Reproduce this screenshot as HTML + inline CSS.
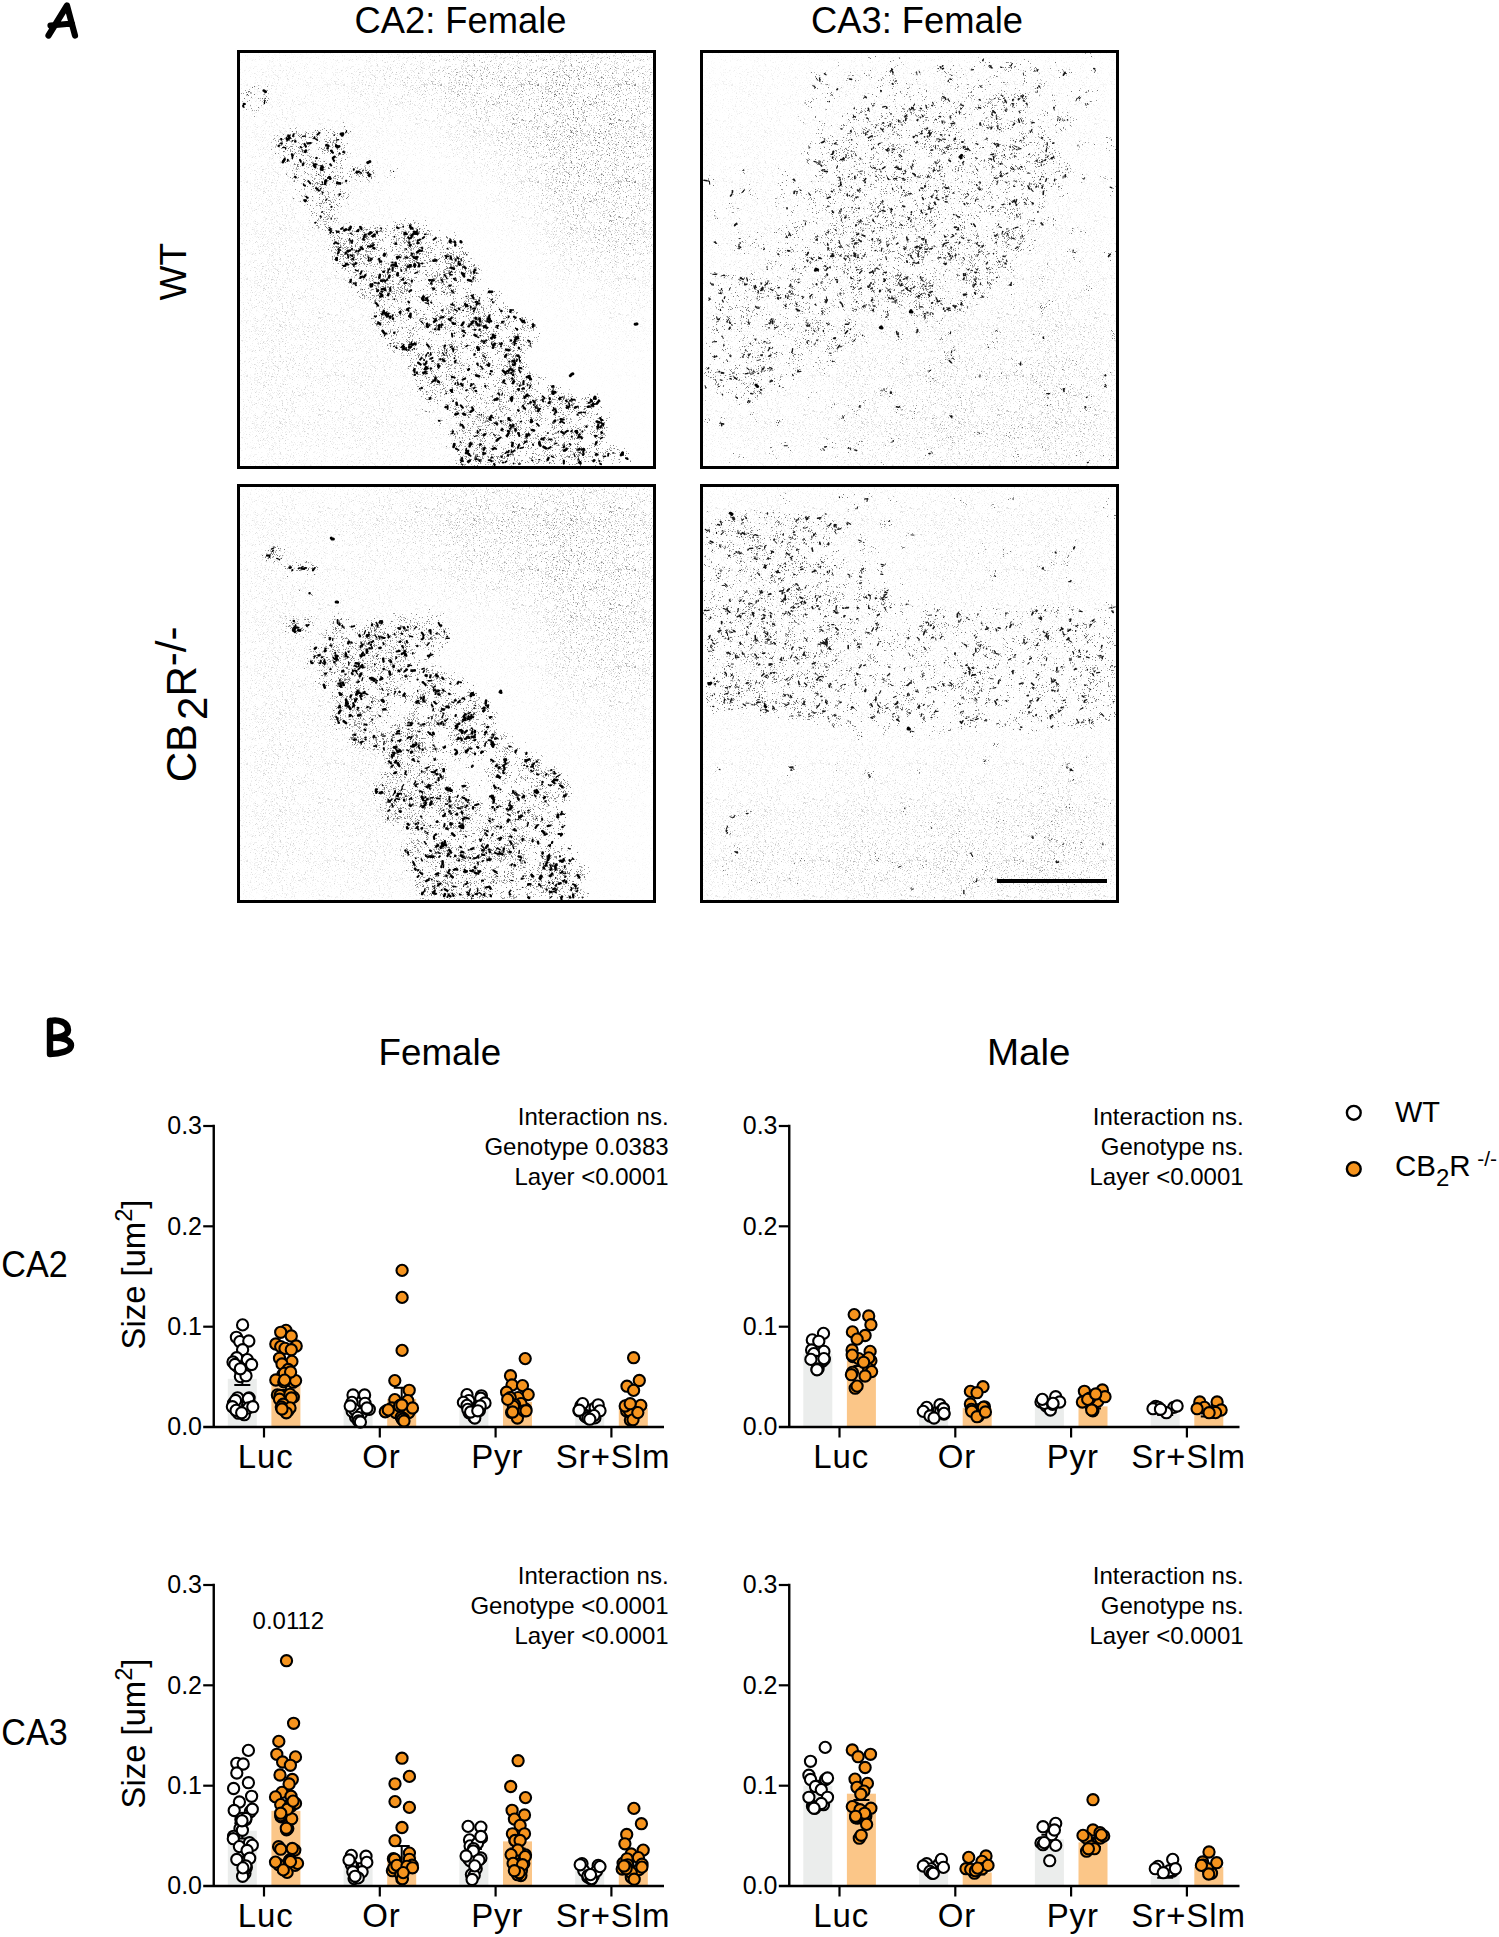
<!DOCTYPE html><html><head><meta charset="utf-8"><style>html,body{margin:0;padding:0;background:#fff;overflow:hidden;}svg{display:block;}text{font-family:"Liberation Sans", sans-serif;fill:#000;}</style></head><body>
<svg width="1499" height="1937" viewBox="0 0 1499 1937">
<rect width="1499" height="1937" fill="#fff"/>
<defs><filter id="bl" x="-10%" y="-10%" width="120%" height="120%"><feGaussianBlur stdDeviation="16"/></filter><pattern id="sp" width="97" height="97" patternUnits="userSpaceOnUse"><path d="M12.5 1.5h0m41 0h0m10 0h0m1 0h0m5 0h0m5-1h0m0 1h0m6-1h0m2 0h0m3 0h0m5 0h0m1 0h0m2 1h0m0-1h0m3 0h0m-85 5h0m7-3h0m0 3h0m2 0h0m2-3h0m3 2h0m4-2h0m8 0h0m1 0h0m1 3h0m13-3h0m1 1h0m7 0h0m2-1h0m0 2h0m2 0h0m3 0h0m2 1h0m15-3h0m2 0h0m5 0h0m2 2h0m-93 5h0m4 0h0m1-1h0m3 0h0m3-2h0m1 3h0m2-1h0m5 1h0m2 0h0m9-2h0m13-1h0m1 1h0m0 1h0m10 1h0m1 0h0m2 0h0m3-2h0m4 2h0m4-2h0m1 2h0m4-1h0m1-2h0m2 0h0m1 2h0m1 0h0m4 0h0m1-2h0m1 1h0m2 2h0m6-2h0m0 2h0m1 0h0m-93 4h0m2-3h0m3 0h0m4 2h0m6 0h0m0-1h0m1 1h0m4 1h0m2-3h0m1 3h0m2 0h0m8-3h0m7 1h0m1 1h0m7-1h0m3 0h0m3 0h0m2 1h0m13-2h0m6 1h0m4 2h0m1-1h0m1-2h0m1 2h0m11 0h0m2-1h0m1 0h0m-96 3h0m4 0h0m3 2h0m1 0h0m3-1h0m2-1h0m2 0h0m1 3h0m3 0h0m4-1h0m2 0h0m2-1h0m1 1h0m5-2h0m3 2h0m4-1h0m0-1h0m5 3h0m1-3h0m1 1h0m5 1h0m4 1h0m1-2h0m1-1h0m1 2h0m4 1h0m1-2h0m2-1h0m1 2h0m4-1h0m5 2h0m2 0h0m15-2h0m1-1h0m1 3h0m-95 3h0m2 1h0m5-1h0m4 1h0m0-3h0m7 0h0m5 1h0m2 0h0m5-1h0m3 3h0m2-3h0m3 2h0m6-1h0m9 2h0m2-2h0m0 2h0m1-3h0m6 0h0m0 2h0m1-1h0m1 1h0m1 1h0m2-3h0m5 0h0m3 3h0m2-1h0m2-2h0m2 0h0m8 0h0m1 3h0m-87 4h0m0-1h0m7-1h0m2-1h0m9 3h0m2 0h0m1-2h0m2 2h0m6-1h0m7-1h0m2 0h0m3 2h0m3-1h0m5 1h0m3-3h0m0 1h0m2-1h0m1 0h0m10 2h0m3-1h0m1 2h0m1-1h0m1 1h0m8-3h0m3 3h0m8 0h0m2-1h0m-94 4h0m2-1h0m1 1h0m2-1h0m0 1h0m1 0h0m3-2h0m7 0h0m5 3h0m0-2h0m2 1h0m8-2h0m5 0h0m9 0h0m3 3h0m10-1h0m1-1h0m5 2h0m2-2h0m2 1h0m1-2h0m1 1h0m3 1h0m2-2h0m1 0h0m0 1h0m10 0h0m7-1h0m-85 4h0m2 0h0m1 0h0m3 2h0m4-2h0m9 2h0m0-1h0m1 1h0m4 1h0m4-1h0m3 0h0m3-1h0m1 1h0m2 0h0m2 1h0m3 0h0m2-1h0m1 0h0m2 1h0m3 0h0m0-2h0m7 0h0m1 2h0m1 0h0m5-2h0m1 2h0m1 0h0m3-1h0m4 0h0m3 0h0m1 1h0m3-3h0m2 1h0m-91 5h0m1 1h0m1 0h0m0-1h0m2-2h0m1 3h0m14-2h0m2 2h0m0-2h0m1 1h0m0-2h0m10 3h0m1-1h0m4 1h0m0-1h0m2 0h0m6-2h0m12 1h0m6 2h0m1-1h0m3 1h0m10-1h0m0-1h0m5-1h0m3 0h0m3 1h0m3 0h0m1 2h0m3-3h0m1 3h0m-96 2h0m5 0h0m0 1h0m0-2h0m1 2h0m10 0h0m3-1h0m3 2h0m1-2h0m5-1h0m1 3h0m0-2h0m4 2h0m8 0h0m3 0h0m1-3h0m2 1h0m4 1h0m1-1h0m3 2h0m8-3h0m4 0h0m0 1h0m1 0h0m9-1h0m2 3h0m4-1h0m1-1h0m6 0h0m2 1h0m0-2h0m1 0h0m-87 7h0m0-2h0m1 0h0m2 2h0m4-1h0m12 0h0m1 1h0m1 0h0m1-1h0m1 1h0m3-1h0m7 1h0m1-2h0m4-1h0m4 0h0m7 2h0m4 0h0m1-2h0m5 0h0m10 2h0m3 0h0m0-2h0m3 2h0m5 1h0m0-1h0m5-1h0m2 1h0m1-2h0m-91 7h0m3-3h0m12 3h0m2-3h0m8 2h0m4-2h0m1 3h0m1-3h0m1 1h0m5 1h0m0-2h0m9 1h0m0 2h0m1 0h0m1-1h0m21-1h0m4 0h0m1-1h0m5 2h0m0 1h0m2 0h0m2-2h0m1-1h0m-85 6h0m3 0h0m1-2h0m1 3h0m4 0h0m4-3h0m12 2h0m3-2h0m0 1h0m1-1h0m5 1h0m1 2h0m7-2h0m1 1h0m1 1h0m12-3h0m5 0h0m15 2h0m6-2h0m0 2h0m2-2h0m0 1h0m1 0h0m3 2h0m1-3h0m-90 7h0m3-2h0m2-1h0m2 3h0m3-3h0m1 1h0m4 0h0m3 2h0m2 0h0m3 0h0m2-2h0m1 2h0m1-3h0m6 1h0m2-1h0m7 0h0m8 2h0m4 1h0m3-3h0m6 1h0m4 1h0m0-2h0m1 1h0m2 1h0m2-2h0m6 2h0m1-1h0m1 0h0m0 2h0m1 0h0m4-2h0m-83 6h0m3 0h0m4-1h0m5-2h0m5 3h0m2-2h0m1-1h0m1 2h0m3 1h0m9-3h0m1 1h0m8 1h0m9-2h0m2 1h0m0-1h0m6 3h0m3-3h0m1 0h0m0 2h0m1-1h0m5 1h0m4 1h0m0-1h0m5 1h0m0-2h0m5-1h0m1 0h0m0 3h0m2-1h0m2 1h0m-88 4h0m8 0h0m3-3h0m10 1h0m6-1h0m0 3h0m1 0h0m1-1h0m0-2h0m2 0h0m1 2h0m3 0h0m3 1h0m1-2h0m0 1h0m1 1h0m1-3h0m0 1h0m13 2h0m11-1h0m4-1h0m1-1h0m1 3h0m2 0h0m3 0h0m0-3h0m13 3h0m-83 3h0m4 1h0m2-3h0m2 2h0m4-2h0m9 1h0m0 2h0m4-2h0m1-1h0m4 0h0m3 1h0m5 1h0m4 1h0m5-3h0m1 1h0m0 2h0m1-3h0m8 0h0m0 3h0m4-2h0m3-1h0m4 0h0m0 1h0m1 2h0m4-3h0m2 0h0m3 2h0m1 0h0m3 1h0m1 0h0m0-3h0m-92 5h0m4 0h0m6 0h0m9 2h0m4-3h0m3 0h0m8 1h0m12 2h0m3-1h0m2 1h0m1-1h0m12 0h0m2-2h0m4 2h0m1 1h0m0-1h0m4 1h0m3-1h0m3 0h0m2 1h0m1-1h0m0-2h0m3 3h0m-82 4h0m4-3h0m9 3h0m2-1h0m8 1h0m4-2h0m9 2h0m2-1h0m13-2h0m1 0h0m7 0h0m1 1h0m1 1h0m2-1h0m1-1h0m4 3h0m3-2h0m1 1h0m1-1h0m6-1h0m1 3h0m1-3h0m2 2h0m2 1h0m2-1h0m0-1h0m1 1h0m2 1h0m1-2h0m-92 4h0m3 2h0m0-2h0m4-1h0m1 2h0m2 1h0m2-3h0m3 0h0m6 0h0m7 3h0m10-1h0m4 1h0m15-3h0m1 2h0m6 1h0m4-2h0m16 1h0m1-1h0m-83 4h0m3-1h0m3 0h0m4 3h0m0-1h0m1-1h0m9 0h0m4 2h0m2 0h0m3 0h0m3 0h0m11 0h0m1-2h0m1 1h0m5 0h0m0-1h0m1 2h0m3 0h0m0-3h0m10 3h0m1-3h0m13 0h0m12 2h0m-93 5h0m0-2h0m4-1h0m0 3h0m3-2h0m2 2h0m0-3h0m11 0h0m3 2h0m3 0h0m1 0h0m2-2h0m1 1h0m0-1h0m10 2h0m2 0h0m2-1h0m6 2h0m3-1h0m1 0h0m1 1h0m3-2h0m27-1h0m2 1h0m5-1h0m-94 5h0m8 1h0m4-1h0m0 2h0m14-3h0m1 1h0m1-1h0m3 2h0m3-1h0m5 2h0m0-1h0m7-2h0m0 3h0m13-1h0m3 0h0m7-1h0m1 0h0m2 2h0m7-1h0m2 0h0m1 1h0m6-1h0m5 0h0m-94 2h0m0 2h0m15-2h0m6 1h0m1-1h0m3 0h0m5 1h0m18 1h0m3 0h0m1 0h0m7-2h0m3 2h0m7-1h0m1 1h0m6-2h0m1 0h0m9 0h0" stroke="#ddd" stroke-width="1" stroke-linecap="square"/><path d="M6.5 1.5h0m2-1h0m2 1h0m4-1h0m2 1h0m44 0h0m5 0h0m1-1h0m7 0h0m4 1h0m15-1h0m-86 3h0m1 0h0m6 1h0m6 0h0m3-1h0m5 1h0m14-1h0m0 2h0m7-3h0m3 2h0m1 1h0m1-3h0m4 2h0m9-2h0m1 3h0m9 0h0m2-1h0m1 1h0m3-1h0m1 1h0m1-2h0m2 0h0m3 1h0m3 0h0m0-2h0m2 3h0m-94 2h0m0-1h0m1 2h0m1-2h0m0 1h0m9 0h0m0 2h0m1-3h0m1 0h0m1 0h0m1 3h0m0-2h0m11 1h0m3 0h0m3 0h0m2-2h0m1 3h0m4 0h0m2-3h0m3 0h0m5 0h0m11 3h0m15-3h0m2 1h0m5 0h0m1 2h0m-77 2h0m1 0h0m1 2h0m1 0h0m5-2h0m7 0h0m0 1h0m3-2h0m8 2h0m0-1h0m2 2h0m1 0h0m1-1h0m3 0h0m4-1h0m2 2h0m2-2h0m6 0h0m4 2h0m1-1h0m5 0h0m1 0h0m1-2h0m2 0h0m1 0h0m1 1h0m3-1h0m1 2h0m4-1h0m1-1h0m-78 5h0m2-1h0m12 2h0m8 1h0m3-2h0m4-1h0m1 1h0m6-1h0m7 1h0m17-1h0m4 0h0m2 2h0m3-2h0m1 3h0m6-2h0m3 2h0m6 0h0m3-1h0m0-2h0m-88 5h0m1 1h0m0 1h0m1-2h0m1 2h0m2-2h0m2-1h0m2 0h0m8 0h0m1 1h0m2 1h0m2-1h0m5 2h0m2-3h0m8 0h0m3 0h0m10 1h0m3-1h0m2 2h0m1 1h0m6-2h0m11 0h0m1 2h0m3-3h0m1 2h0m2-2h0m2 3h0m3-1h0m9 1h0m-90 4h0m11 0h0m3-3h0m7 3h0m0-3h0m4 0h0m3 1h0m8 1h0m0-1h0m5 1h0m1 0h0m3 0h0m2-2h0m0 1h0m1 1h0m0-1h0m3 1h0m2 1h0m2-2h0m2 2h0m8-2h0m1 0h0m0-1h0m1 2h0m5 1h0m1 0h0m1-3h0m2 0h0m0 2h0m6-2h0m4 2h0m6 1h0m-94 3h0m4-2h0m1 1h0m1 2h0m4-1h0m2 0h0m3 0h0m1 0h0m0 1h0m8 0h0m9-1h0m0 1h0m3-2h0m1-1h0m2 1h0m2 2h0m8 0h0m3-3h0m2 3h0m3-2h0m1 2h0m0-3h0m4 3h0m5-3h0m4 3h0m4-1h0m1 1h0m10-2h0m3 2h0m3-2h0m0 1h0m0 1h0m-94 3h0m5 1h0m3 0h0m3 0h0m1-2h0m0 2h0m10-2h0m4 2h0m1 0h0m3-3h0m2 0h0m3 0h0m3 3h0m3-1h0m5-1h0m1 1h0m1-2h0m1 1h0m3 1h0m1-2h0m3 0h0m6 2h0m4-2h0m4 0h0m0 1h0m5-1h0m4 0h0m1 0h0m3 2h0m2-2h0m1 0h0m9 3h0m-92 3h0m2-2h0m2 0h0m1 3h0m3-3h0m2 2h0m4 1h0m3-1h0m3-1h0m1 2h0m2-1h0m1 0h0m0-2h0m3 2h0m6-2h0m5 0h0m1 2h0m2 1h0m5 0h0m2-2h0m0 2h0m1-1h0m8-1h0m0 2h0m0-1h0m0-2h0m2 0h0m0 2h0m6-2h0m3 0h0m5 2h0m2-2h0m1 1h0m2 2h0m10-3h0m5 2h0m-95 5h0m6-1h0m4-2h0m2 0h0m0 3h0m2-2h0m3 0h0m4-1h0m1 3h0m3-2h0m6 0h0m1-1h0m3 2h0m2 0h0m3 0h0m1-1h0m1 1h0m1 0h0m3 0h0m1-1h0m1 2h0m10-2h0m1 1h0m1-1h0m4 1h0m5 1h0m5 0h0m1-3h0m1 1h0m3 1h0m4-2h0m2 2h0m4 0h0m3 1h0m2-1h0m1 1h0m-96 2h0m0-1h0m1 1h0m4 1h0m2-2h0m1 3h0m0-1h0m4-2h0m9 1h0m0-1h0m1 3h0m2-3h0m2 1h0m3 0h0m4 1h0m4-1h0m8 1h0m2-2h0m2 2h0m1 1h0m6-1h0m2-1h0m3-1h0m1 1h0m4 0h0m1-1h0m2 0h0m3 0h0m1 1h0m1-1h0m2 3h0m1-1h0m0-1h0m2 1h0m9-2h0m4 1h0m-92 4h0m0-1h0m2 0h0m1 0h0m2 2h0m3-2h0m1 0h0m0 2h0m4-2h0m8 0h0m1 1h0m2 1h0m1-1h0m6-1h0m5 1h0m3 2h0m2-2h0m1 2h0m1 0h0m1-3h0m1 0h0m6 3h0m4-1h0m1-1h0m2-1h0m1 3h0m8 0h0m0-2h0m1 1h0m5-1h0m0-1h0m1 2h0m0-1h0m4 1h0m2-2h0m1 2h0m7 0h0m3-2h0m5 2h0m-77 5h0m0-3h0m1 0h0m4 3h0m1-1h0m8-1h0m2-1h0m4 0h0m2 3h0m1-3h0m8 3h0m3-3h0m10 2h0m1-1h0m2-1h0m4 2h0m0-2h0m5 0h0m5 2h0m9-2h0m4 1h0m1 0h0m-94 3h0m0 3h0m1-3h0m1 3h0m2-1h0m4 0h0m2-2h0m0 2h0m0 1h0m1-1h0m0-1h0m1 1h0m3-2h0m0 3h0m2-3h0m5 2h0m9 0h0m2 0h0m9-2h0m0 1h0m4 1h0m2 0h0m8-2h0m3 3h0m1-2h0m2 0h0m5 2h0m1-2h0m4 0h0m3-1h0m3 1h0m3-1h0m0 2h0m1-1h0m3 0h0m4 0h0m6 2h0m0-2h0m-94 4h0m7 0h0m3 1h0m3-2h0m4 3h0m15-3h0m0 2h0m6-1h0m6 2h0m1-2h0m7 0h0m0-1h0m2 1h0m2 1h0m0-2h0m1 1h0m2 1h0m1 1h0m6-3h0m3 1h0m1 1h0m4 1h0m2 0h0m2-1h0m4-1h0m2 2h0m-85 4h0m4-1h0m7-1h0m3 1h0m0 1h0m9-1h0m0-1h0m2 2h0m1-1h0m2 0h0m4-1h0m4 2h0m4-3h0m8 0h0m9 1h0m7 1h0m3 0h0m6 1h0m4-3h0m2 1h0m2 2h0m4 0h0m-85 1h0m5 0h0m3 1h0m2 0h0m7 0h0m6 1h0m4 1h0m2-3h0m3 3h0m0-3h0m2 2h0m1 0h0m3 1h0m2-1h0m1-1h0m3 2h0m8-2h0m0-1h0m2 2h0m1-1h0m1 1h0m0-1h0m4-1h0m0 1h0m3 2h0m5-1h0m1 1h0m4-2h0m2 1h0m5-2h0m4 2h0m3-2h0m2 2h0m2-2h0m5 1h0m-85 6h0m1-1h0m1-1h0m2-1h0m1 0h0m2 0h0m1 2h0m3-2h0m1 2h0m1-2h0m2 2h0m4 0h0m1 1h0m1-2h0m1-1h0m1 0h0m0 3h0m0-1h0m2 1h0m6 0h0m2-3h0m1 2h0m5-1h0m7 1h0m1 1h0m13-2h0m24 0h0m-94 3h0m1 1h0m3-1h0m5 2h0m2-1h0m1 1h0m1-1h0m11 2h0m2 0h0m2-2h0m1 1h0m3 1h0m9-2h0m3 2h0m2-2h0m2 1h0m10 0h0m4-1h0m4 0h0m5 2h0m3-1h0m0 1h0m2-2h0m0 2h0m2-3h0m4 1h0m1 0h0m8-1h0m-86 6h0m3-2h0m2 1h0m1 2h0m11-1h0m7-2h0m1 0h0m1 0h0m1 3h0m1-1h0m1-2h0m4 1h0m7-1h0m5 2h0m1 0h0m0-2h0m9 2h0m1-1h0m4 1h0m1-1h0m3 1h0m10 1h0m6-3h0m3 3h0m-89 4h0m1-3h0m7 2h0m3 1h0m3-1h0m1-2h0m4 1h0m4 2h0m2 0h0m3 0h0m3-3h0m4 2h0m3-1h0m0 1h0m1 1h0m1-3h0m1 1h0m1 1h0m2 0h0m9-1h0m8-1h0m0 1h0m2 1h0m3-2h0m2 0h0m3 1h0m1-1h0m6 0h0m2 0h0m1 1h0m1 2h0m10-1h0m1 1h0m0-2h0m2 1h0m-86 2h0m5 3h0m1-2h0m2 0h0m1 1h0m1-2h0m3 3h0m0-2h0m3 0h0m3 2h0m1-2h0m12 2h0m4-3h0m5 0h0m5 0h0m1 0h0m0 1h0m2-1h0m2 2h0m1 1h0m0-3h0m1 3h0m1-3h0m8 0h0m1 3h0m1 0h0m1-1h0m3-2h0m9 0h0m2 3h0m0-1h0m2-2h0m0 2h0m2 1h0m3-2h0m-75 3h0m1 0h0m1 3h0m4-2h0m6 0h0m1-1h0m2 3h0m9-3h0m2 3h0m3-3h0m0 3h0m4-1h0m0-2h0m3 0h0m5 3h0m1 0h0m1-3h0m1 1h0m2 1h0m0 1h0m1-1h0m2 0h0m1 1h0m11-2h0m7 2h0m0-1h0m2-2h0m6 2h0m-90 4h0m1 0h0m1-2h0m6 1h0m2 0h0m4-1h0m1 2h0m2 0h0m2 0h0m11-2h0m1 0h0m8 0h0m8 2h0m21-2h0m4 0h0m0 2h0m4-2h0m2 1h0m0-1h0m3 1h0m0 1h0m2 0h0" stroke="#bbb" stroke-width="1" stroke-linecap="square"/><path d="M29.5 .5h0m3 1h0m3-1h0m1 0h0m10 1h0m10 0h0m5-1h0m15 0h0m7 0h0m-82 4h0m0-2h0m1 3h0m6-1h0m2-2h0m1 2h0m1 1h0m4 0h0m1-3h0m3 2h0m11-2h0m4 2h0m2 0h0m0-1h0m7 0h0m5 1h0m2-2h0m6 3h0m5-2h0m3 1h0m3-2h0m6 3h0m3-3h0m3 2h0m3-2h0m2 0h0m3 2h0m0 1h0m-85 4h0m1-2h0m5-1h0m0 1h0m1 1h0m7 0h0m4-1h0m1 0h0m0-1h0m2 0h0m2 1h0m1 1h0m4-2h0m2 3h0m1-1h0m4 1h0m5-1h0m3 1h0m7-1h0m3-1h0m0 1h0m8-2h0m3 3h0m6-3h0m2 2h0m1-1h0m8-1h0m2 2h0m1-1h0m-85 6h0m12-3h0m2 3h0m3-3h0m5 2h0m6-2h0m1 1h0m8 2h0m10-2h0m19 2h0m5-2h0m2 2h0m2-3h0m8 3h0m2-1h0m1 0h0m0 1h0m-87 3h0m0-1h0m1 0h0m3-1h0m13 0h0m3 3h0m3-1h0m3 1h0m5 0h0m1-2h0m17 1h0m0 1h0m5-3h0m2 0h0m1 3h0m0-1h0m3-1h0m10 2h0m4-1h0m6 0h0m12 0h0m0-2h0m3 3h0m-95 1h0m11 2h0m2-2h0m1 2h0m5 1h0m1-2h0m1 2h0m4-3h0m1 2h0m5 1h0m1-1h0m16-2h0m0 3h0m8-2h0m12-1h0m3 1h0m3 0h0m7 0h0m0-1h0m8 2h0m1 0h0m2 0h0m-93 4h0m0-1h0m1 0h0m2-1h0m14 2h0m4-1h0m1 0h0m9-1h0m5 1h0m0-1h0m1 1h0m8 0h0m1 0h0m5 2h0m20 0h0m6-2h0m3 0h0m4-1h0m3 1h0m-85 4h0m7 1h0m10 0h0m8-2h0m2 0h0m1 0h0m1 0h0m0 2h0m2 1h0m6-1h0m2 1h0m2-3h0m4 3h0m1-2h0m1-1h0m1 3h0m3 0h0m1 0h0m7 0h0m2-1h0m4 1h0m1-1h0m3-2h0m6 3h0m3-1h0m2-2h0m0 1h0m1 1h0m0-1h0m2 2h0m6-2h0m4 1h0m-86 3h0m2 1h0m13 0h0m5-2h0m4 1h0m10 2h0m4-3h0m5 0h0m6 3h0m3-1h0m1-2h0m10 3h0m7-1h0m2 1h0m6 0h0m1-3h0m2 1h0m1 2h0m5 0h0m-96 1h0m1 2h0m6-1h0m4 0h0m2 0h0m1 0h0m3 1h0m2 0h0m7-2h0m1 3h0m1 0h0m5-2h0m1 1h0m2 0h0m8 0h0m5-2h0m10 1h0m3 2h0m1-1h0m3 1h0m1-2h0m4 2h0m0-1h0m3-2h0m5 0h0m6 1h0m2 0h0m3 1h0m0-2h0m1 3h0m4-2h0m-93 4h0m1-1h0m1 1h0m3-1h0m16 2h0m1-2h0m10 3h0m1-3h0m4 0h0m1 2h0m11-1h0m1 1h0m2-2h0m1 2h0m0-2h0m6 0h0m0 2h0m1-1h0m2 0h0m2 1h0m4 0h0m1 0h0m8-2h0m2 3h0m2-3h0m1 2h0m3 1h0m0-2h0m1-1h0m3 0h0m5 0h0m-85 5h0m3 0h0m3 2h0m13-2h0m13 0h0m0-1h0m1 3h0m7-2h0m12-1h0m2 3h0m4-2h0m2 0h0m3 2h0m8 0h0m0-1h0m6 0h0m3 0h0m4 0h0m0-1h0m-91 4h0m0 1h0m6 0h0m2 0h0m5 1h0m0-3h0m10 1h0m3 0h0m3 0h0m1 0h0m0 1h0m10 1h0m5-3h0m14 2h0m15 1h0m6-1h0m5 0h0m3 1h0m-92 4h0m15 0h0m5 0h0m1-2h0m5-1h0m3 2h0m3-1h0m3 1h0m6-1h0m7-1h0m2 1h0m2-1h0m6 2h0m6 1h0m0-1h0m4 0h0m1-2h0m2 2h0m1-2h0m1 2h0m1 1h0m3-2h0m8 1h0m0-2h0m-83 6h0m1-2h0m3 3h0m10 0h0m4 0h0m4-3h0m3 2h0m4-1h0m1 0h0m6 2h0m2-2h0m1 1h0m3 0h0m9-1h0m0 1h0m18-1h0m3 1h0m3 1h0m1 0h0m2-3h0m5 3h0m-79 3h0m4-2h0m8 0h0m1 2h0m0-2h0m10 3h0m3 0h0m3-3h0m9 2h0m7 1h0m0-1h0m8-1h0m19 0h0m5 1h0m2-1h0m8-1h0m3 3h0m-94 3h0m5 1h0m2-2h0m6 0h0m3-1h0m4 2h0m12-1h0m1-1h0m10 3h0m2-3h0m28 0h0m0 2h0m5 1h0m5-2h0m8-1h0m3 0h0m-95 7h0m1-1h0m1 1h0m12-2h0m21 1h0m5-2h0m20 0h0m1 0h0m11 2h0m1 1h0m0-3h0m3 2h0m1 0h0m1-2h0m7 0h0m7 0h0m1 1h0m2 2h0m-94 1h0m1 3h0m12-1h0m1-1h0m9 0h0m16 1h0m3 0h0m2 0h0m2 0h0m3-2h0m3 1h0m7 2h0m2-2h0m2 0h0m7 0h0m2 0h0m3-1h0m1 1h0m7-1h0m3 1h0m0 1h0m4 1h0m2 0h0m1-1h0m-93 4h0m5-2h0m1 0h0m5 3h0m6-1h0m1 1h0m1-3h0m2 1h0m3 0h0m4 2h0m12-3h0m2 0h0m0 1h0m7-1h0m11 0h0m3 3h0m6-1h0m3-1h0m0-1h0m6 0h0m1 1h0m0-1h0m1 1h0m4 2h0m5-1h0m-90 2h0m8 1h0m8-1h0m2 2h0m9 0h0m4 0h0m5 0h0m3 0h0m0-2h0m4 3h0m1 0h0m5 0h0m17-1h0m0-2h0m8 3h0m5-2h0m4 1h0m9-1h0m1 2h0m-92 2h0m1-1h0m4 1h0m5 1h0m5 1h0m0-1h0m2-2h0m4 0h0m1 3h0m3-3h0m6 2h0m1 0h0m1-2h0m1 1h0m0 1h0m0 1h0m1-1h0m2 0h0m5-2h0m1 2h0m1 0h0m3-1h0m1 2h0m1-3h0m1 2h0m8-1h0m5 2h0m1 0h0m2-2h0m2-1h0m4 3h0m1-3h0m3 1h0m1 2h0m6 0h0m3-1h0m5 0h0m2 1h0m-94 1h0m17 0h0m4 0h0m5 2h0m4 1h0m7-1h0m0-1h0m6 2h0m8-1h0m8-1h0m0 2h0m2-3h0m1 3h0m3-1h0m1-1h0m0-1h0m8 3h0m5-3h0m1 3h0m1 0h0m0-3h0m0 2h0m9-2h0m0 2h0m5-1h0m-90 6h0m10-2h0m11 1h0m2-1h0m0 2h0m7-3h0m3 0h0m9 2h0m7-1h0m2 1h0m3-1h0m3 0h0m6 0h0m1-1h0m6 1h0m1 2h0m4-1h0m5 0h0m3-2h0m4 3h0m-91 2h0m14-1h0m3 0h0m0 1h0m12-1h0m2 1h0m5 1h0m3-2h0m2 1h0m20-1h0m32 2h0" stroke="#999" stroke-width="1" stroke-linecap="square"/><path d="M5.5 .5h0m8 1h0m45 0h0m-57 2h0m2 1h0m11 1h0m8-1h0m22-2h0m17 2h0m11 0h0m3-2h0m10 3h0m-78 2h0m1 0h0m48 2h0m6-1h0m16 1h0m7 0h0m5-2h0m-47 3h0m6 3h0m5-1h0m11-1h0m6 1h0m21-1h0m4 1h0m0-2h0m-65 7h0m29-1h0m2-1h0m6 1h0m6 1h0m14 0h0m0-2h0m-84 4h0m24 2h0m21-1h0m3-2h0m31 3h0m5-1h0m4 1h0m-89 2h0m25-1h0m6 3h0m3-3h0m1 1h0m6 1h0m28 0h0m6 1h0m13-1h0m1-2h0m-65 5h0m1-1h0m1 1h0m32 0h0m14 2h0m-58 3h0m24-2h0m11 1h0m11-1h0m6 3h0m16 0h0m4-2h0m6 0h0m-89 6h0m10-1h0m2-2h0m5 0h0m35 1h0m11 2h0m6 0h0m11-3h0m0 1h0m2 1h0m4-2h0m-80 6h0m5 0h0m4 1h0m8-1h0m28 0h0m11 0h0m14-1h0m3 0h0m-72 4h0m3 2h0m20 0h0m10-1h0m18-1h0m4 1h0m16-2h0m-69 6h0m11-2h0m21 3h0m1 0h0m4-3h0m3 0h0m6 2h0m1-1h0m11 2h0m4 0h0m10-2h0m5-1h0m-78 6h0m13-1h0m6 2h0m6 0h0m27-1h0m3-1h0m10-1h0m6 3h0m3-3h0m3 2h0m-82 2h0m16 3h0m26-2h0m14 1h0m4 1h0m22-2h0m-86 6h0m22-3h0m15 1h0m4 1h0m12 0h0m3-1h0m4 0h0m10 1h0m3 1h0m1-3h0m12 2h0m-75 4h0m70 0h0m0 1h0m8-3h0m-92 5h0m11 1h0m0-2h0m15 2h0m5-1h0m13 2h0m13-1h0m8 1h0m29-1h0m-92 4h0m4 0h0m22 1h0m20-3h0m5 0h0m5 3h0m8-1h0m1 0h0m10 0h0m2-2h0m5 0h0m3 0h0m3 0h0m-91 6h0m18 1h0m37-1h0m5 1h0m7-3h0m4 2h0m11 0h0m1 1h0m9-2h0m-86 3h0m7 2h0m7-2h0m22 3h0m4-2h0m24 1h0m8-2h0m5 1h0m9-1h0m1 1h0m-89 6h0m10 0h0m1-3h0m28 1h0m3 1h0m5 1h0m1-1h0m0 1h0m10-3h0m8 2h0m3 0h0m3 1h0m1 0h0m5-2h0m-82 5h0m23 1h0m7-2h0m5-1h0m11 2h0m17 0h0m13 0h0m-57 4h0m17-1h0m20 2h0m8-2h0m7 0h0m2 2h0m15 0h0m2 0h0m-77 3h0m20-2h0m23 2h0m12 0h0m0-2h0m1 0h0m1 1h0m15 0h0" stroke="#444" stroke-width="1" stroke-linecap="square"/></pattern></defs>
<clipPath id="cp0"><rect x="240" y="53" width="413" height="413"/></clipPath>
<g clip-path="url(#cp0)">
<mask id="mk0" maskUnits="userSpaceOnUse" x="237" y="50" width="419" height="419"><g filter="url(#bl)"><rect x="239.0" y="52.0" width="53.6" height="53.6" fill="#fff" fill-opacity="0.15"/><rect x="290.6" y="52.0" width="53.6" height="53.6" fill="#fff" fill-opacity="0.14"/><rect x="342.2" y="52.0" width="53.6" height="53.6" fill="#fff" fill-opacity="0.22"/><rect x="393.9" y="52.0" width="53.6" height="53.6" fill="#fff" fill-opacity="0.40"/><rect x="445.5" y="52.0" width="53.6" height="53.6" fill="#fff" fill-opacity="0.55"/><rect x="497.1" y="52.0" width="53.6" height="53.6" fill="#fff" fill-opacity="0.65"/><rect x="548.8" y="52.0" width="53.6" height="53.6" fill="#fff" fill-opacity="0.70"/><rect x="600.4" y="52.0" width="53.6" height="53.6" fill="#fff" fill-opacity="0.70"/><rect x="239.0" y="103.6" width="53.6" height="53.6" fill="#fff" fill-opacity="0.15"/><rect x="290.6" y="103.6" width="53.6" height="53.6" fill="#fff" fill-opacity="0.12"/><rect x="342.2" y="103.6" width="53.6" height="53.6" fill="#fff" fill-opacity="0.10"/><rect x="393.9" y="103.6" width="53.6" height="53.6" fill="#fff" fill-opacity="0.12"/><rect x="445.5" y="103.6" width="53.6" height="53.6" fill="#fff" fill-opacity="0.28"/><rect x="497.1" y="103.6" width="53.6" height="53.6" fill="#fff" fill-opacity="0.55"/><rect x="548.8" y="103.6" width="53.6" height="53.6" fill="#fff" fill-opacity="0.70"/><rect x="600.4" y="103.6" width="53.6" height="53.6" fill="#fff" fill-opacity="0.75"/><rect x="239.0" y="155.2" width="53.6" height="53.6" fill="#fff" fill-opacity="0.18"/><rect x="290.6" y="155.2" width="53.6" height="53.6" fill="#fff" fill-opacity="0.15"/><rect x="342.2" y="155.2" width="53.6" height="53.6" fill="#fff" fill-opacity="0.12"/><rect x="393.9" y="155.2" width="53.6" height="53.6" fill="#fff" fill-opacity="0.05"/><rect x="445.5" y="155.2" width="53.6" height="53.6" fill="#fff" fill-opacity="0.06"/><rect x="497.1" y="155.2" width="53.6" height="53.6" fill="#fff" fill-opacity="0.30"/><rect x="548.8" y="155.2" width="53.6" height="53.6" fill="#fff" fill-opacity="0.60"/><rect x="600.4" y="155.2" width="53.6" height="53.6" fill="#fff" fill-opacity="0.70"/><rect x="239.0" y="206.9" width="53.6" height="53.6" fill="#fff" fill-opacity="0.20"/><rect x="290.6" y="206.9" width="53.6" height="53.6" fill="#fff" fill-opacity="0.18"/><rect x="342.2" y="206.9" width="53.6" height="53.6" fill="#fff" fill-opacity="0.12"/><rect x="393.9" y="206.9" width="53.6" height="53.6" fill="#fff" fill-opacity="0.08"/><rect x="445.5" y="206.9" width="53.6" height="53.6" fill="#fff" fill-opacity="0.04"/><rect x="497.1" y="206.9" width="53.6" height="53.6" fill="#fff" fill-opacity="0.10"/><rect x="548.8" y="206.9" width="53.6" height="53.6" fill="#fff" fill-opacity="0.40"/><rect x="600.4" y="206.9" width="53.6" height="53.6" fill="#fff" fill-opacity="0.60"/><rect x="239.0" y="258.5" width="53.6" height="53.6" fill="#fff" fill-opacity="0.22"/><rect x="290.6" y="258.5" width="53.6" height="53.6" fill="#fff" fill-opacity="0.20"/><rect x="342.2" y="258.5" width="53.6" height="53.6" fill="#fff" fill-opacity="0.15"/><rect x="393.9" y="258.5" width="53.6" height="53.6" fill="#fff" fill-opacity="0.12"/><rect x="445.5" y="258.5" width="53.6" height="53.6" fill="#fff" fill-opacity="0.06"/><rect x="497.1" y="258.5" width="53.6" height="53.6" fill="#fff" fill-opacity="0.03"/><rect x="548.8" y="258.5" width="53.6" height="53.6" fill="#fff" fill-opacity="0.12"/><rect x="600.4" y="258.5" width="53.6" height="53.6" fill="#fff" fill-opacity="0.25"/><rect x="239.0" y="310.1" width="53.6" height="53.6" fill="#fff" fill-opacity="0.22"/><rect x="290.6" y="310.1" width="53.6" height="53.6" fill="#fff" fill-opacity="0.22"/><rect x="342.2" y="310.1" width="53.6" height="53.6" fill="#fff" fill-opacity="0.18"/><rect x="393.9" y="310.1" width="53.6" height="53.6" fill="#fff" fill-opacity="0.12"/><rect x="445.5" y="310.1" width="53.6" height="53.6" fill="#fff" fill-opacity="0.10"/><rect x="497.1" y="310.1" width="53.6" height="53.6" fill="#fff" fill-opacity="0.03"/><rect x="548.8" y="310.1" width="53.6" height="53.6" fill="#fff" fill-opacity="0.03"/><rect x="600.4" y="310.1" width="53.6" height="53.6" fill="#fff" fill-opacity="0.10"/><rect x="239.0" y="361.8" width="53.6" height="53.6" fill="#fff" fill-opacity="0.22"/><rect x="290.6" y="361.8" width="53.6" height="53.6" fill="#fff" fill-opacity="0.22"/><rect x="342.2" y="361.8" width="53.6" height="53.6" fill="#fff" fill-opacity="0.20"/><rect x="393.9" y="361.8" width="53.6" height="53.6" fill="#fff" fill-opacity="0.15"/><rect x="445.5" y="361.8" width="53.6" height="53.6" fill="#fff" fill-opacity="0.12"/><rect x="497.1" y="361.8" width="53.6" height="53.6" fill="#fff" fill-opacity="0.08"/><rect x="548.8" y="361.8" width="53.6" height="53.6" fill="#fff" fill-opacity="0.03"/><rect x="600.4" y="361.8" width="53.6" height="53.6" fill="#fff" fill-opacity="0.03"/><rect x="239.0" y="413.4" width="53.6" height="53.6" fill="#fff" fill-opacity="0.20"/><rect x="290.6" y="413.4" width="53.6" height="53.6" fill="#fff" fill-opacity="0.20"/><rect x="342.2" y="413.4" width="53.6" height="53.6" fill="#fff" fill-opacity="0.20"/><rect x="393.9" y="413.4" width="53.6" height="53.6" fill="#fff" fill-opacity="0.18"/><rect x="445.5" y="413.4" width="53.6" height="53.6" fill="#fff" fill-opacity="0.15"/><rect x="497.1" y="413.4" width="53.6" height="53.6" fill="#fff" fill-opacity="0.12"/><rect x="548.8" y="413.4" width="53.6" height="53.6" fill="#fff" fill-opacity="0.05"/><rect x="600.4" y="413.4" width="53.6" height="53.6" fill="#fff" fill-opacity="0.03"/></g></mask><rect x="240" y="53" width="413" height="413" fill="url(#sp)" mask="url(#mk0)"/>
<path d="M258.5 85.5h0m-9 4h0m-1 3h0m2 1h0m1-1h0m0 1h0m13-1h0m0 1h0m2-3h0m2 3h0m-22 2h0m17-1h0m-21 7h0m18-1h0m0-2h0m2 3h0m1-1h0m2-2h0m-4 7h0m2-3h0m0 2h0m-9 6h0m4 0h0m38 17h0m49 2h0m-50 4h0m1 0h0m2 0h0m7-2h0m7 1h0m1 0h0m3 0h0m4-2h0m27 2h0m-73 3h0m13-1h0m0 2h0m2-1h0m4 2h0m6-3h0m1 3h0m10 0h0m1 0h0m8-2h0m9 2h0m7-3h0m2 1h0m5 0h0m-64 5h0m3-2h0m0 3h0m6 0h0m1-2h0m0 1h0m2 1h0m3-1h0m2-2h0m0 1h0m7 1h0m3-1h0m11 0h0m1 0h0m0-1h0m9 1h0m4 0h0m0-1h0m5 2h0m-64 2h0m5 3h0m0-1h0m2 0h0m1-1h0m2-1h0m4 3h0m6-3h0m1 2h0m1 0h0m6-1h0m3 0h0m4 0h0m1 1h0m2 1h0m3-3h0m15 1h0m5 0h0m0-1h0m2 1h0m2 2h0m0-1h0m3 1h0m0 0h0m3-1h0m-67 2h0m0 1h0m4-1h0m0 1h0m0-1h0m6 3h0m1-3h0m1 0h0m5 2h0m16 1h0m0-3h0m18 0h0m1 0h0m1 3h0m2-3h0m3 0h0m6 3h0m2-1h0m2 0h0m-52 5h0m5 0h0m2 0h0m0-3h0m1 0h0m0 3h0m3-1h0m2-1h0m4-1h0m1 3h0m13 0h0m5-3h0m1 0h0m4 2h0m13-1h0m0 0h0m2 1h0m3 1h0m-70 4h0m13 0h0m1-3h0m8 1h0m5 0h0m1 0h0m28-1h0m2 0h0m5 0h0m3 0h0m1 3h0m-65 3h0m1 0h0m1 0h0m4 0h0m1 0h0m3-1h0m9 1h0m0 0h0m2-1h0m2-1h0m4 2h0m2-1h0m1 2h0m0 0h0m6-1h0m5 1h0m10 0h0m3-1h0m0 0h0m5-2h0m-43 4h0m3 1h0m4-1h0m4 3h0m1-1h0m4 0h0m11-1h0m9-1h0m3 1h0m23 1h0m5 1h0m1-3h0m6 3h0m-79 3h0m3-1h0m0 2h0m2-1h0m2-2h0m4 2h0m2-2h0m8 3h0m2-3h0m3 3h0m5-2h0m1-1h0m0 3h0m5-3h0m3 1h0m1 0h0m6 1h0m10 0h0m4 1h0m0-1h0m7 0h0m2 1h0m1-3h0m1 3h0m2 0h0m2-3h0m-83 7h0m18 0h0m12-2h0m4 0h0m0 2h0m3-2h0m8 1h0m6-1h0m12 0h0m7-1h0m2 2h0m2 1h0m3-1h0m5-1h0m0 2h0m0-1h0m1 1h0m21-2h0m1 1h0m-90 3h0m10 1h0m0-2h0m4 1h0m4 0h0m1 0h0m10 2h0m8-2h0m0 2h0m4 0h0m9-1h0m7-2h0m0 1h0m4-1h0m4 3h0m3-3h0m0 1h0m1 1h0m1-2h0m0 2h0m3 0h0m13 1h0m3-2h0m-97 6h0m4-3h0m0 2h0m8 0h0m2 1h0m7-3h0m1 0h0m4 1h0m0 0h0m4 0h0m0 0h0m2 0h0m2 1h0m4-2h0m2 0h0m1 0h0m7 0h0m0 0h0m14 1h0m1 1h0m13 1h0m-68 2h0m8 0h0m3 1h0m2 0h0m5-1h0m10 1h0m5-1h0m12 0h0m32-1h0m-77 7h0m3-1h0m9-2h0m3 0h0m1 2h0m8-1h0m10 0h0m-21 3h0m1 1h0m2 1h0m3-2h0m0 3h0m3-3h0m5 3h0m2-1h0m12-1h0m8 1h0m-48 4h0m2-1h0m0 1h0m1-2h0m19 1h0m5 2h0m4 0h0m1-2h0m3-1h0m5 3h0m1-1h0m0-1h0m-40 4h0m1 2h0m1-2h0m17 1h0m8 0h0m2-1h0m1 2h0m1-2h0m2-1h0m7 1h0m-39 6h0m13 0h0m3 0h0m1-2h0m1-1h0m26 2h0m-39 5h0m11-1h0m6-1h0m0 2h0m3 0h0m1-2h0m7 2h0m1-3h0m-17 5h0m3 2h0m0-2h0m0 0h0m10-1h0m4 2h0m-18 4h0m4 1h0m7 0h0m-22 3h0m9-2h0m5 3h0m1 0h0m2-2h0m0 2h0m1-3h0m7 1h0m59 2h0m7-1h0m-85 3h0m11 0h0m9-1h0m3 0h0m8 1h0m16 1h0m17 1h0m24 0h0m0-1h0m12-2h0m-97 6h0m1-1h0m10 0h0m1-1h0m21 0h0m0 1h0m3-1h0m7 2h0m2 0h0m1 1h0m1 0h0m10-2h0m4 1h0m20 0h0m2-1h0m2 2h0m5-2h0m2 2h0m2 0h0m3-1h0m2-1h0m3 1h0m2 1h0m-93 3h0m2-1h0m1-1h0m9 3h0m1-2h0m4-1h0m1 3h0m1 0h0m0-3h0m1 3h0m0-2h0m10-1h0m0 0h0m1 1h0m2 0h0m2 1h0m2-2h0m10 2h0m5-1h0m0 0h0m1 1h0m0-1h0m0 1h0m1-2h0m3 1h0m7 1h0m4-2h0m1 2h0m1 0h0m2 0h0m0-1h0m2 2h0m0-2h0m2-1h0m1 1h0m3 0h0m6 0h0m2 1h0m0 0h0m1 1h0m0-2h0m1 1h0m0 1h0m7 0h0m0-1h0m2 1h0m3-3h0m-101 5h0m1-1h0m1 2h0m5-1h0m14 1h0m3-2h0m8 2h0m2-1h0m1 1h0m2-1h0m0 0h0m3 1h0m2-2h0m20 2h0m4 0h0m1-2h0m1 1h0m4 2h0m0 0h0m3-2h0m2 2h0m1-2h0m0 0h0m1-1h0m0 1h0m1-1h0m3 3h0m1 0h0m3-2h0m9 1h0m4-2h0m0 1h0m2 0h0m3 1h0m3 1h0m2 0h0m-106 3h0m4 1h0m1-3h0m0 0h0m1 2h0m1-1h0m1-1h0m5 0h0m5 1h0m1 2h0m7-3h0m1 1h0m2-1h0m2 3h0m3-2h0m1 0h0m14 2h0m8-2h0m2 0h0m1 2h0m0 0h0m2-2h0m2-1h0m0 1h0m0 1h0m4 0h0m6 1h0m5-3h0m2 1h0m0 1h0m11-2h0m10 3h0m13-2h0m0 1h0m1 0h0m4-2h0m-125 7h0m4-1h0m2-2h0m2 0h0m3 2h0m4-1h0m1 0h0m4 0h0m0 1h0m0 0h0m1-1h0m5 1h0m2 0h0m5 1h0m10-1h0m0-1h0m1-1h0m1 3h0m3-3h0m13 2h0m4-1h0m0 1h0m0-2h0m0 1h0m5 1h0m2-1h0m0 2h0m3-3h0m3 0h0m2 0h0m1 3h0m0 0h0m2-2h0m2 1h0m1 1h0m6-2h0m7 2h0m8 0h0m5-3h0m0 0h0m6 0h0m4 0h0m12 2h0m-127 2h0m0 1h0m1-1h0m5 2h0m0-1h0m4-1h0m1 2h0m0 1h0m0 0h0m4 0h0m1-3h0m1 3h0m3 0h0m3-1h0m0-2h0m0 0h0m1 1h0m0 1h0m0-1h0m2-1h0m0 2h0m5-2h0m1 0h0m8 1h0m5 0h0m0 0h0m5 2h0m10-3h0m3 1h0m7 1h0m3-2h0m0 2h0m1 1h0m0-3h0m0 0h0m1 3h0m2 0h0m1-2h0m2 0h0m1-1h0m5 0h0m6 1h0m1 0h0m8 0h0m3 2h0m2-2h0m0-1h0m7 1h0m1 1h0m1 0h0m1-2h0m9 1h0m-130 4h0m4 1h0m0 1h0m2-2h0m1 0h0m0 2h0m0-1h0m0 0h0m1-2h0m2 0h0m3 2h0m0 0h0m1 0h0m1-2h0m1 0h0m1 2h0m0-1h0m4 1h0m0 1h0m1-3h0m2 2h0m1 1h0m1-1h0m2 1h0m6-2h0m1 1h0m1-1h0m2 0h0m5 0h0m2 2h0m3-3h0m20 1h0m3 1h0m0-2h0m3 0h0m2 0h0m1 1h0m2-1h0m1 0h0m6 3h0m1 0h0m4 0h0m2-2h0m17 1h0m11-2h0m1 1h0m6 1h0m-127 5h0m2-2h0m0 1h0m2 1h0m1-3h0m3 0h0m6 0h0m1 1h0m2 1h0m1-2h0m1 1h0m1 1h0m2 1h0m0-3h0m3 1h0m8 2h0m2-2h0m3 2h0m0 0h0m2 0h0m14 0h0m1-2h0m0-1h0m7 1h0m1-1h0m1 0h0m1 3h0m0-3h0m1 2h0m0 1h0m1-1h0m2 0h0m0 0h0m0 0h0m3 1h0m0-3h0m3 3h0m3-3h0m3 1h0m1 0h0m8-1h0m2 0h0m0 0h0m1 0h0m1 1h0m2 2h0m7-1h0m7-1h0m1 2h0m3 0h0m0-2h0m2-1h0m2 1h0m2-1h0m1 1h0m0 1h0m3-1h0m3-1h0m0 1h0m3 2h0m1-3h0m1 0h0m-132 4h0m4 0h0m7 1h0m1 2h0m10-1h0m1 1h0m0-2h0m3 1h0m7-2h0m4 3h0m3-2h0m6 0h0m14 0h0m5 0h0m0 0h0m2 0h0m3 2h0m1-2h0m0 0h0m5 1h0m1 0h0m0 0h0m4-2h0m1 3h0m1 0h0m1-1h0m0 0h0m14-2h0m1 3h0m14-1h0m3-2h0m1 1h0m0-1h0m2 2h0m3-2h0m0 3h0m0-1h0m2 1h0m2-3h0m1 0h0m0 3h0m1-2h0m2 1h0m1-1h0m5 2h0m2-3h0m-133 5h0m3 0h0m2 2h0m3 0h0m5-3h0m1 1h0m1 2h0m0-1h0m5-2h0m1 3h0m1-3h0m4 0h0m3 2h0m4-1h0m0 2h0m1 0h0m9-1h0m1 1h0m0-2h0m4 0h0m5-1h0m1 1h0m5 2h0m3-1h0m5-1h0m4 0h0m3 1h0m2 0h0m2 1h0m0-1h0m1-2h0m0 2h0m0 1h0m1-2h0m4-1h0m3 1h0m11 0h0m1-1h0m0 0h0m11 1h0m4 1h0m3-1h0m4 0h0m5 1h0m0 0h0m0-1h0m0-1h0m2 0h0m6 2h0m7 1h0m-137 3h0m5-2h0m8 0h0m1 0h0m1 0h0m24 2h0m7 1h0m3 0h0m3-3h0m7 1h0m3 2h0m1-1h0m1 0h0m2 0h0m5-2h0m5 1h0m12-1h0m9 0h0m1 2h0m5 1h0m2-3h0m0 0h0m1 2h0m1 0h0m2 0h0m1 1h0m3-3h0m4 3h0m2 0h0m2-3h0m0 3h0m1-3h0m6 0h0m1 3h0m3-3h0m1 3h0m0-2h0m1 2h0m0-1h0m1-1h0m0 1h0m-132 2h0m5 3h0m8-2h0m1 0h0m0-1h0m2 1h0m3-1h0m3 0h0m0 1h0m2 0h0m3 2h0m12-2h0m3 1h0m1 0h0m1 1h0m2-2h0m2 0h0m4 1h0m4-1h0m6 1h0m0-2h0m11 1h0m0-1h0m0 2h0m0 1h0m2-2h0m0 1h0m0-2h0m3 3h0m1-1h0m10 0h0m6 1h0m1-2h0m3 0h0m3-1h0m1 0h0m0 0h0m1 0h0m2 3h0m6-3h0m3 1h0m0 1h0m2-1h0m7-1h0m1 0h0m4 1h0m0 2h0m1-3h0m0 1h0m1-1h0m1 2h0m0 0h0m1 0h0m0 1h0m4-3h0m-133 7h0m3-1h0m3 1h0m2-2h0m3 0h0m15 0h0m2 1h0m1-2h0m3 2h0m0 0h0m5 1h0m0-3h0m0 0h0m8 0h0m0 3h0m0-1h0m1-2h0m3 1h0m2 0h0m2 1h0m0 1h0m5-2h0m8 2h0m1 0h0m3-3h0m8 1h0m6 2h0m2-1h0m6-2h0m3 3h0m1-3h0m0 1h0m3 1h0m2-2h0m0 2h0m1-1h0m2-1h0m0 1h0m7 1h0m10-1h0m2-1h0m2 0h0m-128 6h0m10 1h0m3-3h0m3 2h0m0 1h0m5-1h0m3 0h0m1 1h0m3 0h0m0-2h0m5 2h0m2-3h0m2 0h0m0 3h0m3 0h0m5-1h0m2 1h0m7-1h0m0 1h0m1-2h0m2 0h0m3 2h0m4-1h0m2 1h0m2-2h0m1 1h0m4 1h0m7-2h0m8 0h0m2-1h0m0 1h0m1-1h0m0 3h0m2 0h0m2-1h0m2 1h0m3-2h0m1-1h0m0 3h0m1-3h0m1 0h0m8 0h0m17 3h0m0-1h0m1-1h0m-125 4h0m3-1h0m2 1h0m2-1h0m3 3h0m9 0h0m2-2h0m0 0h0m0 0h0m2 0h0m2-1h0m1 3h0m2-1h0m0 1h0m1 0h0m0-2h0m5 1h0m3-1h0m0 0h0m1 0h0m1 1h0m1-1h0m1 0h0m2 1h0m1 0h0m3-1h0m1 1h0m6-1h0m1 1h0m1-2h0m2 2h0m3 0h0m0 1h0m1-2h0m0-1h0m1 0h0m0 0h0m14 3h0m3-1h0m1-2h0m2 1h0m3-1h0m0 0h0m0 0h0m3 3h0m2-3h0m7 0h0m2 3h0m4-2h0m5 2h0m9-3h0m4 3h0m1-3h0m-121 4h0m0 1h0m24-1h0m1 1h0m0-1h0m5 2h0m0-2h0m4 1h0m2 0h0m1 2h0m1-2h0m2 2h0m1-2h0m8 0h0m0 2h0m1-2h0m1 1h0m2 1h0m2 0h0m3-3h0m1 1h0m20 1h0m4 0h0m0-2h0m0 3h0m2-2h0m10 0h0m6-1h0m3 2h0m-93 4h0m8-2h0m1 0h0m10 3h0m3-1h0m2-2h0m1 3h0m1-2h0m3 0h0m1 2h0m2 0h0m2 0h0m1-3h0m1 3h0m0 0h0m0-2h0m2 0h0m1-1h0m3 0h0m2 3h0m5-2h0m4 2h0m3-2h0m9-1h0m16 0h0m8 1h0m0 2h0m3-2h0m1 0h0m15-1h0m13 0h0m4 2h0m0 1h0m4 0h0m-127 2h0m0 2h0m9 0h0m1-2h0m2 1h0m4-1h0m3-1h0m0 3h0m2-3h0m1 1h0m6 2h0m3-2h0m3 1h0m7 0h0m4 1h0m1-3h0m6 2h0m4 1h0m0 0h0m5-2h0m1-1h0m2 3h0m19-1h0m16 1h0m4-1h0m0-2h0m1 1h0m3 1h0m2 0h0m1 1h0m5 0h0m8 0h0m8-2h0m0 2h0m1-2h0m-124 3h0m4 0h0m2 2h0m1 0h0m2-1h0m2 1h0m4-1h0m2 0h0m6 2h0m1-2h0m1 1h0m0 0h0m4-1h0m4 0h0m0-1h0m1 0h0m2 3h0m2-1h0m7 0h0m4-1h0m3 1h0m1-2h0m0 2h0m1 0h0m1-1h0m1 0h0m3 2h0m5-2h0m17 0h0m12 1h0m1-2h0m3 0h0m1 0h0m1 3h0m0-1h0m2-1h0m3 1h0m12 1h0m-117 1h0m2 1h0m1 0h0m7 2h0m11-2h0m6 0h0m3-1h0m7 2h0m1 1h0m11-3h0m4 0h0m5 2h0m1-2h0m9 0h0m3 3h0m9-1h0m1 0h0m1 1h0m0-1h0m3 1h0m0-3h0m3 2h0m4-2h0m1 3h0m1-3h0m2 3h0m0-1h0m1 1h0m0-2h0m4-1h0m1 3h0m1-3h0m5 3h0m9 0h0m2-1h0m4-2h0m-118 5h0m4 0h0m2 0h0m5 2h0m6-3h0m1 1h0m4 2h0m2-1h0m0-1h0m4 2h0m6-1h0m35-2h0m1 1h0m0 1h0m1 0h0m1 1h0m1-3h0m1 0h0m2 2h0m0 0h0m2 1h0m0 0h0m2-1h0m5-1h0m6 1h0m5 0h0m1 0h0m0 1h0m0-1h0m1-2h0m2 0h0m5 0h0m1 1h0m1 0h0m15 0h0m7-1h0m-131 6h0m0 1h0m5-3h0m1 1h0m5 1h0m0 1h0m1 0h0m2 0h0m2 0h0m11-1h0m6 0h0m2-1h0m2 2h0m2-2h0m1 0h0m9 0h0m7-1h0m5 3h0m0-1h0m5-2h0m3 1h0m3 2h0m5-3h0m1 0h0m1 3h0m3-1h0m3 1h0m1-3h0m9 3h0m8-3h0m2 1h0m5 0h0m4 1h0m14-2h0m2 1h0m1 2h0m2-2h0m2-1h0m2 3h0m1-1h0m1 0h0m1-1h0m-140 4h0m1 2h0m9 0h0m0-3h0m2 3h0m2 0h0m1 0h0m3-3h0m5 0h0m1 1h0m5 0h0m7-1h0m2 3h0m4-2h0m1-1h0m6 2h0m14-1h0m3 0h0m6 0h0m2 1h0m1 0h0m2 1h0m4 0h0m11-2h0m10 2h0m1 0h0m1-1h0m2 0h0m3-1h0m3 1h0m6-2h0m10 1h0m1 1h0m4-1h0m2 1h0m7 0h0m5 1h0m-149 1h0m3 2h0m6 0h0m1-1h0m1 0h0m2 1h0m3-2h0m2 2h0m1 1h0m3 0h0m6-1h0m1 0h0m2 1h0m19-3h0m7 1h0m7 1h0m1 1h0m2-1h0m1-1h0m2 0h0m3 2h0m1-3h0m5 1h0m0 1h0m2-1h0m1-1h0m5 0h0m10 1h0m2 2h0m1-1h0m1-1h0m0 1h0m0 1h0m1-1h0m0-1h0m2 0h0m1 1h0m2 1h0m1-1h0m2 1h0m2-3h0m4 1h0m6 2h0m10-1h0m3-1h0m0-1h0m2 3h0m1-3h0m1 3h0m8-3h0m8 3h0m3-1h0m-155 3h0m1 2h0m5-3h0m2 2h0m0-2h0m11 1h0m7 0h0m3-1h0m12 2h0m0-2h0m2 1h0m6 2h0m3-1h0m6-1h0m2 2h0m3 0h0m3-3h0m2 2h0m2-2h0m4 1h0m2-1h0m0 0h0m2 2h0m2-2h0m2 0h0m11 3h0m1-1h0m3-1h0m0-1h0m2 1h0m0 0h0m1 2h0m1-1h0m2 1h0m2-2h0m2 2h0m14 0h0m2-2h0m1-1h0m5 2h0m0 1h0m0-3h0m1 1h0m3 1h0m13-2h0m1 0h0m0 0h0m1 2h0m5 1h0m6 0h0m0-1h0m1 0h0m-157 2h0m0 2h0m7-1h0m5 2h0m0 0h0m2 0h0m9-2h0m11 2h0m1-1h0m2-1h0m1-1h0m3 2h0m5-2h0m1 2h0m7 0h0m3-1h0m0 1h0m1 0h0m1 0h0m1-2h0m1 1h0m3 0h0m1 2h0m2 0h0m0-3h0m0 1h0m2 0h0m2 1h0m10 1h0m1-1h0m1 0h0m3-1h0m5 0h0m4-1h0m3 1h0m4 2h0m1-3h0m3 0h0m7 1h0m9 2h0m1 0h0m6 0h0m6 0h0m3 0h0m2 0h0m4-2h0m1 2h0m1-1h0m4 0h0m3 0h0m4-2h0m-147 5h0m5 2h0m2-2h0m3-1h0m5 3h0m6-3h0m2 3h0m2 0h0m17-2h0m1 0h0m0 1h0m2 1h0m13-1h0m3-1h0m2 1h0m2-2h0m0 3h0m0 0h0m1-1h0m5 0h0m4 0h0m2-2h0m3 2h0m2 0h0m4 0h0m3 1h0m5-3h0m2 3h0m1-1h0m1 1h0m5 0h0m2-3h0m1 1h0m1 2h0m7-3h0m15 3h0m9-3h0m5 0h0m-138 5h0m1-1h0m8 3h0m5-2h0m3 1h0m2-1h0m0 1h0m10 0h0m18-2h0m3 3h0m10-2h0m8-1h0m1 1h0m12-1h0m3 0h0m2 1h0m1 0h0m1 0h0m6 1h0m3-2h0m1 0h0m8 2h0m14 1h0m2-2h0m2 0h0m2 1h0m6 1h0m-133 2h0m1 0h0m16 0h0m5 2h0m29-1h0m2 0h0m7 0h0m1 1h0m2-1h0m11-1h0m3 0h0m4 2h0m10-2h0m5-1h0m0 1h0m3 2h0m0-3h0m1 0h0m17 1h0m8 1h0m2 0h0m6 1h0m2 0h0m10 0h0m0-2h0m-150 5h0m4-1h0m2-1h0m3 0h0m1 0h0m10 0h0m3 0h0m1 3h0m0 0h0m1-2h0m6-1h0m16 2h0m3 1h0m6 0h0m0 0h0m4 0h0m1-1h0m1 1h0m3-2h0m1 1h0m1-1h0m4 2h0m3-2h0m7 2h0m0 0h0m10-3h0m20 0h0m1 0h0m4 3h0m1-2h0m2 2h0m2 0h0m4-1h0m3-2h0m1 3h0m3-3h0m4 3h0m-127 1h0m3 0h0m4 2h0m4 1h0m1 0h0m3-2h0m0-1h0m3 0h0m2 2h0m1 0h0m12-2h0m3 0h0m8 0h0m1 3h0m3 0h0m1-1h0m5 1h0m6-2h0m1-1h0m7 1h0m7 1h0m8-2h0m0 3h0m1-3h0m1 1h0m0 2h0m14 0h0m1-2h0m3 1h0m3 0h0m8 1h0m1 0h0m3-1h0m7 0h0m-129 2h0m2 0h0m7 3h0m5-3h0m4 0h0m0 0h0m0 3h0m13-2h0m5 1h0m10 0h0m3 1h0m1-3h0m2 2h0m1 0h0m1-1h0m2 2h0m3 0h0m5-2h0m16-1h0m7 0h0m2 3h0m23-3h0m1 1h0m2 2h0m1-2h0m15 1h0m2-2h0m-124 5h0m2 0h0m4 0h0m2 0h0m10 0h0m2 2h0m0 0h0m1-3h0m16 0h0m3 2h0m6 0h0m8-1h0m3 1h0m2-1h0m27-1h0m17 3h0m0-1h0m0 0h0m1 0h0m1-1h0m2-1h0m1 0h0m2 0h0m0 2h0m1 0h0m2-2h0m3 1h0m0-1h0m4 1h0m3 2h0m-111 2h0m12-1h0m12 3h0m1-1h0m0-2h0m0 1h0m2 0h0m1 2h0m4-3h0m0 2h0m1 0h0m2 1h0m11-1h0m33 1h0m7-3h0m2 3h0m1-2h0m2 2h0m3-1h0m0-1h0m1 2h0m0-3h0m2 1h0m0 2h0m2-2h0m7 0h0m1 2h0m1-2h0m-111 3h0m1 2h0m5 1h0m4 0h0m2-2h0m0 0h0m0 0h0m1-1h0m2 2h0m3 1h0m3-2h0m3 1h0m1 1h0m1-1h0m7-2h0m2 2h0m7 0h0m0 0h0m4-2h0m0 0h0m1 0h0m1 1h0m3-1h0m3 1h0m0 2h0m2-2h0m2 1h0m1 1h0m17-2h0m3 0h0m3-1h0m5 2h0m4 1h0m6-1h0m0-2h0m1 1h0m4 0h0m3 0h0m5-1h0m1 3h0m3-3h0m-114 4h0m3 1h0m5 1h0m4 0h0m0 0h0m4-1h0m4 2h0m2-1h0m15-2h0m7 1h0m7 1h0m2 1h0m3-1h0m1 1h0m2-1h0m8-1h0m1 2h0m3-3h0m0 3h0m1-1h0m0 0h0m1 0h0m1 1h0m8-2h0m2 2h0m5-1h0m8-1h0m1 1h0m0 1h0m1-3h0m4 2h0m0-1h0m1 0h0m1-1h0m3 3h0m4 0h0m4-3h0m2 1h0m-113 3h0m4 2h0m1-1h0m2 2h0m16-3h0m7 2h0m4-1h0m25-1h0m5 3h0m3-1h0m8-2h0m11 3h0m4-2h0m4 1h0m2 0h0m0 1h0m2-3h0m1 2h0m1 1h0m14-2h0m-116 4h0m6-1h0m1 0h0m6 3h0m13 0h0m2-2h0m5 0h0m2 1h0m3-1h0m1 1h0m2 0h0m0-1h0m3 2h0m9-3h0m8 0h0m1 0h0m13 2h0m4-2h0m5 3h0m4 0h0m0-2h0m2 0h0m3 1h0m2 1h0m1 0h0m2 0h0m0 0h0m5 0h0m8-3h0m3 3h0m5-3h0m4 0h0m5 3h0m-113 3h0m8-2h0m1 2h0m1 1h0m4 0h0m4-3h0m3 2h0m1-1h0m4-1h0m2 2h0m2-1h0m4 1h0m0 1h0m1-1h0m0 0h0m4 0h0m4-1h0m8-1h0m22 1h0m6 0h0m1-1h0m3 1h0m0-1h0m1 3h0m2-1h0m0-1h0m3 1h0m4-1h0m1-1h0m2 0h0m1 2h0m6 1h0m5-1h0m4-2h0m-124 6h0m11-2h0m2 2h0m2-1h0m3 0h0m0 1h0m1-2h0m3 2h0m1 1h0m0 0h0m0-1h0m4-1h0m9 2h0m15-3h0m0 2h0m0-2h0m5 3h0m2 0h0m1 0h0m10-2h0m2 2h0m11-3h0m3 3h0m15-1h0m1 1h0m3-3h0m1 2h0m1 1h0m6-1h0m2-2h0m4 2h0m4 0h0m-126 5h0m6 0h0m5-3h0m1 3h0m10 0h0m0 0h0m9-3h0m8 1h0m5 0h0m4-1h0m5 1h0m6 0h0m0 2h0m0-1h0m2-1h0m8 1h0m13-2h0m5 3h0m4-3h0m10 2h0m3-2h0m1 2h0m2-2h0m4 2h0m0 1h0m1-1h0m3-2h0m0 3h0m1-1h0m3-1h0m1-1h0m0 2h0m2 1h0m15-1h0m6 1h0m14 0h0m-149 1h0m2 1h0m1 2h0m0 0h0m4-2h0m1 1h0m7-2h0m5 3h0m5-3h0m1 1h0m0 0h0m2 2h0m2 0h0m6-3h0m0 0h0m2 1h0m1 1h0m10 1h0m8-2h0m0 2h0m17-1h0m1-2h0m3 1h0m2 0h0m2 0h0m2-1h0m1 2h0m4 1h0m2-2h0m2-1h0m0 3h0m2-1h0m3-1h0m2 0h0m2-1h0m0 1h0m4 0h0m3-1h0m1 3h0m6-2h0m12 0h0m2 0h0m7 0h0m6 2h0m5 0h0m29 0h0m-176 3h0m2-2h0m7 2h0m6 0h0m4 0h0m0-1h0m13 0h0m0 0h0m15 0h0m5 1h0m7 1h0m3-2h0m7 1h0m6-2h0m3 2h0m2-1h0m10-1h0m6 2h0m2-2h0m7 2h0m0 0h0m1-2h0m1 1h0m5 2h0m1-3h0m2 3h0m7-1h0m6-2h0m5 2h0m5 0h0m9-2h0m2 3h0m1-1h0m16 1h0m6 0h0m-163 4h0m1-2h0m1-1h0m2 3h0m16 0h0m2-2h0m4-1h0m14 2h0m10-2h0m2 0h0m3 2h0m8-1h0m5-1h0m1 3h0m0-3h0m1 1h0m0 2h0m9-1h0m1-2h0m4 0h0m2 0h0m2 3h0m8 0h0m0-3h0m4 1h0m0 1h0m5-1h0m0 1h0m0-2h0m2 3h0m3-2h0m2 2h0m1-2h0m5-1h0m2 3h0m1-1h0m1-1h0m0-1h0m1 1h0m1 0h0m1 0h0m2 1h0m0 0h0m2 0h0m3 1h0m0-1h0m4-2h0m2 0h0m4 3h0m3 0h0m6-2h0m5 0h0m4 2h0m8-2h0m2 2h0m-170 4h0m0 0h0m15-1h0m2 0h0m1-2h0m1 2h0m2 1h0m4-1h0m11 1h0m10-1h0m2-2h0m3 1h0m10 0h0m1-1h0m6 3h0m2-1h0m2 0h0m3 1h0m9-2h0m6-1h0m2 3h0m3-2h0m7-1h0m1 3h0m2 0h0m5-1h0m5-2h0m1 3h0m1-2h0m0-1h0m4 0h0m3 2h0m8-2h0m2 1h0m1 0h0m2 1h0m1-2h0m2 3h0m2-2h0m0-1h0m7 0h0m7 1h0m4 2h0m0-2h0m0 1h0m1 1h0m2-3h0m0 3h0m-139 1h0m1 0h0m1 1h0m10-1h0m1 0h0m0 3h0m2-2h0m1 0h0m9 0h0m10 2h0m4-3h0m5 0h0m1 1h0m1 2h0m1-3h0m1 3h0m1-1h0m1-2h0m3 1h0m11 0h0m1 1h0m2-2h0m0 1h0m0 0h0m1 1h0m1 1h0m0-1h0m0-2h0m6 3h0m1-1h0m5 1h0m5-3h0m4 0h0m3 2h0m1 0h0m3-2h0m4 1h0m0 1h0m1 0h0m1-2h0m1 3h0m9-2h0m1 2h0m2 0h0m2-3h0m11 3h0m2-3h0m0 0h0m6 0h0m2 0h0m5 3h0m2-3h0m-171 6h0m4-2h0m17 0h0m7 2h0m1-2h0m3 0h0m0 3h0m5-1h0m1 0h0m1 0h0m17 1h0m2-3h0m6 2h0m2-2h0m5 1h0m0-1h0m9 0h0m4 3h0m3 0h0m12-2h0m0-1h0m2 0h0m1 1h0m2 0h0m6-1h0m1 3h0m2-1h0m25-1h0m11-1h0m3 2h0m1 0h0m1 0h0m5 1h0m0-1h0m1-1h0m3 0h0m17 1h0m-153 5h0m2 0h0m1-2h0m2 1h0m9-1h0m5 1h0m0 0h0m2 1h0m1 0h0m1 0h0m2 0h0m2-2h0m2 1h0m1 1h0m2-1h0m10 0h0m1 1h0m2-1h0m3-2h0m1 0h0m9 2h0m1 1h0m5-1h0m0-1h0m8 1h0m0-2h0m11 3h0m1 0h0m15-3h0m4 2h0m4 1h0m3-1h0m3-2h0m17 1h0m1 2h0m7-3h0m-152 6h0m4-1h0m18 1h0m8-2h0m3 1h0m1-1h0m3 0h0m1 1h0m5 1h0m1 0h0m0-1h0m3 1h0m1-1h0m0 0h0m1 0h0m0 1h0m2-2h0m8 2h0m1 0h0m1 1h0m4-2h0m2 0h0m2 2h0m7-1h0m15-2h0m1 2h0m1-1h0m0 1h0m1 0h0m1-1h0m4 2h0m1-3h0m5 1h0m5 2h0m1-1h0m1 1h0m3-1h0m1-1h0m0 1h0m3-2h0m5 3h0m1-3h0m3 0h0m1 1h0m10-1h0m7 2h0m5-1h0m4 1h0m0-2h0m1 3h0m8-3h0m1 0h0m-173 5h0m5 2h0m19-2h0m2-1h0m12 1h0m1 0h0m0 1h0m9 1h0m0-3h0m1 0h0m4 3h0m2-3h0m2 1h0m2 1h0m9-1h0m2 2h0m1-3h0m0 1h0m4 0h0m0-1h0m1 3h0m3-1h0m2-1h0m5 2h0m1-2h0m10 0h0m1 2h0m0-3h0m0 0h0m1 3h0m4-2h0m1 1h0m12-1h0m1 1h0m3-1h0m4 2h0m1-1h0m8-1h0m2 0h0m6 1h0m1 1h0m4-2h0m7 1h0m1 1h0m5-3h0m1 1h0m0 0h0m3 1h0m0 1h0m6-2h0m-142 6h0m2-1h0m0-1h0m3 2h0m1-2h0m10 0h0m0-1h0m3 0h0m1 0h0m11 3h0m3-1h0m0-1h0m6 0h0m5 0h0m2 0h0m2 1h0m0-2h0m1 3h0m1-1h0m1-1h0m0 0h0m2 1h0m1 1h0m1-1h0m0-2h0m0 2h0m1-1h0m13-1h0m1 3h0m19-2h0m1-1h0m0 0h0m15 2h0m12-1h0m2 0h0m2-1h0m2 0h0m6 3h0m1-2h0m5 0h0m0 1h0m2 1h0m0 0h0m8-2h0m-145 3h0m0 1h0m2 2h0m0-3h0m3 2h0m3-2h0m8 2h0m8 0h0m1-2h0m1 2h0m5 1h0m6-1h0m8 1h0m0-3h0m2 3h0m1 0h0m0-3h0m2 0h0m2 1h0m1 0h0m1 0h0m1 2h0m0-3h0m9 3h0m0-3h0m2 1h0m1 2h0m1-3h0m1 3h0m1-1h0m11 0h0m9 1h0m4-1h0m2 1h0m0-1h0m1-2h0m2 1h0m2 0h0m2 2h0m0 0h0m1-1h0m5 1h0m1-2h0m1 1h0m0 1h0m6-3h0m2 3h0m4-3h0m2 3h0m15 0h0m4-3h0m-156 4h0m5 3h0m2-3h0m11 2h0m2-1h0m9 2h0m0-2h0m8 1h0m3-1h0m7 0h0m1-1h0m1 3h0m10-1h0m5 1h0m7-2h0m2-1h0m1 2h0m2 1h0m9 0h0m18 0h0m3 0h0m2-1h0m0 0h0m3 1h0m2-3h0m0 2h0m1 1h0m2-3h0m3 0h0m5 1h0m0-1h0m1 3h0m3 0h0m2 0h0m2-1h0m0-2h0m1 3h0m10-2h0m2 0h0m3 2h0m1 0h0m1-1h0m3 1h0m2-2h0m-151 5h0m1-2h0m4 0h0m3 2h0m8-1h0m7-1h0m3 2h0m22-2h0m7 0h0m12 3h0m2 0h0m2 0h0m6-1h0m4-2h0m3 1h0m4 0h0m1 1h0m2 1h0m2-3h0m0 2h0m17-2h0m2 3h0m2 0h0m0-3h0m4 1h0m7 0h0m18 2h0m2 0h0m2 0h0m1 0h0m-151 2h0m10 0h0m4 0h0m2 1h0m6 0h0m5 0h0m2-1h0m9 0h0m4 2h0m30-2h0m3 1h0m0-2h0m2 3h0m3-3h0m1 3h0m10-3h0m1 3h0m1-3h0m2 0h0m4 2h0m5-2h0m1 3h0m3 0h0m4 0h0m1-3h0m6 3h0m21 0h0m2-2h0m-141 3h0m4 1h0m1 1h0m2-2h0m5 0h0m8 0h0m3 2h0m7 0h0m1 0h0m6-1h0m1 1h0m6-2h0m7 2h0m5-1h0m7 0h0m4 1h0m1-1h0m2 1h0m8 0h0m12-2h0m1 1h0m7 2h0m5 0h0m4 0h0m4-1h0m1-2h0m1 1h0m1 2h0m2-3h0m0 2h0m4 1h0m4-1h0m0 1h0m1-2h0m0 1h0m6-1h0m19 1h0m7 0h0m2 0h0m2 0h0m3-2h0m2 3h0m-157 1h0m5 3h0m7-1h0m3-2h0m5 1h0m3 2h0m2-3h0m3 2h0m0 1h0m0-3h0m12 3h0m2-1h0m3-2h0m0 0h0m1 2h0m1 0h0m1 0h0m2 1h0m0-1h0m1 1h0m1-3h0m1 1h0m1 0h0m2 1h0m3-1h0m13 0h0m9 0h0m2 1h0m0 0h0m3-2h0m14 0h0m3 0h0m1 1h0m3 0h0m2-1h0m1 1h0m1 0h0m1 1h0m2 0h0m2 0h0m0-2h0m0 1h0m1 0h0m1 1h0m5 0h0m1 0h0m10 0h0m2 1h0m5-1h0m3 1h0m0-3h0m7 3h0m1 0h0m1 0h0m5-3h0m7 1h0m-166 6h0m2-1h0m1-1h0m1 1h0m4-2h0m0 3h0m3-1h0m0-1h0m4-1h0m1 1h0m4 2h0m3-3h0m8 1h0m1-1h0m5 2h0m2 1h0m3 0h0m3 0h0m5-1h0m0-2h0m2 1h0m2 2h0m11-2h0m16 0h0m2 0h0m1 1h0m3 0h0m3-2h0m2 0h0m1 1h0m3 1h0m5-1h0m1-1h0m2 0h0m0 3h0m3-1h0m0 0h0m0-1h0m3-1h0m0 1h0m1 2h0m1-3h0m2 2h0m2 1h0m1-2h0m1 0h0m0 1h0m1-2h0m6 2h0m1 1h0m2-3h0m0 2h0m1 0h0m3 0h0m0 1h0m0 0h0m10-2h0m5 1h0m16-1h0m-168 5h0m5 0h0m2 0h0m1 1h0m6-3h0m4 2h0m2-2h0m0 3h0m3-3h0m0 2h0m1 1h0m2-1h0m0-1h0m0 2h0m2-3h0m2 3h0m3-1h0m0 0h0m3 0h0m1 0h0m1 1h0m1-2h0m8-1h0m4 3h0m3-1h0m5 0h0m2 1h0m1-2h0m4 2h0m8-3h0m2 2h0m4 1h0m0-2h0m1 0h0m3 2h0m4-3h0m10 2h0m2-2h0m4 2h0m5 0h0m7-1h0m4-1h0m2 3h0m2 0h0m5-2h0m0 2h0m8-1h0m1-1h0m5 1h0m0 0h0m5 0h0m8-1h0m2 1h0m1-2h0m4 1h0m2 2h0m6-3h0m4 2h0m-172 4h0m6 1h0m0-1h0m7 0h0m9-2h0m8 2h0m0-2h0m1 0h0m1 2h0m1-2h0m4 0h0m6 0h0m8 2h0m0 0h0m1-1h0m1 2h0m6-3h0m8 0h0m9 2h0m9-1h0m8 0h0m17-1h0m6 2h0m1 0h0m26 0h0" stroke="#bbb" stroke-width="1" stroke-linecap="square"/>
<path d="M258.5 88.5h0m9-2h0m-26 7h0m2 0h0m2-3h0m5 2h0m17-2h0m-16 7h0m13-3h0m2 2h0m0 0h0m-19 5h0m2-1h0m9-2h0m6 1h0m0 2h0m4-3h0m-18 7h0m14-2h0m-18 6h0m5-1h0m1 2h0m4 0h0m-2 6h0m89 6h0m-53 6h0m5 0h0m27 1h0m2-1h0m6 1h0m-38 2h0m2 2h0m2-2h0m0 1h0m9 1h0m13-2h0m0 1h0m1 0h0m13 1h0m1-2h0m15 2h0m-71 2h0m6-1h0m4 0h0m0 2h0m2 0h0m5 0h0m6-1h0m0 0h0m5 2h0m0-1h0m11 0h0m10-1h0m10 2h0m-63 2h0m1-1h0m1 2h0m4-1h0m1-1h0m1 0h0m1 3h0m1-2h0m1-1h0m3 0h0m0 3h0m4-3h0m3 1h0m7-1h0m5 3h0m6-3h0m3 0h0m4 3h0m5-2h0m6 2h0m3-1h0m0 1h0m3-1h0m0 1h0m5-2h0m-65 5h0m3 0h0m1 1h0m1 0h0m0 0h0m0-1h0m1-2h0m3 3h0m1-2h0m12-1h0m3 2h0m1-1h0m7 0h0m2-1h0m5 1h0m9 2h0m1 0h0m2-3h0m2 0h0m2 2h0m0 1h0m3-2h0m9 2h0m3-2h0m-76 6h0m10-1h0m3-1h0m5 0h0m1 2h0m0-3h0m2 0h0m0 2h0m2 1h0m2-3h0m3 2h0m3-1h0m1-1h0m2 1h0m3-1h0m1 3h0m9 0h0m1-2h0m3 2h0m1 0h0m1-1h0m0-1h0m1-1h0m1 2h0m0-1h0m1 1h0m2-2h0m3 1h0m9 2h0m3-2h0m-66 6h0m6-2h0m3-1h0m3 0h0m0 1h0m2 0h0m6 0h0m2 0h0m3 1h0m0-2h0m0 0h0m4 2h0m17 1h0m1-3h0m2 0h0m0 2h0m1-2h0m0 1h0m2 0h0m2-1h0m1 2h0m4-1h0m-54 4h0m1 1h0m4-2h0m3 2h0m18 0h0m2 0h0m2 1h0m25-3h0m4 0h0m-59 5h0m0 2h0m3 0h0m1 0h0m2 0h0m10-1h0m4 1h0m3-1h0m9 0h0m0 1h0m0-3h0m5 3h0m12-2h0m8 2h0m-46 2h0m1 1h0m3 0h0m2-2h0m1 0h0m1 1h0m1 0h0m0 1h0m3 0h0m1-1h0m2 1h0m0 0h0m3 1h0m0-3h0m1 0h0m0 2h0m5 1h0m1 0h0m1 0h0m2-1h0m0 1h0m7-1h0m11-1h0m-44 5h0m1 1h0m0 0h0m11-2h0m3-1h0m4 2h0m2 0h0m4 1h0m0-1h0m1 0h0m1-1h0m1 0h0m0 2h0m7-3h0m5 2h0m0-2h0m4 1h0m12-1h0m3 1h0m2 1h0m0-1h0m2 2h0m1 0h0m5-2h0m0 1h0m32 0h0m-105 2h0m2 3h0m2-2h0m8 0h0m3 2h0m13-1h0m0-2h0m4 1h0m0 1h0m7 0h0m2 0h0m9 0h0m5 1h0m4-2h0m4 1h0m1-2h0m6 0h0m3 2h0m4-2h0m0 3h0m3-2h0m1 2h0m0-3h0m-80 7h0m1-3h0m14 0h0m4 3h0m9-1h0m2-1h0m0-1h0m2 2h0m4-2h0m4 3h0m2-2h0m2 0h0m1 2h0m5-1h0m8 1h0m5-2h0m1-1h0m3 0h0m3 2h0m7 0h0m24 1h0m-102 1h0m2 2h0m9-1h0m4 2h0m1 0h0m5 0h0m1-3h0m0 1h0m5 2h0m2-3h0m0 3h0m1 0h0m5-3h0m1 2h0m1-1h0m0 0h0m1-1h0m3 2h0m0 1h0m2-3h0m1 3h0m6-3h0m7 3h0m11 0h0m7-2h0m1 1h0m-59 2h0m3 2h0m2 1h0m2-3h0m1 2h0m0-2h0m1 1h0m0 0h0m4 0h0m10-1h0m6 0h0m4 1h0m0-1h0m-47 7h0m9 0h0m1-3h0m6 3h0m1-3h0m1 2h0m5-1h0m0 2h0m1-3h0m1 0h0m1 2h0m0-1h0m2 1h0m17 1h0m-41 2h0m28 0h0m1 1h0m5-2h0m11 3h0m1-1h0m-44 3h0m4 1h0m3 1h0m11-3h0m3 0h0m3 2h0m0 1h0m3-3h0m1 3h0m9-1h0m10 0h0m0-2h0m-48 7h0m3-2h0m2 0h0m3 1h0m11-1h0m8-1h0m0 0h0m3 3h0m5-1h0m-19 3h0m0 2h0m3 0h0m0 0h0m1-2h0m3 0h0m1-1h0m9 0h0m-20 6h0m9-1h0m6 2h0m5 0h0m8-3h0m-27 6h0m2 1h0m5-1h0m0-1h0m8 1h0m-18 3h0m9 0h0m4-1h0m1 3h0m1-1h0m1-2h0m1 1h0m1-1h0m0 2h0m3 0h0m0-1h0m2-1h0m-16 5h0m7 2h0m3-3h0m3 0h0m2 3h0m2-3h0m1 2h0m1-2h0m67 2h0m1-2h0m8 2h0m12 0h0m-111 2h0m1 1h0m1 2h0m1-2h0m3 1h0m4 0h0m1 0h0m3-2h0m0 3h0m21-3h0m24 3h0m14 0h0m7 0h0m2 0h0m1-1h0m4-1h0m1 1h0m5 1h0m1-2h0m6 0h0m0-1h0m9 3h0m-111 2h0m6 0h0m0-1h0m4 3h0m5-1h0m1 1h0m2 0h0m1 0h0m11 0h0m1-3h0m6 3h0m4-1h0m6 0h0m0-2h0m3 1h0m2 0h0m5 2h0m1-2h0m4 1h0m12 1h0m8-2h0m0 2h0m2-3h0m1 0h0m1 1h0m2 0h0m16 1h0m2-2h0m1 3h0m5-1h0m-99 2h0m4 0h0m1 2h0m3 0h0m2-2h0m1 2h0m0 1h0m13-3h0m2 2h0m1-2h0m0 1h0m2 0h0m1 0h0m1 0h0m7 1h0m3 1h0m4-2h0m9 0h0m1-1h0m5 1h0m5 0h0m0 2h0m3-3h0m9 1h0m6 0h0m2 2h0m7-2h0m0 2h0m2 0h0m0-1h0m3 1h0m8 0h0m9-3h0m15 2h0m-126 2h0m2 3h0m3-2h0m0 0h0m4 0h0m11 0h0m9 1h0m0-2h0m6 3h0m1-1h0m0-1h0m1 1h0m1 1h0m3-2h0m0-1h0m3 1h0m0 0h0m0 2h0m1-3h0m1 1h0m1 2h0m0-3h0m20 0h0m6 3h0m3-1h0m0 1h0m1-1h0m1-2h0m1 0h0m0 3h0m3 0h0m0-2h0m1 1h0m1-1h0m0 0h0m1 1h0m1-2h0m12 0h0m0 0h0m2 0h0m27 1h0m-123 5h0m5-2h0m1 2h0m1-2h0m5 3h0m1-2h0m3 0h0m9 0h0m1-1h0m0 2h0m4-2h0m1 0h0m0 1h0m2 0h0m2 0h0m0-1h0m1 3h0m3-1h0m4-1h0m1 0h0m4 1h0m2 0h0m9-1h0m2 0h0m3 1h0m0-2h0m8 1h0m0 1h0m2-2h0m0 3h0m1 0h0m1-1h0m1 0h0m4 0h0m0 1h0m7 0h0m1-2h0m19 1h0m0-1h0m1 1h0m6-2h0m2 2h0m0-2h0m5 3h0m-120 3h0m2-1h0m2 0h0m1 0h0m1-1h0m4 2h0m1-1h0m4 0h0m1-1h0m1 0h0m1 0h0m4 1h0m6-1h0m2 0h0m1 3h0m2 0h0m0-3h0m2 1h0m1 1h0m1 1h0m1-1h0m0 0h0m2-2h0m3 3h0m1-3h0m18 2h0m1 0h0m3-2h0m0 3h0m4-2h0m1-1h0m2 3h0m0-1h0m6-1h0m1 0h0m2 0h0m0 0h0m4 1h0m1-2h0m4 1h0m1-1h0m3 0h0m6 3h0m6-2h0m2 2h0m4-2h0m5-1h0m0 0h0m1 0h0m6 0h0m-127 5h0m1-1h0m1 1h0m1-1h0m1 1h0m0-1h0m1 1h0m1 2h0m5-1h0m1-1h0m1 0h0m0 2h0m1-1h0m0-2h0m2 1h0m2 0h0m1 2h0m0 0h0m1-1h0m2 1h0m12-1h0m2 0h0m3 1h0m1-1h0m0 0h0m1-1h0m4 0h0m3 1h0m1 0h0m9-2h0m2 3h0m0-2h0m3-1h0m5 2h0m4 0h0m0 1h0m0 0h0m1 0h0m1 0h0m3-3h0m0 2h0m1-2h0m0 3h0m1-1h0m1-2h0m1 2h0m1-1h0m1-1h0m3 2h0m1-1h0m1 0h0m5 2h0m2-1h0m0 0h0m3 0h0m0-2h0m4 3h0m8-2h0m1 2h0m4 0h0m3-1h0m8-2h0m3 2h0m-130 2h0m3 2h0m1 0h0m1-2h0m0 0h0m1 1h0m0 2h0m1-3h0m1 1h0m3 0h0m1 1h0m3-2h0m1 3h0m0-2h0m2 0h0m1-1h0m0 0h0m2 0h0m2 0h0m0 2h0m1-2h0m2 0h0m0 3h0m1 0h0m7-3h0m1 1h0m0-1h0m1 1h0m1 0h0m2 2h0m0-2h0m2 0h0m14 1h0m5-1h0m7 0h0m4 1h0m1 0h0m1-2h0m0 0h0m4 2h0m3-2h0m8 1h0m4 0h0m3 0h0m0 1h0m2 1h0m2-1h0m10 0h0m3 0h0m2 0h0m2 1h0m3 0h0m6-1h0m4-1h0m3 1h0m5 0h0m-131 2h0m1 1h0m2-1h0m2 2h0m0-2h0m1 2h0m4 1h0m2-3h0m0 1h0m1 2h0m2-2h0m0 1h0m2 0h0m3-1h0m1-1h0m2 0h0m0 2h0m1-2h0m3 3h0m3-3h0m0 3h0m1 0h0m0-2h0m1 2h0m2-3h0m1 3h0m1 0h0m6-2h0m1 2h0m6-1h0m11-2h0m1 1h0m1-1h0m0 1h0m1 2h0m12-2h0m0 2h0m1 0h0m1-2h0m1 2h0m1-3h0m7 3h0m5 0h0m6-1h0m1-2h0m5 0h0m1 3h0m3-2h0m1 0h0m1-1h0m4 3h0m0-2h0m1 0h0m3 2h0m3-1h0m4-2h0m1 3h0m-130 2h0m3 1h0m4-1h0m1 2h0m0-3h0m3 0h0m5 2h0m4-1h0m1-1h0m2 1h0m2-1h0m3 0h0m6 0h0m2 0h0m0 0h0m1 3h0m0-1h0m1 0h0m7-1h0m4 1h0m0 1h0m3 0h0m16 0h0m5-2h0m4 2h0m0 0h0m1-1h0m2-1h0m0 2h0m1-3h0m0 2h0m2-2h0m1 0h0m1 2h0m0-1h0m3 1h0m5 0h0m4-1h0m1 1h0m4 0h0m1 0h0m0-2h0m12 1h0m0 0h0m1 2h0m1-2h0m1-1h0m1 1h0m0 0h0m2-1h0m2 3h0m1-1h0m2-1h0m2 0h0m0 2h0m0 0h0m11-3h0m0 0h0m-138 5h0m5 0h0m4 0h0m2-1h0m0 3h0m1-2h0m1 1h0m1-2h0m1 2h0m1 0h0m2-1h0m2-1h0m2 2h0m2-1h0m4 0h0m2 0h0m1 1h0m0-1h0m5 0h0m5 1h0m3-1h0m0 1h0m2-1h0m1 1h0m6-1h0m2 1h0m0-1h0m6-1h0m1 1h0m1 2h0m3-2h0m3 2h0m2 0h0m2-2h0m4-1h0m1 2h0m1-2h0m1 2h0m1-2h0m2 3h0m2-2h0m4 1h0m0-2h0m4 0h0m1 0h0m3 3h0m6-1h0m6-2h0m3 0h0m4 1h0m1 0h0m0 2h0m1 0h0m0-3h0m0 2h0m1-2h0m1 3h0m0-2h0m3 2h0m1-2h0m0 1h0m0 0h0m0-1h0m2 0h0m1-1h0m0 1h0m1 1h0m0 1h0m2-2h0m8 1h0m2 1h0m-131 3h0m0-1h0m1-1h0m2 3h0m0-3h0m3 1h0m6 0h0m19-1h0m2 0h0m1 3h0m3-2h0m2 0h0m3-1h0m5 1h0m1-1h0m2 0h0m0 3h0m0-3h0m2 1h0m2-1h0m1 2h0m3 0h0m3-1h0m4-1h0m2 3h0m4 0h0m0 0h0m2 0h0m8-3h0m2 0h0m4 0h0m3 2h0m12 1h0m9 0h0m0-3h0m1 1h0m0-1h0m3 0h0m6 1h0m2 2h0m1-1h0m2 0h0m7-1h0m-139 4h0m14-1h0m3 2h0m1 0h0m1 0h0m9-1h0m2 2h0m0 0h0m7-1h0m11-1h0m1-1h0m7 0h0m5 3h0m7-2h0m4 2h0m2-2h0m0 1h0m5 0h0m3-1h0m1-1h0m7 0h0m5 0h0m1 3h0m5 0h0m0-1h0m6-2h0m1 1h0m1 2h0m2 0h0m1-2h0m0 1h0m1-1h0m1 2h0m1-2h0m0 0h0m4 0h0m4 0h0m2 0h0m4 1h0m0 0h0m1-1h0m1 2h0m1-2h0m0 0h0m2-1h0m0 1h0m1 2h0m2-2h0m1 2h0m2 0h0m2 0h0m-122 1h0m0 0h0m4 2h0m1 0h0m3 1h0m0 0h0m7-1h0m1-1h0m1 1h0m2 1h0m4-1h0m1-2h0m2 0h0m1 1h0m2-1h0m3 1h0m1 2h0m3 0h0m5-2h0m2 2h0m1 0h0m0 0h0m4 0h0m22-2h0m1 1h0m2-1h0m2-1h0m1 2h0m2-1h0m1 1h0m0-1h0m1 2h0m1-3h0m0 2h0m2-2h0m1 3h0m3 0h0m0 0h0m0-1h0m1 0h0m1-1h0m1 0h0m0 0h0m0 2h0m3-1h0m1-1h0m1-1h0m4 0h0m5 3h0m10-2h0m0 0h0m3-1h0m1 1h0m1 2h0m0-2h0m-126 4h0m11-1h0m6 2h0m3-2h0m3 2h0m0-2h0m6 1h0m5-1h0m1 1h0m4 1h0m4 0h0m1 1h0m8-2h0m1 1h0m0 0h0m4 0h0m3-1h0m2-1h0m17 1h0m3 1h0m0-1h0m1 1h0m1 1h0m1-3h0m1 3h0m1 0h0m1-1h0m3-2h0m2 3h0m1-2h0m1 0h0m7-1h0m4 0h0m1 0h0m4 3h0m0-1h0m12-1h0m0 0h0m3-1h0m0 2h0m0 1h0m2-2h0m1 2h0m2-2h0m-132 3h0m3 1h0m1 1h0m2 0h0m0-2h0m11 2h0m5-1h0m1 1h0m1 0h0m1-2h0m2 3h0m2 0h0m2-2h0m6 2h0m0-2h0m2 1h0m11 0h0m1-2h0m0 2h0m3 1h0m2-2h0m3-1h0m1 3h0m1-2h0m1 2h0m1 0h0m20 0h0m7-3h0m1 0h0m2 0h0m0 1h0m1 2h0m1-2h0m0 1h0m1 0h0m2-2h0m0 0h0m18 0h0m7 0h0m-120 5h0m9 2h0m11 0h0m2 0h0m2-1h0m3 1h0m0-2h0m0-1h0m0 3h0m2-2h0m1 1h0m0 0h0m2 1h0m0-2h0m0 1h0m2-2h0m0 3h0m2-3h0m0 1h0m1 0h0m0-1h0m1 1h0m0 0h0m1 0h0m1-1h0m2 0h0m0 0h0m0 2h0m0-1h0m1 2h0m3-2h0m1 1h0m0-1h0m1 2h0m2-3h0m1 2h0m2 0h0m0-1h0m0 1h0m0-2h0m3 2h0m0 1h0m3-3h0m17 0h0m5 2h0m1 0h0m12-2h0m3 2h0m0 0h0m0 0h0m0-1h0m1-1h0m0 3h0m4-3h0m0 0h0m3 0h0m9 3h0m3-1h0m-107 5h0m4-1h0m0-1h0m4 1h0m1 0h0m11 1h0m1-1h0m0-1h0m2-1h0m2 1h0m0-1h0m1 2h0m4 0h0m0-2h0m1 1h0m1 2h0m1-2h0m2 1h0m0-2h0m1 0h0m3 2h0m2 0h0m2-1h0m2 0h0m0 2h0m3-2h0m11-1h0m12 3h0m0-3h0m0 3h0m1-3h0m2 0h0m6 1h0m5 2h0m1-1h0m0 1h0m2-1h0m1 0h0m1 0h0m0-2h0m1 3h0m5 0h0m9-1h0m4 0h0m19-2h0m10 1h0m2 2h0m-142 3h0m1 1h0m2-3h0m1 0h0m0 0h0m1 1h0m0 1h0m4 1h0m2 0h0m3-2h0m1 1h0m2-1h0m1 0h0m1-1h0m4 2h0m0 0h0m1-1h0m3 0h0m4-1h0m9 0h0m0 0h0m1 3h0m1-2h0m8 2h0m7-1h0m3 0h0m0 1h0m4-3h0m0 3h0m0-2h0m4 1h0m0-2h0m1 3h0m0-1h0m2-2h0m3 2h0m2-2h0m9 0h0m2 0h0m4 0h0m3 2h0m15-1h0m0 2h0m0-1h0m7-2h0m2 2h0m2 1h0m2-3h0m6 3h0m5-2h0m0 0h0m4-1h0m-134 4h0m2 0h0m11 1h0m4-1h0m1 2h0m1-1h0m3 2h0m8-2h0m4 0h0m1 1h0m0 1h0m0 0h0m4 0h0m7 0h0m15 0h0m1-2h0m3-1h0m1 2h0m0-1h0m3 1h0m22-2h0m1 3h0m1-3h0m9 3h0m2 0h0m1-3h0m1 2h0m4 1h0m4-2h0m1 2h0m1 0h0m5-1h0m6-2h0m1 1h0m0 2h0m2-2h0m0-1h0m2 3h0m3-3h0m-123 4h0m1 0h0m0 1h0m0-1h0m16 3h0m1-2h0m13-1h0m1 2h0m22 1h0m0-1h0m5 0h0m7-1h0m7 2h0m7-1h0m7 1h0m2 0h0m2-3h0m4 3h0m1 0h0m3 0h0m5-2h0m1 2h0m1-1h0m3 1h0m8 0h0m1-3h0m2 0h0m9 0h0m0 1h0m-121 3h0m16 3h0m0-2h0m1 1h0m12-1h0m16 0h0m2-1h0m4 3h0m4-3h0m4 0h0m1 3h0m1-1h0m0 1h0m3 0h0m4 0h0m0-2h0m1 0h0m3 0h0m1-1h0m4 3h0m3-3h0m2 2h0m3 1h0m4 0h0m3-2h0m1-1h0m1 0h0m0 1h0m1 1h0m2 1h0m2-3h0m2 2h0m3 0h0m4-2h0m0 1h0m0-1h0m1 3h0m12-2h0m2-1h0m0 2h0m2-2h0m-126 5h0m3 2h0m0-3h0m2 1h0m1 2h0m11-1h0m2-2h0m2 0h0m3 0h0m0 3h0m2 0h0m1-3h0m5 1h0m1 1h0m1-2h0m1 2h0m2 1h0m14-1h0m2 0h0m2-1h0m6-1h0m6 0h0m0 2h0m1 1h0m4-3h0m0 1h0m8 1h0m7-1h0m2 1h0m3-1h0m0 2h0m0-3h0m1 2h0m4-1h0m1 2h0m3-1h0m1-2h0m7 1h0m11 2h0m1-2h0m14 1h0m-140 3h0m3 0h0m2 2h0m2-2h0m1-1h0m5 3h0m4 0h0m2-3h0m0 1h0m2 1h0m3-1h0m2-1h0m2 0h0m6 0h0m6 0h0m9 3h0m7 0h0m3-1h0m2-2h0m1 2h0m2-1h0m2 1h0m0 1h0m0-1h0m2-1h0m9 0h0m13 1h0m2-1h0m2 2h0m3-3h0m0 3h0m4 0h0m1 0h0m0-3h0m1 3h0m4-1h0m1-2h0m3 2h0m1 0h0m2-2h0m0 0h0m4 1h0m5 0h0m6 1h0m11 1h0m6 0h0m-149 1h0m2 3h0m2 0h0m1 0h0m0 0h0m2-1h0m3-2h0m5 3h0m1-2h0m4-1h0m0 2h0m0 1h0m2 0h0m8-3h0m3 2h0m7-2h0m6 1h0m1 0h0m1-1h0m1 2h0m3-1h0m1-1h0m0 1h0m10 0h0m1 1h0m7 0h0m7 1h0m1-3h0m4 3h0m8 0h0m4-3h0m1 2h0m4-2h0m2 1h0m2 1h0m1-2h0m2 2h0m1 1h0m1-3h0m0 0h0m1 1h0m1 1h0m2-1h0m0 2h0m0-2h0m1 1h0m2-2h0m1 1h0m1 1h0m5 0h0m8-2h0m1 0h0m1 2h0m18-1h0m2 0h0m-154 5h0m2-2h0m2 3h0m9-1h0m2-2h0m1 2h0m21 1h0m6-3h0m6 2h0m3-2h0m3 0h0m2 1h0m2 1h0m3 1h0m2 0h0m0-2h0m2 1h0m2 1h0m1-3h0m1 2h0m1 1h0m1-3h0m1 2h0m3 1h0m0 0h0m5-2h0m5-1h0m8 2h0m3 0h0m3 1h0m0-3h0m1 0h0m0 0h0m2 1h0m1-1h0m1 2h0m1-1h0m3-1h0m0 1h0m0-1h0m0 3h0m2-2h0m2 1h0m1-2h0m0 2h0m3-1h0m5 0h0m2-1h0m1 0h0m3 1h0m1 0h0m21 2h0m0 0h0m5 0h0m1 0h0m0 0h0m7 0h0m-153 1h0m15 3h0m0 0h0m5-2h0m6 2h0m4-1h0m6 1h0m2-2h0m2 2h0m2-2h0m8 2h0m3 0h0m1-2h0m2 2h0m7-2h0m2 2h0m3-2h0m1-1h0m3 0h0m7 3h0m1 0h0m1 0h0m0-3h0m6 0h0m2 1h0m3 0h0m0 0h0m2 2h0m1-3h0m1 3h0m0-3h0m1 2h0m0 0h0m3-2h0m1 0h0m3 3h0m2-2h0m5 2h0m7-3h0m5 1h0m5-1h0m5 1h0m2 2h0m3-1h0m2-2h0m0 1h0m1 0h0m0 0h0m1 1h0m1-2h0m2 1h0m3 1h0m1-2h0m1 0h0m1 2h0m0 1h0m3-2h0m-146 3h0m0 2h0m0-1h0m7 1h0m0-1h0m1 0h0m12 1h0m0-2h0m4 0h0m2 1h0m17 2h0m2-2h0m1-1h0m0 0h0m3 0h0m6 3h0m7-3h0m1 0h0m1 3h0m2-1h0m2-1h0m4 2h0m1-3h0m15 0h0m1 0h0m1 0h0m1 1h0m0 1h0m5-2h0m7 1h0m19 0h0m0 2h0m2-3h0m3 0h0m2 3h0m2 0h0m3-3h0m5 1h0m4-1h0m-142 5h0m0 1h0m2-1h0m3 0h0m14 0h0m2 0h0m1-1h0m4 0h0m37 1h0m5 2h0m8-3h0m12 1h0m3 0h0m1 1h0m5 1h0m4-3h0m0 2h0m4-1h0m10 2h0m2 0h0m6-2h0m1 2h0m3-3h0m0 1h0m2 1h0m3 1h0m5-1h0m6 1h0m2 0h0m2-1h0m-145 3h0m2-1h0m4 3h0m7-2h0m0 2h0m1-1h0m1 1h0m1 0h0m2 0h0m0 0h0m1 0h0m0-1h0m0-1h0m4 2h0m0 0h0m3-1h0m4-1h0m5 0h0m1-1h0m2 2h0m17 0h0m7 1h0m6 0h0m20-2h0m5 1h0m1 0h0m2 0h0m2-1h0m1 2h0m2-1h0m7-2h0m2 2h0m0 1h0m6 0h0m0-2h0m7-1h0m0 3h0m1 0h0m1-3h0m5 1h0m-133 6h0m4-3h0m3 1h0m4 1h0m0 0h0m3 0h0m0 0h0m4 1h0m2-3h0m2 2h0m1 0h0m1 0h0m1 1h0m1-3h0m0 1h0m2 0h0m1-1h0m1 2h0m3 1h0m8-1h0m11 1h0m3-3h0m4 2h0m11-1h0m2-1h0m2 3h0m2-2h0m3 2h0m1 0h0m4-3h0m7 0h0m10 2h0m1-2h0m2 3h0m2-2h0m1 0h0m0 2h0m1-1h0m6 1h0m2 0h0m6-2h0m0 1h0m2 1h0m9-1h0m3-2h0m3 0h0m1 1h0m2 0h0m-144 5h0m11 1h0m2 0h0m3-2h0m0 0h0m0 1h0m1-1h0m1 0h0m0 1h0m2-2h0m0 1h0m1-1h0m0 2h0m19 0h0m1 1h0m1 0h0m3 0h0m11-3h0m3 2h0m7-1h0m3 2h0m5-1h0m1 0h0m4 0h0m6 1h0m1-2h0m3 1h0m1 1h0m1-2h0m0 1h0m4 0h0m0-2h0m1 0h0m3 0h0m1 0h0m2 0h0m7 0h0m4 2h0m4 0h0m3 1h0m2-1h0m8-2h0m1 3h0m2-3h0m0 3h0m6-1h0m4-1h0m-138 4h0m1 1h0m8 0h0m0-2h0m2 0h0m4 3h0m2-2h0m11 2h0m5 0h0m2 0h0m4-1h0m2 0h0m4-2h0m1 1h0m0 1h0m0 1h0m5-2h0m1 2h0m1 0h0m0-3h0m1 1h0m2-1h0m4 0h0m1 3h0m3-3h0m1 3h0m2-1h0m2 0h0m13-2h0m0 1h0m2-1h0m2 2h0m3 0h0m1 0h0m14-2h0m0 2h0m1-1h0m3 0h0m5-1h0m0 3h0m4 0h0m0-3h0m2 1h0m1 0h0m1-1h0m7 0h0m3 3h0m-109 2h0m2-1h0m1 3h0m4-2h0m0 2h0m1-3h0m0 0h0m5 1h0m1 0h0m0 1h0m8-1h0m4 0h0m1 0h0m1 2h0m1-3h0m1 1h0m1 0h0m0-1h0m1 3h0m5-3h0m2 3h0m1-1h0m3 1h0m0-1h0m24-2h0m0 1h0m4 2h0m17-3h0m3 3h0m2-2h0m2-1h0m2 3h0m3 0h0m1-2h0m2-1h0m0 3h0m0 0h0m1 0h0m0 0h0m-109 3h0m6-2h0m6 0h0m1 0h0m6 0h0m2 1h0m10 0h0m1 0h0m0-1h0m2 1h0m4-1h0m8 1h0m0 1h0m3 1h0m1-3h0m13 3h0m8-3h0m1 2h0m2 0h0m1 0h0m0-2h0m2 2h0m11 0h0m8-2h0m0 0h0m3 0h0m2 2h0m2-2h0m0 2h0m1-1h0m2 1h0m0-1h0m3-1h0m-107 4h0m2 2h0m1 1h0m8-1h0m2 0h0m2-1h0m7-1h0m1 1h0m2 0h0m2 0h0m2 0h0m1 1h0m4-1h0m2-1h0m1 2h0m1 1h0m1-1h0m0 1h0m6-2h0m1 0h0m1 2h0m1-2h0m1 2h0m1-1h0m10 0h0m8-1h0m3 0h0m0-1h0m1 1h0m9 2h0m6-1h0m5 1h0m5 0h0m0-1h0m0-1h0m1 2h0m1-3h0m8 0h0m1 1h0m2 0h0m2-1h0m-116 6h0m1-2h0m0 0h0m4 1h0m1 2h0m1-1h0m1-2h0m4 1h0m1 2h0m1-1h0m1 1h0m1 0h0m3-3h0m1 0h0m2 2h0m7 1h0m1-1h0m10-2h0m1 2h0m1 0h0m4 0h0m1 0h0m0-2h0m24 0h0m1 3h0m2-1h0m0-2h0m9 1h0m5-1h0m1 2h0m6-2h0m6 3h0m0-3h0m1 1h0m1-1h0m1 2h0m2 1h0m4-2h0m0 2h0m1-1h0m0 0h0m4 1h0m2-2h0m-112 3h0m1 2h0m1-1h0m2 2h0m0-2h0m5 1h0m2 1h0m1-3h0m1 0h0m0 3h0m4-3h0m2 0h0m1 1h0m3 1h0m11-1h0m4 0h0m4 1h0m6 0h0m3-1h0m10-1h0m1 2h0m1 1h0m4-2h0m5 1h0m2 1h0m0 0h0m3-3h0m4 2h0m15 1h0m1 0h0m3-1h0m1-2h0m1 1h0m3-1h0m11 3h0m0-1h0m1 1h0m-113 1h0m3 0h0m2 1h0m7 2h0m5-3h0m1 1h0m2 2h0m1-1h0m2 0h0m6 0h0m3-2h0m1 1h0m2-1h0m3 3h0m3-2h0m4 2h0m1-1h0m2 1h0m4-2h0m4-1h0m3 1h0m5 2h0m1-2h0m2 2h0m9-3h0m11 1h0m4 0h0m3-1h0m0 3h0m1 0h0m2-1h0m0 0h0m1-2h0m1 1h0m1 1h0m7-2h0m2 2h0m2-1h0m2 2h0m3-1h0m5 1h0m7 0h0m-130 2h0m14 0h0m3 2h0m0-2h0m1 1h0m13-1h0m5 0h0m1 2h0m5 0h0m0-1h0m0-1h0m6-1h0m2 0h0m21 1h0m7 1h0m3 0h0m3 0h0m0-2h0m3 3h0m4-3h0m4 0h0m0 0h0m1 1h0m2 2h0m2 0h0m1-2h0m2 2h0m8-2h0m3 1h0m0-1h0m-101 3h0m5 3h0m1 0h0m2-1h0m4 0h0m2 0h0m1 1h0m8-2h0m3 1h0m2 1h0m1 0h0m0-1h0m0 1h0m1-1h0m0 1h0m4-2h0m1 1h0m0 0h0m11 0h0m1 1h0m13-2h0m5 1h0m2 1h0m2-2h0m5 0h0m1-1h0m1 1h0m2 1h0m10-1h0m1 0h0m1 0h0m1 1h0m1 1h0m4-1h0m2-1h0m3 1h0m1 1h0m0-2h0m1 1h0m7-1h0m0 0h0m0-1h0m10 3h0m2 0h0m-133 1h0m0 0h0m1 0h0m2 3h0m9-3h0m2 1h0m5 0h0m4 2h0m3-1h0m1 0h0m1-1h0m7 0h0m5 0h0m0 1h0m2-2h0m1 3h0m2 0h0m0-1h0m1-1h0m7 1h0m1 1h0m1-2h0m4 0h0m0 0h0m5-1h0m4 1h0m3 1h0m0-2h0m1 3h0m5-3h0m1 0h0m3 1h0m0 2h0m1 0h0m1-2h0m5-1h0m2 1h0m0 2h0m5-3h0m3 0h0m1 3h0m0 0h0m1 0h0m0 0h0m1 0h0m1-1h0m3 0h0m0-1h0m3-1h0m4 2h0m6 1h0m18-1h0m0 1h0m1-2h0m2 0h0m2 1h0m-141 3h0m5 0h0m4 1h0m4-2h0m2 0h0m2 3h0m3-2h0m3 1h0m1 0h0m4-1h0m1 0h0m1 0h0m2-1h0m4 2h0m1-2h0m5 3h0m2 0h0m7-3h0m0 2h0m4-2h0m1 1h0m0 1h0m25-2h0m3 0h0m1 2h0m6 0h0m5-1h0m0 0h0m2 0h0m0 2h0m1-2h0m5 2h0m3 0h0m2-2h0m5-1h0m17 0h0m3 2h0m1-2h0m0 1h0m1 1h0m0 1h0m1-1h0m7 1h0m-140 3h0m5-2h0m1 0h0m1 3h0m7-3h0m16 1h0m15 1h0m1 0h0m1-1h0m7 0h0m0 2h0m4-3h0m1 3h0m1-3h0m6 3h0m4-1h0m1 1h0m4 0h0m3 0h0m5-3h0m0 1h0m5 1h0m2 0h0m2-1h0m3-1h0m7 3h0m9-1h0m6 0h0m3 1h0m7-1h0m0-1h0m2-1h0m4 2h0m4-1h0m5 2h0m1-2h0m4 1h0m3-2h0m5 3h0m9 0h0m12-3h0m1 3h0m-172 2h0m1 0h0m3-1h0m4 1h0m6 1h0m14-2h0m0 0h0m2 1h0m8-1h0m1 1h0m2 2h0m2 0h0m1-1h0m1-2h0m6 1h0m0 0h0m4 0h0m8 1h0m0 0h0m5-2h0m2 1h0m0-1h0m0 2h0m2-2h0m1 2h0m0 1h0m1 0h0m1 0h0m0-2h0m5 2h0m2-1h0m2-1h0m0 1h0m2 0h0m0-2h0m4 3h0m9-3h0m0 3h0m2-2h0m0 0h0m4 2h0m2-1h0m3 0h0m0-1h0m1 0h0m7 0h0m0-1h0m1 3h0m1-3h0m3 1h0m0 1h0m1-1h0m1 2h0m1-2h0m1 0h0m1 0h0m7 2h0m1-1h0m1-1h0m1-1h0m1 2h0m1-1h0m1 0h0m1 0h0m0 2h0m3-2h0m0 2h0m3-1h0m10-1h0m2 2h0m1 0h0m0 0h0m3-1h0m1-1h0m1 1h0m0 0h0m1-1h0m1 2h0m1-2h0m4 2h0m-171 1h0m28 3h0m2 0h0m10-2h0m5 2h0m5-3h0m6 0h0m2 0h0m0 1h0m2 0h0m4-1h0m7 1h0m7-1h0m8 2h0m9-2h0m1 1h0m0 1h0m1-2h0m1 3h0m3-3h0m0 1h0m1 1h0m3 1h0m0-3h0m1 3h0m0 0h0m2 0h0m1-1h0m2 0h0m8-1h0m2 2h0m0 0h0m0-2h0m1 1h0m2-2h0m9 1h0m1 1h0m0 0h0m5 1h0m6-2h0m0 1h0m1-1h0m4-1h0m9 1h0m5 2h0m0-3h0m1 2h0m1-1h0m0 0h0m2 1h0m-174 5h0m25-2h0m3 0h0m3 1h0m1 1h0m2 0h0m5-2h0m1 0h0m3-1h0m1 0h0m8 0h0m5 1h0m6 0h0m1-1h0m10 3h0m2-3h0m1 3h0m0 0h0m0-1h0m1-1h0m0 2h0m6 0h0m2 0h0m10-3h0m3 0h0m0 1h0m2 1h0m8-2h0m2 1h0m1-1h0m0 3h0m5 0h0m2-3h0m2 1h0m5-1h0m11 2h0m2 0h0m4-1h0m0 0h0m2 1h0m1 0h0m0 1h0m2 0h0m0-2h0m2 0h0m2 1h0m2-1h0m1-1h0m3 0h0m0 0h0m5 0h0m1 0h0m3 0h0m5 0h0m-169 5h0m4 0h0m0 0h0m20-1h0m6 2h0m2-1h0m2-1h0m3 3h0m2 0h0m5-1h0m6-1h0m1 1h0m16 0h0m2-1h0m2 2h0m0-3h0m5 1h0m1 1h0m14 0h0m3 1h0m1-1h0m4 1h0m1-3h0m0 2h0m3 0h0m3 0h0m5-1h0m0 0h0m1 2h0m2 0h0m14-2h0m0-1h0m1 1h0m9 1h0m6-1h0m5-1h0m2 1h0m2 1h0m8-2h0m1 3h0m4 0h0m-138 3h0m15-2h0m1 0h0m0 3h0m7-1h0m1 1h0m3-2h0m1 1h0m0-1h0m2 0h0m0-1h0m0 2h0m1 1h0m3-1h0m9-2h0m8 1h0m6 2h0m1-2h0m5 0h0m4 0h0m3 2h0m7-2h0m6 2h0m1-2h0m2 1h0m1-2h0m1 1h0m17 1h0m4-2h0m1 3h0m0-3h0m1 3h0m0 0h0m1-2h0m3-1h0m11 3h0m3-2h0m2 1h0m1-2h0m6 1h0m6-1h0m3 3h0m9 0h0m-170 3h0m2 0h0m19 1h0m18-1h0m8 1h0m1-3h0m0 2h0m1 1h0m2-2h0m5 2h0m0-3h0m0 3h0m3-1h0m5 0h0m2 0h0m2 1h0m3 0h0m1 0h0m0-2h0m10 1h0m12 1h0m7-2h0m1-1h0m4 0h0m0 2h0m8 1h0m4-2h0m0 1h0m3 0h0m1-2h0m1 3h0m2-2h0m2-1h0m0 1h0m4-1h0m0 1h0m1 2h0m7-1h0m1-1h0m1 0h0m10 2h0m7 0h0m2 0h0m-143 2h0m4 0h0m7 1h0m1 1h0m0-2h0m8 1h0m6-1h0m2-1h0m1 3h0m0-3h0m0 3h0m4-3h0m5 1h0m6-1h0m3 2h0m2 0h0m1 1h0m0 0h0m5-1h0m5 0h0m0 1h0m3-2h0m5-1h0m1 1h0m7-1h0m9 2h0m7 0h0m4 1h0m4 0h0m2-2h0m4 2h0m0-3h0m2 0h0m20 3h0m10 0h0m3-2h0m4 0h0m-139 5h0m10-2h0m6 0h0m0 0h0m1 0h0m3 3h0m1 0h0m0 0h0m7 0h0m5 0h0m13-3h0m1 3h0m2-1h0m0-1h0m3 2h0m0-3h0m1 2h0m0-2h0m3 1h0m2 2h0m0-2h0m1 1h0m4 1h0m1-2h0m4 2h0m0-1h0m1 1h0m5-3h0m17 3h0m1-2h0m0-1h0m0 2h0m2-1h0m5 0h0m1 2h0m8-3h0m1 2h0m4-1h0m2 1h0m2 1h0m5 0h0m0-2h0m0 0h0m7-1h0m1 0h0m4 0h0m0 2h0m1 0h0m2 1h0m1-3h0m0 2h0m4-1h0m2 0h0m-156 6h0m0-2h0m3 2h0m3-2h0m1 1h0m6-1h0m0 2h0m6-1h0m0-2h0m1 0h0m5 2h0m4 1h0m0-2h0m1-1h0m0 0h0m4 3h0m1-2h0m7 1h0m10-1h0m1 0h0m2-1h0m4 2h0m2-1h0m1 0h0m2-1h0m1 2h0m2 0h0m1 0h0m1-2h0m5 2h0m4 1h0m3-3h0m2 1h0m5 2h0m10 0h0m2-3h0m4 3h0m1 0h0m0-1h0m1 1h0m2-1h0m0-1h0m2 1h0m2-1h0m1 2h0m0 0h0m1-1h0m1 0h0m1-1h0m0-1h0m0 0h0m1 1h0m1 0h0m8 2h0m1-1h0m0-2h0m2 3h0m1-1h0m0-2h0m0 0h0m0 2h0m2-2h0m2 0h0m6 1h0m3 0h0m1-1h0m2 2h0m0 0h0m1-2h0m0 1h0m3 1h0m1 1h0m1-3h0m1 3h0m1 0h0m-156 1h0m5 1h0m1-1h0m0 0h0m1 2h0m7 1h0m3-2h0m13 1h0m0-2h0m4 0h0m1 2h0m0 1h0m6-3h0m5 2h0m2-2h0m0 3h0m2-2h0m7 0h0m2 2h0m1-2h0m2 0h0m2 0h0m0 0h0m9 2h0m4 0h0m0-2h0m4 1h0m1-1h0m7 1h0m0-1h0m4 0h0m4 0h0m1 0h0m2 2h0m6 0h0m9-2h0m1-1h0m3 2h0m10-2h0m1 0h0m0 0h0m1 0h0m1 0h0m0 2h0m2 1h0m16-3h0m2 0h0m1 1h0m1 0h0m1-1h0m1 3h0m0 0h0m0-3h0m1 1h0m-145 6h0m2-3h0m2 2h0m5-2h0m3 0h0m5 1h0m3 2h0m0-2h0m1 1h0m1-2h0m0 3h0m2 0h0m11 0h0m4-3h0m12 3h0m13-1h0m0 1h0m0-3h0m2 2h0m0-1h0m0-1h0m1 2h0m2 1h0m1-3h0m3 0h0m3 0h0m6 2h0m3-2h0m3 2h0m3 1h0m1-1h0m2-2h0m1 0h0m3 2h0m10-2h0m4 0h0m2 1h0m3-1h0m4 0h0m1 0h0m14 0h0m1 2h0m2 1h0m1-2h0m-145 6h0m5-1h0m1 1h0m7-2h0m4-1h0m2 0h0m2 3h0m1-1h0m1 0h0m4 1h0m1-2h0m1 2h0m10-3h0m1 3h0m2 0h0m2-2h0m0 0h0m11-1h0m0 0h0m3 3h0m2-2h0m4 1h0m1 1h0m2-3h0m3 0h0m1 2h0m7-1h0m1-1h0m11 1h0m4-1h0m5 0h0m3 3h0m5-1h0m1 1h0m0-1h0m0-1h0m1 2h0m6 0h0m4-2h0m3 0h0m1-1h0m11 3h0m3-2h0m4 0h0m1 2h0m3-2h0m6-1h0m4 3h0m-164 1h0m9 2h0m1-2h0m2 0h0m4 3h0m3-3h0m4 0h0m3 0h0m4 2h0m3-2h0m2 0h0m0 3h0m1-1h0m4 0h0m15-1h0m2 2h0m2-1h0m8-1h0m4 2h0m4-2h0m2-1h0m0 1h0m2 0h0m2 0h0m10 1h0m8-2h0m7 1h0m9 0h0m6 1h0m1 0h0m1-2h0m10 1h0m1-1h0m0 3h0m4-1h0m5 0h0m2-1h0m5 1h0m13 1h0m1-2h0m14 1h0m-150 2h0m9 3h0m3-2h0m16 1h0m2 1h0m6 0h0m0 0h0m5-3h0m5 1h0m6 0h0m9 2h0m8-3h0m1 3h0m1-2h0m2-1h0m2 2h0m11-1h0m5 0h0m0-1h0m0 1h0m9 2h0m2-3h0m4 1h0m0 1h0m0 1h0m2-2h0m1 1h0m0 1h0m2-3h0m1 1h0m4 0h0m7-1h0m1 2h0m2 0h0m3 1h0m3-2h0m5-1h0m4 3h0m4-1h0m7 1h0m2 0h0m-170 1h0m2 2h0m1 1h0m0 0h0m0 0h0m4-1h0m1 1h0m2-3h0m3 1h0m2-1h0m1 3h0m1 0h0m3-1h0m4 1h0m0-1h0m2-2h0m3 2h0m1 0h0m2 1h0m3-3h0m1 2h0m6 0h0m0-1h0m2-1h0m1 0h0m1 3h0m3-1h0m3-2h0m3 1h0m5 0h0m0 0h0m1 0h0m10 2h0m5 0h0m2-3h0m0 0h0m3 0h0m7 1h0m3 0h0m4 2h0m0-2h0m2 0h0m0-1h0m5 1h0m1 1h0m4 1h0m1-1h0m1 0h0m4 1h0m1 0h0m10-2h0m8 1h0m2 1h0m0-1h0m4 0h0m6-1h0m1-1h0m7 0h0m4 2h0m-154 4h0m1-2h0m2 2h0m3-1h0m2 2h0m2-2h0m3 1h0m1-2h0m4 2h0m0-2h0m2 3h0m1-1h0m0 1h0m1-3h0m1 0h0m8 3h0m1 0h0m1-3h0m5 3h0m2 0h0m0-1h0m0 0h0m1 0h0m1 0h0m1-2h0m2 3h0m2-2h0m10 1h0m4 0h0m6 1h0m3-3h0m6 1h0m2 2h0m0 0h0m3-1h0m5 1h0m14-2h0m11 0h0m3 0h0m3 1h0m4 0h0m10 0h0m7-2h0m0 1h0m3 2h0m2-3h0m24 1h0m-164 5h0m2 0h0m3-1h0m0-1h0m1 0h0m0 0h0m5 3h0m6-2h0m5 1h0m2-2h0m5 3h0m2 0h0m0-2h0m4-1h0m1 1h0m16 0h0m4 1h0m9-2h0m5 0h0m3 1h0m1 0h0m13-1h0m11 1h0m11 1h0m5-1h0m2-1h0m1 2h0m15 1h0m1-3h0m3 0h0m13 1h0m7-1h0" stroke="#999" stroke-width="1" stroke-linecap="square"/>
<path d="M252.5 87.5h0m2-1h0m-8 6h0m2-1h0m1 0h0m17 0h0m-18 4h0m6-1h0m-10 4h0m18 0h0m3 2h0m2 0h0m-1 2h0m-23 5h0m1 0h0m14 0h0m86 19h0m-52 5h0m4 0h0m10 1h0m2 1h0m7-3h0m2 0h0m9 0h0m2 2h0m6 0h0m3 1h0m13-2h0m-60 3h0m0 1h0m8 0h0m1 1h0m2 1h0m0-3h0m1 2h0m3-2h0m4 3h0m3-3h0m0 2h0m2 0h0m3 1h0m26-2h0m0 0h0m-65 6h0m2-3h0m6 3h0m3-1h0m2-2h0m34 3h0m1 0h0m3-1h0m5 0h0m2-2h0m-57 5h0m6 2h0m1-2h0m18 0h0m0 1h0m1 1h0m1-3h0m4 1h0m17-1h0m3 0h0m3 0h0m2 2h0m1-2h0m5 0h0m-56 7h0m3-1h0m3-2h0m7 1h0m2-1h0m1 3h0m1 0h0m3-2h0m16 1h0m6-1h0m10 2h0m-62 4h0m8-2h0m11 2h0m1-1h0m27-1h0m2-1h0m6 3h0m1-1h0m7 1h0m-42 3h0m5-2h0m2 1h0m7 2h0m22 0h0m4 0h0m2-2h0m5-1h0m-43 7h0m6-1h0m9 1h0m4-3h0m5 3h0m9-2h0m8 1h0m4-1h0m-60 3h0m9 2h0m3 0h0m0 1h0m14-3h0m1 1h0m1 0h0m1 2h0m1-2h0m11 0h0m10-1h0m5 3h0m-44 1h0m1 0h0m14 3h0m10-2h0m6 0h0m0 1h0m1 0h0m5-1h0m8 1h0m-37 4h0m11-1h0m0 2h0m8-1h0m8-1h0m0 0h0m8 1h0m14 1h0m4-2h0m1 2h0m1-1h0m2-1h0m3-1h0m1 0h0m2 2h0m0-1h0m5 1h0m17-2h0m3 1h0m-107 3h0m4 3h0m6-3h0m2 3h0m18-2h0m4 0h0m7 2h0m3-1h0m4 0h0m1 0h0m5 0h0m9 0h0m1-2h0m9 2h0m3-1h0m4 2h0m1-2h0m4 2h0m-77 4h0m10-2h0m0 2h0m1-1h0m7 0h0m11-2h0m3 1h0m1-1h0m10 1h0m34-1h0m-59 5h0m3 0h0m1-1h0m1 1h0m3 1h0m3 0h0m3 1h0m10 0h0m4-1h0m-33 2h0m6 0h0m3 4h0m5 1h0m19 0h0m3 2h0m-31 3h0m7 1h0m9-1h0m6-2h0m7 2h0m6 1h0m-54 1h0m14 3h0m5-1h0m10 1h0m1-2h0m0 0h0m5 1h0m1 0h0m10-1h0m7-1h0m-39 6h0m3 1h0m9-2h0m2 0h0m5-1h0m5 0h0m5 2h0m1 1h0m2-2h0m-19 3h0m11 3h0m3-2h0m-23 4h0m1 2h0m11 0h0m3-1h0m4-2h0m-14 5h0m5 2h0m-4 3h0m3-2h0m3 1h0m4 0h0m4-1h0m3 0h0m-17 7h0m78-3h0m4 2h0m0 0h0m11-1h0m1 1h0m7-1h0m8 2h0m-101 1h0m1 1h0m17 1h0m0 1h0m5-2h0m2-1h0m1 0h0m9 2h0m1-2h0m5 3h0m1 0h0m8-1h0m2-1h0m8 1h0m7 0h0m7 0h0m0-1h0m10 0h0m4 2h0m6-1h0m0 1h0m0-1h0m-87 4h0m5-1h0m0 0h0m2 2h0m3 0h0m21-3h0m1 2h0m5-1h0m3 1h0m1-1h0m2-1h0m3 1h0m1 0h0m15-1h0m7 3h0m7-1h0m10 0h0m1-1h0m4 0h0m4-1h0m1 0h0m1 1h0m-95 6h0m4-1h0m1 1h0m13-3h0m1 1h0m7 2h0m2-3h0m0 0h0m1 3h0m4-1h0m1 1h0m2-3h0m2 3h0m1-1h0m1-1h0m1 1h0m3-1h0m7 2h0m0-3h0m3 1h0m17-1h0m2 0h0m1 2h0m4-2h0m2 3h0m3-2h0m10-1h0m19 3h0m0-1h0m1 1h0m-113 2h0m7-1h0m5 3h0m2-1h0m18-2h0m13 1h0m3 0h0m17-1h0m4 0h0m0 3h0m1-3h0m2 2h0m6 1h0m5-1h0m0-1h0m21 2h0m13 0h0m1 0h0m0 0h0m1-2h0m-118 3h0m3 2h0m2 1h0m3 0h0m0-2h0m6-1h0m2 1h0m0 2h0m4 0h0m2-3h0m5 3h0m0-3h0m4 2h0m1-2h0m1 3h0m3 0h0m0-2h0m2 0h0m1 1h0m3 0h0m14-2h0m2 1h0m1 1h0m10-2h0m3 0h0m1 1h0m1-1h0m4 2h0m20-1h0m3-1h0m14 1h0m1 0h0m3 2h0m-126 4h0m7 0h0m1-3h0m2 0h0m2 3h0m7-2h0m4-1h0m4 0h0m3 2h0m2-1h0m3 2h0m3-1h0m1-1h0m2 0h0m3-1h0m4 3h0m8-1h0m6-2h0m6 3h0m12-2h0m2 0h0m7-1h0m5 3h0m6-2h0m4 1h0m16 1h0m11-1h0m3-1h0m-125 4h0m0 2h0m0-1h0m2-2h0m9 2h0m7 0h0m1-1h0m1 0h0m1 1h0m12-1h0m8-1h0m6 0h0m2 3h0m6-3h0m14 2h0m8 1h0m5 0h0m0-2h0m1 2h0m8-1h0m3-2h0m0 2h0m18 0h0m2 1h0m2-1h0m9-1h0m1 2h0m0-1h0m2 0h0m0 1h0m-133 3h0m5 1h0m0 0h0m0-2h0m3 1h0m1-2h0m2 1h0m1-1h0m1 3h0m0 0h0m2-1h0m3 1h0m0-3h0m0 3h0m3 0h0m0-3h0m1 1h0m3-1h0m6 2h0m0-1h0m2 0h0m0-1h0m2 2h0m1 0h0m7 0h0m25-2h0m1 1h0m5 0h0m0 1h0m0 1h0m1-1h0m0 1h0m1 0h0m1-1h0m3 0h0m1 1h0m1-3h0m3 2h0m1 0h0m0 1h0m1-3h0m7 2h0m2-1h0m14 1h0m3 0h0m2-2h0m1 2h0m0-2h0m1 1h0m4-1h0m3 2h0m3 0h0m0 0h0m4 1h0m1-3h0m-130 5h0m3-1h0m2 3h0m7-3h0m4 1h0m1 1h0m1 1h0m3-2h0m1 0h0m4 0h0m1-1h0m1 3h0m5-1h0m11-2h0m21 2h0m4-2h0m0 0h0m1 0h0m1 3h0m4-3h0m1 0h0m3 2h0m1 0h0m1-1h0m1 2h0m4-3h0m4 2h0m5-1h0m0 2h0m1 0h0m4-3h0m4 1h0m1-1h0m1 3h0m4-2h0m1 2h0m7-1h0m0-1h0m2 0h0m0 0h0m1-1h0m0 2h0m0 0h0m0 1h0m6-3h0m2 3h0m1-1h0m4 1h0m1 0h0m-126 4h0m0 0h0m5 0h0m1-3h0m1 1h0m9 1h0m0-2h0m8 2h0m4-2h0m10 2h0m12 0h0m2 0h0m2 1h0m1-2h0m7 1h0m0 1h0m2-1h0m3-2h0m6 0h0m4 1h0m7 0h0m12 1h0m7-1h0m2 0h0m2 1h0m3-1h0m1-1h0m1 3h0m2 0h0m1-2h0m0 1h0m3 1h0m1-1h0m1 1h0m10 0h0m1-1h0m0 1h0m-129 3h0m13 1h0m8-3h0m18 2h0m3 0h0m3-2h0m1 0h0m4 2h0m5 1h0m1 0h0m0-2h0m8 1h0m3-2h0m2 0h0m1 0h0m2 0h0m5 0h0m2 0h0m14 3h0m7 0h0m1-1h0m0-2h0m1 1h0m0 1h0m2 0h0m0-1h0m3 1h0m4-2h0m6 2h0m0 0h0m0-1h0m6 1h0m0 0h0m1-2h0m2 0h0m4 3h0m3-1h0m1 1h0m-131 2h0m11 2h0m1 0h0m13-1h0m8-2h0m8 2h0m1 0h0m4-1h0m1 0h0m8 2h0m1 0h0m21-3h0m2 2h0m9-1h0m7 1h0m1 0h0m2 1h0m2 0h0m1-1h0m0-2h0m3 2h0m2 0h0m1 0h0m10-2h0m5 3h0m3 0h0m4 0h0m-122 2h0m1-1h0m15 1h0m5 2h0m0 0h0m7-2h0m0 1h0m2-1h0m0 1h0m2-2h0m5 1h0m11 2h0m5 0h0m8 0h0m9-3h0m1 0h0m8 1h0m3 0h0m2 0h0m1-1h0m1 3h0m11-3h0m18 2h0m-107 3h0m3 0h0m6-1h0m12 2h0m8 1h0m8 0h0m1-1h0m4-2h0m2 1h0m1 0h0m4 1h0m2 0h0m7 0h0m12-2h0m1 1h0m4 1h0m4-2h0m0 1h0m4 2h0m5 0h0m3-3h0m4 3h0m2-2h0m11 1h0m1 1h0m-119 1h0m3 0h0m4 1h0m12 2h0m2 0h0m2-3h0m0 0h0m6 0h0m11 2h0m5-1h0m5-1h0m0 1h0m2 2h0m0-3h0m3 1h0m1 1h0m19-1h0m4 1h0m4 0h0m8 0h0m7 1h0m0-1h0m6-2h0m14 2h0m-107 5h0m4-1h0m3-2h0m1 3h0m4-1h0m6-2h0m1 2h0m0-2h0m1 3h0m5-1h0m1-2h0m3 0h0m7 1h0m2 1h0m2-1h0m0-1h0m1 3h0m18 0h0m8-2h0m10 1h0m1-1h0m3 2h0m2-3h0m3 2h0m3 1h0m2 0h0m8-1h0m25 0h0m-131 4h0m1-1h0m12 2h0m9-1h0m4-1h0m1-1h0m1 0h0m9 3h0m6-2h0m1 1h0m0-2h0m1 3h0m1 0h0m1-2h0m2-1h0m1 0h0m2 2h0m6-1h0m20 1h0m1-2h0m6 1h0m1 1h0m8-1h0m2-1h0m1 3h0m1-2h0m12 1h0m27-1h0m-132 4h0m4 0h0m6 0h0m6 0h0m4-1h0m1 3h0m2 0h0m7-1h0m3 0h0m0 0h0m0-1h0m17 1h0m6 0h0m5-1h0m6 1h0m1-1h0m6-1h0m5 0h0m9 1h0m20 0h0m21-1h0m8 1h0m-129 4h0m9 2h0m9-2h0m17-1h0m21 1h0m1 2h0m34-3h0m7 1h0m0 2h0m2-3h0m1 0h0m3 1h0m1 0h0m4 2h0m10-3h0m6 2h0m-111 4h0m24-2h0m20 2h0m0-2h0m28 0h0m10 3h0m3-2h0m4-1h0m2 0h0m4 1h0m17 1h0m-120 2h0m3 3h0m5-1h0m5-1h0m12 2h0m14 0h0m12 0h0m5-1h0m2-2h0m12 3h0m5 0h0m1-2h0m2-1h0m6 1h0m3-1h0m2 1h0m3 1h0m2 1h0m2 0h0m2 0h0m1-2h0m2 2h0m4-2h0m2 2h0m24 0h0m2 0h0m-133 3h0m4 1h0m7-2h0m7 1h0m9-1h0m3-1h0m2 1h0m2 2h0m4-1h0m2-2h0m4 0h0m19 3h0m3-1h0m1-2h0m2 3h0m3 0h0m0-2h0m1 0h0m1 1h0m3 1h0m3-1h0m1-1h0m4 1h0m1-2h0m1 0h0m3 1h0m1 0h0m3-1h0m2 3h0m4-1h0m2 0h0m6 1h0m4-1h0m5 1h0m2-2h0m12 0h0m3 1h0m6 1h0m1-1h0m-138 3h0m2 1h0m1-2h0m1 3h0m0-3h0m3 3h0m4-1h0m0-1h0m2 2h0m4-1h0m4 1h0m23-3h0m1 0h0m12 1h0m1 0h0m0 0h0m4 0h0m1 2h0m2-2h0m1 1h0m8 1h0m1-3h0m1 0h0m8 2h0m5-1h0m3-1h0m13 2h0m1-1h0m4 1h0m36 1h0m-154 1h0m10 0h0m7 3h0m20-2h0m2-1h0m9 2h0m1-2h0m2 0h0m1 0h0m2 1h0m1-1h0m9 0h0m2 2h0m1-1h0m1 0h0m2 2h0m10 0h0m4-3h0m0 2h0m15 1h0m3-1h0m1-2h0m0 3h0m0-1h0m3-1h0m5 1h0m0 0h0m4 0h0m0 1h0m3-3h0m14 0h0m0 0h0m10 3h0m1-2h0m2 1h0m3-2h0m1 0h0m2 0h0m2 2h0m8-1h0m0 0h0m-157 4h0m2-1h0m0 1h0m10-1h0m2 0h0m4 3h0m29-3h0m1 2h0m7 0h0m1 0h0m4 1h0m1-1h0m3 0h0m2 1h0m12-1h0m3 1h0m2 0h0m2 0h0m3-2h0m7 2h0m1-1h0m2 1h0m0-3h0m0 1h0m2 1h0m1 1h0m3-2h0m3-1h0m0 3h0m1 0h0m2 0h0m18-2h0m2 1h0m0 1h0m3-2h0m1-1h0m18 0h0m4 2h0m-133 3h0m4 1h0m4-1h0m7 0h0m0 1h0m22-1h0m1-1h0m2 0h0m6 1h0m1 1h0m13-1h0m11-1h0m3 3h0m2 0h0m1 0h0m8-1h0m15 0h0m8 0h0m1-2h0m8 2h0m2 0h0m4 1h0m9-2h0m2 0h0m2-1h0m-145 7h0m0 0h0m0 0h0m1-2h0m17 1h0m2 1h0m1-1h0m19 0h0m1-1h0m3 1h0m17-2h0m12 1h0m3 2h0m15 0h0m0-2h0m3 2h0m0-3h0m2 2h0m3 0h0m1-1h0m6 2h0m1-2h0m2 2h0m16 0h0m25 0h0m-159 1h0m1 2h0m15-2h0m12 3h0m1 0h0m27-3h0m2 0h0m16 2h0m5 1h0m2 0h0m2-1h0m8-1h0m16-1h0m1 2h0m2-2h0m19 2h0m4 0h0m1 1h0m3-3h0m0 1h0m-132 3h0m3 0h0m3 2h0m28-2h0m61 3h0m4 0h0m4-2h0m3 0h0m1 0h0m1 2h0m20 0h0m3 0h0m0-2h0m2 1h0m0-2h0m2 2h0m3 0h0m9 1h0m-145 4h0m2-2h0m4 0h0m3 2h0m2-2h0m3 0h0m1 0h0m1 1h0m7-1h0m4-1h0m1 1h0m11-1h0m23 3h0m1-1h0m1-2h0m0 2h0m10 0h0m10-2h0m7 2h0m2-1h0m2 2h0m0-3h0m2 0h0m1 1h0m1-1h0m0 3h0m9 0h0m4-3h0m0 2h0m12-1h0m1-1h0m3 1h0m4-1h0m1 2h0m1 0h0m3 1h0m4 0h0m0-3h0m-138 4h0m9 3h0m1-2h0m5 2h0m1 0h0m2-3h0m1 1h0m2 0h0m3 2h0m0-1h0m2 1h0m15-3h0m7 2h0m5-1h0m1 2h0m7-1h0m3-2h0m1 3h0m1 0h0m0-3h0m0 0h0m1 1h0m4-1h0m15 0h0m4 0h0m15 1h0m13-1h0m0 0h0m0 0h0m1 1h0m1-1h0m3 1h0m7 2h0m-114 1h0m1 1h0m1-1h0m6 2h0m4 1h0m12 0h0m7-1h0m5 0h0m0-2h0m2 0h0m9 1h0m1 2h0m1-1h0m15-2h0m7 2h0m7 1h0m1 0h0m2-1h0m10 1h0m2-2h0m5 1h0m4 1h0m2-3h0m3 0h0m2 3h0m2-3h0m3 1h0m2 1h0m-115 3h0m11 1h0m0-1h0m1-1h0m6 3h0m1-2h0m2 1h0m1-2h0m1 1h0m1-1h0m6 1h0m1 1h0m8-1h0m1 1h0m0-1h0m2-1h0m0 1h0m1 1h0m4-1h0m1 0h0m18 0h0m1 0h0m1 2h0m1 0h0m3-1h0m4-2h0m1 1h0m2 0h0m2 2h0m2 0h0m5-3h0m14 0h0m2 0h0m2 2h0m0-1h0m2 1h0m0-1h0m1-1h0m2 1h0m-107 3h0m8 1h0m10 0h0m1-1h0m2 0h0m12 0h0m6 2h0m5 0h0m12-1h0m3-1h0m11 0h0m1 2h0m0 1h0m1-3h0m1 1h0m1 0h0m1 2h0m6-1h0m22-2h0m2 0h0m4 2h0m-110 5h0m4 0h0m2 0h0m2-2h0m1-1h0m4 1h0m0 1h0m18-1h0m0 0h0m7 1h0m6-2h0m0 1h0m7 2h0m2 0h0m6 0h0m15-3h0m1 3h0m4 0h0m3 0h0m9-1h0m4 1h0m7 0h0m7 0h0m2-3h0m5 2h0m-118 2h0m15 3h0m1-2h0m4 1h0m6-2h0m12 1h0m2 2h0m12-1h0m8-2h0m13 0h0m22 2h0m3-2h0m1 0h0m2 0h0m1 0h0m2 2h0m3 1h0m3-1h0m2 0h0m-107 2h0m4 1h0m10 0h0m3-1h0m1 3h0m0-2h0m11 1h0m9-1h0m4 1h0m3-1h0m3-1h0m10 3h0m14-1h0m1-1h0m17-1h0m2 1h0m1 0h0m1 2h0m0-2h0m1 0h0m1 2h0m1-1h0m0 1h0m1-3h0m1 1h0m1 2h0m0 0h0m0-1h0m1-1h0m7 0h0m6 2h0m-115 1h0m5 2h0m1-2h0m7 2h0m0-2h0m3 3h0m5-1h0m2-1h0m11 1h0m0-2h0m37 3h0m5 0h0m3-2h0m11-1h0m10 1h0m0 0h0m2 2h0m7-1h0m18 1h0m-123 3h0m4 0h0m2 0h0m4-2h0m10 0h0m1 1h0m9 0h0m7 1h0m3 0h0m1-1h0m7 0h0m3 2h0m4-2h0m32 2h0m1-1h0m5-1h0m1 2h0m1-1h0m1 1h0m0 0h0m1-3h0m1 1h0m5 2h0m9-3h0m3 1h0m12 0h0m-123 4h0m7 2h0m3-2h0m1 0h0m6-1h0m0 2h0m2-1h0m2-1h0m6 3h0m8-1h0m1 1h0m1 0h0m2-1h0m4-1h0m4-1h0m17 1h0m3 2h0m11-3h0m3 0h0m10 1h0m2 0h0m0-1h0m4 2h0m3-1h0m0 0h0m0 1h0m0-2h0m1 3h0m6-2h0m0 2h0m1-3h0m1 3h0m1-2h0m1 1h0m7-1h0m-119 5h0m23 1h0m1-1h0m9 0h0m0 1h0m17-1h0m1-2h0m16 2h0m2-2h0m12 3h0m2-1h0m17 0h0m3 1h0m1-2h0m0 1h0m9 0h0m15-1h0m1 2h0m2 0h0m2-2h0m1 0h0m7 0h0m-140 3h0m6 1h0m6 1h0m13-2h0m27 0h0m2 0h0m2 3h0m7-2h0m30-1h0m8 1h0m2 0h0m1 1h0m2-2h0m11 1h0m3 2h0m13-2h0m-122 4h0m4 2h0m0-3h0m9 0h0m22 3h0m1-1h0m0 0h0m25 0h0m0-1h0m12 2h0m0-2h0m3 0h0m16 1h0m0-1h0m5 2h0m0-2h0m2 1h0m1-1h0m25 2h0m8-1h0m0 1h0m8-1h0m16 1h0m1-3h0m-164 4h0m3 1h0m9 1h0m14-2h0m2 3h0m13-1h0m14-2h0m12 2h0m7-1h0m9 2h0m2-3h0m8 0h0m4 0h0m2 3h0m0-1h0m9 0h0m3-1h0m4 1h0m3-1h0m2 2h0m13-3h0m2 0h0m1 1h0m8 1h0m3-1h0m3 1h0m7-2h0m3 0h0m5 0h0m1 3h0m2-2h0m1 2h0m-157 2h0m9 1h0m22 1h0m25-2h0m6 1h0m4-2h0m20 2h0m4-1h0m4-1h0m4 2h0m2 0h0m2 1h0m7 0h0m4-2h0m4 1h0m3-2h0m2 2h0m1-1h0m5 0h0m4 0h0m2 1h0m17-1h0m1 0h0m1 1h0m2-1h0m2 1h0m1-1h0m-151 4h0m11 1h0m0 1h0m3-2h0m3 2h0m5-2h0m36 1h0m1-2h0m2 1h0m4 1h0m15-1h0m1 2h0m6-2h0m4 1h0m0 0h0m1 0h0m1 1h0m1-2h0m5 2h0m4-3h0m6 2h0m7-1h0m7 1h0m1 1h0m0-1h0m5 1h0m5-1h0m6 0h0m0 1h0m0-3h0m1 2h0m3-1h0m3 1h0m10-1h0m-175 4h0m26 1h0m4-1h0m1 0h0m7 0h0m4-1h0m7 1h0m4 1h0m4 0h0m18-1h0m5 2h0m4-3h0m12 1h0m9 2h0m4-3h0m0 1h0m5 0h0m10 1h0m4 0h0m0-1h0m4 1h0m2 0h0m1-2h0m10 2h0m1-1h0m13 0h0m12 2h0m-135 1h0m1 1h0m4 0h0m1 2h0m0-1h0m1-2h0m1 0h0m7 2h0m0-2h0m9 3h0m6 0h0m3-1h0m3 1h0m28-3h0m4 3h0m1 0h0m24 0h0m0-2h0m4 1h0m4 1h0m0-3h0m15 1h0m3-1h0m2 2h0m7 1h0m6-3h0m3 3h0m2-1h0m-139 4h0m10 1h0m2 0h0m6-1h0m3-2h0m0 2h0m2 1h0m1-3h0m1 2h0m0 1h0m1 0h0m8 0h0m2-3h0m14 2h0m5 1h0m3-3h0m6 2h0m2 0h0m3-2h0m2 3h0m3-1h0m1-1h0m2 1h0m59-2h0m1 0h0m0 3h0m1-2h0m1 2h0m2-1h0m3 0h0m-166 3h0m33 1h0m15 1h0m1-1h0m3-1h0m1-1h0m1 3h0m1-3h0m2 3h0m4-2h0m2-1h0m4 1h0m5 0h0m3 0h0m1 0h0m0 1h0m9-1h0m44-1h0m25 1h0m4-1h0m2 0h0m2 1h0m2-1h0m-152 7h0m12-1h0m6 0h0m8 0h0m1 1h0m6 0h0m1-2h0m25 0h0m1 0h0m2 1h0m0-2h0m2 1h0m2-1h0m0 3h0m11-2h0m23 0h0m2 1h0m6-2h0m0 0h0m1 1h0m1 2h0m10 0h0m1-3h0m5 2h0m2 1h0m20-2h0m2 0h0m0 1h0m2 0h0m-147 5h0m2-3h0m3 0h0m3 2h0m3-2h0m2 3h0m7-2h0m2-1h0m2 3h0m4-2h0m1 2h0m4 0h0m1-1h0m19-2h0m2 3h0m0-1h0m13-1h0m3 1h0m3-2h0m14 1h0m3 1h0m9 0h0m1-1h0m2 0h0m1-1h0m4 3h0m6 0h0m1-1h0m3 0h0m2-1h0m13 2h0m2-1h0m2 0h0m7 1h0m0-1h0m1 0h0m-147 4h0m4 1h0m14-2h0m8 0h0m1 0h0m13 2h0m4-2h0m8 0h0m1-1h0m6 1h0m8-1h0m3 1h0m0 1h0m2-2h0m3 0h0m5 0h0m3 2h0m3 1h0m11-3h0m1 0h0m5 3h0m4-2h0m14 0h0m15-1h0m5 1h0m2 2h0m1 0h0m-130 2h0m15-1h0m1 2h0m7-2h0m22 2h0m11-2h0m2 0h0m11 1h0m8 0h0m4 1h0m5 0h0m0 1h0m15-2h0m4-1h0m2 0h0m4 3h0m-121 4h0m2-3h0m2 0h0m16 1h0m1 0h0m3 0h0m25 1h0m3 1h0m5-1h0m3-1h0m4 0h0m0 1h0m1-2h0m4 3h0m3-3h0m21 3h0m6 0h0m0-1h0m4 1h0m2-3h0m2 3h0m1-1h0m8 0h0m2 0h0m1 0h0m0 0h0m18-2h0m3 2h0m14 1h0m-157 1h0m21 3h0m0-2h0m2 0h0m2 1h0m1-1h0m1 1h0m8 0h0m1 1h0m22-3h0m1 2h0m2-1h0m11 1h0m0-2h0m3 1h0m4 2h0m15-3h0m12 3h0m0-2h0m6 1h0m1-2h0m1 2h0m5 0h0m2-2h0m1 2h0m2 0h0m1-1h0m1 2h0m1-1h0m4 0h0m7-2h0m2 3h0m2-1h0m9 1h0m7-1h0m3 1h0m-160 2h0m3 1h0m7 1h0m1-1h0m0-1h0m1 2h0m4 0h0m6-1h0m3 0h0m8-1h0m12 1h0m2 1h0m2-1h0m2 0h0m0-2h0m3 1h0m0-1h0m0 1h0m1 2h0m14 0h0m6 0h0m1 0h0m19-3h0m0 0h0m7 3h0m6-2h0m1-1h0m4 1h0m5 1h0m3-2h0m0 0h0m0 2h0m1 0h0m2 1h0m0 0h0m5-1h0m3 0h0m5 0h0m11 0h0m2-1h0m1 2h0m1 0h0m1-3h0m13 3h0m-164 1h0m7 2h0m3-2h0m1 2h0m0 0h0m5-1h0m4 1h0m9 1h0m3-3h0m0 2h0m5 0h0m1 1h0m1-1h0m6 0h0m2 0h0m1-1h0m1 1h0m1-2h0m2 0h0m1 0h0m1 0h0m19 3h0m0-1h0m6-1h0m9-1h0m2 1h0m5 2h0m2-1h0m20-2h0m1 2h0m1 0h0m0 1h0m0-3h0m1 1h0m4 0h0m0 2h0m42-2h0m2 2h0m-167 1h0m1 1h0m4-1h0m6 1h0m3 0h0m0-1h0m1 2h0m1 1h0m1-2h0m4 0h0m0 0h0m9-1h0m2 3h0m3-1h0m2-2h0m2 1h0m1 2h0m1-1h0m3-2h0m3 0h0m7 1h0m0-1h0m8 2h0m9-2h0m13 3h0m8-1h0m1 1h0m9-3h0m0 0h0m4 3h0m11-2h0m8 2h0m3 0h0m31-2h0m11 2h0m-174 2h0m6 2h0m15 0h0m1-2h0m2-1h0m14 2h0m5-2h0m20 0h0m6 0h0m13 0h0m11 1h0m0-1h0m5 1h0m15 1h0m7-1h0m4 2h0m16-3h0m5 2h0" stroke="#777" stroke-width="1" stroke-linecap="square"/>
<path d="M247.3 94.6h0m17.5 5.9l-.4 3m.7-5.2h0m81.1 33.5l-.5 .9m.7-1l.1-1m-59.3 5.5l1.6-1.2m13.7 1.4l3-.4m-18.1 3.7l.4-.9m-.1 .4l-.6 .8m5.7 .6l-.8 .6m44.6-1.2l2-.3m-53.9 7.7l-2 .2m47.9 2.8h0m8.9 2.5h0m-36.5 11.2h0m27.7 1.2l1 0m-.9-.9h0m32.3 6.1h0m3.8 2h0m2.9 1.2l.5 .9m23.3-3.3h0m-74.9 3.1h0m49.6 .1h0m-43.1 6.6l1.8-.9m-1.1-.3l.9 1.8m19.9-.9l-.9-.4m-24.6 4.3h0m1.1 9.2h0m18.3 .1l-1.4 1.4m-13.5 5.2h0m4.2 3.8h0m-8 8l.7-.7m8.5 6.5l.1 1m.4 9.8l-2.6-1.5m17 2.6l-1 .1m25.2 2.8l.3-1m6.6-1.2l.1 3m0-1.9l-1 .1m4.8-1h0m-29 3.3l-1.6-1.1m14.9 4.1h0m.9-.6h0m38.4-2h0m-54.4 6.8l-.6-2.9m1.4 2.1h0m13.5-.4l-.5-.9m47.1-.9h0m39.1 .5h0m.2 .4h0m-115.7 4.3l-1-.2m62.6-1.4h0m-58.5 7.6h0m.5-1.2l2.6-1.5m29.1-.9l.3-1m36.2 4.3l-.6-.8m41.1 .2l.9-.5m-107.6 2.1l-.5-.9m7.9 5.6l.9 1.8m20.3 .2h0m36.1-.8h0m5.8-.8l2.8 1.1m-.8-2.5l.3-.9m-61.6 5.9l2.6-1.4m105.1 4l-.9 .5m2.8-3.4l.2 2m-116 5.1l-2.9-.6m4-1.4l2 .4m3.8 .1l.9-.3m64.2-1.4l2 .4m-.2 1.5l-.3-1m4.3-.3l-2 .4m-77.5 2.8h0m119.1 .3l1 .3m-107.9 3.5l-.4-.9m.8 .7l2 .4m47.9-.1l0-2m11.4 3.4l-2.7 1.3m34.7-.2l2.3-1.9m24.6 1.9h0m-31.2 2.2h0m28.7 2.2h0m-72.7 2.3l.9-.4m27.4 1.6h0m4.9-.5h0m12.8-1.8l-1.6-2.5m-83.4 13.3h0m9.3-3h0m18 6.5l-1 .3m101.8-1.2l-1 .3m-62.5 6.4h0m53-.9h0m11.6 2.1l.6-.8m-116.6 3.9h0m53 .3l-2.9-.6m26.8 1l.4-.9m-43.6 4.7l.8 .6m-25.8 4.7h0m89.3-1.3l.4-.9m37-.7l-1.1 1.7m-123.7 3.2l-.7 .7m121.3 1.6h0m-71.4 2.1l-1.8-.9m2.7 .7l.1-1m3.7-.1h0m11.6 .1h0m33.9 2.9h0m16.6 .4l2 0m-126 1.6h0m45 .3l-2.1-2.1m8 2.9l1 1.8m23.2-3.6h0m28 2.1h0m41.6-1.9l-.5-.9m-83.8 6h0m.2-.3l.8-2.9m23.7 3.1h0m32.3-.5l1 0m1.3-.7l-.4 2m-111.6 4.9l-1.3 2.7m2.1-2.8l.4 .9m76-2.6l2.7 1.4m-75 10.8h0m4 2.3l-.9 .5m16-3.6h0m1.7 1.9l.2-3m3 1.9l-1.9 .5m79.9 1.5l-1.1-2.8m8.1 .8l1.7 1m14.2-1.1l1 0m13.4 2.3l1 .2m-.3-2.9l-.3 1m-125.8 2.3h0m1.3 2.3l-.1 1m4.5-1.6l-.6-.8m33.1 5.4l1.5 2.6m-22.8 1.7h0m64.1 .4l-2.6-1.6m34.7 0l2.7 1.4m-1.7-1.6h0m-76.1 5.3l1.9-.7m-1.5-.1l.5 .9m76.2-.2l-.5-3m-30 5.7l-.6-.8m-63.8 6.8l.5-.9m57.2-.4l-1.9-2.3m42.9 .6h0m-17.9 5.8l1.6 1.2m1.5-2.3l.2 2m3.7-1.1h0m0 5.9l-.9 .4m1 .7l1.7 2.5m-11.4 .7l2.7 1.3m25.1 1.7l-1.3 2.7m23.6 .9h0m-51.1 6.2l.5-1.9m58.7 4.2l1.9-.7m-110.2 4.6l.5-.8m81.3 .5l1-.3m7.6-1.4l-.1-1m20.4 .4h0m8-.4l.8 1.8m-.7 1.6h0m20.8-.3l-.7-1.9m-64 4.1l1 .1m2.1-1.3h0m18 .6l.5-.8m-30.5 7.5h0m18.5-1.4l-.5-3m40.1 1.2h0m13.2 .2l.9 .3m-71.9 3.4h0m-37.7 4h0m12.1 3.4l-.9-.4m-1.8 1h0m41.6 3.3l-1.9-2.3m-70.3 6.4l.1-2m93.3-.8l-1-.3m48.8-.6l-.4 .9m-97.6 6.6l-1 .1m11.5-1.9h0m83.3 1.2l.9-.3m-143.3 5.2h0m22.5 1.6l-2.9 .9m9.3-1.6l.1 1m9.8-1.4l1.7 1m82.2 2.3h0m-51.3 3.4l-2.1 2.2m-69.2 .3l-.7 2.9m57.7-4.1l1 .3m14.2-.7l-.4-.9m27.5 2.9l2.8-1m7.4 1.1h0m-71.6 2h0m74.1 1.8l-.8 1.8m11.1-.6l.1 1m35.5 2.6l1 .1m-137.6 4.3l-.9-.4m1.8-2.1h0m23.9 2.1h0m9.2-2.1h0m64.9 2l-1.1-2.8m-111.2 6.2l-2.1 2.2m20-2.4l-3-.1m12.9 .5l.9 .4m1.5 .2h0m46.8-1.2l-1 0m40.7 1.8l-1.1-2.8m-117 5.3l.9 .5m58.2-.7l-2 .2" stroke="#000" stroke-width="1.3" stroke-linecap="round"/>
<path d="M281.4 139.7l-.1-1m34.5 .3l1.6 1.1m20.4 5.6l-2-.4m-52.2 1.9h0m2 .6l0 1m16.9 2.2h0m2.3 1.3l1 .1m37-.4l1.8 .9m-52.1 2.6l-.2 3m-7.4-.3l-.9 1.8m49.1-.7l.9 1.8m-11.1 8.2l-.4 .9m31.3-.1h0m7.5 3.1l-.6-.8m7.4 0l-.4 .9m.8-.5h0m1.1 1.7l1 .3m-42.9 3.3h0m18.6 2.5l-.3 1m-42.4 2.5l.2 1m18.6-2.7h0m.1 1.9h0m-1.9 4.6h0m-1.8 1.8l1-.2m-13.1 7.2h0m9.2 24.7l-.9 .5m66.4 5.9l-.5-.8m36.3 1.8l-.4 3m-83.6-.1h0m25.2-1.3h0m57.5 .5l-.6 .8m-49 2.2l-.9-.5m60.3-.1l-1 .1m26.3 5.7l-1 .3m-112.7 3.2l1-.2m13.9-.3h0m20.6-.1h0m1 1.7l-1.2 1.6m82.1-1.3h0m-115.9 4.5l.1 3m7.7 .4h0m1.4-2.5l-.5 .8m8.4 .4l.7-.7m54.6 2.2h0m-75.2 4.6l0 2m16.6-4.7h0m16.1 2.9l-.1 3m36.9-3.3l2 .4m40.8-1.6l-3-.5m21.5-1.2h0m-20.8 3.6h0m10 .9l-.3 1m-100.4 3.9l.3-1m36.3-.9l1 .2m2.8 3.3l1.8 .9m61.1-3.2l-.1-2m1.8 2.1l-.1 1m-106.4 1.6l.2-1m34.3 4.6h0m64.3-1.6h0m12.1-1.7l-.5 .9m-75.9 2.7l-.4 3m13.2-2.8l.5 .9m69.4 1.1h0m-74.4 2.7h0m48.2 .3h0m5-.6l2 .1m-102 7.2l1.1-1.7m.3 1.6l-.9 .4m35.6-1.9l-.9 1.8m46.9-.4h0m9.4-2.2l1.6 2.5m10.7-3.3l.9 .5m.2 .7l.5-1.9m14.9 2.7h0m3-1.7l.4-2m-119.9 6.6h0m23.3-.4h0m29.5-.1l-1 .2m-28.7 5.8h0m7-.3l1.8-.8m58.6 4.3h0m7.4-1.9l2 2.2m12.7 3.9h0m7.2-1.6h0m-98.3 6.2h0m50.7-.8l-1-.1m68 1.5l.3 1m-62.2-.5l.7 .7m19.4 1.5l2.9 .8m22.6-1.6h0m.9-.9h0m22.2 6.7h0m-42.6 1.5l-2.5-1.6m8.7 1.1h0m11.2 .4h0m-99.9 5.4l.8 .6m11.6 0l1.3-2.7m3.8 2.6l1-1.7m85.3 4.1h0m-100.3 4.7l-1 .2m2.2-.2l-1.1-1.7m62.6 2.9l.8-.7m.2-.2h0m27.3 0h0m8.3-.8l.5 .9m18.6 1.6l2-.2m34.3-.1l.3-2m-91.8 3l-.1 1m39 1.8l-.7 .7m37.2-1.1l-.9-.5m-61.1 4.9h0m23.1 3.8l.9 .4m1.8-1.7h0m12.4-.6h0m22.3 1.8l2-.1m-32.6 4.3l-3-.3m36.3-2.7l.9 .4m-.4-.2l-.8-.7m12 3.6l-1.7-1m-124.3 4.3h0m9.7-1l-1 1.7m2.7-2.3l-.5 .9m53.3 1.5l-1.7 1.1m-59.9 1.4h0m6.3 1.8h0m1.7-1.1h0m16.1-.6h0m14.4 .3h0m7.5-2.1l-1.7 1m3 2.5l-.2 2m-22.5 1.2l.1 2m15.6-2.1h0m.2-2.7h0m31.1 .2h0m-51.7 5.9l-.1-1m.2 .4l.5-.9m6.5 6.2l-1 .3m85.1-1.8l-.6 1.9m-60.9 1.5h0m21.9 1.8l.5 .9m8.9-.7l2.9-.8m-64.1 5.2l-1-.3m94.3 1l1.3 2.7m-107.2-1.8h0m12.9 2.6l1 0m78.6-.7l-.3 2m-27.5 .8l.6 .8m-23.4 7.7l.4-.9m2.1-.7l.6 1.9m15.3-.4h0m12 2.1l0 1m-35.1 2.9h0m24.6-2.5l-1.5 1.3m45.6 .9h0m5.1-.6h0m-26.3 4.4l.9-.4m-68.4 4.7h0m97-1.8l2-.1m-99.8 2.6h0m67.3 1.6l.9-.5m46.9-1.4l-2.2-2m16.9 2.4h0m10.5 2.6l.4-.9m-36 2.1h0m32.1 3.4l2.1 2.1m.3-4.9l.8 2.9m2.5-.5h0m16.4-2.6l2.8-1m.3 3.2l-.2 1m5.9-2.1l-3 .4m-55.7 5.4l1.7-1.1m13.2 1.4l-.9 .4m1.6-.7l-.6-1.9m24.5-.5l-.2-1m9.6 1.1h0m-32.2 5.5l-1.2 1.6m29.3-2.1l1.9 .5m-106.1 2h0m11.9 5.4l-1.9-.6m32.2 1.9l-1 .3m11.3-2.2l-.1 2m-36.1 1.9l-.9-.4m2.2 1.6l.2-2m.6 1.3l-1.9-.5m66.9-1.5l1.6 1.2m36.9 2.6l-1.4 1.5m2-1.7l-.5 .8m-120.8 3.5h0m29.2-1.4l.9 .4m.4-1.3l.6-.8m-59.6 6.8l.8-.6m24.8-2.4l-.1 1m81-.1h0m37.3 4.4l-.3 1m-51.7 2.1l.2 1m7.9-.6l-3-.1m51.8-.9l1.8-.8m-142.1 4.5h0m10.5 .2h0m10.2 2.1h0m51.8-.1l.5 .9m-67 3.4l-.3 2m45.3-.6h0m9-1.8l2.9-.7m56.4 2.3h0m4.3-.3h0m-76.8 2.2l-1.5 1.4m7.6-1.4l1.3-1.5m65.4 2.5h0m-110.5 2.6l.9 .5m7.1 .4h0m75.9 .9l-1.8-.9m17.6 .7h0m13.3-2.8l.5 .9m22.6 1.3l-2 .3m-143.1 3.4l2.6 1.4m43.7-.2l-1.6 1.2m26.9-2.3l.7 .7" stroke="#000" stroke-width="1.6" stroke-linecap="round"/>
<path d="M319.6 132.8l-2.3 1.9m-23.6-.5l-.7 1.9m41.2-1h0m-20.1 3.2l.4-.9m-35.4 8.2h0m1.9-2.3l.9 .4m19.4 3.9l-.7-.7m27.5 1.1l-.7 .7m12.5 5.1h0m-55.5 5.6l-1.1 1.7m4.5-1.3l.1 1m12.9 .8l-.8-1.8m13.8 4.4l1.5 2.6m-.6-2.6l2 .3m4.4 1.4h0m32.6 3.4h0m-45.3 11.7l1.9 2.4m27.1-1.2h0m-31.2 14.4l1.5 1.3m31.6-3.7h0m-12.9 5.3h0m14.6 29.5l1.6-1.2m8 .4l.2-1m52.4-.4h0m-72 4.3l-.9 1.8m6.4-1.7l.3 1m39.9 .1h0m28.2 .7l-1-.1m-40.2 4.5l.9-2.8m7.7 1.7h0m21.9 .4h0m10.7-2.5l-.9 .4m20 2.4l-1.5 1.3m13.2-.4l-2.4 1.8m-24.9-1.5l-.5-.9m9.5 3.6l2.6-1.5m29.4 1.4h0m-97.8 1.5l.5-1.9m43.3 3.1h0m21.9-1.2l-.1 1m-47.5 3.3l-2-.2m54.5 1.8l-.9-.5m-83.1 5.2l-.7 .7m10.1 1.1h0m.4 3.1h0m4.4-1.6l-1.8-.9m33.1-.9l-.4 .9m14 1.3l2.9 .8m15.2-.3h0m.6 .8l.4 .9m29.7-1h0m-75.3 .7l.9 .4m-17.9 5.2h0m39.1 .3l-1.8 .9m23.9-1.1l-1-.2m-52.5 7.2l-1.2 2.8m104-.1l-2.9-.9m-101 3.7l1 .3m-10.5 2.5l-.5 .9m9.5-2.3l2.5-1.7m24.4 3.7l.2-1m44.5 2.6h0m24.4-1.5h0m-100.1 5h0m48.7-1.8l.6-.8m-24.1 8.8l.9 .4m8-.8l.2-3m32.4 9l-.6 .8m-27.8 1.5h0m27.5-.8l1 1.7m4.6-2.2h0m1 2.7l-.9 .3m48.9 .7l-.9 .3m3.6-1.8h0m-12 4.6h0m10.5-1.1l2-.2m-13.8 2.8l2-.1m3 .6l0 1m2.3 .6l2 .4m-87.1 5.1l.9-.5m18.8-3.4l.7 .7m104.6-.7h0m-136.9 6.2h0m132.7 .1l-.3 1m-58.6 2.3l1.9-2.3m69.7 3.4l-1.1-1.7m2.2 1.8h0m-83.3 5l-1-.1m4-1.3l-.5 .9m34.4-2.4l1.7 2.5m46.1-3.1l.9 .4m-89.3 6.6l-1 0m40.7 .5l-1-.1m-22.4 4l.4 3m11.9-5.8l-2 0m1.7 4.4l-.4 .9m31.8 1.2l-.8 .6m-9.7 3.3l-.9 1.8m45.8-1.7h0m-119.6 3.2l-.9 .3m4.3-.2h0m100.8-.7l.1 1m-118.3 2.4l.7 .7m9.4 1.1l.6 .8m2.1-.1h0m92.1-3.4h0m4.2 9.6h0m-74.5 2.6l1.8-.9m10.2 1.3l2.1 2.2m9.6-3.1h0m65.6 2.8h0m-101.9 1.5h0m20.2 1.8h0m76.6 .7l-1-.1m-99.9 4.5l.5 3m68.1-3.6h0m-65.8 4.6l-.2-1m.7 .5h0m94 .6l0-1m-59.4 5h0m2.7 .2l-2.8-1m76.3 .9h0m-93.7 2.7l-2.4 1.7m30.5-2.4l2.8-1.1m5.8 5.5l.8 .6m0-.3l-1.2 1.6m56.9-1h0m-107.8 3.7h0m98.1 .6l1-.2m3.2-.2l1.9-.6m-77.8 5.2h0m19.9-2.9l.8-.6m32 4l.5 .9m28.1-.5l-1 .3m-14 3.8l-.8 2.9m12.6-3.1h0m17.9 1.5l1.1 1.7m16-2.7h0m12.4 1l3-.1m-39.8 3.3l-1.9-2.3m60.3 2.9l-.3 3m-145.3-.5l-.1 3m25.7 .2h0m50.2-1.7h0m.2-.6l.2 1m12-.2l-.6-.8m-16.8 4l-.6-.8m19.7 .8l.8 .6m43.2 1l-3 .4m-138.9 8l-1-.1m62.8 .8l-.8-.5m9.7-.9l-2-.4m23.3 1.1l0-1m5.1 3.8l2.1 2.1m64.3-.1h0m-100.9 2.9h0m95.1-1l-.2-1m3.7 .9h0m-122.7 4.7l-.7 .7m70.2 .2h0m17.6-1l2.6-1.4m3.2 .7l.8-.6m29.7 2.2l-.2-1m.8 .6l-.7 .7m-72.4 1.8h0m15.5 2.5h0m35.3-3.4l-.8 .6m17.7 1.1l-2-.1m-96.7 3.2l2.6-1.5m-20.8 7.5l.9-.5m88.9-.6l.8 .7m-112 5.4l-2.7-1.4m38.8-.8l1.6 1.2m51.9-.4l2.6-1.5m28.1 2.6l.5-.9m-70.4 1.9l-1 1.7m4.4-.8l-.9 .5m71.7 .1l1.2-2.8m24 4.3l-.2 2m-116.5 2l1-.3m9.4-1.3l-.3 1m81.6-2.4l.6-.8m-107.2 5.1l-1 .1m14.9 1.2l-2-.2m2.6 1.1h0m134.8-3.1l1.7 1m-114.1 4.4h0m86.5 .2l.9 .5" stroke="#000" stroke-width="1.9" stroke-linecap="round"/>
<path d="M243.2 105.5l.1 1m.5-2.7l1 .2m36.6 35.4h0m5.2-1.3l.1 1m23.9 4.1l-3 .1m28.5 2.1l-.1 1m-57.5-.3h0m27.4 .4l-1.4-2.6m27 7.4l1.4 1.4m-1.3-2.2h0m12.2 1.1h0m-9.7 8.9h0m-30.6 2.8l-.7 1.9m11.1 .5l1.3 1.5m15.1-2.8h0m27.1 7.8l-.8 .5m-60.9 4.7l-.7-.7m74.3-.5l-.4-.9m-39.6 2.8l.8 .6m-25.2 6.9h0m12.8 3.8l-1.6-1.2m2.5 2.3h0m4.1 2h0m-16.7 7.8h0m25.5 6.5h0m-10.8 9.8h0m28.5 12.7l-.9 .5m2.2-3.2l-.7 2.9m10.3-2.6h0m.6 .6l.8 1.8m36.5-1.2l-.9-.5m-40.1 3.6l1.5-1.4m46.8 2.8h0m-40.7 3.1h0m7.6 .4h0m-8.7 2.5l-.3 1m46.2-1l2.4-1.8m-76.6 5.6l1 .2m36 2.8l-1.5 1.3m48.1-3.7l-1 .2m37.7 1.4l-.2 1m-103.3 3.3h0m-6.3 3.8l-.1 1m1.9-2.3l2.8-1m8.3 .6l1.5-1.3m51.8 4.2h0m9.1-3l1-.2m-25.2 6.5h0m1.9 0l-1.5 1.3m53.3-1.9l.5 .9m-114.2 2.3l.1-2m16.4 1.8h0m26.6 2.2l-.7-2.9m2.1 2.8h0m69.4-3.7l.4 .9m7.3-.5l-.9-.5m-63.5 6.7h0m1.6 1.4l-1.9-.7m21.3 0l-1 .3m-24.6 3.6h0m3.3-1.6l-.1 3m22.1-3.7l.3-1m-31.8 5.9l.9-.3m-.1 .5h0m91.5-2l-.9-.4m-109.1 5.4l-1.7 2.4m80.6-2.6h0m-41.4 4.1h0m.3 .9h0m8.5 1.7l0-1m17.3-.5l1 .2m2.1-.2l1 .3m-58.2 2.5h0m75.3 2.9l-1-.1m-38.2 4.6l-1.7 1.1m-27.5 3.1l-1.8-.8m8.1 1.9h0m35.4 2.3l.2-1m48.2-1.2l1.4 2.7m-65 3.3l.6 .8m14.5-4.3l-.3 2m-47 3.1l1.8 2.4m87.5-.8l-.5-.9m11.5 .9h0m1-2.6h0m-18.2 6.9l-.6-.8m52.2 1.7l-.4 2m-126 1.5l-.8-2.9m16 1.6l.8-.6m-.2 2h0m41.9-3.2h0m-60.2 4l1.3-2.7m3.1 3.5l-2.1-2.2m3.1 2.6l-1-2.8m54.1 4.8l3-.5m72 .8l-1.5-1.3m-65.3 2.6l1.7 1.1m37.1 .8l1.6 1.1m-.2-3.9l.5-3m32.7 5.4l2 .3m-1.8 .2h0m-142.7 2l.6 .8m-.5-.4l.5 .9m72.7-.9l1 .2m-.5-.6l-.9-.4m26.8 1.9l.4 .9m6 .2l-1.8 .8m-45.7 2.8l1-.2m30-3.2l-.9 .4m48.8 3.3h0m15.8-2.8l.8-1.9m-38.7 10.7h0m-8.8 4.7h0m31.7-2.3l.1-1m-114.9 8.8l-1.4 1.4m43.4-1.8l-.5 .9m-15.8 .3l-1.8-2.4m52.1 4.4l-.2 1m-50.9 3.3h0m-7.7 6.6h0m1.1-1.3h0m2.7 1.8h0m31.4 .7l-.6 .8m54.4 0h0m-91.1 1.3l2.5 1.6m4.7-.1l1.1-2.8m11.5 4.1l.6 1.9m74.2-3.2l.6 .8m-98.9 4.8l.1-1m13.1-.6l-2.9 .7m84.5 .7l1.4-1.4m8.7-.7l1.9 .6m-97.7 5.2l-.4-.9m67 1.3h0m1.7-2.6l-1-.1m15.8 .4l2.7-1.4m4 .6l-1.7-1m-78 10.9h0m89.9 .5l-.3 3m6.8-5l1 .2m-45.9 6.5h0m34.5-.1h0m-68.2 4.3l.5 1.9m66.7-1.8h0m-88.3 7.8l-.6 .8m82 .3l-.6 .8m38.6-.7l-.1-1m17.1 3.1l-.8-.6m-43.1 5.2h0m10.9-1.1h0m-71 2.9l-2-2.3m11.7 2.9l-.3-.9m52.9 1.4l-.7-.7m30.9 1.2l1 2.8m10.5-4.2h0m-108.7 5.6l-2.8 1.1m122.2 .1h0m-68.2 3.7l-1-.2m23.2 3.2h0m30.1-.5l-1.4 1.4m3.3-2.8l-3-.4m40.2 0l-.2-1m.8 2.1l1-.2m-140.3 4.8l1.6 2.6m134.5 .2l.2-3m-79.8 8.4l.8 2.9m42.2-4.1l2.4 1.8m18.5-2h0m-55.5 3.6l-.5-.9m45.4 2.4h0m9 0l1 1.7m-56.6 3.5h0m17.9-3.4l-1.9 .7m-1.7 5.5l0-3m56.8 1.1l-.8 1.8m-77.6 3.2l1-2.8m45.2 1.3l-.3 .9m-97.4 3.7h0m17.9 2.6l1-.2m137.1-.4l.5 1.9m-139.6-.3l.1-2m112.4 2.3l.5-.9m1.3 .8l-1-.1m-134.4 4.4l-.1-1m17.5 2.9h0m84.2-.3l0 3m.2-2.1h0m35.4-.5h0m-105.3 3l.5 .9m8.4-2.3h0" stroke="#000" stroke-width="2.2" stroke-linecap="round"/>
<path d="M264.7 90.9l-1-.3m1.1 .7l.9 .5m23.4 44.2l0 1m.7 .9l-2.5 1.7m8 1.8h0m33 4.4l-1.9-.7m11 2.2l1.8-.9m-34 4.8l.8-.6m-13.4 4.8l-.5-.9m40.9 3.5l1.6-1.2m-50.2 2.9l-1.6 2.5m33.7-4.2h0m5.8 11.8l-1-.2m1.1-3l-1.3 1.5m1.6-.7h0m36.1 4.3l-2 .3m-31.4 8.9l-.2 3m5.1-5.3l-1.1-1.6m7.9 6.3l3 .1m-34.8 17.7l-.7-.7m25.1 29.5h0m16.3-.6l-1.6 1.2m66.5-2.1l-.8-2.9m1.4 2.4l.9 .5m-73.9 3.4h0m30.2 2l2.7-1.3m34.2 1l.9 .4m7.5-.4l-2.4 1.9m3.3-3.3l-1-.3m1.7 2l2-.1m-44.2 2.4l1.2-1.6m-.2 1.2l-.2-1m75.6 7.3l.9-.4m-54.8 2.1h0m13.4-1.1h0m1.3 2.4l-.9 .5m45.4-2.9l-.5-.9m6.5 .6h0m.2-.2l-.6-.8m-98.2 7.6l-1.4-1.5m12.4 .6l.9 .4m45.1 2l-2.3 1.9m-32.9 3.3h0m.7-.9l-.5-.9m29.5 3.7l.9 .4m-78.1 1.9l-.5-.9m34.3 1.3h0m46-2.2l.2-1m19.6 3.4l-3 .2m-88.5 5.2h0m2.1-1.5l-.9-.5m9.7-.4h0m40 1.4l-.2-2m14.1 2.6l1 0m48.3-1.5l.6 .8m-52 1.9l3-.1m8.5-.2l0-1m32 2.3l2.8 1.1m11.5-.6h0m-67.6 5.1l-.4 .9m76.9-1.7l-.3-1m-94.1 3.4l-.6 2.9m10.3-2.1l-.7 1.9m8.8-2l0-1m65.9 1.2h0m.5 .6l-1.6-2.5m-78.4 6.7l-3 .1m89.9 .1l-2.9-.6m-112.6 3.5h0m16.8 .7l-.5 1.9m6.8-3h0m52.6 .3h0m-60.3 3l-.3-2m11.2 4.7l1 0m1.5 .1l.8 .6m48-1.4l1 .2m-56.8 2.5l.7-.7m111.1 1.4l3-.2m-109.9 4.4l-1.9 .5m7.9-2h0m35.1 1.9h0m3.5 2.7l-.7-.8m40.7 6.9l-1-.3m-58.6 4.3l.9-.5m93.2 2.3h0m-113.4 4.2l-.2 1m2.5 1.4l-.1-1m19.2-.5l1 .3m.1 .4l.1-3m65.1 3.9l.5 .8m-83.1 .1h0m42.7 1.7l-1.6 1.3m41.7 .1h0m4.2-.3l-.2-3m9.6 1.5l1.6 1.2m-1.3-2.5l-2-.1m-60.7 5.3l.8 2.9m27.2-3.1h0m6.9 1.5l1.5-2.6m7.8 1.5l1.5-2.6m29.6 .8h0m-75.5 4.1h0m12.2 .7h0m45.2-.3l2.9 .9m-102.7 5.6l-1.8-2.4m11.7 1.9h0m81.9 3l-1.7-1m18.5 1l.1-1m.7 1.8l-2.6 1.5m24.7-.1h0m-4.9 2.5h0m5.1-1.2l-1 .3m1.5-.8l-.2-1m-100.9 6.4h0m78 1l1.3-1.5m6.4 .6l.4-.9m12.8-1.3l.5-.9m-111.4 5.6h0m.7 1.7l-.9 .5m5.8-1.7l1.9-.7m41.8 2.1l.5 .9m24-1.6l.4-.9m.6 2.5h0m15.1-2.7l-.5 .8m13.3 2l3 .4m9.7-2h0m-44.3 6.2h0m30.6 2.4l1-1.7m11.2 .8l1 0m-78 3.4h0m73.6 1.6l1 2.8m-.6-2.9l-1.9 .5m-88 3.3h0m14.9 1.4l-1-.2m39-1.9h0m11.4 1.8l-.8-.6m-61.9 2.1l.7 .8m4 .6h0m37.4 1.3l.7-.7m-43.3 2.7l-.8 .6m80.3 .3l-2.2-2.1m-88.1 4.2h0m64.3 1.4l-2.9-.8m37-.5h0m13.6 2.2l2.8-1.1m-94.2 4.5l.1-3m2.6 3.9l.8 .6m64.7-.6l.5-.9m9.7 .9l-.8 1.8m17.2-4.8l-.8-.6m-68.3 6.2l1.3 1.5m-40.7 2.5h0m131.6-1.6l-1 .1m-100.4 3.6l-.7 .7m24.7 .2h0m76.6 .5l2.9 .8m-2.9 1.1l1 .3m-41.4 3.5l-1.3 1.5m14.1-1.6l2.3-1.9m-32.6 4.7l2.7-1.3m62.8-.6l-.3 1m31.1 1.2h0m-134.4 2.5l.4 2m73.6-2.3h0m19.1-.3l-.5 .8m43.9 .8l.2 1m4-1.6l1.8-2.4m-153.2 6.4h0m27.3 2.9l-2.4 1.7m68.3-2.3l-.5 .9m30.2-3.5h0m7.2 .4l-.9 .4m14.1-1l-1 .2m-131.4 7.3l-1 .2m9.4 .4l-1.7-1m26.3 4.7l1.7-2.5m39.5 6l.8-.6m22.8 .1l.6-.8m-44.8 4.8h0m2.6 .5l.4-.9m86.3-2.6l-2.9-.8m6.6 2.4l-1-.1m-100.7 6h0m14-.5l0 1m16.6-.4l1.9 .5m52.4-3.9h0m-133.7 5h0m55.7 1.7l-1.5 2.6m2-4.4l-.9-.4m10.4 2.3h0m58.3-2.3l0 2m.4-.8l-1.7-1m-91.4 3.5l.9-.4m41.7 2.1l1.9-2.3m50.1 3.1l.1-1m-80.6 2.8l-1.4 1.4m-42.6 3.6l-.6 2.9m16.8-3.6l-.8 2.9m1.9-2.2h0m41.1-1l-.4 3m27-3.2l1.2 2.7m56-3.4h0m-112.7 7.5l.9-1.8m9.1 .7l-.9 .5m53.3-.7l-2.6-1.5m23.1 2.2l-2.6 1.5m19.7-1.3l-2 .2m-113.6 1.4l-2.1 2.2m156.7-.5l-1.7 2.5m1.8-2.4h0m-153.7 1.8l-2.1-2.1m41 2.8h0m-39.9 6.5l1.7-1m77.8-.9l.9-1.8m45 3l.8-.7m-14.1 1.9l-1 .2m1.1 0l.2 1" stroke="#000" stroke-width="2.6" stroke-linecap="round"/>
<path d="M341 134l1.9-.2m-.8 1.5h0m26.9 26.7l-1.2 .6m2.1-1.2h0m266.9 162.5h0m.2 .1l-1.9 .2m-62.2 49.6h0m-.9 .2l-1.7 1.7m24.7 21.3l-.6 1.3m1 .2h0" stroke="#000" stroke-width="3.0" stroke-linecap="round"/>
</g>
<clipPath id="cp1"><rect x="703" y="53" width="413" height="413"/></clipPath>
<g clip-path="url(#cp1)">
<mask id="mk1" maskUnits="userSpaceOnUse" x="700" y="50" width="419" height="419"><g filter="url(#bl)"><rect x="702.0" y="52.0" width="53.6" height="53.6" fill="#fff" fill-opacity="0.10"/><rect x="753.6" y="52.0" width="53.6" height="53.6" fill="#fff" fill-opacity="0.10"/><rect x="805.2" y="52.0" width="53.6" height="53.6" fill="#fff" fill-opacity="0.12"/><rect x="856.9" y="52.0" width="53.6" height="53.6" fill="#fff" fill-opacity="0.15"/><rect x="908.5" y="52.0" width="53.6" height="53.6" fill="#fff" fill-opacity="0.15"/><rect x="960.1" y="52.0" width="53.6" height="53.6" fill="#fff" fill-opacity="0.15"/><rect x="1011.8" y="52.0" width="53.6" height="53.6" fill="#fff" fill-opacity="0.12"/><rect x="1063.4" y="52.0" width="53.6" height="53.6" fill="#fff" fill-opacity="0.12"/><rect x="702.0" y="103.6" width="53.6" height="53.6" fill="#fff" fill-opacity="0.10"/><rect x="753.6" y="103.6" width="53.6" height="53.6" fill="#fff" fill-opacity="0.10"/><rect x="805.2" y="103.6" width="53.6" height="53.6" fill="#fff" fill-opacity="0.12"/><rect x="856.9" y="103.6" width="53.6" height="53.6" fill="#fff" fill-opacity="0.15"/><rect x="908.5" y="103.6" width="53.6" height="53.6" fill="#fff" fill-opacity="0.15"/><rect x="960.1" y="103.6" width="53.6" height="53.6" fill="#fff" fill-opacity="0.15"/><rect x="1011.8" y="103.6" width="53.6" height="53.6" fill="#fff" fill-opacity="0.12"/><rect x="1063.4" y="103.6" width="53.6" height="53.6" fill="#fff" fill-opacity="0.12"/><rect x="702.0" y="155.2" width="53.6" height="53.6" fill="#fff" fill-opacity="0.12"/><rect x="753.6" y="155.2" width="53.6" height="53.6" fill="#fff" fill-opacity="0.12"/><rect x="805.2" y="155.2" width="53.6" height="53.6" fill="#fff" fill-opacity="0.15"/><rect x="856.9" y="155.2" width="53.6" height="53.6" fill="#fff" fill-opacity="0.15"/><rect x="908.5" y="155.2" width="53.6" height="53.6" fill="#fff" fill-opacity="0.15"/><rect x="960.1" y="155.2" width="53.6" height="53.6" fill="#fff" fill-opacity="0.15"/><rect x="1011.8" y="155.2" width="53.6" height="53.6" fill="#fff" fill-opacity="0.12"/><rect x="1063.4" y="155.2" width="53.6" height="53.6" fill="#fff" fill-opacity="0.12"/><rect x="702.0" y="206.9" width="53.6" height="53.6" fill="#fff" fill-opacity="0.15"/><rect x="753.6" y="206.9" width="53.6" height="53.6" fill="#fff" fill-opacity="0.15"/><rect x="805.2" y="206.9" width="53.6" height="53.6" fill="#fff" fill-opacity="0.15"/><rect x="856.9" y="206.9" width="53.6" height="53.6" fill="#fff" fill-opacity="0.15"/><rect x="908.5" y="206.9" width="53.6" height="53.6" fill="#fff" fill-opacity="0.15"/><rect x="960.1" y="206.9" width="53.6" height="53.6" fill="#fff" fill-opacity="0.15"/><rect x="1011.8" y="206.9" width="53.6" height="53.6" fill="#fff" fill-opacity="0.15"/><rect x="1063.4" y="206.9" width="53.6" height="53.6" fill="#fff" fill-opacity="0.15"/><rect x="702.0" y="258.5" width="53.6" height="53.6" fill="#fff" fill-opacity="0.15"/><rect x="753.6" y="258.5" width="53.6" height="53.6" fill="#fff" fill-opacity="0.15"/><rect x="805.2" y="258.5" width="53.6" height="53.6" fill="#fff" fill-opacity="0.15"/><rect x="856.9" y="258.5" width="53.6" height="53.6" fill="#fff" fill-opacity="0.15"/><rect x="908.5" y="258.5" width="53.6" height="53.6" fill="#fff" fill-opacity="0.18"/><rect x="960.1" y="258.5" width="53.6" height="53.6" fill="#fff" fill-opacity="0.20"/><rect x="1011.8" y="258.5" width="53.6" height="53.6" fill="#fff" fill-opacity="0.22"/><rect x="1063.4" y="258.5" width="53.6" height="53.6" fill="#fff" fill-opacity="0.22"/><rect x="702.0" y="310.1" width="53.6" height="53.6" fill="#fff" fill-opacity="0.15"/><rect x="753.6" y="310.1" width="53.6" height="53.6" fill="#fff" fill-opacity="0.15"/><rect x="805.2" y="310.1" width="53.6" height="53.6" fill="#fff" fill-opacity="0.18"/><rect x="856.9" y="310.1" width="53.6" height="53.6" fill="#fff" fill-opacity="0.22"/><rect x="908.5" y="310.1" width="53.6" height="53.6" fill="#fff" fill-opacity="0.25"/><rect x="960.1" y="310.1" width="53.6" height="53.6" fill="#fff" fill-opacity="0.28"/><rect x="1011.8" y="310.1" width="53.6" height="53.6" fill="#fff" fill-opacity="0.30"/><rect x="1063.4" y="310.1" width="53.6" height="53.6" fill="#fff" fill-opacity="0.30"/><rect x="702.0" y="361.8" width="53.6" height="53.6" fill="#fff" fill-opacity="0.15"/><rect x="753.6" y="361.8" width="53.6" height="53.6" fill="#fff" fill-opacity="0.15"/><rect x="805.2" y="361.8" width="53.6" height="53.6" fill="#fff" fill-opacity="0.20"/><rect x="856.9" y="361.8" width="53.6" height="53.6" fill="#fff" fill-opacity="0.28"/><rect x="908.5" y="361.8" width="53.6" height="53.6" fill="#fff" fill-opacity="0.32"/><rect x="960.1" y="361.8" width="53.6" height="53.6" fill="#fff" fill-opacity="0.35"/><rect x="1011.8" y="361.8" width="53.6" height="53.6" fill="#fff" fill-opacity="0.38"/><rect x="1063.4" y="361.8" width="53.6" height="53.6" fill="#fff" fill-opacity="0.38"/><rect x="702.0" y="413.4" width="53.6" height="53.6" fill="#fff" fill-opacity="0.15"/><rect x="753.6" y="413.4" width="53.6" height="53.6" fill="#fff" fill-opacity="0.18"/><rect x="805.2" y="413.4" width="53.6" height="53.6" fill="#fff" fill-opacity="0.22"/><rect x="856.9" y="413.4" width="53.6" height="53.6" fill="#fff" fill-opacity="0.30"/><rect x="908.5" y="413.4" width="53.6" height="53.6" fill="#fff" fill-opacity="0.35"/><rect x="960.1" y="413.4" width="53.6" height="53.6" fill="#fff" fill-opacity="0.40"/><rect x="1011.8" y="413.4" width="53.6" height="53.6" fill="#fff" fill-opacity="0.40"/><rect x="1063.4" y="413.4" width="53.6" height="53.6" fill="#fff" fill-opacity="0.40"/></g></mask><rect x="703" y="53" width="413" height="413" fill="url(#sp)" mask="url(#mk1)"/>
<path d="M1090.5 53.5h0m-112 4h0m1 4h0m3-1h0m-144 2h0m63 0h0m2 2h0m77-2h0m30 3h0m1 0h0m0-3h0m5 1h0m39-1h0m-164 7h0m1 0h0m2-2h0m1-1h0m44 0h0m22 2h0m10 0h0m19-1h0m1 0h0m13 2h0m27 0h0m38 0h0m-255 3h0m101 0h0m4 0h0m20-2h0m71 0h0m13 2h0m0-2h0m7 0h0m9 3h0m24-3h0m2 1h0m0 0h0m0 2h0m0-2h0m-245 6h0m28-2h0m1 0h0m45 0h0m19-1h0m7 0h0m29 0h0m1 0h0m2 1h0m38 1h0m3 1h0m73-2h0m-173 4h0m1 2h0m58-3h0m0 2h0m88-1h0m1 1h0m5 1h0m-221 3h0m58-1h0m11-1h0m67 1h0m21 2h0m7-1h0m16 0h0m30-1h0m4 0h0m1 0h0m4 2h0m-203 2h0m13 0h0m70 2h0m49-2h0m60-1h0m10 0h0m37 2h0m-258 5h0m46 0h0m33 0h0m81-2h0m19 2h0m5 0h0m9 0h0m5 0h0m9-1h0m6-1h0m51 0h0m-247 5h0m55-1h0m27-1h0m41 3h0m4 0h0m4 0h0m2-1h0m23-2h0m2 3h0m2 0h0m12-3h0m0 1h0m3 1h0m38-2h0m2 1h0m13 0h0m-262 5h0m7-2h0m0 0h0m51 0h0m30 3h0m29-1h0m44-2h0m5 0h0m17 3h0m1-2h0m2 1h0m0-1h0m1 0h0m2-1h0m15 1h0m4 0h0m5-1h0m5 0h0m29 2h0m-138 3h0m4 2h0m7-1h0m22-2h0m13 3h0m1-2h0m24-1h0m6 0h0m1 2h0m4 1h0m1-3h0m5 0h0m4 0h0m6 1h0m1 2h0m16-3h0m-204 7h0m64-3h0m0 3h0m7-1h0m17-1h0m17 1h0m21-2h0m3 0h0m2 2h0m1-1h0m6-1h0m7 2h0m6 0h0m0-1h0m2 1h0m16-1h0m3 2h0m9-2h0m21 0h0m0-1h0m2 1h0m-165 3h0m32 1h0m14 0h0m4 1h0m0-2h0m4 0h0m2 1h0m38 1h0m1 0h0m44-1h0m3-1h0m13 3h0m2-3h0m22 3h0m19-1h0m-264 4h0m44-1h0m23 0h0m1 0h0m36 0h0m13 0h0m1 1h0m1 0h0m1 1h0m3 0h0m0-3h0m3 0h0m8 3h0m1-1h0m11 1h0m27-3h0m16 3h0m3-1h0m2 1h0m1-2h0m4 1h0m1 0h0m1 1h0m5-3h0m10 3h0m7 0h0m16-2h0m3-1h0m7 1h0m14 1h0m4 0h0m-265 4h0m53-1h0m10 0h0m0 2h0m7 0h0m14-3h0m2 0h0m4 3h0m2-1h0m7 0h0m1 0h0m16-1h0m4-1h0m61 2h0m1 0h0m2 0h0m1-2h0m3 1h0m0 0h0m6 0h0m0 2h0m16 0h0m1 0h0m1 0h0m4 0h0m14-2h0m2 1h0m11 1h0m8-2h0m12 2h0m10-3h0m-251 5h0m2 2h0m52 0h0m2 0h0m8 0h0m1-3h0m3 1h0m0 1h0m2-1h0m2 1h0m5-2h0m2 3h0m42-1h0m5-1h0m0 0h0m28 1h0m4-2h0m1 3h0m3 0h0m7 0h0m5-3h0m0 3h0m5-1h0m13-2h0m3 0h0m3 3h0m2-3h0m-200 7h0m21-2h0m10 2h0m79 0h0m12-2h0m11-1h0m15 2h0m4-1h0m15 0h0m4-1h0m1 2h0m11 1h0m33-3h0m1 1h0m1-1h0m8 1h0m23-1h0m-249 4h0m33 2h0m15-2h0m1 3h0m3-2h0m2 1h0m1-2h0m2 2h0m14 0h0m3 1h0m1 0h0m12-3h0m9 2h0m1 0h0m24-2h0m5 1h0m25 1h0m28-2h0m2 1h0m19 0h0m7 0h0m-179 4h0m0 2h0m30-1h0m1-2h0m8 2h0m19 1h0m7-3h0m0 0h0m2 1h0m10 0h0m0 2h0m17-3h0m1 0h0m0 0h0m16 1h0m58 0h0m4 2h0m3-1h0m0-1h0m1 2h0m8 0h0m6-1h0m4-2h0m2 3h0m63 0h0m-299 4h0m12-3h0m3 2h0m20 0h0m75-2h0m7 0h0m2 3h0m6-1h0m7 1h0m13 0h0m15-3h0m13 1h0m26-1h0m2 0h0m3 3h0m7-1h0m1 0h0m86-2h0m-289 4h0m5 0h0m7 2h0m48-2h0m2 0h0m2 3h0m4-1h0m11 0h0m19-2h0m0 2h0m2-1h0m39 0h0m0-1h0m5 1h0m28-1h0m4 1h0m14 2h0m0-1h0m0 0h0m2 0h0m11-2h0m6 0h0m9 0h0m1 2h0m7-2h0m42 0h0m6 2h0m-284 3h0m36 1h0m50 1h0m1-1h0m3 0h0m24-2h0m2 0h0m8 1h0m13-1h0m6 3h0m0 0h0m2-1h0m2-2h0m3 0h0m13 2h0m2-1h0m15-1h0m2 2h0m12-2h0m10 3h0m3-3h0m7 0h0m54 3h0m1-2h0m0-1h0m34 0h0m-292 6h0m5 1h0m6-2h0m16 2h0m2-2h0m1-1h0m0 1h0m2 0h0m1 1h0m22-1h0m1 1h0m10-2h0m1 2h0m6 1h0m9-2h0m6 2h0m39-1h0m1 0h0m26 1h0m19-3h0m8 1h0m7-1h0m5 2h0m5 1h0m22-3h0m2 2h0m15-1h0m-228 5h0m3 1h0m15 0h0m26-1h0m55 0h0m12-2h0m49 0h0m5 0h0m16 0h0m1 3h0m19-1h0m7 1h0m0-2h0m15 2h0m4-1h0m2-1h0m-252 4h0m1-1h0m10 2h0m4 1h0m2-1h0m5-1h0m7 1h0m11-2h0m11 1h0m1 1h0m3-1h0m16 0h0m8-1h0m12 1h0m16 0h0m22 2h0m1-2h0m2 1h0m24 1h0m12-1h0m1-1h0m26 0h0m3-1h0m21 2h0m2 1h0m8-3h0m1 3h0m0-2h0m0 0h0m1-1h0m21 2h0m-239 3h0m3 2h0m3 0h0m14-2h0m42-1h0m11 3h0m15-2h0m8 0h0m20 2h0m7-3h0m16 3h0m11 0h0m4 0h0m15-2h0m8 0h0m1 1h0m6 1h0m16-1h0m9-2h0m3 1h0m0 0h0m2 0h0m4-1h0m2 3h0m2-3h0m0 0h0m1 2h0m0 1h0m-200 4h0m8-2h0m5 2h0m12-2h0m33-1h0m0 1h0m7 1h0m4 1h0m0-2h0m21 2h0m3-3h0m5 3h0m1-3h0m10 3h0m23-2h0m8 0h0m1 0h0m1-1h0m6 3h0m3 0h0m17 0h0m3 0h0m1 0h0m0-3h0m4 1h0m6 2h0m28 0h0m5-2h0m7-1h0m5 2h0m-327 4h0m96 0h0m20 0h0m17-2h0m19 1h0m15 1h0m9 1h0m11 0h0m5 0h0m5 0h0m2-2h0m27 1h0m2 1h0m2-2h0m37 0h0m4-1h0m12 1h0m1 2h0m7-3h0m23 1h0m8 1h0m3 0h0m5 0h0m-364 3h0m110 0h0m2 0h0m17 1h0m4-1h0m9-1h0m5 3h0m19-3h0m1 1h0m3 0h0m13 2h0m1-1h0m25-1h0m2 0h0m6-1h0m5 2h0m46-2h0m3 3h0m15-1h0m6 1h0m0-1h0m18-2h0m45 1h0m3 2h0m36 0h0m2-1h0m-261 4h0m7-2h0m12 2h0m15 0h0m0-2h0m10 1h0m6-1h0m11 1h0m6 1h0m19-2h0m7 2h0m5 0h0m1 1h0m26-2h0m2 2h0m24-1h0m0-2h0m2 3h0m1-1h0m11 1h0m9-2h0m3 2h0m3 0h0m15-1h0m3-1h0m3 0h0m59-1h0m3 1h0m-272 6h0m14 0h0m7-1h0m9 1h0m32 0h0m63-3h0m11 0h0m1 0h0m4 2h0m3 0h0m3 1h0m10-1h0m14-1h0m1 2h0m2-1h0m5 0h0m16-1h0m4 0h0m1 0h0m3-1h0m17 1h0m3 0h0m4 2h0m-322 3h0m10 1h0m68-1h0m2 1h0m14 0h0m5-1h0m1 1h0m1-3h0m1 0h0m26 1h0m7 0h0m1 0h0m7 2h0m3-3h0m11 1h0m25 0h0m27 2h0m28-2h0m5 1h0m18 1h0m21 0h0m37 0h0m57-3h0m-384 4h0m24 3h0m39-1h0m1-1h0m2 2h0m4 0h0m15-2h0m1-1h0m3 1h0m2 1h0m3-1h0m16-1h0m17 0h0m22 3h0m0-2h0m5 0h0m20 2h0m1-1h0m4 0h0m4 1h0m9-2h0m2 0h0m1-1h0m8 1h0m11 1h0m9-1h0m12 2h0m11 0h0m2-3h0m8 3h0m2-2h0m1 0h0m0 0h0m17 1h0m2-1h0m13 2h0m1 0h0m-290 1h0m19 1h0m28 1h0m21-1h0m2 2h0m23-2h0m0 1h0m3-1h0m1-1h0m4 1h0m1-1h0m17 3h0m3-3h0m1 2h0m9 0h0m38 0h0m6-1h0m1-1h0m27 1h0m26 0h0m5 0h0m4 1h0m1-1h0m4 1h0m5 1h0m9-1h0m1-2h0m4 1h0m9 2h0m17-3h0m37 2h0m1 0h0m-251 2h0m0 0h0m2 0h0m45 0h0m14 1h0m5 1h0m6 1h0m31-3h0m1 3h0m21 0h0m12-3h0m31 1h0m18 1h0m3-2h0m6 3h0m3-1h0m3 0h0m6 1h0m12-2h0m-297 4h0m47 0h0m51-1h0m12 3h0m1-3h0m16 3h0m17-1h0m7 0h0m19-2h0m22 2h0m13 0h0m12-1h0m5 0h0m35 2h0m17-1h0m2 0h0m0-2h0m8 2h0m18-2h0m6 2h0m0-2h0m-313 6h0m4-1h0m2-1h0m1 2h0m50-1h0m11-1h0m28 2h0m19 1h0m0-1h0m10 1h0m4-1h0m42-2h0m6 1h0m14-1h0m0 2h0m2 1h0m12 0h0m3 0h0m18 0h0m2-1h0m12-2h0m2 0h0m19 0h0m1 0h0m7 3h0m9-2h0m1 0h0m6-1h0m8 2h0m8-1h0m17-1h0m-329 6h0m101-1h0m3-1h0m3 0h0m27 1h0m3 2h0m2-1h0m25 0h0m15 1h0m9-3h0m8 2h0m10 0h0m3-2h0m0 2h0m46 1h0m5-2h0m15 2h0m32 0h0m-231 2h0m49 1h0m1 0h0m1 1h0m2-2h0m33 2h0m9-3h0m6 2h0m1 1h0m1-2h0m1-1h0m6 2h0m3-2h0m1 3h0m4 0h0m17-1h0m5 0h0m5-1h0m5-1h0m7 0h0m51 0h0m13 0h0m2 1h0m2 1h0m-277 2h0m50 2h0m9 1h0m24-1h0m14 0h0m1 1h0m8 0h0m13-2h0m2 1h0m6-2h0m2 0h0m1 1h0m3-1h0m12 0h0m7 3h0m24-3h0m0 1h0m14 0h0m3 0h0m19 0h0m1 2h0m6 0h0m0-3h0m69 1h0m3 1h0m3 0h0m-298 5h0m0-2h0m47 2h0m4 0h0m47 0h0m23-3h0m9 1h0m26 2h0m4-2h0m16-1h0m0 2h0m3-2h0m3 2h0m1 0h0m12 1h0m1 0h0m2-2h0m26 1h0m39 1h0m29-1h0m4 0h0m2 0h0m10-2h0m-248 7h0m7 0h0m1-3h0m35 2h0m1 1h0m4-1h0m2-1h0m1 0h0m0 0h0m14 1h0m1 1h0m2-1h0m7-2h0m4 1h0m7 0h0m7-1h0m22 1h0m2 0h0m3 1h0m6 0h0m2 1h0m10-2h0m21-1h0m1 2h0m1 1h0m1-2h0m1 0h0m14-1h0m24 0h0m2 1h0m9 1h0m0 0h0m1 0h0m7 0h0m24-2h0m34 2h0m4-1h0m-241 4h0m5 2h0m12-2h0m2-1h0m3 2h0m2-2h0m1 3h0m10-2h0m1 2h0m1-2h0m28 2h0m9-2h0m1 0h0m5-1h0m2 1h0m30-1h0m11 0h0m2 0h0m5 3h0m9-2h0m1-1h0m10 0h0m8 2h0m14 1h0m7-3h0m4 0h0m9 3h0m41 0h0m-288 1h0m4 0h0m6 1h0m27 1h0m7 1h0m13-3h0m15 2h0m1-1h0m1 2h0m1-1h0m2-2h0m1 2h0m5-1h0m1 2h0m4-2h0m33-1h0m20 0h0m22 1h0m3 1h0m4-2h0m9 2h0m10-2h0m7 1h0m1 0h0m17 0h0m7 0h0m1-1h0m4 0h0m6 3h0m3-2h0m0 0h0m3-1h0m-288 6h0m9-2h0m5 2h0m65-1h0m29 1h0m13-1h0m4 1h0m1 0h0m1-2h0m1 1h0m8 0h0m5 2h0m4-3h0m1 3h0m1-2h0m1 1h0m9 1h0m3-1h0m2-2h0m17 3h0m4 0h0m3 0h0m0-3h0m5 2h0m2-1h0m2 2h0m33 0h0m3-3h0m7 2h0m1-1h0m8-1h0m18 0h0m8 3h0m3-3h0m8 1h0m5 2h0m3-2h0m0-1h0m-307 5h0m2 2h0m21-3h0m0 2h0m4-2h0m2 0h0m40 1h0m12 1h0m34-2h0m9 2h0m9 0h0m3 0h0m0 0h0m2 0h0m20 1h0m5-3h0m1 3h0m36 0h0m4-1h0m13 1h0m8-3h0m0 2h0m5 1h0m3-1h0m5-2h0m4 2h0m4 1h0m6-3h0m1 3h0m2 0h0m1-2h0m11 0h0m13 1h0m6-1h0m1 2h0m3 0h0m2-1h0m2 1h0m-274 1h0m5 3h0m17-3h0m24 2h0m9 1h0m18 0h0m28-2h0m5 0h0m6 2h0m5-3h0m3 1h0m2-1h0m18 0h0m7 2h0m6 1h0m20 0h0m8-1h0m14-2h0m5 1h0m11 1h0m1 1h0m28-2h0m5-1h0m12 3h0m4-3h0m4 1h0m7 1h0m8-2h0m1 0h0m1 1h0m3 2h0m-273 4h0m28-1h0m43 0h0m11 1h0m5-3h0m9 3h0m10 0h0m6-3h0m23 1h0m0 1h0m1-1h0m2-1h0m21 0h0m2 3h0m0-3h0m2 2h0m2-1h0m2-1h0m7 1h0m0 0h0m0 2h0m5-2h0m0 0h0m9 2h0m2-1h0m12-2h0m3 0h0m5 3h0m4-1h0m2 1h0m9-2h0m7 1h0m3 0h0m21-1h0m12-1h0m54 1h0m6 0h0m35 1h0m-326 3h0m14 2h0m0 0h0m6-1h0m28-1h0m3-1h0m8 2h0m5-2h0m5 2h0m1 1h0m8-1h0m3 1h0m6-2h0m10 2h0m12 0h0m1 0h0m12-3h0m3 1h0m1 2h0m4 0h0m5-2h0m4 0h0m3 0h0m11 1h0m8 1h0m14 0h0m3 0h0m2-2h0m4-1h0m2 1h0m1 2h0m13-2h0m1-1h0m14 3h0m15-2h0m1 2h0m57 0h0m37-1h0m-339 5h0m5 0h0m19-2h0m5 0h0m14 2h0m4-1h0m9-1h0m11 0h0m18 0h0m3-1h0m10 3h0m10-3h0m8 3h0m1 0h0m13-2h0m1 1h0m7-1h0m4 1h0m1 1h0m4 0h0m4 0h0m0-1h0m1-1h0m8 1h0m10-2h0m0 0h0m4 1h0m8 0h0m2-1h0m6 1h0m7 1h0m3-2h0m2 2h0m39 0h0m-243 2h0m2 1h0m4 1h0m20-1h0m16-1h0m5 3h0m11-2h0m6 2h0m12-1h0m5-2h0m17 3h0m7 0h0m6-2h0m2 1h0m39 1h0m17-3h0m23 0h0m0 1h0m1 2h0m5-1h0m15 0h0m10 0h0m5 1h0m2-3h0m1 2h0m2 0h0m2 0h0m1 0h0m-209 4h0m8-1h0m8 0h0m18-1h0m4 0h0m25 1h0m2 1h0m16-1h0m5 2h0m28-3h0m4 0h0m44 2h0m14-2h0m0 1h0m1-1h0m4 0h0m1 0h0m9 3h0m0 0h0m4-2h0m56 0h0m-336 6h0m4-1h0m39 0h0m39-1h0m2-1h0m49 0h0m0 2h0m8 0h0m24 1h0m10-2h0m3 1h0m8 1h0m25-1h0m11 1h0m6 0h0m10-3h0m19 0h0m1 3h0m2-1h0m16-2h0m2 2h0m3 0h0m1 1h0m4-1h0m-272 4h0m2 0h0m8-1h0m105 1h0m0 0h0m7 1h0m0 0h0m17-1h0m1 1h0m6-1h0m8-1h0m13 0h0m1 1h0m4 0h0m0-2h0m8 2h0m0-2h0m51 3h0m12-2h0m2 1h0m3-1h0m25 0h0m1 1h0m14 0h0m20 0h0m-302 2h0m12 3h0m22 0h0m1-3h0m12 2h0m13 1h0m9 0h0m17-1h0m1 1h0m4-3h0m2 0h0m6 3h0m4-3h0m2 3h0m18-1h0m5 1h0m15-2h0m4 1h0m6 0h0m1-1h0m2 0h0m11-1h0m2 3h0m7-1h0m1 1h0m14 0h0m14-2h0m22 2h0m2-1h0m2-1h0m3 1h0m1-1h0m13 0h0m8 0h0m6 0h0m49-1h0m-330 6h0m8-1h0m18-1h0m4 1h0m2 0h0m0-1h0m0 3h0m3-2h0m2 1h0m15 1h0m30-3h0m63 0h0m4 3h0m0-2h0m7 2h0m2 0h0m19-3h0m4 0h0m2 3h0m2-1h0m1 0h0m7 0h0m2-2h0m3 3h0m2-2h0m2 2h0m10 0h0m2-3h0m4 3h0m3-1h0m7-2h0m-219 6h0m14-1h0m17 1h0m3 1h0m1 0h0m3 0h0m2-2h0m11 2h0m3-3h0m13 0h0m3 2h0m3-1h0m13 0h0m5 0h0m1-1h0m1 0h0m8 1h0m6-1h0m12 3h0m20-2h0m8 2h0m19-1h0m2 1h0m2 0h0m12 0h0m2-3h0m2 3h0m12-3h0m1 1h0m1-1h0m0 0h0m2 1h0m6 1h0m1-1h0m2 1h0m5 1h0m5-3h0m36 3h0m12-2h0m-272 5h0m13 1h0m13 0h0m2-2h0m6 0h0m1 0h0m4 1h0m6 1h0m1-3h0m6 2h0m2 0h0m4 1h0m10 0h0m12-2h0m27-1h0m12 3h0m3-1h0m3 0h0m4 0h0m11 0h0m13-1h0m14-1h0m8 0h0m8 2h0m6 0h0m0-2h0m1 0h0m5 3h0m5-1h0m1 1h0m13-2h0m3 0h0m10 0h0m12 0h0m23 1h0m3 0h0m5 0h0m96-2h0m-374 6h0m36 0h0m11-2h0m2 3h0m4 0h0m3-1h0m8 0h0m1 0h0m3 1h0m4-3h0m8 2h0m1 0h0m7-2h0m3 2h0m9 0h0m27-2h0m3 1h0m1 0h0m2-1h0m2 3h0m14-3h0m19 0h0m11 1h0m2 2h0m3-2h0m1 2h0m0-1h0m1 1h0m4-2h0m3-1h0m4 2h0m11 1h0m2-2h0m6 2h0m3-3h0m4 0h0m2 2h0m-209 5h0m20-2h0m5 0h0m32 2h0m2 0h0m14 0h0m13-3h0m27 1h0m16 0h0m7 2h0m11-1h0m9-1h0m2 2h0m2 0h0m7-3h0m1 0h0m7 3h0m1-1h0m14 0h0m2 1h0m0 0h0m8-2h0m3 2h0m10-1h0m-220 3h0m2 1h0m65 0h0m19-1h0m15-1h0m11 1h0m1 2h0m38 0h0m2-1h0m6-1h0m3 2h0m16-3h0m5 3h0m8-3h0m3 0h0m3 1h0m3 0h0m4 1h0m29 1h0m10-2h0m8 0h0m7 1h0m34 0h0m29-1h0m5 1h0m1-1h0m-331 3h0m1 2h0m3-2h0m2 1h0m9-1h0m1 1h0m0 2h0m12-2h0m17-1h0m26 2h0m9-2h0m0 0h0m14 1h0m0-1h0m14 0h0m1 2h0m9-2h0m22 0h0m3 1h0m3 0h0m0 1h0m1 1h0m37-2h0m5 0h0m5-1h0m11 3h0m11-1h0m2 0h0m17 1h0m7-3h0m4 2h0m3-1h0m3 1h0m47-2h0m29 3h0m-300 3h0m17-1h0m26 2h0m14 0h0m1-2h0m8 0h0m47-1h0m8 0h0m10 1h0m11 1h0m2 1h0m0-1h0m16 1h0m19 0h0m1-2h0m0 0h0m8 1h0m17-1h0m93 0h0m-314 5h0m4 0h0m16-2h0m36 2h0m12 0h0m2-2h0m7 3h0m17-3h0m1 0h0m29 0h0m6 0h0m30 2h0m32-2h0m4 2h0m0 1h0m2-2h0m2 0h0m-214 4h0m4-1h0m13 1h0m20-1h0m19 2h0m1-1h0m3 2h0m0-2h0m1 1h0m29 0h0m11 0h0m5 0h0m26-1h0m3-1h0m36 2h0m4-1h0m18 2h0m21 0h0m0-3h0m-195 7h0m9-3h0m0 2h0m4-1h0m24 0h0m2 0h0m3 1h0m0 0h0m10 0h0m21 0h0m1 0h0m2-2h0m4 0h0m5 0h0m3 1h0m0-1h0m2 0h0m26 1h0m3-1h0m56 2h0m19-2h0m-218 5h0m23 2h0m21-2h0m17 0h0m8 0h0m3 2h0m10-2h0m21 0h0m2-1h0m6 2h0m4-2h0m6 3h0m11-1h0m9 1h0m1 0h0m4-1h0m78-1h0m-221 5h0m30-1h0m37 0h0m0 2h0m6-1h0m13-1h0m6 0h0m13 1h0m0-2h0m1 3h0m7 0h0m21 0h0m36-1h0m2 0h0m32 0h0m39-2h0m-218 5h0m8 0h0m35-1h0m9 3h0m9 0h0m5-3h0m11 0h0m7 1h0m40-1h0m188 2h0m66 0h0m0-2h0m-402 7h0m12 0h0m18-1h0m1 0h0m21 1h0m30-1h0m1-2h0m4 1h0m10 2h0m8-1h0m1-1h0m5-1h0m5 3h0m23-1h0m88-1h0m-216 6h0m0-1h0m5 0h0m18 1h0m4-3h0m3 0h0m3 1h0m2 0h0m0 0h0m3-1h0m36 1h0m4 0h0m4 1h0m12 0h0m22 1h0m4 0h0m-113 3h0m9-1h0m6-1h0m17 1h0m2 1h0m1-1h0m5 1h0m27-2h0m0 2h0m9-1h0m1 1h0m1-2h0m7 0h0m16 2h0m0 0h0m123-2h0m-213 7h0m5-3h0m2 3h0m4 0h0m6-2h0m6-1h0m6 3h0m9-1h0m14 1h0m18 0h0m22-1h0m4-1h0m109 2h0m1-1h0m-234 4h0m0 0h0m33 0h0m11-1h0m2 2h0m10-2h0m1 0h0m1 2h0m23 0h0m6-2h0m28 0h0m0 0h0m74 2h0m0-1h0m43 1h0m8-1h0m-205 2h0m8 2h0m1 0h0m5 1h0m4-2h0m3 0h0m24 2h0m109-1h0m4-1h0m31-1h0m10 1h0m2-1h0m4 1h0m6-1h0m49 1h0m65 1h0m-363 4h0m45 1h0m10-1h0m5-2h0m3 2h0m16-1h0m0 2h0m8-1h0m21 0h0m13 1h0m4-3h0m230 0h0m-360 6h0m1 1h0m18 0h0m5 0h0m5 0h0m19 0h0m9-1h0m9-1h0m3 2h0m23-2h0m3 2h0m22 0h0m-89 3h0m1-1h0m0 2h0m0-1h0m13 0h0m2 0h0m1 1h0m2-2h0m1 0h0m1 0h0m2 0h0m2-1h0m2 1h0m9-1h0m48 0h0m172 2h0m32-2h0m-292 6h0m4-1h0m3 0h0m9 1h0m15-1h0m12-1h0m9 0h0m1 2h0m14-2h0m67 1h0m115 1h0m16 0h0m36-2h0m2 2h0m74-1h0m-392 4h0m12 2h0m10-2h0m43 1h0m149-2h0m6 3h0m-217 4h0m3 0h0m1-3h0m23 0h0m13 1h0m-40 6h0m0-2h0m28 1h0m18 0h0m120 1h0m181 0h0m6-3h0m0 3h0m-354 3h0m4 0h0m6 0h0m5 1h0m23-3h0m6 0h0m11 0h0m6 1h0m8-1h0m106 1h0m-169 3h0m13 1h0m26-1h0m291 0h0m21 1h0m13 2h0m-381 3h0m31 0h0m14 0h0m7-1h0m293 1h0m-302 3h0m84 1h0m81 1h0m-13 2h0m3-1h0m183 1h0m-382 14h0m4-3h0m12 3h0m35-2h0m84 0h0m68-1h0m26 0h0m22 1h0m65 5h0m-82 5h0m6-1h0m-48 7h0m57 1h0m-1 4h0m-168 2h0m3 3h0m69-2h0m7 2h0m27-3h0m64 0h0m87 2h0m-188 4h0m43-1h0m-40 4h0m187-1h0m33 1h0m-338 6h0m1-3h0m34 0h0m62 3h0m2-1h0m203 1h0m-311 5h0m359 0h0" stroke="#bbb" stroke-width="1" stroke-linecap="square"/>
<path d="M1085.5 53.5h0m5 0h0m-222 4h0m1 0h0m30 0h0m-6 3h0m90-2h0m41 1h0m-186 6h0m59 0h0m40 0h0m47 0h0m1-3h0m6 3h0m16-3h0m1 0h0m2 0h0m20 1h0m-93 5h0m5 1h0m0-3h0m31 3h0m27-3h0m3 1h0m3 2h0m2-2h0m3 0h0m3-1h0m0 1h0m4 2h0m12-2h0m4 1h0m0 0h0m2 1h0m14-1h0m12 1h0m-212 3h0m36-1h0m4-1h0m2 2h0m19 1h0m26-2h0m9 2h0m2-1h0m8 0h0m41-1h0m8-1h0m5 0h0m23 1h0m25-1h0m2 2h0m3 1h0m6-1h0m22-2h0m-275 4h0m3 1h0m34 0h0m29 2h0m3-2h0m4 0h0m56 1h0m5-2h0m10 3h0m3-3h0m34 2h0m-151 4h0m12 0h0m23 0h0m0-1h0m2-1h0m7 2h0m5-2h0m21 1h0m32 2h0m2-3h0m0 1h0m36 0h0m38 1h0m13 0h0m-216 3h0m5 1h0m56 1h0m7-3h0m6 1h0m17 1h0m55 0h0m1 0h0m33-2h0m3 0h0m3 0h0m16 1h0m3-1h0m15 2h0m-227 4h0m1-1h0m78-1h0m15 2h0m1-1h0m10 1h0m36 0h0m3-2h0m15 1h0m0 2h0m1-3h0m8 1h0m3 2h0m30-1h0m22-1h0m-207 6h0m70-1h0m7 0h0m35 1h0m15-3h0m11 2h0m2 0h0m28 1h0m3-3h0m18 0h0m16 2h0m1 0h0m1-2h0m48 2h0m3-1h0m4 0h0m-267 6h0m5-2h0m34 0h0m2 2h0m23-2h0m6 0h0m9 1h0m9-1h0m9 1h0m3 1h0m1-1h0m15 1h0m2 0h0m25-1h0m3-1h0m22 0h0m21 2h0m1 0h0m5-2h0m8-1h0m11 1h0m-231 6h0m5-2h0m3-1h0m11 3h0m7-3h0m107 0h0m0 2h0m0-1h0m1-1h0m1 0h0m1 2h0m4-2h0m10 3h0m6 0h0m10-2h0m12 0h0m3-1h0m1 1h0m0 2h0m8 0h0m6-2h0m1 0h0m7 0h0m11-1h0m0 1h0m2 0h0m54 1h0m12 1h0m5-1h0m-290 4h0m65 0h0m33 0h0m17 1h0m5 0h0m2-1h0m8-2h0m7 1h0m16 2h0m1-2h0m18 2h0m2 0h0m7-2h0m1-1h0m0 1h0m1-1h0m1 1h0m4 2h0m0 0h0m1 0h0m8-3h0m0 1h0m0 2h0m1 0h0m2-2h0m4 2h0m0-1h0m6 1h0m7 0h0m2-2h0m-217 3h0m18 3h0m35-1h0m4 0h0m20 0h0m10-2h0m6 0h0m10 1h0m0 0h0m0 1h0m1-1h0m0 0h0m1 0h0m2 2h0m12 0h0m1-2h0m7 0h0m20 1h0m5-1h0m0 1h0m14 1h0m17-1h0m34-1h0m28 1h0m33-1h0m-225 3h0m1 1h0m5-1h0m2 0h0m12 3h0m5 0h0m15-2h0m4 2h0m2-3h0m4 3h0m2 0h0m1-3h0m5 0h0m1 0h0m6 1h0m20 1h0m3-2h0m7 0h0m2 1h0m1 2h0m6 0h0m18 0h0m1-1h0m6-1h0m1 2h0m1 0h0m1-1h0m2 0h0m10-2h0m7 1h0m8-1h0m5 2h0m17-2h0m3 1h0m22 1h0m-214 5h0m14 0h0m14 0h0m6-1h0m19 1h0m0 0h0m5-3h0m4 0h0m1 1h0m6 0h0m1 1h0m1-1h0m2 2h0m1 0h0m11-1h0m13-1h0m2-1h0m10 0h0m23 3h0m6-2h0m4-1h0m29 3h0m33-1h0m12 1h0m-221 3h0m19 0h0m1 1h0m20 0h0m7 0h0m0-2h0m4 2h0m3 0h0m2-2h0m11 1h0m23 1h0m3 0h0m8-2h0m34 2h0m2-3h0m2 3h0m11-2h0m2-1h0m18 2h0m0 0h0m3-2h0m1 3h0m39-3h0m11 2h0m3-1h0m-273 3h0m18 3h0m10 0h0m12 0h0m3 0h0m21-3h0m4 2h0m1 0h0m3 0h0m3-1h0m3 1h0m8-1h0m0 1h0m2-2h0m3 2h0m4 0h0m2-2h0m1 0h0m1 2h0m17 1h0m4-2h0m14-1h0m8 0h0m8 3h0m1-1h0m25 1h0m1 0h0m3-2h0m1 2h0m4-1h0m0 1h0m3-3h0m0 1h0m10 0h0m6 0h0m2 2h0m3 0h0m1 0h0m0-3h0m9 1h0m1 0h0m2 1h0m1-1h0m33-1h0m11 0h0m-230 6h0m13 0h0m9 0h0m1 1h0m2-2h0m8-1h0m7 2h0m4-2h0m1 0h0m2 1h0m3-1h0m2 0h0m1 2h0m29 0h0m50 1h0m0-3h0m4 2h0m1 0h0m5-2h0m4 1h0m4 0h0m6-1h0m3 3h0m2-1h0m4-2h0m5 3h0m21-3h0m32 2h0m2 1h0m-249 4h0m2 0h0m29 0h0m2 0h0m1 0h0m5 0h0m2 0h0m8-1h0m0-2h0m1 2h0m8 0h0m4-2h0m18 1h0m5-1h0m17 2h0m2 1h0m7 0h0m4-1h0m3 0h0m2 1h0m2-2h0m2 1h0m10-1h0m46-1h0m3 2h0m2-1h0m18 1h0m4 1h0m2 0h0m3 0h0m1-3h0m9 3h0m6-3h0m0 1h0m12 1h0m-236 5h0m2 0h0m8-2h0m17 0h0m8-1h0m1 2h0m2-1h0m8-1h0m1 3h0m4-2h0m1 0h0m3 1h0m13-2h0m4 0h0m9 3h0m14-2h0m4-1h0m8 1h0m1 1h0m1 0h0m2 0h0m3 0h0m8 0h0m2-2h0m0 1h0m1-1h0m15 2h0m26 1h0m36-3h0m2 2h0m14-2h0m0 2h0m1 1h0m68 0h0m-280 4h0m1-3h0m0 0h0m1 3h0m4-1h0m9 0h0m4-2h0m3 1h0m22 0h0m2 0h0m53 0h0m9 2h0m1-2h0m0-1h0m1 1h0m1-1h0m1 3h0m9-1h0m6 1h0m5-2h0m5 1h0m0-1h0m12 2h0m11-1h0m23 0h0m9 1h0m2 0h0m58 0h0m32-1h0m-296 3h0m14 0h0m7-1h0m0 0h0m15 2h0m17 1h0m6-1h0m6-1h0m1-1h0m9 1h0m1 2h0m1-1h0m5 0h0m8 0h0m1 0h0m9-2h0m10 2h0m4 0h0m2 1h0m2 0h0m2 0h0m2 0h0m12-1h0m0 1h0m2-1h0m6 0h0m1 0h0m14-2h0m19 1h0m9 1h0m2 1h0m1 0h0m3 0h0m7 0h0m0 0h0m1 0h0m1-3h0m6 0h0m3 0h0m2 2h0m5-2h0m5 3h0m7 0h0m1-3h0m1 2h0m2 0h0m35 0h0m3-2h0m-265 6h0m18 1h0m2-1h0m1-2h0m3 3h0m4-2h0m1-1h0m4 2h0m18 0h0m2-2h0m6 1h0m3 0h0m0 2h0m1-1h0m2 1h0m4-3h0m6 1h0m4 1h0m2-2h0m2 0h0m6 3h0m10 0h0m5-2h0m0-1h0m6 0h0m1 1h0m6 1h0m1-2h0m9 2h0m3-2h0m6 2h0m5-1h0m2 1h0m1-2h0m0 3h0m3-3h0m12 2h0m1-1h0m25 1h0m4 1h0m3 0h0m1 0h0m1-3h0m5 1h0m19 1h0m8-1h0m2 1h0m1-2h0m3 2h0m54 0h0m-305 5h0m3-2h0m24 1h0m5-1h0m3-1h0m0 1h0m6-1h0m1 2h0m1-1h0m3 2h0m0-3h0m0 2h0m5-1h0m1 2h0m1-2h0m22 1h0m2 1h0m10 0h0m5-2h0m37 1h0m9-2h0m2 0h0m3 3h0m2-2h0m20 0h0m4-1h0m6 1h0m15 1h0m4 1h0m1-2h0m0-1h0m1 3h0m2-1h0m3-1h0m10-1h0m2 3h0m21-1h0m5 0h0m2-1h0m3-1h0m9 0h0m55 0h0m-301 4h0m22 0h0m16 0h0m0 3h0m5-2h0m14 1h0m5 1h0m1 0h0m2-3h0m0 3h0m0-2h0m15 1h0m3-1h0m23-1h0m14 2h0m3-1h0m11-1h0m50 2h0m0-1h0m1-1h0m3 1h0m8 2h0m12-1h0m7 1h0m3-1h0m4 1h0m2-2h0m1-1h0m6 3h0m11-3h0m3 1h0m7 2h0m-254 2h0m9 2h0m3 0h0m1-1h0m4 0h0m0 0h0m9-2h0m7 2h0m3 1h0m1-3h0m1 2h0m2 0h0m2-2h0m4 0h0m3 3h0m5-2h0m13-1h0m4 1h0m9-1h0m7 2h0m8-1h0m7 2h0m26 0h0m1 0h0m4-2h0m10-1h0m1 2h0m10-1h0m20 2h0m4-1h0m0-1h0m7 1h0m7-2h0m3 3h0m17-2h0m11 2h0m7 0h0m0-1h0m2-2h0m4 1h0m3 1h0m2 1h0m1-3h0m1 1h0m3 0h0m-236 4h0m4-1h0m4 2h0m1 1h0m31-1h0m7-1h0m6-1h0m1 3h0m3 0h0m4-1h0m6-2h0m8 0h0m10 1h0m6 2h0m6-1h0m18 1h0m2-2h0m1-1h0m2 0h0m11 1h0m12 2h0m4-2h0m8 0h0m7 0h0m1 1h0m10 1h0m7-2h0m2-1h0m3 0h0m0 1h0m1 1h0m0-1h0m10 1h0m25-2h0m3 0h0m1 0h0m1 0h0m1 2h0m10-1h0m6 0h0m0 0h0m0 1h0m5-2h0m5 3h0m-326 4h0m35-1h0m43-2h0m6 3h0m30 0h0m39 0h0m0-3h0m1 2h0m3 0h0m11 1h0m23-2h0m0 1h0m2 1h0m3-1h0m9-2h0m7 0h0m0 2h0m1-2h0m2 1h0m0 2h0m3-2h0m3 2h0m6-3h0m6 2h0m10 1h0m8-2h0m4-1h0m7 0h0m13 3h0m1-2h0m1 2h0m5-1h0m11-1h0m25 0h0m4 2h0m1-3h0m1 2h0m3 0h0m-327 4h0m1 1h0m78-2h0m4 2h0m11-3h0m14 3h0m8-2h0m1 0h0m1 2h0m3 0h0m0-2h0m0 1h0m8 0h0m4-1h0m18 1h0m12-1h0m22 0h0m6-1h0m1 0h0m23 0h0m9 2h0m5-1h0m19 0h0m8 2h0m15-3h0m4 3h0m5-2h0m5 1h0m6-1h0m7 1h0m2-2h0m13 1h0m2 0h0m1-1h0m9 2h0m2-1h0m-250 4h0m29 1h0m3 1h0m7 0h0m2-3h0m3 1h0m6 0h0m8-1h0m1 1h0m1 2h0m4 0h0m16 0h0m8 0h0m17-1h0m1 1h0m1-2h0m1-1h0m1 2h0m32 0h0m0-1h0m32 0h0m1 2h0m2 0h0m0-2h0m1 2h0m6-2h0m39-1h0m9 0h0m15 2h0m34 0h0m-392 2h0m0 1h0m84 0h0m19 2h0m7 0h0m20-1h0m1 0h0m1-1h0m2 0h0m0-1h0m2 0h0m6 1h0m2 0h0m10 1h0m14 1h0m0-1h0m0 1h0m2-2h0m9-1h0m1 1h0m2 0h0m6 1h0m1 0h0m4-2h0m9 1h0m13-1h0m4 3h0m1-1h0m5-2h0m4 2h0m3-1h0m3 1h0m12-2h0m0 2h0m2-1h0m1-1h0m11 1h0m0 2h0m5 0h0m22 0h0m4-1h0m2 0h0m6 1h0m8-1h0m4-2h0m0 0h0m4 3h0m10-1h0m6-1h0m8-1h0m35 0h0m22 0h0m6 0h0m-402 5h0m40 1h0m29-1h0m4-1h0m4 3h0m45-1h0m2 0h0m5-1h0m2 0h0m5-1h0m28 2h0m8-2h0m6 2h0m4 0h0m4 0h0m6-2h0m3 0h0m24 2h0m7 1h0m27-3h0m14 2h0m2-2h0m0 0h0m8 3h0m5-2h0m5 1h0m13-1h0m12 1h0m2-1h0m4 2h0m2 0h0m0-3h0m2 1h0m0 0h0m0 1h0m3 0h0m2 1h0m0-1h0m3-1h0m10 0h0m4 1h0m0-1h0m2 1h0m26-2h0m-300 7h0m1 0h0m17 0h0m22 0h0m10-1h0m14-2h0m7 2h0m19 1h0m3-2h0m7-1h0m11 3h0m9-1h0m8-1h0m16-1h0m3 0h0m0 2h0m0 0h0m10-1h0m4 0h0m9 2h0m6-3h0m3 3h0m8 0h0m4-1h0m5 0h0m1 0h0m30 0h0m14 1h0m1-1h0m1-2h0m4 2h0m1 0h0m1-2h0m8 1h0m0 0h0m20 0h0m55 1h0m-374 5h0m45 0h0m12-2h0m4 1h0m1-2h0m7 2h0m9-2h0m3 3h0m5 0h0m9-2h0m1 2h0m5-1h0m13 1h0m2-1h0m4-2h0m0 1h0m1 0h0m2 1h0m21-1h0m3 2h0m12-2h0m0 1h0m24-2h0m2 0h0m9 3h0m11-1h0m0-2h0m5 1h0m5 2h0m4-2h0m1 0h0m5 2h0m3-2h0m7 0h0m1-1h0m11 1h0m0 0h0m1 2h0m1-1h0m56-2h0m-263 4h0m15 1h0m10-1h0m17 2h0m20-1h0m4 1h0m0-2h0m6 1h0m5 2h0m6-2h0m17 1h0m0-2h0m12 1h0m7 2h0m1-3h0m4 2h0m1-2h0m6 0h0m9 1h0m7 2h0m9-3h0m8 3h0m18-3h0m26 0h0m8 1h0m17 1h0m0 0h0m31-1h0m17 1h0m48-1h0m-353 3h0m18 0h0m1 0h0m28 0h0m4 1h0m5 1h0m22 1h0m9-2h0m9 2h0m1-3h0m0 1h0m0 1h0m26 1h0m3 0h0m63-2h0m4-1h0m4 0h0m6 0h0m10 1h0m1-1h0m2 0h0m5 1h0m5 0h0m7 1h0m2-2h0m20 2h0m12-2h0m4 1h0m11-1h0m5 3h0m-269 1h0m34 2h0m6-2h0m40 2h0m15 0h0m6-1h0m6 0h0m1 1h0m4 1h0m7 0h0m6-3h0m16 1h0m7 0h0m3 2h0m3 0h0m0-3h0m4 3h0m33-3h0m12 2h0m1 1h0m10 0h0m18-1h0m3-1h0m8 0h0m1-1h0m5 2h0m4 0h0m11 0h0m3-1h0m-305 5h0m1 0h0m38-2h0m31 3h0m18 0h0m3-3h0m1 0h0m14 2h0m5-1h0m7 0h0m8 1h0m4 0h0m4 1h0m1 0h0m2 0h0m3-2h0m6 2h0m1-2h0m3 2h0m1-2h0m2 1h0m5 0h0m1-2h0m5 1h0m2 2h0m20 0h0m4 0h0m6-2h0m2 2h0m2-2h0m14 0h0m30 0h0m1 1h0m7 0h0m2-2h0m7 3h0m2 0h0m1-2h0m6 2h0m5 0h0m1-1h0m1 1h0m24-3h0m3 2h0m2-1h0m-311 5h0m1 0h0m58-1h0m2-1h0m33 0h0m3 2h0m2 1h0m7 0h0m0-1h0m1 1h0m1 0h0m1-2h0m12 0h0m5 1h0m17-1h0m32 1h0m7-1h0m2-1h0m4 3h0m5-3h0m9 2h0m24-1h0m28 0h0m3 0h0m1 2h0m7-2h0m0-1h0m8 2h0m2-2h0m7 1h0m4 2h0m15-1h0m-246 3h0m45 1h0m4 1h0m3-2h0m1 2h0m1-2h0m2-1h0m3 3h0m2-2h0m0 2h0m6-1h0m3 0h0m9 1h0m12-3h0m0 0h0m4 3h0m5 0h0m7-3h0m8 1h0m3 2h0m2-1h0m1 1h0m3-3h0m4 3h0m4-2h0m6 2h0m6 0h0m5-1h0m22 0h0m2-2h0m2 1h0m6-1h0m9 2h0m1 0h0m12-2h0m19 2h0m5 1h0m4-1h0m2 1h0m0-1h0m-305 2h0m91 3h0m11-3h0m16 0h0m25 3h0m4-3h0m5 2h0m6 0h0m13 1h0m1-1h0m3 0h0m1 1h0m19 0h0m3-3h0m0 0h0m2 0h0m1 0h0m8 2h0m0-2h0m1 3h0m2-1h0m5 1h0m5-2h0m18 0h0m6 0h0m3 2h0m3-2h0m12-1h0m1 2h0m27 1h0m21 0h0m1-2h0m15 0h0m3 1h0m6-1h0m-316 5h0m58-2h0m14 0h0m7 0h0m0 1h0m14 0h0m1 2h0m1-2h0m3 2h0m18-3h0m8 1h0m2 1h0m3 0h0m1 0h0m1 0h0m0-2h0m11 1h0m1 1h0m5-2h0m3 2h0m0 1h0m3 0h0m0-3h0m1 0h0m0 1h0m0-1h0m1 3h0m0-3h0m6 3h0m1-2h0m0 1h0m1 1h0m0-1h0m0 0h0m5 1h0m4 0h0m1-1h0m0 0h0m16-1h0m14-1h0m18 2h0m3-2h0m9 2h0m24-1h0m25 2h0m7-2h0m1-1h0m13 2h0m12 1h0m-275 4h0m1-1h0m16-1h0m4 0h0m29 2h0m5-1h0m1 1h0m2-2h0m14-1h0m2 2h0m6 1h0m7-1h0m4 0h0m17 0h0m7-2h0m8 1h0m0 1h0m2 0h0m9-2h0m3 2h0m0 1h0m1 0h0m14 0h0m4-3h0m22 3h0m8-2h0m10-1h0m12 0h0m6 3h0m19 0h0m25 0h0m-298 3h0m43-2h0m4 3h0m3-2h0m26 2h0m10-2h0m3-1h0m1 3h0m2 0h0m5-3h0m10 1h0m1 1h0m4 0h0m3 0h0m9-1h0m9-1h0m1 2h0m4 1h0m16-1h0m24-1h0m4-1h0m42 3h0m9-3h0m6 3h0m17-1h0m12 1h0m1-2h0m5 2h0m1-1h0m5 1h0m9-2h0m53 0h0m1 0h0m-332 5h0m12 0h0m27-1h0m29 0h0m5 0h0m4 0h0m1 2h0m6-2h0m1 2h0m0-3h0m5 3h0m3-2h0m16-1h0m3 3h0m1-2h0m17 1h0m18-2h0m11 0h0m7 0h0m9 3h0m0-1h0m3-2h0m21 1h0m4 1h0m7 1h0m2-2h0m5 2h0m7-3h0m1 1h0m3-1h0m18 1h0m1 1h0m2 0h0m4 0h0m2 1h0m0-3h0m2 1h0m2 2h0m5-3h0m0 1h0m2 2h0m5 0h0m3-1h0m-284 2h0m16 1h0m1 0h0m58-1h0m37 3h0m2-3h0m3 0h0m5 2h0m27 0h0m26 1h0m1 0h0m1-3h0m6 2h0m0-2h0m2 0h0m2 1h0m13 1h0m37-2h0m5 3h0m11-1h0m17-2h0m1 0h0m1 1h0m4 0h0m3 1h0m2-2h0m1 0h0m10 1h0m4 1h0m-285 5h0m8 0h0m20-3h0m17 3h0m18-3h0m1 0h0m3 1h0m3-1h0m4 2h0m1 1h0m3 0h0m7-1h0m5 0h0m0 1h0m11-2h0m5 1h0m0-2h0m16 1h0m2 0h0m12-1h0m6 2h0m5-2h0m9 2h0m11 1h0m2 0h0m2 0h0m1 0h0m0-1h0m2 0h0m1 0h0m1 0h0m17 1h0m0-2h0m3 0h0m12 0h0m0 1h0m6 0h0m3-2h0m1 0h0m1 0h0m5 1h0m3 1h0m3-2h0m1 3h0m4 0h0m9-2h0m1-1h0m22 0h0m15 2h0m-295 4h0m1-2h0m0 0h0m17 1h0m6 1h0m2-1h0m71 1h0m1-1h0m3-1h0m1 1h0m2 0h0m2 2h0m29-2h0m7 0h0m8 2h0m18-1h0m1-2h0m4 2h0m2 1h0m7-1h0m1-1h0m2 2h0m2-1h0m0 0h0m0-1h0m4 1h0m4-2h0m3 0h0m7 3h0m5-2h0m2 2h0m1-2h0m1 2h0m4-1h0m11 0h0m4-2h0m9 3h0m5 0h0m10 0h0m12-2h0m9 1h0m8 1h0m4-2h0m6 1h0m36 1h0m-335 1h0m35 1h0m8-1h0m2 1h0m1-1h0m2 2h0m3 0h0m6 0h0m2-1h0m0-1h0m4 1h0m34-1h0m1 1h0m12 1h0m5-1h0m5 1h0m2-2h0m4 3h0m17-2h0m2-1h0m6 3h0m1 0h0m2 0h0m0-2h0m1-1h0m0 2h0m5-1h0m3-1h0m18 2h0m1-2h0m1 0h0m1 0h0m1 1h0m5 2h0m4-2h0m1 1h0m0-1h0m13 1h0m5 0h0m1 1h0m1-2h0m2 2h0m4 0h0m0 0h0m25-2h0m1-1h0m0 1h0m1 2h0m0-2h0m5 0h0m19 0h0m10-1h0m2 1h0m2-1h0m54 2h0m-295 4h0m26-2h0m8 0h0m1 3h0m5 0h0m1-3h0m4 1h0m3 0h0m0 1h0m3-1h0m0 1h0m1 0h0m4 1h0m1-3h0m5 2h0m7 0h0m7 0h0m1-1h0m1-1h0m1 0h0m0 2h0m4-1h0m2 0h0m0 1h0m2 0h0m16-2h0m16 3h0m1 0h0m5-3h0m7 2h0m7 1h0m3 0h0m0-2h0m24 2h0m0 0h0m2-1h0m1-2h0m4 1h0m3 1h0m4-2h0m9 0h0m3 3h0m5-3h0m0 0h0m2 0h0m8 3h0m7-3h0m12 2h0m11 1h0m92-2h0m-340 5h0m35-2h0m19 3h0m10-3h0m1 2h0m20 0h0m1-1h0m3 2h0m13 0h0m7-2h0m17 1h0m3-2h0m3 0h0m6 2h0m8 0h0m7-1h0m11 1h0m6-1h0m1 2h0m0 0h0m5 0h0m1-2h0m3 0h0m2 1h0m19 1h0m1-2h0m1 1h0m7 0h0m1-1h0m10 1h0m7 1h0m6-3h0m0 0h0m4 1h0m68 0h0m5 2h0m-312 2h0m3 0h0m11 1h0m28-2h0m24 0h0m11 1h0m0 2h0m10-2h0m4 2h0m11 0h0m10-1h0m28-2h0m2 0h0m5 3h0m0-3h0m1 1h0m0-1h0m7 0h0m1 2h0m21-1h0m0-1h0m6 0h0m8 1h0m4-1h0m1 1h0m8 0h0m3 2h0m0-1h0m20 0h0m4 0h0m5-2h0m0 0h0m3 2h0m4-1h0m37 0h0m0 1h0m-276 4h0m1-2h0m19 3h0m3-2h0m1 2h0m4-1h0m4 0h0m2-2h0m3 0h0m15 2h0m0-2h0m1 3h0m3-2h0m1 1h0m8-2h0m1 0h0m3 2h0m2-1h0m0 2h0m3-1h0m5-2h0m8 3h0m3 0h0m1-1h0m8 0h0m9 1h0m18 0h0m49 0h0m31 0h0m9-1h0m0-1h0m10 2h0m3-2h0m2-1h0m1 0h0m1 1h0m4 2h0m3-2h0m1 2h0m-301 4h0m88-1h0m7-2h0m21 3h0m18-1h0m0-1h0m2 1h0m2 1h0m8-3h0m1 2h0m4-2h0m1 0h0m2 1h0m19-1h0m3 1h0m4 2h0m8-1h0m2 0h0m1 1h0m29 0h0m5-1h0m1-2h0m13 0h0m15 3h0m6-1h0m2-2h0m5 0h0m2 3h0m0-3h0m7 2h0m1 0h0m3 0h0m3 1h0m2-1h0m13-2h0m3 2h0m-296 4h0m11-1h0m0 0h0m18 2h0m33-1h0m11-1h0m14 0h0m23 2h0m11 0h0m14-1h0m1 1h0m8 0h0m16-2h0m16 1h0m2 1h0m0 0h0m2-1h0m0-1h0m2 0h0m3-1h0m1 0h0m0 3h0m3-1h0m15-2h0m16 2h0m8-2h0m0 1h0m13-1h0m10 2h0m1-2h0m4 3h0m2-1h0m6-1h0m8 1h0m12 1h0m44-1h0m-299 2h0m3 3h0m2-2h0m4 0h0m7-1h0m27 0h0m5 1h0m2 1h0m0 1h0m4-2h0m19 0h0m5 0h0m0 2h0m0 0h0m7-2h0m3 0h0m20 2h0m5-3h0m7 0h0m8 1h0m1 0h0m5 0h0m7 0h0m1-1h0m9 0h0m1 3h0m0-3h0m3 1h0m1 0h0m26 0h0m3 2h0m4-2h0m6 0h0m19 0h0m6-1h0m2 2h0m0-2h0m1 2h0m3-1h0m1 2h0m3-1h0m2 1h0m2-2h0m0-1h0m2 1h0m2-1h0m5 0h0m4 2h0m2 0h0m46-2h0m3 3h0m-311 3h0m14 0h0m15-2h0m1 2h0m4 1h0m1-2h0m1 1h0m0-1h0m24 2h0m21-2h0m9 2h0m6-3h0m22 0h0m2 2h0m1-1h0m6 0h0m9 2h0m2 0h0m9-1h0m8-1h0m3 2h0m6-2h0m1 2h0m1 0h0m1-3h0m0 1h0m3 2h0m5-2h0m6 1h0m5-2h0m1 2h0m4 0h0m4-2h0m0 2h0m0-1h0m1 0h0m1-1h0m1 0h0m3 3h0m1-3h0m33 1h0m3 0h0m7-1h0m5 2h0m1 1h0m104 0h0m-368 4h0m31 0h0m6 0h0m4-3h0m3 0h0m1 3h0m5-1h0m3-1h0m2 2h0m17-2h0m1-1h0m2 2h0m25-1h0m2 1h0m5-2h0m1 2h0m31-2h0m11 1h0m2 1h0m0 1h0m4-3h0m8 3h0m23-1h0m1 0h0m0 0h0m1-1h0m0 0h0m3 1h0m0 0h0m1 1h0m1-1h0m0 0h0m5-1h0m9 2h0m2 0h0m0 0h0m0 0h0m2-1h0m2-2h0m7 0h0m1 2h0m34 1h0m3-3h0m1 3h0m9-2h0m2 0h0m97 2h0m3-3h0m-367 6h0m33-1h0m6 2h0m3-2h0m12 1h0m15-2h0m1 2h0m1 1h0m11-3h0m21 0h0m16 0h0m0 3h0m2 0h0m1 0h0m9-1h0m19-2h0m2 0h0m6 0h0m10 1h0m11 0h0m0 0h0m2 2h0m8-1h0m7 0h0m1-1h0m2 2h0m2-3h0m2 3h0m1-3h0m1 1h0m0 0h0m21 0h0m12 1h0m17 1h0m1-2h0m1-1h0m3 3h0m2 0h0m-246 3h0m23 1h0m6-2h0m1 0h0m9 2h0m11-3h0m1 2h0m1-2h0m2 0h0m2 1h0m3 0h0m14-1h0m1 2h0m0 1h0m3 0h0m23-1h0m15 1h0m2-2h0m1-1h0m1 3h0m14 0h0m4-1h0m2 0h0m8 1h0m2-3h0m2 3h0m0 0h0m5 0h0m3-3h0m8 0h0m6 0h0m4 0h0m2 3h0m2-2h0m0 1h0m12-2h0m34 1h0m1 1h0m0 1h0m9-3h0m5 3h0m-256 1h0m0 0h0m26 2h0m8 0h0m17-2h0m13 0h0m1 1h0m5-1h0m1 3h0m38 0h0m2-2h0m7-1h0m11 3h0m1-2h0m3 2h0m4-1h0m10-1h0m1 1h0m2 0h0m13-1h0m7 1h0m1-2h0m0 2h0m20 0h0m0 0h0m4-2h0m2 1h0m8 1h0m12 0h0m1-2h0m10 0h0m8 2h0m1 0h0m1 1h0m2-1h0m9-2h0m-246 4h0m21 2h0m35 0h0m6 0h0m3-1h0m2 2h0m3-3h0m0 2h0m9-1h0m1-1h0m2 1h0m5 1h0m1 1h0m19 0h0m0 0h0m10-1h0m20-2h0m1 3h0m1-1h0m0 0h0m2 0h0m1 0h0m4-2h0m1 3h0m4-1h0m19-1h0m4 2h0m8-2h0m6 2h0m4-3h0m13 1h0m0-1h0m3 2h0m0-1h0m2 0h0m39 1h0m-260 3h0m6 0h0m0-1h0m0 0h0m1 1h0m6-1h0m8 1h0m5-1h0m5 2h0m7 1h0m1-2h0m1-1h0m1 0h0m1 2h0m5 1h0m1-2h0m22-1h0m2 2h0m13-2h0m2 1h0m5 2h0m1-1h0m16 1h0m2-1h0m16 1h0m14-3h0m2 2h0m6-1h0m4 1h0m1-2h0m1 2h0m0 0h0m45-1h0m1 2h0m2-1h0m2-2h0m2 1h0m8 1h0m2 1h0m22-1h0m12 0h0m46 0h0m-291 5h0m24-3h0m0 3h0m7-3h0m49 3h0m10-2h0m9 2h0m1-3h0m1 0h0m1 1h0m3 2h0m17-3h0m9 1h0m2 0h0m1-1h0m14 0h0m13 1h0m0-1h0m5 3h0m1-3h0m38 2h0m0 0h0m17-1h0m1-1h0m0 1h0m3-1h0m6 0h0m3 1h0m3-1h0m-240 7h0m9-1h0m12 1h0m0-1h0m13-1h0m12-1h0m3 0h0m11 0h0m5 3h0m30 0h0m66 0h0m5-3h0m1 3h0m0-2h0m27 0h0m2 0h0m7-1h0m5 1h0m2-1h0m-218 5h0m6 2h0m5-2h0m3 0h0m1 2h0m2-3h0m5 0h0m6 2h0m6 1h0m70-1h0m0 0h0m31 1h0m3-2h0m74 0h0m13 2h0m4-1h0m-217 5h0m5-2h0m12 0h0m6 1h0m3-2h0m15 2h0m9 1h0m0-3h0m11 3h0m1-3h0m2 2h0m2 0h0m8-1h0m7-1h0m3 1h0m2 0h0m2 0h0m3 0h0m1-1h0m2 2h0m2 1h0m7 0h0m1-3h0m3 3h0m11 0h0m6-3h0m-136 7h0m1-3h0m3 2h0m13-1h0m19-1h0m17 0h0m1 3h0m10-2h0m11 1h0m14-2h0m12 2h0m2 0h0m7-2h0m11 0h0m11 3h0m72-2h0m11-1h0m-214 4h0m1 3h0m64-2h0m5 0h0m7-1h0m11 2h0m4-1h0m3 1h0m3-2h0m1 3h0m1 0h0m5-3h0m5 0h0m5 1h0m9 1h0m22 0h0m39 0h0m20-1h0m1 1h0m29 0h0m1 1h0m51-1h0m39 1h0m73-2h0m-368 6h0m3 0h0m57-2h0m8-1h0m12 1h0m30-1h0m0 2h0m2-1h0m2 1h0m83 1h0m4-2h0m3-1h0m44 0h0m51 2h0m69-1h0m-398 5h0m29-2h0m18 2h0m8 0h0m26 1h0m0-3h0m1 2h0m15 1h0m9 0h0m16-1h0m5 0h0m11-1h0m3-1h0m41 2h0m45-2h0m51 3h0m4-3h0m1 3h0m117-3h0m-408 5h0m52-1h0m4 1h0m6 0h0m1-1h0m0 1h0m14 2h0m12-1h0m13 0h0m3-2h0m4 0h0m12 3h0m2-2h0m2 1h0m4 1h0m1 0h0m1-1h0m8-1h0m21-1h0m-157 4h0m18 2h0m13 1h0m5 0h0m3-3h0m17 0h0m6 2h0m1 0h0m54 1h0m2 0h0m3-3h0m1 1h0m1 1h0m4 1h0m0 0h0m157-2h0m-252 6h0m8 0h0m12-2h0m0 1h0m19 1h0m8-1h0m12 1h0m8-3h0m2 1h0m24 0h0m6-1h0m103 1h0m-213 4h0m13-1h0m3 3h0m5 0h0m5 0h0m1-2h0m2-1h0m14 3h0m2-1h0m17 0h0m5 1h0m32-2h0m1 0h0m114 0h0m2 0h0m-233 4h0m5-1h0m8 3h0m24 0h0m12-3h0m6 0h0m0 0h0m23 1h0m3 0h0m24 1h0m126-1h0m3-1h0m3 0h0m60 0h0m1 1h0m60 1h0m4 1h0m-341 4h0m51-3h0m7 1h0m10 2h0m12-3h0m1 0h0m4 0h0m8 3h0m72-3h0m2 1h0m27 2h0m11-3h0m76 3h0m2-2h0m1 0h0m3 1h0m54 0h0m-370 3h0m11 2h0m14 0h0m4-1h0m1-1h0m12 2h0m8 0h0m5-2h0m2-1h0m0 3h0m1-3h0m5 1h0m24 1h0m6 1h0m0-3h0m20 2h0m5 0h0m100 0h0m-220 5h0m7-3h0m12 3h0m8-2h0m1 1h0m1 1h0m5 0h0m7 0h0m4-2h0m1 2h0m1 0h0m4-1h0m2-1h0m10-1h0m2 1h0m3-1h0m22 3h0m1-3h0m61 1h0m73-1h0m1 0h0m51 1h0m35 0h0m-308 5h0m3 1h0m2-3h0m2 2h0m5-1h0m4 2h0m6-3h0m18 2h0m6-1h0m15 1h0m11 1h0m13-2h0m137 1h0m69 0h0m33-1h0m-319 4h0m3 2h0m5-1h0m6-1h0m6 0h0m5 1h0m1 0h0m2 0h0m14 0h0m3 1h0m13-2h0m155 2h0m9-1h0m71-2h0m96 1h0m-387 4h0m0 1h0m2 0h0m1-1h0m23 0h0m3 1h0m2-1h0m6 1h0m3 1h0m23-2h0m0 0h0m288 1h0m5 0h0m-366 2h0m14 0h0m10 3h0m27-3h0m1 1h0m4-1h0m3 2h0m127 0h0m169 0h0m-343 5h0m15-2h0m15-1h0m6 3h0m1-1h0m5 1h0m1 0h0m51-1h0m5 0h0m64 1h0m0-3h0m-144 4h0m7 1h0m14 1h0m123-1h0m12-1h0m152 3h0m-185 4h0m189-3h0m-301 4h0m5 0h0m82 1h0m14 2h0m68 0h0m41 0h0m-55 4h0m183 0h0m-332 3h0m101-1h0m3-1h0m223 1h0m-328 3h0m199 1h0m-242 5h0m0-1h0m15-1h0m32 3h0m26-2h0m150-1h0m-213 7h0m221-1h0m71 1h0m-65 3h0m68 0h0m4-2h0m-37 7h0m-33 4h0m2-1h0m27-2h0m31 2h0m1 1h0m1-2h0m-184 3h0m1 1h0m22 2h0m13 0h0m36-3h0m116 0h0m-233 5h0m54 0h0m50 2h0m67-3h0m-127 5h0m217 0h0m0-1h0m-273 7h0m3-2h0m49-1h0m107 3h0m87-2h0m30-1h0m34 0h0m1 2h0m-341 4h0m279-2h0m93 1h0m-335 3h0m240 3h0m73-1h0m20-1h0m-228 3h0m2 2h0" stroke="#999" stroke-width="1" stroke-linecap="square"/>
<path d="M875.5 56.5h0m216 0h0m-221 2h0m20 3h0m9-3h0m129 3h0m-86 4h0m11 0h0m27-3h0m9 0h0m0 3h0m17-3h0m3 3h0m3-2h0m8 1h0m35-2h0m-164 6h0m47 0h0m12 1h0m24-3h0m31 1h0m4 0h0m2 1h0m4-2h0m20 1h0m1 1h0m1 1h0m-226 3h0m53 1h0m6-3h0m20 2h0m54-1h0m1 1h0m63-1h0m17 0h0m46 1h0m23 0h0m-279 4h0m37-1h0m14 0h0m5 2h0m123-2h0m2 1h0m29-1h0m34 2h0m-239 2h0m2 2h0m56-1h0m15 0h0m58-1h0m27 1h0m10 1h0m36-3h0m0 3h0m-212 4h0m15-1h0m70-1h0m9 0h0m43-1h0m8 2h0m22 1h0m11-1h0m13-2h0m23 0h0m18 1h0m-230 5h0m3 0h0m11-1h0m49 0h0m3-1h0m12 2h0m15 0h0m60 0h0m11-1h0m3 0h0m54 1h0m-208 5h0m4-1h0m49-2h0m16 3h0m4-2h0m18 1h0m8-2h0m0 1h0m45 1h0m0-1h0m33 0h0m21 2h0m46-2h0m8-1h0m7 2h0m2-2h0m9 0h0m-266 4h0m35 3h0m6-3h0m4 2h0m30-2h0m36 2h0m26-1h0m5 0h0m23 0h0m8 2h0m4 0h0m6-3h0m3 1h0m1 1h0m3 0h0m1-2h0m30 1h0m28 2h0m-269 4h0m83-2h0m16 0h0m14 0h0m19 2h0m55 0h0m0-2h0m1 0h0m1 0h0m2 2h0m1-3h0m1 0h0m18 0h0m2 0h0m2 0h0m28 2h0m36 1h0m-280 1h0m61 1h0m1 2h0m53 0h0m9 0h0m19-2h0m1-1h0m31 3h0m7 0h0m12-3h0m12 1h0m39 2h0m-244 2h0m43 0h0m2 2h0m46-1h0m11 1h0m0-1h0m1 1h0m12-1h0m15-2h0m21 1h0m13 0h0m2 2h0m6-3h0m1 1h0m3-1h0m5 1h0m9 2h0m3-2h0m10 0h0m-167 6h0m9-1h0m9-1h0m4 0h0m20 1h0m15-1h0m1 2h0m2-2h0m3 1h0m1 0h0m13-1h0m2 2h0m13 0h0m1-1h0m12 1h0m8-1h0m46-1h0m14 1h0m3-2h0m24 2h0m0 1h0m-232 4h0m0-1h0m27 0h0m13 1h0m10-3h0m1 0h0m27 2h0m25-1h0m3-1h0m6 3h0m16-1h0m12 0h0m9-2h0m1 3h0m4-3h0m22 0h0m0 3h0m5-2h0m48 0h0m13 1h0m2 1h0m8-2h0m-248 6h0m29-2h0m6 0h0m2 0h0m2 1h0m10-1h0m11 0h0m6-1h0m7 1h0m31 2h0m5-1h0m10-2h0m14 3h0m1 0h0m44 0h0m3-2h0m14 1h0m4-2h0m2 0h0m3 2h0m15-1h0m-214 4h0m17 2h0m2-1h0m1 1h0m6-3h0m32 1h0m1-1h0m0 3h0m4-3h0m8 2h0m6 0h0m1 1h0m2-3h0m1 1h0m28-1h0m17 1h0m29 1h0m4 0h0m3 1h0m10-3h0m1 1h0m12 2h0m5-1h0m41 1h0m1-1h0m14 1h0m-252 4h0m34-2h0m12 2h0m2-1h0m22-2h0m4 1h0m6 2h0m26-1h0m20 0h0m3 1h0m2-2h0m1 0h0m3 1h0m3 0h0m5 1h0m7 0h0m20-1h0m2-1h0m10 0h0m3 1h0m9-1h0m28-1h0m1 2h0m19 1h0m3-2h0m-242 6h0m27 0h0m6-2h0m7 2h0m2-1h0m0-1h0m8 2h0m21-3h0m14 0h0m13 2h0m3 1h0m0-3h0m4 0h0m1 3h0m1-3h0m1 2h0m1 1h0m2-2h0m3 0h0m8-1h0m3 0h0m10 2h0m2 0h0m26-2h0m37 3h0m11-1h0m10 0h0m19-2h0m-229 6h0m11 1h0m24-3h0m2 3h0m5-1h0m3-1h0m16-1h0m6 1h0m2 0h0m8 0h0m7 0h0m39-1h0m18 1h0m51 1h0m18 1h0m1-2h0m5 2h0m58 0h0m-270 3h0m1 0h0m11 0h0m0 0h0m0 0h0m20-2h0m2 2h0m14-2h0m15 0h0m15 3h0m11-1h0m2 1h0m2-2h0m8-1h0m2 2h0m2 0h0m12 0h0m9 1h0m35-1h0m19-1h0m3 2h0m25-1h0m5-1h0m1 0h0m0 2h0m61-2h0m-301 4h0m9 0h0m4-1h0m8 3h0m1-2h0m4 1h0m1 0h0m6-2h0m6 0h0m2 2h0m5-1h0m1 1h0m14 0h0m22 0h0m3 1h0m14 0h0m12-2h0m2 1h0m1-1h0m13 2h0m6-3h0m10 1h0m1 0h0m38 0h0m2 1h0m4 0h0m7 1h0m17 0h0m3 0h0m2-1h0m2-2h0m4 0h0m3 1h0m10 2h0m47-1h0m13-2h0m4 3h0m-287 2h0m5 2h0m16-1h0m1 1h0m10-2h0m19 1h0m0 0h0m14 1h0m9-2h0m17-1h0m7 2h0m2-2h0m2 3h0m3-2h0m4-1h0m6 2h0m1 1h0m2 0h0m0 0h0m2-2h0m4 0h0m6 1h0m6 0h0m3-2h0m1 0h0m0 3h0m1-3h0m31 0h0m0 1h0m7 2h0m7-3h0m2 0h0m31 0h0m3 3h0m0-3h0m1 1h0m68 2h0m-308 4h0m0-1h0m28-2h0m1 3h0m3-1h0m9-2h0m3 1h0m0-1h0m2 3h0m2 0h0m10 0h0m32-1h0m3 0h0m1-2h0m0 1h0m6-1h0m22 3h0m2 0h0m7 0h0m3-2h0m2-1h0m1 2h0m1 1h0m1-2h0m10 0h0m9 0h0m7 2h0m32-3h0m12 3h0m33-1h0m6 0h0m4 1h0m-237 1h0m12 1h0m5 0h0m6 2h0m0-3h0m3 1h0m1 2h0m2-1h0m1 0h0m0 0h0m21 1h0m21 0h0m6-2h0m50 0h0m1-1h0m13 3h0m30 0h0m9 0h0m1-3h0m1 2h0m0 0h0m4 1h0m1-3h0m4 3h0m14-3h0m6 1h0m4-1h0m7 3h0m8-1h0m-244 3h0m6 0h0m12 2h0m4-1h0m2-1h0m2 0h0m0-1h0m2 3h0m2-1h0m5 0h0m10 1h0m17-2h0m7 2h0m4 0h0m20-2h0m11 2h0m2-1h0m22 0h0m13 1h0m8 0h0m13-3h0m10 2h0m7-2h0m0 2h0m1-2h0m0 1h0m4 0h0m3-1h0m2 3h0m9-2h0m20 2h0m12-1h0m2 1h0m0-2h0m12 2h0m1-3h0m-246 5h0m9-1h0m1 0h0m4 0h0m15 3h0m28-2h0m5-1h0m10 2h0m1-1h0m18-1h0m37 3h0m5-1h0m19 1h0m28-3h0m3 2h0m10-1h0m14 2h0m11-3h0m9 1h0m2 1h0m7 0h0m2-1h0m21 0h0m-245 6h0m53-2h0m1 2h0m1 0h0m5-1h0m15-1h0m2 1h0m14-2h0m18 2h0m2-1h0m0 0h0m6 0h0m16-1h0m0 3h0m3-1h0m3 1h0m14-3h0m18 1h0m13 0h0m4 0h0m1-1h0m5 0h0m4 0h0m0 3h0m2 0h0m0 0h0m2-3h0m11 0h0m3 0h0m1 0h0m28 2h0m-325 2h0m1 0h0m42 1h0m34 0h0m3 2h0m12-1h0m0 0h0m5-1h0m10-1h0m3 3h0m6-2h0m2 2h0m15-2h0m10 0h0m9 1h0m7 1h0m1-2h0m2-1h0m1 3h0m0 0h0m9 0h0m15-1h0m9-2h0m6 3h0m8-3h0m3 1h0m7 0h0m11 1h0m3 1h0m15-1h0m12 1h0m7-3h0m3 1h0m5 2h0m17 0h0m10 0h0m10-1h0m4-1h0m3 1h0m-280 2h0m5 1h0m28 0h0m1 1h0m6 1h0m14-2h0m1 2h0m5-3h0m7 0h0m0 0h0m8 1h0m0-1h0m11 0h0m9 3h0m4-2h0m2 2h0m3-2h0m5 1h0m3-2h0m2 2h0m1 0h0m6-2h0m4 3h0m4 0h0m4-3h0m5 1h0m2 0h0m7 1h0m0 0h0m0 1h0m1-2h0m1 2h0m13-2h0m0 1h0m30-2h0m3 3h0m21 0h0m4-1h0m2-2h0m3 2h0m25 1h0m2 0h0m4-1h0m22-1h0m22-1h0m-369 5h0m73 1h0m77-2h0m12 2h0m3-1h0m3-1h0m2 2h0m0 0h0m10-1h0m1 1h0m1-1h0m1 0h0m9 0h0m2 2h0m0-2h0m27-1h0m28 3h0m30 0h0m1-1h0m3 1h0m1 0h0m0-3h0m22 3h0m14 0h0m7-3h0m14 3h0m2-2h0m26-1h0m-369 7h0m67 0h0m2-3h0m11 0h0m71 3h0m0-3h0m52 0h0m5 1h0m4 0h0m20 2h0m0-1h0m23-1h0m6 1h0m3 1h0m13 0h0m6-1h0m1-2h0m16 3h0m20-1h0m3 0h0m2 1h0m3 0h0m-243 2h0m17 2h0m24 0h0m0 0h0m7-2h0m35 2h0m4-1h0m11-2h0m2 2h0m26-2h0m0 1h0m6-1h0m12 2h0m6-2h0m3 0h0m7 2h0m30 0h0m1-1h0m16 2h0m4-2h0m22 1h0m7-2h0m4 2h0m2 0h0m14-2h0m1 0h0m2 2h0m-312 2h0m45 3h0m21-2h0m0 1h0m4-1h0m19 1h0m6 1h0m5-2h0m8-1h0m2 2h0m25 1h0m2-2h0m4 2h0m4-2h0m2-1h0m6 2h0m2-2h0m0 2h0m2 0h0m2-1h0m2 2h0m24-3h0m4 0h0m9 1h0m2 1h0m22-1h0m19 1h0m13 0h0m3 0h0m37 1h0m3-3h0m21 3h0m45-2h0m-362 3h0m33 3h0m27 0h0m16-3h0m2 0h0m19 1h0m8 2h0m9-3h0m2 0h0m35 1h0m1-1h0m2 1h0m3 0h0m15-1h0m14 1h0m8-1h0m0 0h0m4 0h0m13 0h0m4 0h0m11 3h0m8-1h0m7 1h0m7 0h0m23 0h0m6 0h0m16 0h0m20-2h0m-252 4h0m3-1h0m14 3h0m5-2h0m19 1h0m0 0h0m2-2h0m6 2h0m15-2h0m24 2h0m3 1h0m23-3h0m18 2h0m2-1h0m14 2h0m3 0h0m2-3h0m45 1h0m2 2h0m12-2h0m4-1h0m3 3h0m-301 2h0m68 2h0m16-3h0m2 3h0m8 0h0m7-2h0m4 0h0m37 0h0m1 2h0m1-3h0m6 3h0m21-3h0m15 2h0m2 1h0m5-2h0m11-1h0m2 1h0m32 1h0m3-1h0m4 0h0m5 2h0m22-1h0m8-1h0m6 0h0m10 0h0m-213 5h0m14-1h0m18 0h0m4 0h0m6 2h0m2-1h0m3-1h0m12 0h0m6-1h0m1 2h0m11 0h0m39 1h0m17 0h0m43-1h0m3 0h0m9-1h0m5 1h0m5 1h0m29-2h0m3-1h0m-328 4h0m78 2h0m20 0h0m4 1h0m2-1h0m22 1h0m6-2h0m7 1h0m3-2h0m19 2h0m3 0h0m4-2h0m8 2h0m1 1h0m30-2h0m17 1h0m0-1h0m24 1h0m22-1h0m2-1h0m6 1h0m1 0h0m5 0h0m6 1h0m1 1h0m5 0h0m1-1h0m1 1h0m5-3h0m20 1h0m-205 3h0m17 3h0m17 0h0m12-2h0m5 1h0m9-1h0m7 0h0m10 2h0m4-2h0m6 0h0m3 2h0m3-3h0m9 2h0m5-2h0m0 3h0m29-2h0m3 0h0m5 0h0m19 0h0m13-1h0m40 3h0m-331 1h0m86 2h0m10 1h0m36-2h0m8 1h0m5 1h0m24-1h0m7-2h0m2 3h0m11 0h0m5-2h0m9 0h0m9 1h0m2 0h0m14-2h0m7 0h0m22 0h0m35 0h0m5 1h0m6-1h0m11 2h0m3-2h0m19 1h0m0-1h0m2 2h0m-321 5h0m58-2h0m9 1h0m33 1h0m2-2h0m5 2h0m1-3h0m1 3h0m12-1h0m2-2h0m1 2h0m5-1h0m2 1h0m4-2h0m1 3h0m5-2h0m3 0h0m5 2h0m3 0h0m5-1h0m8-2h0m5 3h0m3-2h0m12-1h0m11 1h0m1-1h0m11 0h0m12 1h0m8-1h0m2 0h0m33 3h0m38-1h0m5-1h0m13 1h0m-267 3h0m8 0h0m2 0h0m1-1h0m5 0h0m28 3h0m12-3h0m6 0h0m2 0h0m10 1h0m14 1h0m3-1h0m16-1h0m2 1h0m1 0h0m2 0h0m10 0h0m4-1h0m11 0h0m0 1h0m9 0h0m0 0h0m14 2h0m15 0h0m1-2h0m2-1h0m0 2h0m37-1h0m19 1h0m9-2h0m43 2h0m-315 4h0m17 0h0m2 0h0m12-1h0m8 0h0m0 2h0m1-3h0m28 3h0m7-1h0m3-2h0m1 3h0m7-3h0m0 2h0m0 1h0m19-3h0m1 0h0m16 0h0m3 0h0m9 2h0m0 0h0m0-2h0m0 0h0m4 1h0m34 1h0m10-1h0m22 1h0m32 0h0m1 0h0m3 1h0m6-2h0m5 0h0m1 1h0m3-1h0m9 1h0m1-2h0m6 0h0m0 0h0m43 3h0m1-3h0m13 2h0m-300 5h0m1-2h0m6-1h0m2 3h0m4 0h0m23 0h0m4-3h0m1 0h0m14 0h0m17 0h0m35 1h0m4 2h0m23-1h0m12-1h0m16-1h0m16 1h0m13 0h0m0 2h0m0-2h0m1 1h0m1 0h0m9 0h0m11 1h0m5-1h0m3 0h0m3 1h0m2-1h0m0 1h0m9-1h0m4-1h0m-284 3h0m2 3h0m60-2h0m26-1h0m2 2h0m2 0h0m6 0h0m31 0h0m2-1h0m5-1h0m3 2h0m7 1h0m0-3h0m1 3h0m2-3h0m34 1h0m0 1h0m19 0h0m6 0h0m9-1h0m14 1h0m20-2h0m4 0h0m2 1h0m5 2h0m2-3h0m3 2h0m1-1h0m14 2h0m2 0h0m10-1h0m-299 5h0m17-2h0m2-1h0m9 2h0m24-1h0m36-1h0m7 0h0m9 1h0m1 1h0m1 1h0m0 0h0m11-2h0m6 1h0m0-2h0m13 3h0m20-2h0m28 2h0m0 0h0m4-3h0m4 2h0m18 1h0m9 0h0m5-2h0m1-1h0m17 1h0m52 2h0m-290 3h0m39 0h0m12-1h0m2 2h0m13-2h0m2 0h0m24 1h0m0 1h0m7-3h0m1 1h0m24 2h0m8-2h0m28 0h0m4-1h0m0 0h0m1 0h0m1 3h0m10 0h0m2-3h0m2 3h0m5 0h0m1-3h0m3 1h0m3 2h0m12-3h0m4 1h0m3 1h0m3 1h0m5-1h0m9 0h0m13-1h0m27-1h0m4 3h0m6 0h0m1-1h0m1-2h0m2 3h0m-277 4h0m41-3h0m3 1h0m1-1h0m13 0h0m3 2h0m3 1h0m21-3h0m4 1h0m2 1h0m2 0h0m11 1h0m4-3h0m8 3h0m5-1h0m6-2h0m6 1h0m13 0h0m2 0h0m1 0h0m12 1h0m5 1h0m5-1h0m1 1h0m1-2h0m4 1h0m17-1h0m4 1h0m7 1h0m2-2h0m4 2h0m0-3h0m28 2h0m4-1h0m9 0h0m0 2h0m8-2h0m9-1h0m5 1h0m2-1h0m9 0h0m1 0h0m37 1h0m37 1h0m4 1h0m7-2h0m-327 4h0m17-1h0m2 3h0m2 0h0m4 0h0m1 0h0m4-1h0m1 1h0m0 0h0m12-2h0m7-1h0m10 1h0m6 1h0m3-1h0m0 1h0m1-1h0m6-1h0m18 0h0m18 0h0m1 1h0m1 0h0m1 1h0m16 0h0m8-2h0m13 0h0m2 0h0m3 1h0m10 2h0m3-3h0m11 3h0m2-1h0m3-2h0m3 2h0m6-2h0m2 2h0m11 0h0m114-2h0m-335 7h0m28 0h0m7 0h0m5-1h0m1-1h0m13-1h0m16 2h0m1-2h0m13 2h0m18 0h0m3-1h0m1 0h0m14-1h0m3 3h0m8-3h0m12 3h0m1-2h0m3 0h0m23-1h0m11 2h0m18-1h0m10 2h0m12 0h0m1-3h0m5 1h0m1 0h0m107 1h0m-330 5h0m14 0h0m16-2h0m0 0h0m15-1h0m20 3h0m3-3h0m22 2h0m3 0h0m25 1h0m6-3h0m6 2h0m2 0h0m34 0h0m24-2h0m0 3h0m2 0h0m3-2h0m22-1h0m3 2h0m2 1h0m-172 1h0m6 3h0m14-2h0m10 2h0m0-3h0m1 2h0m6 0h0m9-1h0m3 2h0m2-2h0m5-1h0m7 1h0m1 1h0m32 1h0m8-1h0m25 0h0m7 0h0m3 0h0m6 0h0m14 1h0m0-2h0m1 2h0m2-1h0m6-1h0m12-1h0m-296 6h0m37 1h0m49 0h0m1 0h0m17-2h0m6-1h0m19 1h0m1 1h0m3 1h0m1-3h0m4 2h0m4-2h0m16 0h0m26 0h0m24 2h0m23-1h0m19 2h0m5 0h0m5-1h0m4 0h0m11 1h0m1-1h0m2 0h0m21-2h0m-289 7h0m4-2h0m4 2h0m1-2h0m8 2h0m11-3h0m72 2h0m2-2h0m8 3h0m13-3h0m6 2h0m4-1h0m15 0h0m14 0h0m13 2h0m0-1h0m2 1h0m11-3h0m5 2h0m6 1h0m2-3h0m7 2h0m27-1h0m0 0h0m7 2h0m-222 1h0m3 1h0m4 1h0m3-1h0m36 1h0m5-1h0m1 2h0m1-2h0m25 2h0m9-1h0m20-2h0m6 2h0m29-2h0m3 0h0m12 3h0m9-3h0m2 3h0m2 0h0m11-1h0m5 0h0m9-1h0m6 2h0m24-1h0m6 1h0m21 0h0m-283 4h0m5 0h0m21-1h0m11-2h0m1 3h0m14-3h0m4 1h0m2 0h0m6 2h0m74-1h0m4 0h0m2-1h0m13-1h0m3 1h0m9 1h0m5 0h0m6 0h0m7 1h0m2 0h0m0 0h0m3-1h0m1-1h0m6 1h0m8-1h0m3 1h0m6 1h0m0-2h0m1 0h0m36-1h0m7 0h0m3 2h0m13 1h0m0-3h0m1 1h0m1 1h0m20 1h0m2-1h0m-284 4h0m33-1h0m12 1h0m11 0h0m7-2h0m0 2h0m2 1h0m15-1h0m14 0h0m3 0h0m14 1h0m1-1h0m9-2h0m2 3h0m15-3h0m1 0h0m9 2h0m17 1h0m10-3h0m2 2h0m2-2h0m7 0h0m5 2h0m2 0h0m5 1h0m1-3h0m62 2h0m101 0h0m-372 2h0m1 0h0m2 0h0m13 2h0m10-2h0m12 0h0m3 3h0m4-3h0m4 1h0m7 0h0m12 2h0m2-3h0m3 3h0m17 0h0m9-2h0m25-1h0m8 2h0m8-1h0m2 1h0m10-1h0m14 0h0m9-1h0m4 2h0m3-2h0m0 3h0m2-3h0m1 3h0m6-3h0m3 0h0m3 3h0m14 0h0m36-1h0m9-2h0m1 0h0m112 0h0m-355 6h0m4-1h0m20 1h0m2 0h0m3 1h0m6-1h0m11-1h0m1-1h0m13 0h0m2 0h0m3 1h0m39 0h0m24-1h0m11 3h0m15-2h0m4 2h0m7-1h0m4 0h0m5 0h0m1-2h0m2 1h0m5 2h0m2 0h0m1-1h0m2-2h0m1 3h0m1-2h0m2 2h0m1-3h0m3 3h0m1-1h0m2-1h0m41 1h0m9-1h0m6 2h0m24-3h0m-303 6h0m20-1h0m11 1h0m5-2h0m15 1h0m21-1h0m11 1h0m19-1h0m14 1h0m1 1h0m63 1h0m6-1h0m5 1h0m15 0h0m4-3h0m16 2h0m5 0h0m1-2h0m4 0h0m105 2h0m3 1h0m-337 1h0m4 2h0m17 1h0m49 0h0m4-1h0m1-1h0m9 2h0m4-3h0m13 3h0m26-1h0m9 0h0m7-1h0m14-1h0m23 1h0m4 1h0m16 1h0m1-2h0m3 2h0m0-1h0m19 1h0m4-1h0m8-1h0m5 2h0m2-2h0m1 1h0m5 1h0m78 0h0m8-1h0m-331 5h0m10 0h0m2 0h0m2-1h0m3-1h0m10 0h0m1 2h0m2-2h0m9 0h0m26 0h0m2 1h0m11-2h0m9 3h0m4-2h0m12 1h0m1 0h0m7-1h0m9 0h0m24-1h0m3 0h0m11 1h0m11 0h0m11-1h0m16 1h0m2 2h0m0-3h0m3 2h0m10-1h0m2-1h0m15 1h0m7-1h0m4 3h0m83-3h0m0 1h0m1 1h0m1-1h0m2 0h0m2-1h0m-306 4h0m2 1h0m7 0h0m7 2h0m46-2h0m7 1h0m9 1h0m6-2h0m5 0h0m23-1h0m1 0h0m32 1h0m29 2h0m16-1h0m0 1h0m1-1h0m32-1h0m78 0h0m1 2h0m-329 2h0m0 0h0m28 0h0m2 2h0m0-1h0m8 0h0m6-2h0m5 1h0m34 2h0m2-1h0m24-2h0m2 0h0m57 1h0m4 2h0m26-2h0m5 0h0m1 1h0m4-1h0m11 1h0m-218 2h0m3 3h0m12 0h0m17-3h0m2 1h0m0 1h0m0-1h0m18 0h0m8 2h0m1-2h0m12-1h0m25 1h0m8 1h0m25 0h0m4-1h0m6 2h0m33-2h0m54-1h0m-226 6h0m11-2h0m4 2h0m3-1h0m1 0h0m9 0h0m22 1h0m1 0h0m2-1h0m0-1h0m1 1h0m6 2h0m4-3h0m6 2h0m8 0h0m15 0h0m9-2h0m11 1h0m2 2h0m18-3h0m6 2h0m59-1h0m25 0h0m-225 6h0m2-1h0m6-2h0m2 3h0m6-1h0m7 1h0m4-1h0m21-2h0m22 0h0m4 2h0m3 1h0m1-1h0m15-2h0m4 2h0m6-2h0m7 2h0m8 1h0m12-3h0m0 1h0m4 1h0m5-2h0m-136 4h0m1 2h0m21-1h0m69-1h0m16 3h0m17-3h0m3 0h0m5 3h0m48 0h0m100-2h0m114-1h0m2 3h0m-392 3h0m32-1h0m20 1h0m8-2h0m4 2h0m23-2h0m10 2h0m26 0h0m2 0h0m4 1h0m6-3h0m8 2h0m38-2h0m131 0h0m-294 7h0m16-2h0m12-1h0m36 0h0m2 1h0m26 0h0m1 2h0m21 0h0m2-2h0m43 0h0m3 0h0m39 0h0m2 0h0m170-1h0m-388 7h0m28 0h0m7-2h0m11-1h0m29 3h0m1-3h0m7 1h0m28-1h0m13 0h0m4 2h0m135 0h0m6-2h0m-271 7h0m3 0h0m17-3h0m2 0h0m17 1h0m10 1h0m28-1h0m12-1h0m16 2h0m1-2h0m1 2h0m124-1h0m-243 6h0m13-3h0m5 3h0m16-1h0m3-1h0m3 2h0m1-3h0m12 2h0m9 0h0m2 1h0m51-2h0m119 1h0m-232 4h0m4-1h0m24 2h0m3-2h0m4 2h0m1 0h0m1-2h0m3 1h0m3 1h0m6-3h0m15 0h0m6 0h0m11 1h0m1-1h0m1 0h0m3 0h0m4 0h0m16 3h0m-104 2h0m49 2h0m26-3h0m9 2h0m3-1h0m26 2h0m3-1h0m115-1h0m7-1h0m2 1h0m-231 3h0m12 3h0m4 0h0m7-3h0m14 3h0m28-2h0m-80 4h0m29 1h0m21-2h0m0 2h0m6-1h0m49-1h0m249 3h0m-357 3h0m3 0h0m0-1h0m2 1h0m5 0h0m15-2h0m2 3h0m1-1h0m10 1h0m8-3h0m1 3h0m5 0h0m4-1h0m4-2h0m59 3h0m286-1h0m-404 3h0m4 2h0m3 0h0m12-2h0m4-1h0m1 2h0m3 0h0m4 1h0m8 0h0m5-3h0m1 0h0m35 0h0m189 3h0m-245 1h0m1 1h0m3-1h0m1 0h0m4 1h0m12-1h0m3 1h0m7 0h0m13 2h0m0-3h0m6 1h0m13 0h0m137 2h0m56-2h0m50 2h0m-320 1h0m7 3h0m20-2h0m10-1h0m0 1h0m21 1h0m5 1h0m-73 2h0m17-1h0m13 1h0m10 0h0m1-1h0m1 1h0m6 1h0m3-2h0m3 1h0m22 0h0m1 0h0m103 1h0m175 1h0m45-2h0m-378 5h0m16 1h0m4-2h0m7 2h0m2-2h0m128 0h0m1 0h0m158-1h0m22 3h0m-325 4h0m14 0h0m2-2h0m51 2h0m81-1h0m71 1h0m87 0h0m1-3h0m43 2h0m-343 2h0m117 2h0m-126 4h0m95 0h0m29-2h0m187 2h0m-219 3h0m21 2h0m8-2h0m37 2h0m18-1h0m175-1h0m-194 5h0m18-1h0m0 2h0m172-3h0m-365 7h0m29-3h0m92 1h0m2 0h0m12-1h0m93 1h0m-244 4h0m72 1h0m2 0h0m62-2h0m3 2h0m68-2h0m-205 4h0m12 1h0m57-1h0m1 3h0m245 2h0m-48 5h0m35 0h0m-3 3h0m-147 6h0m2 0h0m30-3h0m-106 4h0m47 0h0m26 2h0m-88 3h0m1 0h0m17 0h0m32 2h0m12-2h0m16 0h0m79 2h0m-194 4h0m57-3h0m34 0h0m24 2h0m-105 5h0m182-2h0m88 1h0m4-2h0m1 2h0m58-1h0m27 0h0" stroke="#777" stroke-width="1" stroke-linecap="square"/>
<path d="M989.6 65.7l-1 .3m-50.1 2.6h0m51-1.5l.6 .8m21.1-.4h0m-186.6 6l.9-.5m91-1.2l.5 3m2.1-3.7l.8 1.8m103.4 .4l.4 2m71.4-4l.3-1m-226.3 4.8h0m-51.3 5.3l-1.7-2.5m3.7 3.2h0m28-2.6h0m100.2 3.1h0m-133.6 4.8h0m143.4 .9h0m79.6 4.9l-.1-1m-171.3 5.6l-2.6 1.4m139.3-1.9h0m17.8 .7l1.1-1.6m-194 6.2h0m166.3-2.6l1.7-1m17.6 1.4h0m10.9 1.7h0m53-3l-1.1 2.8m1.7-2.4l1.9-2.3m-206.3 9.7l.9-.5m-.6-1.5l.9-.4m138.2 2.5l.1 1m14.2-3.1h0m58.4-.3l.7 1.9m-200.5 1.1l1 .2m17.6 2.4l-1-.3m23-1.1h0m5.9-1.6l-.6-.8m75.4 3.6l.1 1m46.8-2.9l.5 3m-195.1 3.6h0m54-2.9h0m9.8-.2h0m33.5 2.1h0m3-1.6l.1 3m33.2-1.6l-1 .2m14.2-1.1l-1.3-1.6m-150.8 6.8l-.6-1.9m28.5 .8l.6 .8m37.3 .6h0m.9-.2l-.2 1m137.7 0l-.6 2.9m-154.2 .5l.4-.9m30.7-.2h0m62-1.7l-.2-3m25.8 6.2l-1.1-2.8m42.2 1.5l-.9-.4m2.1-.2l.5 .9m-188.1 4.9l.2-1m5.3-1.5h0m62.1-.1l-.4-2m7.6 4.1l.3 1m-58.9 3.7h0m-42.7 2l.9-1.8m78 1.2h0m.6 2l-1 0m-56.3 2.6h0m25-.8l1-.3m14.3 2.1l2-.4m14.3 .3h0m1.2-1.5h0m-61.8 5.3h0m19.7-1.8h0m50.2 2.7h0m25.3 .4l-1 .1m60.9-3.1l1-.1m-1-.4l-.3-1m19.6 1.8l-1.8-.8m-93.2 7.3l1.9 .6m128.3-1.2l-.1 1m-184.1 .1l-1 0m38.9 3.6l-.5 .9m4.4-1.7l-.1-3m27.9 .5l-.1 2m1.4-2.3h0m17.9 1.5l1-.1m25.7-1.1h0m5.7 2.5l-2.4-1.8m3.8 2.2l.5 .9m-183.3 3.1l.3-2m57.9-.6l2.3-2m9.8 1.7l.3-.9m63.7 .8l.6-.8m-132.2 7.5h0m64 .3l-1.5-1.3m64.8 .6h0m.8 .9h0m81.5-2.8l-.1 1m-238.5 5.2l.9-.4m202-2.2h0m25.3 2.4l-.6 .8m-227.6 .7h0m89.7 3.8l-1 .3m40-2.2l-.5-1.9m3 .3l1.2-1.6m60.5 2.8l.9 .5m40.1-.3l.4 2m-168.9 2.4l-2.4-1.8m24.3 1h0m3.1 1.7l2.9 .6m29.2-2l-1 0m47.6 1.4l.9 .4m0 .4l.5 .9m14.2-3h0m.7 0h0m21.3 .9l-2.2-2m6.2 2.1l-.2-1m2.3 1.3l-.6-.8m48 .6l-.4 .9m-206.6 1.3l2-.2m42.5-.4l.8-.6m122 3.1h0m.2 0l2 .2m-101.6 3.1l-.9 .3m12-2.1l.6-.8m1.9 2.7l-1-.1m102.7 .2h0m.1 .7h0m19.4-1.1l-.2 2m-208.6 .6l1-.1m33 .8l-1.2-2.8m17.5 3.6l-2-.3m94.9 1l.2 1m17.2-1l1.7 1m-91.6 3.1l-.8 .6m82.8-3.1l-1.9-.6m-145.2 6.1l.7 .7m118.2 .4l0-1m3.3 1.4l-.7 .7m-237.8-.1l-.6 .8m51.8 .8l.4-.9m1.1 .7h0m.1 2.5l1-2.8m49.9 4.8h0m4.2-.1l-.5 .9m1.5-1.1l.3-.9m2.9 1.9h0m80.1 1l1-.2m11-1.5h0m28.1 3.1l2-.1m47.5-.1l1.1 1.7m-197.9 5.3h0m50.4-.3l-1 1.8m88.3-4.4l2 .4m58.2 .8l-1-.1m6.6 .6h0m-151.6 4.3h0m122.7-1.8h0m-72.4 3.4l-.4 2m-60.1 3.6l1.3-1.5m31.3 1.4h0m115.1 .7l-1 .1m2.6-2.3l.6-.8m-.4 .9h0m-178.7 5.9l.3-2m4.2-.7l.5-3m14.5 6.5l.1 1m40.4 2l1.6 1.2m-1-.8l-1-.1m141 .1h0m-184.7 8.1l-1-.3m78.1-.1l.4-.9m-41.7 6.1h0m1.2-1l.8 .6m23.4-.5l2 .4m23.9-2.1l.6 1.9m17.5 0l-.1 1m33.8-2.7l2-.3m6.4-.9l1.8-2.4m-189.9 8.1l1 .1m14.1-.6h0m8.1 1.6l-.1 1m38.1-1.7l.8-1.9m2.1 1.3h0m13.6-1.4l-.4 .9m23.1 1.7h0m52.5-.9l-.4 .9m27.5 .9l.2 1m27.5-4.2h0m-310 3.7l2.8 1m111.1 1.7l-.5-1.9m13.2 2.7l2.1 2.1m38.1-5.8l-.1-1m.3 1.3l-2.4 1.8m42.9 0h0m22.4 .2l-1.5 2.6m63.7-5l-.1 1m2 1.5l1 .2m10.3-.3l1.8-1m-171.9 3.1l-2.4-1.7m59.3 2.5l-2.8 1.1m24-2.4h0m6.9 .8l.2-1m17 2.4h0m-32 3l-1 1.7m156.1-.4l1 .2m-296.7 1.8l-1-.1m77.7 .7h0m52.7 .5h0m15.5 1.3l-.1 1m64.1-3.7l.9-.4m17 2.2l.6-.8m67.8 2.4h0m-257.5 2.9h0m2.5-1.8h0m1.1-.4l-.8-.6m25.9 1.8h0m4.3 .4l.3 .9m.2-1.9l-1.4-1.5m100.5 2.9l2.3-2m11.7 2.5h0m36.6 .7h0m1.5-.2h0m-190.9 1.5h0m108.6 .7h0m67.9 .7h0m-139.5 5.4l.8-.6m-131 5l-3 .4m251.1-.5l.5-.8m4.8-2.3h0m-246.6 4.2l-2.8 1.1m59 1.9h0m70.5-.2l2.8 1.1m68.9-1.2l-1.3 2.7m-182.3-.9l1.8 .9m27.4 .4h0m.9 .3l-1 .1m53.5 .5h0m53.4-.5h0m8.6 .6l1.5-2.6m13.6-.6l-1.4 1.4m24.3-.3l1 .1m-.4 .3l2.5 1.6m39.9-2.1l-1 .2m12.1 1.2h0m1.2-2.6l-1-1.7m16.3 2.8h0m-227.3 5.7h0m48.5-.7h0m7.4-1.6h0m54.5-.3h0m25 1.6h0m1.3 1.2l2-.4m27.3 .5l-.6 .8m59.9-2.2l.8-.5m18.2 1.5l2.7-1.2m-281.2 3.7l-1.2 2.7m25.2-2.7h0m2.1-.1l-.9 .5m37.1-1.2l-.9 .3m33 2.9l-1 0m29.6-3.4l.1 1m1.9-.4l-1.9 2.3m7.6-2h0m11.5 2.4l1.6 2.5m13.2-3.5l-1.5-1.3m4.7 1.4h0m16.9-.7l-.1 1m14.5-2.6l.3-1m10.3 .7h0m-209.9 4.5h0m67.2 1.6l.2-1m.2 .2h0m.5 .4l-2-.2m3.8-.5h0m-44.8 5.8h0m9.4 .8l.1 1m161.9-1.9l-2.9-.8m4.1-2l-.7-.7m-109.7 4.4l.4-2m16.5 3.8l-.4-3m30.3 4.6l-.5 .9m36.1-4.3l-.4-2m.4 2.6l-1-.2m3.6 3.5l-3 .2m-35.2 .2l-.2-1m12.6 4.3h0m32-.7h0m-142 3l-.3-1m39.2-.5h0m56.7 3.1h0m8.8-1.6l-1-1.7m11.1 2.7l-.4 3m-120.6 .2h0m171-.3h0m6.4 2.1l.2 1m18.4-4.6l2 .2m-203.5 5.2h0m-17.9 2.9l-2.1-2.1m2.7 4.3h0m40.2-.2h0m1.3-1.5l2-.1m33.3 3l1.2 2.7m-.6-4.7l-.9 .4m-74.3 5.1l-.1-1m43.9 3.2l2.6-1.4m40.3 2.2l-.8-.6m99.1 1.8h0m-200.5 .4l1 .1m277.8 1l1.8-.9m-275 5.5l1.2 2.8m175.2-3.7l.1-2m-143.2 6.5l.1 1m61.6 .4h0m35.6 .8h0m-128.8 2.6l-.3 2m43.2-3.6l.2 1m39.6-1.3h0m7.6 1.7l.1 1m-45.2 3l1 .1m66.8 .5h0m3.1-1.6h0m.2-.2l1.9-.6m-66.9 7.5h0m178.9-3.3l.9-.4m-211.7 6.2l-1 .1m209.2-.6l-.4-.9m-223.5 6.7l-.9-1.8m31 .8l2.8-.9m192.2-1.5l.9 .5m66.2 5.9h0m-250.3 4.3l-2-.2m-50.5 3.6h0m1.2-.5l.8 .6m30.1 .7l1 .1m4.4-1.4l-1.6 2.5m45.1-2.9l-.8 .5m131.5 .2l2.3-1.9m-.4 0l-.8 .6m-198.8 5.9h0m5.5-2.1h0m44.4 1.8h0m-65.5 3.2l.3 1m2.6 4.1h0m32-.7h0m356.3 1.9h0m-400.8 2.7l-.7-2.9m53.9 5.7l2.4 1.8m122.9-2.6l-.3-2m7.5 4.9l-.4-.9m-154 5.2h0m12.5 3.1h0m335.3 7l.7-.7m-243.3 9.6h0m-62.4 4.8h0m43.4 28.3l1 0m24.7-1.7l-.6-.8m1.9 .5l.2 2" stroke="#151515" stroke-width="0.9" stroke-linecap="round"/>
<path d="M1012.1 63.6l-1.5 2.6m-118.5 3.1l-2 2.2m144.9-.1l-.3-1m2.5 .9l.9-1.8m25.8 2.4l2.4 1.8m-210.8 7.1h0m93-.6l-.4 .9m1.2-2.1l2 .4m89.2 8.6h0m-130.6 8.7h0m37.9 2.4l1.2 1.6m49.5-2.5h0m5 0h0m9 1.8l.4 .9m5.3-2.2h0m1.9-.4h0m4.7 3.1l-.8-.6m-218.9 2.1h0m108.4 3l1.1-1.7m18.1 1.2l-1-.2m1.7-1.1l-.8-1.8m79.7 1.3l1 1.7m.5-1.4l-2-.3m75.5 0l.7 .7m-202.6 2.1l-2.9 .7m26.6 2.2l.4-.9m2.7 .6h0m1.6 .1l-2.4-1.8m14.7-.8l0-1m80 3.4l-.5 1.9m48-3l.9-.5m-163 6.6l-1 0m-34.9 3l-1.9-.5m12.7 1.5l1.8 .9m37.9-3l-1.9 .4m2.9 .2h0m18.8 1.1h0m-19 .9h0m29.5 1.4l-.8-.6m95.4 2.6h0m29.4-3.1l-.8 1.8m-184.4 7.3l.6-.8m5 1.1l.2 1m.8 .1l1.5 2.6m106.6-4.9h0m9.3 2.7l1 0m-132 2.2l-1 .2m27.4 0h0m34 .8l1.5-2.6m101.4 0l.5-.9m0 1.8h0m-159.4 5.8l-1-.1m55.5-.6l.5 .9m-102.8 2.7h0m26.6-.3h0m19 .8h0m71 0l-2.7-1.3m3.7 0l3 .4m8.7-.5l.3 1m1-1.5l.1 1m31.3-.8h0m.8 .2l-2 .4m27.7 1.4h0m2.1 1h0m4.8-1l.9-.4m-185.8 3.9h0m.6-1.5l-1.6 1.2m1.8-.6h0m42.4 .7l0 1m119.3 1.1l-1-.3m-188.2 .3h0m.7 1.1l-.2 1m63 .8l-.6 .8m23.3-.1l-2.9-.8m56.8 .7l-1-.1m20.2-1l1.9 2.3m26.8-4l1.4-1.4m18.5 1.7l-.8-.6m2.6 1.1h0m-114.4 4.6h0m40.8-.2l-1.6 1.2m109.2 .6h0m-206 1.5l-.6 1.9m5.9-2.2h0m4-.1l.6 .8m108 .2h0m40.1-.3l.1-1m24.5 .1l.7-.7m17.4 3.5l1.3-1.5m-228.1 5.5l-.7 .7m25-3.5l-2.9 .9m19.4-.5h0m116.3-.6l-1.9-.7m8.9 3.2h0m9.4-1.2l.9 1.8m41.8-.6l1 0m-.3-1h0m6.1 .8l-1.7 1m9.5-3.2l.4-.9m-234.6 4.7l-2.9-.9m4.1 3l.4-.9m41 .5h0m52.9-.1h0m89.7-.6h0m37.5-1h0m-185.2 4h0m25.7 3.4l-.8-.6m20 .2l-2.4-1.8m116.9 1.9l-2.8-1m2.9 .6h0m5.6-.8h0m-138.6 2.9l.2 1m23.3 1.5l-1 0m29.6-3.4l2 .2m-1.2 .6l-.6 .8m4.6-1.2l.4 .9m1.6-.7l.2-1m-63.4 6.7l-1-.2m23.7 1.1h0m15.9-1.3h0m2 .6l3 .5m-210.7 4l.3 3m84.7-4.8l-1-.3m110.6 .7l1 .2m109 .9h0m-16.9 3h0m25.2 1.4l-.9-.4m19.3-1.1l-.9-.5m3.3 1.2h0m-191.6 2.3l-.3 .9m8.5 1.3l-1.6 2.5m12.5-5.3h0m22.4 3.7l-.7-1.9m9.1 .2l-.3-2m18.2 3.6l.4 .9m26-3.1l-1.8-.8m3.9 1.2l-1.9-.5m33.3 .4l-.1-1m1.8 1.4h0m47.7 .3h0m2.3 .6l2.2 2.1m18.2-4.8h0m-307.8 4.8l-1.6 1.3m98.4-2.3h0m20.3 0h0m45.2 5.5l.1-1m24.9 1.7h0m2.6-1.5l-1 .3m33.7 1.3l-.3 1m1.4-1.4h0m1.4-1.4l-1.3-1.5m39.6 5.5h0m-136.9 4.1h0m58.9 1.9h0m1.5-1.6h0m94.8-.5h0m-197.7 3.3l.5 .8m12.8 2.2h0m43-1.4l.1-1m7.3 2.5l.3-.9m38.5 1l2.8-1.1m-2.8 1.2l-1.2-2.7m88.4 2.2h0m-136.7 2.6l-1-.1m3.5 1.7h0m155.5-1.1l-1 .2m-322.7 3.7h0m239.9-1h0m3.3 2.4l-1.9-2.3m2.1 2l1-.2m-154.2 4.2h0m36.7 .1h0m17.9 1l-.6-.8m13.4-1.4l2 2.2m35.5-3.8l-1.9-.7m-102.5 5.4l-.2 2m85.4-.4h0m9.2 .6h0m35.6-.5l-1.2 1.6m37.3-1.7l-.5-.9m27.4 1.1l.1-1m.8 3.1l1.8 .8m-165 2.8l-.7-.8m-47 5.7l.8-.5m163.1-.3l1.5 1.4m-.2 0l-2.7 1.4m10.6 .1h0m40.4-3.3l.6-2.9m5.7 4.8l-1-2.8m-190.1 5.2l0 2m57.6 1.2h0m4.2-1l1-.2m27.9 1.5h0m.1-1.7l.3-1m38.3 1.1l-1 0m22.2-.3l.8 .6m-229.6 3.6l-.1 3m114.7-1.2l.5 1.9m32.8-3l0-1m2.2 .3l-1.9 2.4m58.6-.6h0m2.8-3.6h0m8.1-.3l-.8 .5m21.2 1.9l-1.2-1.6m-148.4 5.2l.7-.8m11.1-.9h0m1.2 .3l-.3 1m87 2l.3-1m-120 4.8l.6-.8m104.5 0h0m5.6-1.6h0m60.4-1h0m10.6 3.4h0m-148.6 1.8l.7-.7m3.8 1.2l1 .1m1.3 .2l.5 .9m5.3-1.3l2.8 1.2m7.3-.6h0m22.5 .3l.7 2.9m35.9-2.5h0m29.7-.9l.8 .7m24.5-1.6l.9-.4m26.8 1.9h0m103.8-1.3h0m-301.2 6.3l-1-1.7m12.1-1.6l3 .4m85.4 2.3l0 1m57.3-2.5h0m-83.8 5.4h0m32.1-.9l-.3 1m73.6-1.2l.5-.9m13.3-.8l-1.4-1.4m-206.1 8.4h0m.8-.1l-.6-.8m12.1-1.6h0m52.1 .5l-1 .3m1.6 2l-.9 .4m2.3-.3h0m117.5 .2l1.7-1m9.8 .2l.5-.8m-144.1 4.8h0m30.7-1.6l.3-3m10.4 4.7h0m.2-.7l-2 0m87.7-2.2l.9 .5m2.4 1.2h0m-259.1 2.5l-3-.1m183.5 1.2h0m1.6-.6l.9 .4m59.1 .4l0-1m6.5 3l-1.2 1.6m33.9-1.6h0m.4-.3l-1 .2m-254 4.1h0m118.3-1.9l-1.7 1m26.2-1l-.9-.4m91.3 1.9l-.6-.8m12.5 1.4l.6 1.9m-275.8 1.4l-1.9-2.3m3.1 1.5l-.8-.6m34 .1h0m.3 .5l-1.9 .5m85-1.5h0m7.4-1h0m33.7 .8l-2.1 2.2m3.7-1.1l1-.1m25.6 0l-.8-1.8m33.1 3.5l.7-.7m47.8-.4l.4-2m-215.5 4.3h0m93.5 2.1l2.8-1m8.5-1.5l.2-1m9.4 4.3l0 2m1.3-2.1l-.6 1.9m23.7-1.9h0m9.3-2.5l1 .2m-1-.2h0m59.6-1.3l.4-2m-251.4 9.6l-3-.4m39-.6l.9 .4m129.2-2.2l1.3-1.5m10.8 3.4h0m2.7-2.2h0m19.1 3.3l-.8 .6m2.2-1.1h0m1.3-.4h0m-146.5 4.1h0m.9-1.6l-1.9-.6m11.3 .7l-.8 2.9m176.4-2.7l.9-1.8m.7 .6l-.5-.9m-255.4 5.1l1 .3m66.9-.4l-.1-1m25 .7l1.4-1.5m22.4 2.3l-1.3 2.7m53.5-.9h0m10.4-2.2l1-.3m51.1 4.7l.4 .9m12.6 1h0m-196.6 3.4l-1.9-2.3m204.5 2.9l0 1m-239.6 .3l.2-1m.3 1.1h0m27.5 .1h0m139.1 .6l.1 1m36.5 1.3l2 .4m.3-1.8h0m-38.2 3.3l-.1-1m-170.6 5.2l-.8-2.9m11.9 2.8l-1.8 2.4m-10 .1h0m31.3 .2h0m60.8 2.8l1 .1m16.7-1.9l2.6 1.5m20.2-1.6h0m-75 6h0m76.1 .7l.3-1m-35.7 2.9l-1.3-1.5m136.7 3.5l.3-2m-237.2 10.1l3-.2m38.1-2.6h0m11.1 2.8h0m41.2-.6l1.9-.6m-96.2 1.7h0m38.2 1.8l-.8-.6m57.5-.1l-.2-1m8 1.2h0m-69.7 6.4l.4 .9m46.5 2.3h0m159.3-2.4l-.4 2m-237.3 4.4l2.9-.8m13-.5l.2-1m18.5 1.2l-.6-1.9m272.3 11.1l.3-3m-.3 1.1l.8 .6m-272 5.9l-2.3-2m15.2 .8h0m8.9 .6l-.3 1m1.5-1.5l-2.6-1.5m-46.4 5.7l-2 .1m26.9 .3l-3 .5m183-3h0m51.9 4l-.1 2m125.3-.8l-.5-.9m.9-.7l.2 1m-383.6 4.8l-2-.4m384.9 4.5l.7 .7m-352 6.6h0m128.3-.7l-.2-1m165.5 15.4h0m-148.1 .9l.5 .9m185.1-.6l1 .1m-.2 1l-.9 .3m-300.6 37.8l3-.1m35.8 2.9h0m26-.4l-1 0m83.3 3.6h0" stroke="#151515" stroke-width="1.1" stroke-linecap="round"/>
<path d="M943 65.7l-.8 .6m69.4-1.5h0m-120 4.2h0m1 .5l-.8-.5m81.5 .7l-2 .2m29.6-2.5l1 0m-177.6 6.4l1.7 1m125.7 .5h0m-131.8 5.7l-.4-3m77 2.9l-1 .3m-80.8 5.5l.5 .9m165.4-1l.5-.8m-100.2 6l.5-.9m-.4 .3h0m-48.7 4h0m32.7 1.2l1.3 1.5m78.4-.6l-1.9-.7m6.7 4.6h0m63.7-2l-.5 .9m.5-.2h0m66.1-1.2l.6-.8m-207.1 7.9h0m88-1.2l2.7 1.2m63-2.6l.8 1.8m-115 3l-2.2 2.1m50.5-1.1l.9-.5m32.1 2.9l-.9-.4m26.4 .3l.5 .9m-166.5 5.3h0m53.7-2.7l-1.8 2.4m45.2-1.3l0 2m.8-.1h0m41-3.5l.4 .9m-94.1 4.8l.6 1.9m-.4-.3h0m.7-.7h0m26.9-1h0m15.9 1.1l.4 2m54.3-3.7l.1-1m-113.7 4.3l.8 .6m6.3 2.7h0m.7-2.1l-.5 .9m90.3-.7l.1 1m32.4-.3l1.5-1.3m17.5-1.1l2 .3m-192.1 6.3l-1 .1m28 .9h0m13.5-.4l.8-.6m41.8 .3h0m72.5-1.7l.2-2m10.4 2.8h0m-144.4 5.1h0m2-.4l-.3 2m56.1-2.9l0-1m7.3 1.6h0m102.3-2.2l-.9 1.8m-112.9 3.7h0m37.9 1.9h0m87.3-.1l-.9-.3m-217.2 1.3h0m114.3 2.9h0m15.5-2.3l.5-.8m-76.6 5.6h0m97.6-.6l1 .2m17.5-.6l1.1 1.6m-.8-.5h0m1.9-.4l1-.1m49.5 1l.2-2m-114.5 7.2l-2 .1m15.8-2.8l-.7 .7m5.2 .9h0m6.1-.4h0m6.1-2.1l.3 1m54.3 1.7l3-.4m25.7-.1l-.4 3m-157.2-1.1h0m122.8 3.2h0m-179.3 .4l-1 .2m70.3 2.1l-2.4-1.8m94.4-.6l-2.9 .6m11 1.1h0m12.4 .3l1 .1m-119.3 4.4h0m17.3 .4h0m80.2-1.6l.2-3m-81 8.5l-.3 1m50.1-2.8l1.3-1.5m-.6 3.2h0m37.2-.7h0m-175.8 5.6l-2.9 .8m15.7-4.2l-.7 1.9m36.9-.6l1.6 1.1m23.2-1.4l-3 .3m4.4 1.2h0m1.4 .8l.1-1m9.6-2.1l.7 1.9m30.7-.7h0m-198.5 2.6h0m161.4 .9l.3 1m52.7-1.4h0m42.3 1.8l.4-.9m.4 2l-.9 2.9m7.4-3.5l-1.8 .8m-78.2 3.7h0m.1-.8l.6-.8m65.8 1.9l1.9 .7m88.4-.6h0m-291.1 1.8l1.6 1.2m70.4 .9l-.3 1m31.6-4.5l-3 .4m151.9 2.6l1-2.8m37.2 .5h0m-243.3 6.1l.8-.6m-.2 .5l-2.6 1.5m32.5-2.2h0m105.4 .3l.4 .9m20.3-2.6h0m-252.7 7.1h0m89.2 0h0m112.2-1.5l3-.5m64.9-1.6l1-.1m97.2 1.7l-1.8-.9m-201.9 6.7l3-.1m24.5-3.3h0m.9 .2h0m17 2l-.7 .7m-142.7 1.9l-1.3-1.6m21.5 3.6h0m27.4-.4l-1.7 1m87.2 0l-1 .1m-59.7 2.6h0m.1 1.3l-.9 .4m33.2-1.9h0m22-1.1l1.9 .7m36.6 .1l-.1 1m38.7-.6l1.3 2.7m-12.3 1.3l1-.2m11.7-1.8l.8-2.9m7.7 3h0m7.9 1.3h0m1.1 0l-1.5-1.3m-190.6 6.7l-.2 1m17.2-2h0m34.1 1.3l-2 .3m38.1-.9l.9-.3m-.1-.8l-.4-.9m52.2-.5h0m-148.5 6h0m41.1-1h0m17.8-.3l-.4 .9m31.5 1l-.8-.6m58.2-.3h0m-104.6 4.2h0m10.1 1.3h0m131.2-3.1l.1 1m-143.6 5.5l.2-1m35.7-1.2l-.7 .7m2.5 1l-.1 1m122.2-.8l1 .1m-175 2.3h0m101.5 2.6h0m82.5-.7l-1.8-2.4m-158.5 5.5h0m31.2-1.9h0m101.2 1.6l2.9-.6m-228.8 5.7l1.3 2.7m38.3-4.3l-.5 .9m45.6-1.3l-.8 .6m135.9-1.2h0m-191.5 5.9h0m39.1-1.9h0m7.6 2h0m158 .8l0-2m-283 3.5h0m76.6 1.4l.8-.5m36.1 1.7l1.7-1m160-1.3l-2.9-.9m-295.6 5.3l-.9-1.8m124.1 1.1l.8 .6m58.2-.1l-1.7 1m51.1-1.5l-2.9 .7m14.8-1.2l.2 1m18-.7h0m-213.2 6.4l-.7 .7m65.1-1.2l-1 1.7m76.6-.3l0-1m1.6-.1h0m13.7-.6l.1-1m.4 1.8l1.5-1.3m4.9 1.9l-1-.2m6.9-1l-2.8 1m21.3-2.3l.7 .7m66.3-.6l-2.6 1.5m-140.4 2.1l1-.2m5.3 .7l.6-2.9m16.8 5.1h0m14.5-2.1h0m35.9 2.7l-.8-.7m30.5-.7l.6-.8m-172.2 2.6h0m11.5 3.5l2 0m36.8-.2l1-.2m5.5-1.6h0m46.3-.5l1 0m-.5 1.5l2.1 2.1m38.2-1.2l.2 1m24.7-2.6h0m-38.2 2.1l2.9-.8m23.3 .9l-.9-.5m43.9 3.7l-.5-.9m-127.2 4.6h0m39.3-2.8l-.4 .9m.5-1.3l-2.6 1.5m27.7-.1l1.6 1.2m42.1-2.5l0 1m-182.5 3.7h0m24.5 .4l.8 .6m48.3 1.2l-1.9-.6m92.1 1.1l-1 .1m19.1-1.1h0m18.3-1.1h0m-143.6 3.6l-2.1 2.2m13.3-2.6l.7 2.9m-148.8 2l-1-.1m17.2 2h0m85-1.5h0m82 .9l-1.9 .7m-158.5 3.2l-.8-2.9m52.3 1.2h0m37.6 3l1-.3m-.1-1.7l-1.9-.5m15.7-.9l-.4-.9m33.5 3.8h0m16-1.3l-.8 .7m5.5-2.3l-1.8 .8m60.4-.9h0m12.3 .7l-2-.1m-229.1 4.5h0m16.8-.5l-.7 .8m6.6-1.2l-2.1 2.1m33.7-2.5l-1 .2m73.1 .4h0m139.4 2.4l.6-2.9m-.3 2.9l-1-.2m-288.6 4.5l.3-1m33.1 .2l-.8-2.9m1.9 1.5l-.5-1.9m14.8 3.5l2.6 1.5m78.9-3.8h0m59.6 1.6l-.9 .5m3.8-2.4h0m9.4 2.8h0m1.5-2.7l.9-.4m-.1 2.4h0m-167.6 3.4l.1-1m81.7 2.3l.1 1m134.6-.8l.6 .8m-266.4 3.7l.5 1.9m76.3-2.5l-.2-2m24.4 1.2l2.1-2.1m169.1 2.9h0m-258.8 2.9l.9 1.8m1-3.5l.6-1.9m171.3 5.3l-1 .1m1.6-2.1l-.9 .5m41.1 1.4l2.9-.8m-2.8 .1l1 0m-.7-.7l-1.3-2.7m-150 6.5h0m9.8-1.2l.9 1.8m69.3 .1h0m94.5-.3l.9 .3m-.2-2.6l.8 2.9m-109.2 3.1h0m22.2-2.1l-2-.4m49.3 1.1l-3 0m28.6 .7h0m19.6-.6h0m-144.8 6.2l-.1-1m105.2 1l-.2-1m-3.1 3.2l.6 2.9m7.9-4.1l-.4-.9m-161.6 6.6l.5-.9m-1.8 4.8l-.8-.6m6.5 4.7l-.9-.4m43.7 2.3h0m5.2 1.7l-.2-1m94.4 0h0m-19.6 5.6l.6 .8m-142.7 2.1h0m61.6 1.1l-1 0m-52.7 2l.8-.6m4.9 6.7l-1.5 2.6m4.5-3.5h0m4.1 5.1h0m15.5-.7l.5-3m36.7 4.4h0m-98.6 3.5l-.7-.7m31.6-.4l-1-.2m1.7-.5l-.4 .9m9.1-.8l-2.6 1.4m64 4.9h0m1.6 .2h0m-83 8h0m-31.9 1.9l.8 .6m32.1 .4h0m12.2-1.2h0m33.5 .7l3-.4m-2.4-.4l-.6-.8m203.7 2.9h0m-208.9 1.6l.4 .9m-22.1 6l-.9 .4m162.9-3.4h0m171.8 8l.9-.5m-353 7.8l-2-.4m296.1 .1l3 .1m-327.5 .4l.4 .9m363.8 2.4l.9-.4m-349.9 1.2l-1.5-1.3m12.6 3.7l-.8 1.8m2.3-1.1l-.5 .9m110.2 3.5l.9 .3m-17.5 12l.2-1m108.6-1.2l-.1 2m-173.3 4.9h0m199.5 9.6h0m1.5 .9h0m-87.6 9h0m-67.4 4.8l2-.3m28.3 3.3l2 .3m75.4 2.7h0m155.2 9.7l.9-.4" stroke="#151515" stroke-width="1.3" stroke-linecap="round"/>
<path d="M982.8 60.6l.4-.9m6.8 6l2 2.3m-51.1-.2l-.5-.9m3 1.5l-1 .3m151.4-.1l.9 .4m-201.7 3.4l-1.1-1.7m145.3-.2h0m27.9 2.3l-1.8 2.4m-170.4-1.2h0m-43.3 5l2 .4m41.5 4.8l-.8-.5m-78.5 2.3h0m23.1 3.7l.6-.8m200.1-1h0m1.9-1.1l-.6-.8m-158.1 4.6h0m64.1 7.1l.9 1.8m55.5-4.2h0m1.4 .7h0m19.5 1.2l1.1-1.7m2.4 1.3h0m-196.4 4.8h0m150.9-1.5l-.9-.5m25.7 1.1l1.3 1.5m-1.3-1.8l.7 .7m12.7-1.5l.7-.7m4.3 1.8h0m-169.2 7.9h0m14.5 .6l-.4-.9m18.5-1.1l0 1m25.2-.4l1 .2m8.3 .7l-.9-.4m6.2-.9h0m53.9 .7l-1.9-.7m-117.6 4.9h0m7.1-1.9h0m88.2 2h0m36.7-1.5l2.2 2m-72.2 3.6l-.5-.9m18 1.2l-1-.3m-33.6 2l-.2 2m12.1-.9l-.4 .9m150.1-.6h0m-179 5.6h0m63.2-1.7l2.9-.8m25.6-.1l-.3 .9m39.5-1.6l-.9-2.8m13.5 3.7h0m-137.4 4.2h0m32.2 1.5l.7-.7m60.3-.3h0m4.1-.6l-.9 1.8m6.9-.4h0m-147 2.3l.2 1m16.6-.3h0m53.3 2.1l.9-.3m7.2-.8l1 1.7m-58.8 1.8l-2.5 1.6m45.1-1.1l-.3 .9m2.4-2h0m8.5 1.4h0m5.1-1.6l1.6-2.5m10.4 2.2l-1-.3m8.7 .7h0m-125 5.8l-2.6 1.5m30.1-2.8h0m103.7-.6h0m-75.8 4.2h0m36.4-.5h0m.9-.5l.1-1m45.6 .7l-1-.2m16 2.4h0m20.9 1.6l-.5-1.9m54.7-.9l1-.3m-180.3 5h0m14.2 1.2l.7-.7m59.6-.9h0m16.9 0h0m1.8 1.7l-1-.1m2.2 .2l-.3-1m42.7-1h0m-122.5 3.7l-1.6-1.2m6.1 2.7h0m-59.7 1.6l.7-2.9m-.6 5.8l-.2 1m162.6-2h0m-151.9 2.6l.3-.9m.2 1.9l-3 0m19.4-1.3h0m88.8 1.8l1.5 1.3m40.3-2.5l.8 .6m53.3 .8l.8-.6m5.7-1l2.5-1.7m-234.2 7.1h0m2.1 1.7l-.8-.6m116.2-1.9h0m63.2 .6h0m-117.7 4.7l2.4-1.7m49.1 2.3h0m5.5-2.8h0m53.1-.2h0m29.2 1l-.7-.7m-196.9 4.8l3 .3m11.8 5.9l.9 .4m8.6-1.1h0m66.6-1.6l-2.4-1.8m2.4 2.3h0m84.9 .1l2 .2m39.7 .5h0m23.6-1.6l-.3 2m-358.1 3.9l-3-.5m4.5 .7h0m131.7-1.1h0m14.7-1.7l-.1-2m9.2 4.8l1.8-2.4m23.1 .9l-.7-.7m15.6-.3l-1 .1m137.4 .9h0m14.4 .8l.2-1m-214.1 5.7l0-3m102.3 1.7h0m37.2-.7l-.3-.9m49.6 1.9h0m-108.5 4l1.9 .5m2.2-1.7l.3-.9m53.9 3.6l1 0m49.2-.6l-1.4-2.7m8.7 .3l-.9 .4m6.9-.9l-.9 1.8m-309.6 5l.3-2m61.4 2.6l.3-2m6.2-1.1h0m31.8 1.4l-.9-.4m26.1-1.2h0m46.2 .5h0m33.2 1.3h0m-205.2 2.5l-1.2 1.6m99.6 1.1l-2.8 1.2m19.8-3.2l.2-1m2 1.5h0m73.1 2.1l1 1.8m8.5-2.1l-.1-1m4.9 1l-.5 .8m9.8-2l1 .3m96.2-2.1l.2-3m-96.2 10.6l-2-.2m69.5-1.8l-2.1 2.2m-132 1.6h0m22.1 2.1l1.9 .7m30.2-3.4l.1-1m-.1 1.5l.7 .7m28.6-.8l.6 .8m38.1 .4h0m7-1.4l0 1m6.9 0l-.5 .9m-229.1 3.5l-.1-1m65.1-.2h0m7 1h0m133.9-1.9l-.6 .8m-160.2 3.4l1.2 1.6m6.4-1.4l.3 .9m42-1.5l2.9 .8m26.4 1.4l.1-1m9.7-.3l.1-1m-75.9 6.7l-.6 .8m32.6-1.7h0m33.8-1.7h0m14.8 0l.9-.5m26.7 .6h0m6 2.6h0m-98.5 3.8l-.4-.9m69.2 .9h0m-195.3 4.7l2.2-2m-.2-.1l-1.7 1.1m1.7-1.5h0m119.2 2.6l.6-.8m117.2-1l1.7 2.4m-94.7 1.2h0m75.8-.5l-2 .3m2.8 2.3l1-.3m.1 .4l-.1-2m48.7 1.2h0m6.6-.3h0m-186.4 3.8h0m128.8 1.4h0m-169.4 2.9l.7 .7m28.8-.6h0m40.9-2.2l1.8-.9m6.2 2.1l-2.9-.9m82.9 1.6l1 .1m49-1.5l.3 1m1.6-1.4h0m-144.8 3.8h0m9.2 3l-2.4-1.8m13.6-.9l-.1 1m35 .1l-.6-2.9m17 1.8l-2 0m3.9 1.1l.4 3m37.6-4.6h0m-223.4 4.7h0m87.5 .9l0 1m27-.9l.4-.9m0-.2l2 0m64.9 2.3h0m21.9-1l-.8 .6m36.4 .8l-1-.1m4.8-.2l-1.2 1.6m14-4.2h0m-257.1 5.8h0m.8-1.8l.8 .6m174.5 0h0m.8-.4l.7 .7m-.2-1l2 .1m-140.3 6.9h0m9.6-3.1l2 .4m128.5 2.5l-.1 3m7.1-4.6l1 0m67.3 1.6h0m79.5-1.5h0m.2-1.7h0m-294.5 4.3h0m28.2 .5l1.4-2.7m23.7 1.7l1-.2m-.3 2.5l1-.1m-.9-1.2l-1 .3m1.8 .7l-3 .4m3.2-1l-.9 .4m7.2 0h0m11-.2h0m4 .2l-1.2-2.8m1.5 1.5l.3-.9m9.3 .7h0m43.7 .3h0m35.4 3.2h0m4.9-3.6h0m.9 2l.5-.9m4.8 .2l.7-.7m48.2 1.5l-1-.1m107.1-2.2l-1.7 2.5m-300.6 3.7h0m4.9-.8l-1.5-1.4m34.3 1.4l-1.5-1.3m17.8 0h0m45.2 3.9l-.2-1m7.2 1.7l-.9-.3m33 .7l-.7 .7m59.5-.7l.9 .4m-238.9 3.4h0m.3 2.2h0m58.4-2.8l-.8-.6m2.7 2.1l-1.6 2.5m46.4 1.4l-2.8 1m16.6-.3h0m77.4 1.2l.2 2m11.7-3l.9-.4m-260.4 2.1h0m111.4 .7l-.1-1m55.8 .3h0m17.3 1.2h0m20.2 1.3l0 1m45.1-3.3l-.5 .9m-224.8 2.7l2.8 1.1m140.8-.4l1.2 1.6m21.8-1.5l-.1-1m-162.1 6.4h0m71.4-.1h0m.3-.5l.3 1m5-1.8h0m79.5 2.4l-1 .2m1.2-1.2l.4-.9m21.8 1h0m50.6 .8l1.2-1.6m-212.8 6.1l-1.9 .7m2.1-2.8l-1.7 1.1m1.8-.6l-.9 .4m16.1-.8l1-.3m10.7-1.3l.7-1.9m78.3 2.9l-.9-.4m4.3 1.3l-1 .3m34.7-.3l2.1 2.1m-1.3-2.5h0m66.8-.8h0m-252.8 5.4h0m70.7 1.4h0m98.5-2.4l.4 .9m20-.7l-.7-.7m19.6 1.6l2.9-.8m42.4 1.1l.9 .5m-194.8 4.5h0m21.5-1.2h0m86.6 1h0m30.7-1.3l-.9-.5m9.9-1.2l1 1.7m33.9-1.8h0m.2 .5l3-.5m15.8 1.9l.6 .8m-204.3 .9l-.3 .9m48.9 1l-1.3 2.7m45.4-1.7l1.1-1.7m18.5-.4h0m2.2 .1h0m.4 .2l-.6-.8m-107.8 7.2l.6 .8m29.7-1.9h0m26.6-.2l-2-2.2m2.4 3.6l.3 .9m21.3-1l-.2 1m68.7-3.8l-.9 .4m29.8 1.2l-.1-1m-202.5 4.8h0m97.2 1.4h0m87.6-1.4l-.1 1m3.5 .4l2.7-1.3m5.2-2l-1.9-.5m3 .3l-1.2 1.6m-156.2 3.1l-2.5-1.7m3.3 1.6l-2 .2m24.3 .5h0m51.4-1.2l-1 .1m72.7 .7h0m-58.6 6h0m-167.7 2.7l.7-.7m53.3 1.8l.1 3m-43.1-1.3l.7 .7m18.9 .9l-.7-1.9m22.2 .2l.1-1m77.6 3l-3 0m-116.3 4.8l.9-1.8m39 .6h0m40.6-1.9l-3-.2m111 3.7l-.7 2.9m-110.9-2.2h0m39.3 3h0m1.5-1.6l.7-.7m-.2 .3l-2 2.2m-9.9 4.5l-.6 .8m27.8-3.3h0m34.6-1l-.6-2.9m-62.9 6.8l.9-.4m19.7 2.5h0m189.2-2.1l-.3-1m-203.7 8.1l-1.7 2.5m-68.4-.2h0m219-.5h0m-196.6 5h0m39 1.1h0m-116.4 3.5h0m.2-.8l-.3 1m28.7 .2h0m1-2.7h0m5.8-.1h0m20.2 1.8h0m62.8 5.3h0m116.5-.9l2.1 2.1m-243.5 6l.7-.7m53.7 1.5l1.4-1.4m-42.1 4.5l2 .4m30-1.9h0m4.8 2.3h0m3.4-2.3h0m-27.4 6.2l2.4 1.8m-5.8-.4l-1 0m42.3 2.2l-2 .1m-51.5 5.5h0m41.8 3l.9 .4m18.1-3.7h0m283.8 2.9l1-.3m-.7 .6l.3 2m-173.4 1.7l-.1-1m.3-.1l.5 .9m-31.9 14h0m39 .4l-1.9-.5m55 9.8l-.9-.4m-230.2 6.8h0m1.2 .6l.1 2m1-1.8l.9 .3m169.5 17.1h0m.2-.4h0m36.8 12.8l-1 0" stroke="#151515" stroke-width="1.6" stroke-linecap="round"/>
<path d="M960 157l1.6-1.6m-.4 2.3h0m-145.2 111.3l1.6 .8m-2.3 .5h0m95.7 40.3h0m1 1.4l-1.7-.2m-29 14.9h0m.7 1.3l-1.7-.5m-124.3 57.5l1.6 1.5m-.5-.2h0" stroke="#000" stroke-width="3.0" stroke-linecap="round"/>
</g>
<clipPath id="cp2"><rect x="240" y="487" width="413" height="413"/></clipPath>
<g clip-path="url(#cp2)">
<mask id="mk2" maskUnits="userSpaceOnUse" x="237" y="484" width="419" height="419"><g filter="url(#bl)"><rect x="239.0" y="486.0" width="53.6" height="53.6" fill="#fff" fill-opacity="0.18"/><rect x="290.6" y="486.0" width="53.6" height="53.6" fill="#fff" fill-opacity="0.18"/><rect x="342.2" y="486.0" width="53.6" height="53.6" fill="#fff" fill-opacity="0.22"/><rect x="393.9" y="486.0" width="53.6" height="53.6" fill="#fff" fill-opacity="0.35"/><rect x="445.5" y="486.0" width="53.6" height="53.6" fill="#fff" fill-opacity="0.50"/><rect x="497.1" y="486.0" width="53.6" height="53.6" fill="#fff" fill-opacity="0.60"/><rect x="548.8" y="486.0" width="53.6" height="53.6" fill="#fff" fill-opacity="0.62"/><rect x="600.4" y="486.0" width="53.6" height="53.6" fill="#fff" fill-opacity="0.62"/><rect x="239.0" y="537.6" width="53.6" height="53.6" fill="#fff" fill-opacity="0.18"/><rect x="290.6" y="537.6" width="53.6" height="53.6" fill="#fff" fill-opacity="0.15"/><rect x="342.2" y="537.6" width="53.6" height="53.6" fill="#fff" fill-opacity="0.15"/><rect x="393.9" y="537.6" width="53.6" height="53.6" fill="#fff" fill-opacity="0.20"/><rect x="445.5" y="537.6" width="53.6" height="53.6" fill="#fff" fill-opacity="0.35"/><rect x="497.1" y="537.6" width="53.6" height="53.6" fill="#fff" fill-opacity="0.50"/><rect x="548.8" y="537.6" width="53.6" height="53.6" fill="#fff" fill-opacity="0.60"/><rect x="600.4" y="537.6" width="53.6" height="53.6" fill="#fff" fill-opacity="0.62"/><rect x="239.0" y="589.2" width="53.6" height="53.6" fill="#fff" fill-opacity="0.20"/><rect x="290.6" y="589.2" width="53.6" height="53.6" fill="#fff" fill-opacity="0.18"/><rect x="342.2" y="589.2" width="53.6" height="53.6" fill="#fff" fill-opacity="0.12"/><rect x="393.9" y="589.2" width="53.6" height="53.6" fill="#fff" fill-opacity="0.10"/><rect x="445.5" y="589.2" width="53.6" height="53.6" fill="#fff" fill-opacity="0.08"/><rect x="497.1" y="589.2" width="53.6" height="53.6" fill="#fff" fill-opacity="0.20"/><rect x="548.8" y="589.2" width="53.6" height="53.6" fill="#fff" fill-opacity="0.50"/><rect x="600.4" y="589.2" width="53.6" height="53.6" fill="#fff" fill-opacity="0.60"/><rect x="239.0" y="640.9" width="53.6" height="53.6" fill="#fff" fill-opacity="0.20"/><rect x="290.6" y="640.9" width="53.6" height="53.6" fill="#fff" fill-opacity="0.20"/><rect x="342.2" y="640.9" width="53.6" height="53.6" fill="#fff" fill-opacity="0.15"/><rect x="393.9" y="640.9" width="53.6" height="53.6" fill="#fff" fill-opacity="0.12"/><rect x="445.5" y="640.9" width="53.6" height="53.6" fill="#fff" fill-opacity="0.06"/><rect x="497.1" y="640.9" width="53.6" height="53.6" fill="#fff" fill-opacity="0.10"/><rect x="548.8" y="640.9" width="53.6" height="53.6" fill="#fff" fill-opacity="0.35"/><rect x="600.4" y="640.9" width="53.6" height="53.6" fill="#fff" fill-opacity="0.50"/><rect x="239.0" y="692.5" width="53.6" height="53.6" fill="#fff" fill-opacity="0.22"/><rect x="290.6" y="692.5" width="53.6" height="53.6" fill="#fff" fill-opacity="0.22"/><rect x="342.2" y="692.5" width="53.6" height="53.6" fill="#fff" fill-opacity="0.20"/><rect x="393.9" y="692.5" width="53.6" height="53.6" fill="#fff" fill-opacity="0.12"/><rect x="445.5" y="692.5" width="53.6" height="53.6" fill="#fff" fill-opacity="0.08"/><rect x="497.1" y="692.5" width="53.6" height="53.6" fill="#fff" fill-opacity="0.04"/><rect x="548.8" y="692.5" width="53.6" height="53.6" fill="#fff" fill-opacity="0.12"/><rect x="600.4" y="692.5" width="53.6" height="53.6" fill="#fff" fill-opacity="0.22"/><rect x="239.0" y="744.1" width="53.6" height="53.6" fill="#fff" fill-opacity="0.22"/><rect x="290.6" y="744.1" width="53.6" height="53.6" fill="#fff" fill-opacity="0.22"/><rect x="342.2" y="744.1" width="53.6" height="53.6" fill="#fff" fill-opacity="0.22"/><rect x="393.9" y="744.1" width="53.6" height="53.6" fill="#fff" fill-opacity="0.15"/><rect x="445.5" y="744.1" width="53.6" height="53.6" fill="#fff" fill-opacity="0.12"/><rect x="497.1" y="744.1" width="53.6" height="53.6" fill="#fff" fill-opacity="0.06"/><rect x="548.8" y="744.1" width="53.6" height="53.6" fill="#fff" fill-opacity="0.06"/><rect x="600.4" y="744.1" width="53.6" height="53.6" fill="#fff" fill-opacity="0.12"/><rect x="239.0" y="795.8" width="53.6" height="53.6" fill="#fff" fill-opacity="0.22"/><rect x="290.6" y="795.8" width="53.6" height="53.6" fill="#fff" fill-opacity="0.22"/><rect x="342.2" y="795.8" width="53.6" height="53.6" fill="#fff" fill-opacity="0.22"/><rect x="393.9" y="795.8" width="53.6" height="53.6" fill="#fff" fill-opacity="0.18"/><rect x="445.5" y="795.8" width="53.6" height="53.6" fill="#fff" fill-opacity="0.12"/><rect x="497.1" y="795.8" width="53.6" height="53.6" fill="#fff" fill-opacity="0.08"/><rect x="548.8" y="795.8" width="53.6" height="53.6" fill="#fff" fill-opacity="0.04"/><rect x="600.4" y="795.8" width="53.6" height="53.6" fill="#fff" fill-opacity="0.06"/><rect x="239.0" y="847.4" width="53.6" height="53.6" fill="#fff" fill-opacity="0.20"/><rect x="290.6" y="847.4" width="53.6" height="53.6" fill="#fff" fill-opacity="0.20"/><rect x="342.2" y="847.4" width="53.6" height="53.6" fill="#fff" fill-opacity="0.20"/><rect x="393.9" y="847.4" width="53.6" height="53.6" fill="#fff" fill-opacity="0.20"/><rect x="445.5" y="847.4" width="53.6" height="53.6" fill="#fff" fill-opacity="0.15"/><rect x="497.1" y="847.4" width="53.6" height="53.6" fill="#fff" fill-opacity="0.10"/><rect x="548.8" y="847.4" width="53.6" height="53.6" fill="#fff" fill-opacity="0.06"/><rect x="600.4" y="847.4" width="53.6" height="53.6" fill="#fff" fill-opacity="0.06"/></g></mask><rect x="240" y="487" width="413" height="413" fill="url(#sp)" mask="url(#mk2)"/>
<path d="M265.5 550.5h0m1 3h0m4-2h0m0-1h0m0 3h0m3-3h0m2 1h0m9 1h0m-19 4h0m1-2h0m14 1h0m-13 3h0m6 4h0m27 3h0m-16 1h0m1 0h0m3 2h0m3-1h0m3 1h0m4 0h0m11-1h0m4 1h0m4 1h0m-16 1h0m8 23h0m119 19h0m-143 4h0m20 1h0m96 0h0m1-3h0m1 3h0m1 0h0m28-2h0m5 0h0m-151 3h0m3 2h0m4-2h0m3 0h0m2 1h0m18-1h0m13 3h0m3-2h0m3 0h0m4 1h0m32 0h0m26-1h0m6 0h0m4 0h0m3 2h0m3-3h0m2 1h0m3 2h0m8 0h0m6-2h0m-142 6h0m2-1h0m1-1h0m1-1h0m1 0h0m13 2h0m22 0h0m2-1h0m5-1h0m0 2h0m5 1h0m29-2h0m0 1h0m4-2h0m1 2h0m7-2h0m11 3h0m7 0h0m4-3h0m5 0h0m0 3h0m6-3h0m1 1h0m2 0h0m3-1h0m11 1h0m9-1h0m-153 4h0m1 0h0m2 2h0m0 0h0m1-2h0m1 2h0m0-2h0m2 1h0m0-1h0m1 0h0m1 2h0m0-1h0m3 2h0m0 0h0m1-1h0m0-1h0m5 0h0m25-1h0m1 1h0m2 1h0m8-2h0m0 1h0m21 1h0m3-1h0m3 0h0m2 1h0m5-2h0m11 0h0m7 3h0m8-1h0m7 1h0m0-1h0m1-1h0m6 0h0m5-1h0m14 1h0m1-1h0m4 3h0m4 0h0m-157 3h0m5-2h0m1 2h0m3-1h0m0 1h0m8-1h0m5 0h0m11 2h0m5 0h0m9-2h0m2 1h0m3 0h0m2 1h0m1 0h0m3-2h0m11 2h0m0-1h0m2 1h0m9-1h0m0-1h0m3-1h0m4 2h0m1-1h0m2 1h0m6 1h0m0-2h0m8 1h0m4-1h0m3 2h0m3-3h0m3 1h0m1 2h0m2-2h0m10 2h0m8-1h0m2 0h0m5 0h0m2 1h0m10-1h0m-150 3h0m0 2h0m4-3h0m0 0h0m20 0h0m3 0h0m1 1h0m5 2h0m6-2h0m0 1h0m15-2h0m10 1h0m3 2h0m1 0h0m3-2h0m0 0h0m3 0h0m1 0h0m0 2h0m1-1h0m1 1h0m0-2h0m2-1h0m0 1h0m4 0h0m0 0h0m2 1h0m1-1h0m3 0h0m2 0h0m3 2h0m1 0h0m1-1h0m5-2h0m2 3h0m2 0h0m4-2h0m3 1h0m6-2h0m11 1h0m2 1h0m1 1h0m4-1h0m1 0h0m1-1h0m0 0h0m1 0h0m7 1h0m2-1h0m-113 4h0m4-1h0m10 3h0m3 0h0m2 0h0m12 0h0m1 0h0m1-1h0m1 1h0m5-1h0m1-1h0m1 2h0m0-2h0m0 2h0m1-1h0m3-2h0m0 1h0m1-1h0m1 0h0m4 1h0m0 1h0m1-1h0m1-1h0m1 2h0m1 0h0m7-2h0m0 0h0m4 2h0m0 0h0m6-1h0m2 2h0m0-3h0m7 1h0m13-1h0m4 0h0m1 0h0m6 0h0m0 1h0m-113 5h0m9-1h0m0 2h0m10-3h0m2 3h0m0-1h0m11-2h0m1 3h0m1-2h0m2 2h0m4 0h0m2 0h0m2-1h0m0-2h0m0 0h0m1 2h0m1 0h0m0-2h0m1 0h0m1 2h0m1-1h0m1-1h0m1 1h0m1-1h0m1 3h0m0 0h0m7 0h0m4-1h0m1 1h0m3-2h0m6 1h0m4 0h0m1 1h0m1-3h0m7 2h0m10 1h0m0 0h0m1 0h0m2-3h0m2 1h0m3-1h0m9 0h0m3 1h0m-130 6h0m15-1h0m1 1h0m0-3h0m2 2h0m10-2h0m1 3h0m1 0h0m4-3h0m3 1h0m0 1h0m4-2h0m8 1h0m0 2h0m4-2h0m1 2h0m2-3h0m0 2h0m1 0h0m1 0h0m4 0h0m5 0h0m2-1h0m14 0h0m1 0h0m0 1h0m8 1h0m1-3h0m1 2h0m0 1h0m1-3h0m1 3h0m0-2h0m6 2h0m3 0h0m9-1h0m2-1h0m3 0h0m13-1h0m-131 5h0m1 0h0m8 1h0m1 1h0m2-1h0m0-1h0m7 0h0m1 0h0m0-1h0m1 3h0m4-1h0m3 0h0m0-1h0m1-1h0m9 2h0m5 1h0m3-1h0m9-2h0m2 0h0m3 2h0m5 1h0m6-1h0m0-2h0m5 2h0m3 0h0m2 0h0m2 0h0m6-2h0m1 1h0m1 1h0m1 0h0m0-2h0m1 1h0m1 0h0m4 1h0m3-2h0m2 3h0m-96 1h0m0 1h0m1 0h0m6 1h0m1-2h0m6 0h0m2 3h0m1-1h0m0-2h0m1 1h0m2 2h0m6 0h0m0-1h0m1 1h0m0-3h0m0 1h0m1 2h0m2-3h0m1 3h0m1-3h0m12 0h0m1 2h0m1-1h0m6 0h0m3 1h0m5-2h0m3 1h0m11 2h0m6-3h0m0 3h0m4-3h0m3 3h0m1-3h0m7 0h0m1 2h0m16-1h0m3-1h0m7 1h0m-131 6h0m6-1h0m6-1h0m3 2h0m7-1h0m2-1h0m1 2h0m0-1h0m5 0h0m1 1h0m0-3h0m4 1h0m1 0h0m10-1h0m4 3h0m1 0h0m3-2h0m1 2h0m2-3h0m8 0h0m5 0h0m6 0h0m0 2h0m2-2h0m2 3h0m1-2h0m0 0h0m2-1h0m1 0h0m0 1h0m4 2h0m1 0h0m11-1h0m6-2h0m10 1h0m2 0h0m0 2h0m-99 3h0m0-1h0m3 0h0m4 1h0m1 0h0m8-1h0m18 1h0m3 1h0m3 0h0m1 0h0m2-2h0m13-1h0m3 1h0m3-1h0m1 3h0m0-2h0m1 1h0m3-1h0m1 0h0m12 1h0m7-2h0m4 0h0m1 0h0m-93 7h0m2-2h0m2 0h0m2-1h0m0 1h0m5 2h0m6-3h0m8 2h0m3-2h0m5 1h0m2-1h0m4 0h0m2 1h0m0-1h0m0 1h0m3-1h0m1 0h0m1 3h0m0-3h0m2 0h0m6 2h0m0-1h0m3-1h0m1 3h0m0 0h0m2 0h0m5-3h0m1 2h0m4 0h0m2-2h0m3 1h0m0 0h0m2-1h0m3 3h0m4 0h0m21-3h0m-114 4h0m6 2h0m1-2h0m2 2h0m4-1h0m5 1h0m4-2h0m6 3h0m3 0h0m1-2h0m2 2h0m5-1h0m0-2h0m5 3h0m9-1h0m0 0h0m5-1h0m3-1h0m0 3h0m3-2h0m2 2h0m2-3h0m1 0h0m4 1h0m2 1h0m1-2h0m8 0h0m3 1h0m8 0h0m0 1h0m7 1h0m4-2h0m0 1h0m1-1h0m2 1h0m2-2h0m0 0h0m1 2h0m2-2h0m1 3h0m0-1h0m1 1h0m4-1h0m-114 2h0m1 2h0m1-2h0m1 2h0m1-1h0m14 0h0m0 1h0m1-1h0m1 2h0m6 0h0m5-1h0m1-2h0m2 0h0m1 1h0m1 1h0m1-2h0m4 3h0m5 0h0m3 0h0m16-3h0m2 1h0m2 1h0m9 1h0m0-3h0m0 0h0m4 0h0m5 0h0m7 3h0m1-3h0m8 1h0m1 0h0m3 1h0m0-2h0m2 3h0m1-1h0m1 0h0m0 0h0m1 0h0m0 1h0m1 0h0m0-1h0m5 1h0m1-3h0m20 3h0m-139 1h0m13 3h0m0-1h0m4-2h0m1 3h0m3-3h0m1 0h0m1 1h0m1 0h0m0 0h0m1 2h0m1-1h0m0-2h0m1 0h0m0 2h0m7-1h0m18 2h0m1-3h0m1 3h0m5 0h0m8 0h0m3 0h0m0-3h0m1 0h0m6 1h0m3 1h0m4-2h0m19 0h0m0 2h0m5 0h0m3-1h0m2 0h0m1-1h0m2 3h0m0-2h0m0-1h0m2 3h0m0 0h0m3-3h0m1 2h0m0-2h0m4 0h0m4 2h0m-135 3h0m1 0h0m0-1h0m6 3h0m14-3h0m1 0h0m0 2h0m0 1h0m2 0h0m3-2h0m2 0h0m1 0h0m2 1h0m7-2h0m14 0h0m5 1h0m1 2h0m2-2h0m6-1h0m2 1h0m14 1h0m18-2h0m1 2h0m6-1h0m6 2h0m2 0h0m0-2h0m5 0h0m1 0h0m2 2h0m3-3h0m6 0h0m-136 7h0m10-2h0m22 2h0m3-1h0m7-1h0m2 2h0m1-2h0m11-1h0m4 1h0m6 2h0m5-2h0m3 2h0m6-3h0m2 2h0m1 0h0m2-2h0m13 2h0m6 1h0m1 0h0m9 0h0m1-1h0m3 0h0m1 1h0m8-1h0m2 0h0m7-1h0m-112 6h0m3-1h0m0 0h0m10 0h0m3-1h0m2 0h0m1 1h0m0-1h0m1-1h0m3 1h0m1 1h0m1-1h0m19 2h0m2-3h0m10 1h0m5 0h0m4 1h0m19-2h0m1 0h0m3 1h0m10-1h0m0 2h0m4 1h0m0-3h0m2 1h0m0 0h0m3 1h0m0 0h0m4-2h0m0 3h0m17-1h0m1-1h0m2-1h0m-136 6h0m1 0h0m5-1h0m3 2h0m2-2h0m7 0h0m3 2h0m0-2h0m2-1h0m4 0h0m1 0h0m0 1h0m2-1h0m1 3h0m5-1h0m12 1h0m1 0h0m2-1h0m5-1h0m4 0h0m2 0h0m2 0h0m8 0h0m1 1h0m4-1h0m1 2h0m8-3h0m0 3h0m14 0h0m1 0h0m0-3h0m1 0h0m0 2h0m2 1h0m2-3h0m1 2h0m2-1h0m2 1h0m1-1h0m8 0h0m10 2h0m0-1h0m3-1h0m2-1h0m1 2h0m1-1h0m7 2h0m-148 1h0m2 0h0m1 2h0m1-2h0m3 3h0m3 0h0m10-3h0m1 2h0m0 0h0m7 0h0m11 0h0m0 0h0m2 1h0m1-1h0m0-1h0m2-1h0m1 0h0m1 1h0m1 0h0m4 0h0m3 1h0m21 0h0m11-1h0m5 2h0m0-3h0m1 2h0m0 1h0m3-1h0m0-1h0m0 1h0m1-1h0m2 2h0m7-1h0m0 1h0m3-1h0m3-2h0m4 0h0m6 1h0m6 2h0m5-2h0m8-1h0m0 0h0m1 2h0m5 0h0m0 0h0m1 0h0m1-1h0m1-1h0m-138 4h0m7 2h0m1 1h0m4-2h0m13 2h0m3-2h0m4 1h0m2 0h0m6 1h0m5 0h0m14 0h0m17-2h0m0 1h0m1-1h0m2 1h0m1 0h0m3-2h0m1 3h0m7-1h0m14 1h0m4-2h0m2 2h0m4-2h0m3-1h0m2 0h0m12 3h0m2-3h0m6 0h0m2 1h0m7-1h0m-154 4h0m6 2h0m12 0h0m2 1h0m8-3h0m1 2h0m4 1h0m3-2h0m9 1h0m2-2h0m3 3h0m3 0h0m1-3h0m21 2h0m3 0h0m13-1h0m4 0h0m8 0h0m1-1h0m2 2h0m1-2h0m2 0h0m16 2h0m2 1h0m3-1h0m5 0h0m5 0h0m2 0h0m0-2h0m2 1h0m3-1h0m0 2h0m3-2h0m2 2h0m0-1h0m1 1h0m-155 4h0m0-2h0m2 3h0m2 0h0m0 0h0m0-2h0m2 0h0m2-1h0m1 1h0m7 0h0m2 1h0m1-2h0m2 0h0m1 2h0m0-1h0m2 2h0m1-1h0m0 1h0m4-2h0m1 0h0m1 1h0m0 0h0m1-1h0m5 0h0m1 0h0m5 0h0m5 1h0m3-2h0m3 2h0m21-1h0m3 2h0m1-1h0m0 1h0m20-3h0m6 1h0m2-1h0m1 0h0m2 0h0m2 2h0m18 1h0m3-1h0m2 0h0m3-1h0m2 1h0m0 1h0m1-1h0m1 0h0m0 0h0m1-1h0m20 2h0m-165 3h0m3-1h0m0 0h0m8-1h0m2 1h0m0 1h0m3 1h0m0-3h0m2 0h0m1 1h0m1 2h0m5-2h0m1-1h0m1 1h0m2 1h0m3-1h0m6-1h0m1 1h0m1 0h0m2 0h0m29 2h0m6-1h0m1 1h0m3-2h0m0 1h0m4 1h0m0-3h0m11 1h0m3 2h0m1-1h0m1-1h0m0 0h0m3 2h0m6 0h0m1 0h0m2-1h0m2-1h0m3-1h0m6 2h0m6 0h0m0 0h0m3-1h0m0 2h0m1-2h0m2 2h0m0 0h0m4-2h0m0-1h0m1 2h0m1 0h0m2-1h0m2-1h0m3 0h0m7 2h0m-157 2h0m1 1h0m3 0h0m2 2h0m3-3h0m2 0h0m7 1h0m5 1h0m1 1h0m1-3h0m9 2h0m39-2h0m3 2h0m5 1h0m4-3h0m0 0h0m1 3h0m0-3h0m9 2h0m0 0h0m5 0h0m3 1h0m0-1h0m0 1h0m0-2h0m1-1h0m0 3h0m2-1h0m1 1h0m1-2h0m0 1h0m2-1h0m2 2h0m0-2h0m2-1h0m6 2h0m7-1h0m2 1h0m3-2h0m1 1h0m3 1h0m1 1h0m4-3h0m0 0h0m0 3h0m1-2h0m10 2h0m4-2h0m5-1h0m-163 7h0m9-3h0m10 0h0m11 2h0m2 0h0m0-2h0m0 2h0m4 0h0m7 1h0m9-3h0m26 3h0m2-3h0m2 2h0m0-1h0m8-1h0m5 1h0m7 0h0m3-1h0m2 0h0m1 2h0m1 1h0m1 0h0m0-3h0m1 2h0m0 0h0m0-2h0m1 0h0m0 1h0m4 1h0m3-2h0m5 2h0m2-2h0m2 1h0m0 0h0m4 2h0m0-3h0m3 1h0m1 2h0m4 0h0m1-2h0m4-1h0m1 0h0m5 3h0m5 0h0m-153 1h0m10 1h0m9-1h0m1 0h0m4 3h0m3-2h0m5 2h0m1-2h0m8 2h0m22 0h0m2-3h0m0 2h0m2 0h0m1 1h0m2-1h0m4 0h0m11-1h0m6-1h0m6 1h0m3 2h0m3-3h0m4 0h0m5 1h0m5-1h0m5 3h0m7 0h0m2-2h0m0 1h0m4-2h0m0 1h0m2 2h0m5 0h0m15-3h0m1 1h0m2-1h0m-140 5h0m2 1h0m1 1h0m9 0h0m0-1h0m5-1h0m2 1h0m1-2h0m4 0h0m1 2h0m1-1h0m3 1h0m9 0h0m6-1h0m1-1h0m1 3h0m1-1h0m6 0h0m3-1h0m1 1h0m6-1h0m1 1h0m6-2h0m3 2h0m6 0h0m1 0h0m6-1h0m14 1h0m3-2h0m4 3h0m0-2h0m1-1h0m0 2h0m1 0h0m1 1h0m0-2h0m1 2h0m1 0h0m1-1h0m0-1h0m1-1h0m0 2h0m3-2h0m2 0h0m0 3h0m1 0h0m3-1h0m2-1h0m5 0h0m5 2h0m7-3h0m2 3h0m8-1h0m3 1h0m-155 4h0m2 0h0m6 0h0m32-1h0m8 0h0m5-1h0m3 1h0m1 0h0m3-2h0m0 0h0m2 0h0m2 3h0m14-3h0m5 2h0m13 0h0m2 1h0m4-3h0m1 2h0m2-2h0m1 2h0m2-1h0m1-1h0m5 0h0m1 0h0m2 2h0m1 0h0m2-2h0m0 0h0m2 2h0m1-2h0m10 2h0m0-2h0m3 0h0m2 2h0m1-1h0m2 0h0m8 1h0m0 1h0m2-1h0m1-1h0m1 1h0m-152 2h0m1 1h0m1 0h0m0-1h0m0 2h0m2 0h0m1 0h0m0 1h0m3-3h0m0 0h0m1 0h0m0 1h0m1-1h0m2 2h0m4 0h0m0 1h0m4-2h0m3-1h0m1 1h0m5-1h0m1 1h0m0 0h0m3 0h0m0 1h0m2 1h0m3-3h0m11 2h0m6 1h0m4-1h0m1 0h0m0 0h0m20-2h0m0 0h0m11 2h0m8 0h0m1-1h0m1 1h0m3 1h0m0-2h0m2 2h0m0-2h0m2 0h0m1-1h0m1 0h0m5 3h0m0 0h0m6-1h0m7-2h0m7 1h0m2 0h0m1-1h0m3 0h0m1 3h0m1-2h0m0-1h0m2 1h0m-151 3h0m9 3h0m1-3h0m3 3h0m12-2h0m2 2h0m2-3h0m7 1h0m3-1h0m5 2h0m4 1h0m3-1h0m1 1h0m1-1h0m1-1h0m0 0h0m6-1h0m5 2h0m1 1h0m2-3h0m0 3h0m2-1h0m1-2h0m1 0h0m1 3h0m5-2h0m7 1h0m2 0h0m14 0h0m14-1h0m2 0h0m8-1h0m5 0h0m2 3h0m8-2h0m11 2h0m9-2h0m1 2h0m2-3h0m3 1h0m12-1h0m-166 5h0m4-1h0m7 2h0m4 0h0m2-1h0m16 0h0m4-1h0m1 0h0m2 2h0m3 1h0m2-3h0m5 3h0m1-1h0m1 1h0m3-1h0m2 0h0m1-1h0m0-1h0m2 3h0m0 0h0m1-1h0m0 0h0m5-2h0m9 2h0m3 0h0m0 1h0m6-1h0m18-2h0m2 2h0m1 1h0m0-3h0m1 1h0m0 0h0m3 2h0m0 0h0m1 0h0m11-1h0m1-1h0m8 1h0m7 0h0m1 0h0m5 0h0m1 1h0m0-3h0m2 3h0m0-2h0m5-1h0m2 3h0m5 0h0m2-1h0m-146 2h0m12 2h0m2 0h0m9 0h0m2-2h0m2 2h0m6-2h0m1 3h0m4-3h0m2 3h0m1-2h0m0 2h0m0-3h0m1 1h0m2-1h0m2 2h0m2 1h0m0-2h0m2-1h0m3 1h0m4 1h0m0-1h0m12 1h0m19-2h0m11 2h0m7-2h0m16 1h0m4-1h0m5 0h0m7 1h0m4-1h0m9 2h0m7 0h0m5 0h0m-148 3h0m0-1h0m2 3h0m10-2h0m1 0h0m0-1h0m10 2h0m1 0h0m7 1h0m3-3h0m0 1h0m29-1h0m1 0h0m4 0h0m1 0h0m10 3h0m2-2h0m0-1h0m1 0h0m34 3h0m5-3h0m6 3h0m2 0h0m25-1h0m-158 3h0m7 0h0m4 1h0m16 0h0m1-1h0m5 0h0m19 1h0m10-1h0m8 1h0m27-1h0m24 0h0m0 1h0m1 0h0m2-1h0m20 0h0m1 0h0m6 0h0m1 2h0m3-2h0m-152 4h0m1 1h0m1-2h0m2 2h0m2-2h0m4 1h0m0-1h0m5 1h0m9-1h0m5 1h0m3 2h0m14 0h0m9 0h0m31 0h0m19-1h0m5-1h0m0 0h0m0 2h0m6-3h0m1 3h0m1 0h0m4-3h0m5 2h0m7-1h0m3 2h0m4-3h0m5 2h0m2 1h0m1-3h0m0 3h0m3-2h0m2 0h0m-151 3h0m2 1h0m2-1h0m2 0h0m3 1h0m1 2h0m1-1h0m3 0h0m0-2h0m4 1h0m2 1h0m1-2h0m2 2h0m8 0h0m6 0h0m5-1h0m5 2h0m0 0h0m4-3h0m46 3h0m7-3h0m4 2h0m1 0h0m3 0h0m1 0h0m0 0h0m1 1h0m3-2h0m0 0h0m18 1h0m1 0h0m2 1h0m0-3h0m6 3h0m3-2h0m3 1h0m5 1h0m1-2h0m4 2h0m4 0h0m2-1h0m-167 4h0m4-2h0m0 3h0m4-2h0m0 0h0m3-1h0m8 2h0m2-1h0m3-1h0m4 3h0m2-3h0m1 3h0m1-3h0m4 1h0m1-1h0m7 0h0m0 0h0m2 3h0m2-1h0m0-1h0m1 2h0m2-3h0m1 2h0m4 1h0m42-2h0m2 1h0m1 0h0m2 1h0m6-1h0m0-2h0m1 1h0m1 1h0m2-2h0m0 2h0m6-2h0m10 0h0m1 3h0m1-3h0m8 0h0m1 1h0m2-1h0m1 1h0m4 1h0m3 1h0m1 0h0m1-3h0m3 2h0m1 0h0m2-2h0m1 1h0m4 0h0m0 0h0m2 0h0m0 1h0m-170 2h0m2 0h0m6 3h0m5-3h0m1 1h0m6-1h0m0 2h0m12 1h0m8-1h0m2-1h0m7 1h0m1-1h0m3 2h0m9 0h0m48-2h0m5 0h0m1 1h0m5-2h0m14 0h0m2 3h0m0-1h0m1 1h0m3-2h0m2 0h0m14 0h0m1 1h0m1 1h0m2-1h0m4-2h0m3 2h0m1 0h0m0 1h0m1-1h0m13-1h0m-186 3h0m6 1h0m3 0h0m3 0h0m2 0h0m2 2h0m4 0h0m3-2h0m3 2h0m1-2h0m0 2h0m2-2h0m4-1h0m0 2h0m2-2h0m1 3h0m1-2h0m10-1h0m1 1h0m7 0h0m0 1h0m1 0h0m51 1h0m12-2h0m2 1h0m2-1h0m1-1h0m1 0h0m1 3h0m4 0h0m0 0h0m3-1h0m2-2h0m4 3h0m3-3h0m1 1h0m1 1h0m11 1h0m3-1h0m11-1h0m1 0h0m6 2h0m-179 1h0m4 0h0m3 1h0m4 0h0m18-1h0m0 0h0m9 1h0m6 0h0m2-1h0m0 2h0m2-1h0m2 0h0m1-1h0m1 3h0m7 0h0m1 0h0m0-2h0m4 0h0m7 1h0m3-1h0m42-1h0m3 2h0m5-2h0m0 2h0m2-1h0m0-1h0m1 1h0m9-1h0m14 0h0m3 3h0m1-3h0m7 3h0m2 0h0m0-1h0m13 1h0m2-2h0m6 2h0m1-2h0m4 2h0m-189 2h0m5 2h0m1-1h0m5 1h0m2 0h0m0-2h0m2 2h0m2 0h0m0-3h0m1 1h0m14 2h0m3-3h0m4 0h0m0 3h0m2 0h0m7-2h0m2 0h0m1-1h0m0 0h0m7 2h0m4 0h0m4-1h0m2 2h0m1-2h0m1 0h0m0 1h0m2 1h0m12-1h0m1-1h0m4 1h0m1-1h0m23-1h0m2 0h0m1 3h0m0-2h0m2 1h0m4 1h0m1 0h0m10-2h0m12 1h0m8-2h0m4 3h0m0-3h0m3 2h0m1 1h0m1-1h0m1 1h0m3-3h0m1 2h0m18 0h0m6-2h0m-195 5h0m4 0h0m1 0h0m2 0h0m4 1h0m9 0h0m6-2h0m0 2h0m1-2h0m6 1h0m0-1h0m2 3h0m5 0h0m4-3h0m2 0h0m2 2h0m2-1h0m1 2h0m5 0h0m0-3h0m0 0h0m0 0h0m3 0h0m8 2h0m6 0h0m1 0h0m14-2h0m5 0h0m48 0h0m1 1h0m0 2h0m7-3h0m3 0h0m2 0h0m3 2h0m2 0h0m10 0h0m2 1h0m1-1h0m3 1h0m1-1h0m7-1h0m5 1h0m3 1h0m0-1h0m6 1h0m-190 1h0m5 3h0m2-2h0m2 1h0m0-1h0m13 2h0m3-2h0m0-1h0m1 2h0m2 0h0m1-1h0m1-1h0m11 0h0m2 1h0m2-1h0m0 3h0m3-2h0m6 2h0m1 0h0m4 0h0m5 0h0m5 0h0m2 0h0m1 0h0m1-1h0m0 1h0m1-1h0m7 0h0m29-2h0m4 3h0m0-1h0m18 0h0m2 1h0m4-2h0m3-1h0m4 2h0m0-1h0m8-1h0m1 2h0m2-2h0m10 0h0m3 3h0m1 0h0m1-3h0m4 3h0m2-3h0m1 0h0m4 0h0m1 3h0m5-1h0m-180 4h0m1 0h0m0 0h0m2 1h0m1-3h0m0 0h0m2 0h0m1 0h0m1 1h0m3 0h0m1-1h0m5 2h0m0-1h0m0-1h0m3 1h0m0 1h0m4-2h0m0 2h0m0 1h0m5-3h0m0 0h0m2 1h0m3 2h0m0-3h0m1 3h0m3-3h0m1 2h0m2-2h0m2 1h0m1 1h0m7 1h0m7 0h0m3 0h0m0-1h0m10-2h0m1 3h0m5 0h0m2-1h0m2 0h0m1-1h0m0 0h0m8 1h0m9-2h0m3 3h0m1-2h0m2 0h0m1 0h0m5 1h0m9-1h0m8 2h0m2 0h0m4-2h0m1-1h0m12 0h0m12 1h0m1-1h0m13 3h0m2-2h0m2 1h0m3 0h0m-184 2h0m1 1h0m4-1h0m0 0h0m4 0h0m6 3h0m7-2h0m6 2h0m0 0h0m0-1h0m1 1h0m1 0h0m1-3h0m7 1h0m1-1h0m2 1h0m0 1h0m0 0h0m1 0h0m0-2h0m2 3h0m2-1h0m1 0h0m3 0h0m7-1h0m7-1h0m3 3h0m2-3h0m1 2h0m2 0h0m0 1h0m1 0h0m0 0h0m0-1h0m4-2h0m0 2h0m1-2h0m0 1h0m1 1h0m4-2h0m0 1h0m0 1h0m3 1h0m0-3h0m4 2h0m5-2h0m14 1h0m1 2h0m4-1h0m3 0h0m3 0h0m7-1h0m0 2h0m2-2h0m1 2h0m7-2h0m3 0h0m4 2h0m4 0h0m6-3h0m2 1h0m1-1h0m5 1h0m0 1h0m1 1h0m1 0h0m9-2h0m5-1h0m-183 7h0m4-1h0m16 1h0m2-2h0m4 2h0m2-1h0m4 0h0m1-2h0m11 1h0m0 2h0m3-2h0m5 1h0m7-2h0m5 0h0m2 3h0m1-1h0m2-1h0m2 0h0m0 1h0m1-1h0m0 1h0m1-1h0m3 0h0m1 1h0m2-1h0m1 1h0m2 0h0m2-2h0m1 3h0m0 0h0m1-3h0m0 0h0m2 2h0m5 1h0m2-1h0m2-1h0m13 1h0m1 1h0m6-2h0m0-1h0m8 2h0m6-1h0m1 1h0m1 1h0m4-1h0m4 1h0m1-3h0m0 0h0m3 1h0m3 2h0m1-2h0m1 0h0m2 1h0m3-2h0m4 2h0m3 0h0m4-2h0m1 0h0m6 1h0m-172 3h0m5 3h0m3-2h0m2 2h0m4-1h0m4-2h0m10 2h0m9-1h0m4-1h0m0 3h0m1-2h0m4 0h0m13 1h0m4 0h0m0-1h0m4 1h0m0-2h0m1 0h0m2 1h0m5-1h0m0 0h0m6 3h0m1-1h0m3 1h0m3-2h0m3 2h0m15-1h0m4-1h0m4 0h0m0-1h0m1 2h0m9 1h0m2-3h0m4 0h0m3 2h0m1 0h0m6-1h0m4-1h0m17 1h0m5 1h0m1 1h0m0-1h0m1 0h0m8 1h0m1 0h0m0 0h0m1-1h0m4 1h0m-176 1h0m3 3h0m2-3h0m2 0h0m1 1h0m3 1h0m2 0h0m0 1h0m7 0h0m2-3h0m2 3h0m14-2h0m1-1h0m25 0h0m7 0h0m1 2h0m1 1h0m2-3h0m2 2h0m1 0h0m1-2h0m0 3h0m0-2h0m0 2h0m1-2h0m1-1h0m0 3h0m3-2h0m19-1h0m5 0h0m5 2h0m3-1h0m15 2h0m0-2h0m2 2h0m7-1h0m4-2h0m1 0h0m1 3h0m0-2h0m1-1h0m1 1h0m1 1h0m6 1h0m7-1h0m4-1h0m1 1h0m2 0h0m-171 5h0m2-1h0m7-2h0m1 3h0m0-1h0m2-1h0m2-1h0m7 3h0m1-3h0m3 2h0m5 0h0m1 0h0m9-1h0m9 0h0m13 0h0m2 1h0m3-1h0m6-1h0m1 3h0m3-2h0m3 1h0m0 1h0m1-2h0m1-1h0m1 0h0m4 0h0m1 3h0m4-1h0m3 0h0m7-1h0m2 2h0m3-2h0m1 0h0m5 2h0m10 0h0m2-2h0m0 2h0m3-2h0m1 2h0m1-1h0m4 0h0m6-1h0m1-1h0m0 2h0m1 1h0m2-2h0m2 1h0m1-2h0m2 1h0m1 1h0m2-1h0m0-1h0m4 3h0m3-1h0m3-2h0m7 1h0m0 1h0m3-2h0m7 3h0m-174 1h0m14 2h0m0-2h0m2 1h0m4 0h0m4 0h0m1 1h0m5 0h0m1 0h0m1-1h0m1 0h0m4 0h0m7 2h0m1-1h0m2-2h0m8 3h0m10 0h0m5-3h0m2 0h0m1 3h0m2-1h0m2-2h0m9 0h0m11 1h0m1 2h0m3-3h0m1 0h0m2 3h0m1 0h0m6-2h0m10-1h0m1 3h0m14-2h0m2-1h0m3 3h0m2-2h0m2 1h0m2 0h0m1 1h0m7-3h0m0 0h0m7 1h0m7-1h0m1 0h0m-157 5h0m6 0h0m2 0h0m1-1h0m2 2h0m4-1h0m6 1h0m1 0h0m1-2h0m1 2h0m11 0h0m4-1h0m3 0h0m5 0h0m4-1h0m1 0h0m1 2h0m19-1h0m13 2h0m2-3h0m1 3h0m1-3h0m0 0h0m5 0h0m2 2h0m0 1h0m0-2h0m4 2h0m8 0h0m3-1h0m2-2h0m1 2h0m0 0h0m0-1h0m1 1h0m0-1h0m3-1h0m2 2h0m1-1h0m5 0h0m3-1h0m1 3h0m8-3h0m4 3h0m17 0h0m-161 1h0m9 3h0m1 0h0m2-1h0m2-2h0m2 0h0m4 0h0m1 2h0m3-2h0m6 3h0m24-2h0m2 1h0m4-2h0m0 0h0m0 1h0m4 0h0m0-1h0m2 1h0m9-1h0m3 0h0m7 1h0m2 1h0m0 0h0m2-2h0m3 0h0m1 1h0m9 0h0m8 1h0m1-2h0m1 0h0m0 0h0m2 1h0m4 2h0m0 0h0m3-3h0m7 1h0m13 2h0m3-2h0m1 1h0m3-1h0m5 2h0m0-2h0m4-1h0m-140 4h0m3 0h0m7 3h0m6 0h0m4-3h0m1 2h0m2-2h0m10 1h0m6-1h0m23 0h0m2 3h0m9 0h0m2-1h0m3-1h0m2-1h0m2 3h0m5-1h0m0 0h0m0-1h0m0 0h0m2 1h0m5-2h0m7 1h0m0 1h0m2 0h0m1-1h0m1 0h0m5-1h0m12 1h0m1-1h0m0 3h0m7-1h0m-137 2h0m5 2h0m1 0h0m9-1h0m1-1h0m8 0h0m3 2h0m2-1h0m0 1h0m2 1h0m1 0h0m6 0h0m30-1h0m2 0h0m7 1h0m1-2h0m2 2h0m2 0h0m3-3h0m2 2h0m3-1h0m4-1h0m2 2h0m1-1h0m3 1h0m1 0h0m6 0h0m1 1h0m1-2h0m1 1h0m0-1h0m1 0h0m0-1h0m0 2h0m1-1h0m0 0h0m0 0h0m1-1h0m2 3h0m2-1h0m2-2h0m5 3h0m1-2h0m3-1h0m9 2h0m4 1h0m6-3h0m-152 5h0m8-1h0m5 2h0m3-1h0m0 0h0m3 0h0m11 1h0m1 1h0m0-1h0m3-2h0m0 3h0m0-2h0m1 0h0m0 1h0m4-2h0m1 3h0m2-1h0m0-1h0m1 0h0m1 0h0m13-1h0m2 3h0m10-3h0m2 3h0m6-2h0m13 2h0m1-2h0m1 1h0m7 1h0m3-2h0m1 2h0m1-1h0m0 0h0m0 1h0m0-1h0m3 1h0m0-1h0m1-1h0m3 0h0m1 0h0m7 2h0m6 0h0m1-3h0m7 0h0m1 1h0m10 1h0m14 0h0m-164 5h0m7-3h0m5 0h0m4 0h0m1 3h0m4-2h0m1 2h0m2-2h0m2-1h0m8 3h0m2-2h0m1-1h0m1 0h0m2 2h0m0-2h0m1 2h0m0 0h0m0 0h0m0-2h0m3 1h0m1 0h0m1 0h0m2-1h0m7 1h0m1 1h0m6 0h0m2 0h0m1-2h0m7 2h0m6-1h0m2 1h0m13 1h0m5-2h0m0 0h0m2 0h0m0 2h0m0-2h0m2 1h0m0-1h0m1 2h0m5 0h0m2-1h0m4 0h0m23-2h0m3 0h0m9 0h0m1 1h0m5-1h0m0 0h0m6 3h0m9 0h0m-170 1h0m7 1h0m1 0h0m9 1h0m0-2h0m1 1h0m11-1h0m2 2h0m3-1h0m6 2h0m1-3h0m2 1h0m1 2h0m1-2h0m1 2h0m0-3h0m3 0h0m1 1h0m1-1h0m7 3h0m1-1h0m1-2h0m4 3h0m4-1h0m4-1h0m2 2h0m9-1h0m1-1h0m2 0h0m3-1h0m1 2h0m1-2h0m1 3h0m3-2h0m2 0h0m3-1h0m1 0h0m1 1h0m0-1h0m0 2h0m2 0h0m0 0h0m1 1h0m2-2h0m2 0h0m1 0h0m0 1h0m2 1h0m2-3h0m5 1h0m2-1h0m12 2h0m7-1h0m14-1h0m0 2h0m7-2h0m6 0h0m4 3h0m-166 1h0m4 0h0m1 2h0m4 1h0m3 0h0m3-3h0m1 3h0m2-3h0m5 0h0m1 2h0m2-2h0m1 3h0m4-3h0m3 1h0m3-1h0m2 1h0m2 1h0m3 0h0m1 1h0m4-3h0m0 0h0m0 0h0m0 1h0m1-1h0m1 3h0m2 0h0m0 0h0m6-2h0m1 1h0m1-1h0m2 2h0m2 0h0m2-1h0m1 1h0m3 0h0m2-3h0m3 2h0m0-1h0m2 2h0m2-1h0m0-1h0m0-1h0m1 1h0m1 1h0m1 0h0m1-2h0m6 3h0m3-3h0m0 0h0m0 1h0m5 1h0m5 0h0m2-2h0m7 2h0m3 1h0m1-2h0m0 2h0m2-2h0m0 2h0m0-1h0m5-2h0m14 0h0m4 1h0m3 1h0m2 1h0m2-3h0m1 3h0m2-1h0m3 0h0m0 1h0m0-2h0m5 2h0m-151 4h0m2-1h0m12 1h0m3-3h0m2 3h0m0 0h0m21-2h0m6 0h0m4 0h0m4-1h0m0 0h0m1 2h0m0-1h0m3 1h0m7 1h0m0-3h0m4 0h0m2 2h0m2 1h0m1 0h0m2-1h0m3 1h0m1-3h0m1 0h0m3 2h0m4 1h0m2-2h0m0 0h0m4 0h0m3 1h0m0-2h0m3 1h0m2-1h0m0 2h0m6-1h0m0 2h0m6-3h0m15 3h0m6-1h0m2-2h0m3 1h0m12 1h0m0 1h0m-153 1h0m1 2h0m17-2h0m14 2h0m1-2h0m4 2h0m2-2h0m14 1h0m5 1h0m1 0h0m2-1h0m1 0h0m0-1h0m4 3h0m2-1h0m2-2h0m4 3h0m1-3h0m4 3h0m9-3h0m2 3h0m4-1h0m1-1h0m1-1h0m1 2h0m8-2h0m4 3h0m0-2h0m0 0h0m1-1h0m0 0h0m0 0h0m2 0h0m1 3h0m14-1h0m0-2h0m0 1h0m1 1h0m4-2h0m1 0h0m0 2h0m2 1h0m3 0h0m0-1h0m2 0h0m1 0h0m0-1h0m2 2h0m2-1h0m2-2h0m3 0h0m1 3h0m6-1h0m3 1h0m7-2h0m-164 6h0m1 0h0m1 0h0m1 0h0m4-2h0m6-1h0m2 0h0m2 2h0m1 1h0m9-2h0m8 2h0m5-3h0m0 3h0m7-2h0m3 2h0m0-3h0m7 1h0m1 0h0m1 0h0m1-1h0m1 3h0m0-1h0m1-1h0m0 2h0m15 0h0m2-1h0m2-2h0m0 1h0m1 0h0m1 0h0m9 1h0m7-1h0m4 0h0m3 1h0m2-2h0m2 1h0m4 2h0m4 0h0m4-1h0m1 1h0m4-2h0m0 1h0m2 1h0m4 0h0m1 0h0m0-1h0m1-1h0m7 2h0m3 0h0m2-1h0m0-2h0m4 3h0m11 0h0m3 0h0m1-3h0m1 1h0m-166 3h0m2 3h0m5 0h0m5-1h0m9 1h0m2 0h0m1-3h0m6 0h0m4 0h0m3 3h0m11 0h0m3-1h0m4 1h0m2-1h0m1-1h0m3-1h0m2 2h0m2-1h0m2 1h0m7-2h0m4 2h0m10 0h0m6 0h0m1 0h0m0 1h0m2-1h0m9-2h0m10 2h0m9 1h0m6-3h0m0 3h0m2-2h0m2 0h0m3 0h0m4 2h0m2-3h0m0 3h0m3-2h0m14 1h0m4 1h0m1-3h0m-165 7h0m5-1h0m0-1h0m21-1h0m2 0h0m3 1h0m1 1h0m4 0h0m10-1h0m7 0h0m1 2h0m1 0h0m3-1h0m10-1h0m2 1h0m6-1h0m1 2h0m1-1h0m1-1h0m0 0h0m1 1h0m3 0h0m8 1h0m5-3h0m0 3h0m19-1h0m4-2h0m6 3h0m1 0h0m4-2h0m5 1h0m0-1h0m7-1h0m1 3h0m0-1h0m4-1h0m0-1h0m0 1h0m1 2h0m0-2h0m4 1h0m1-1h0m7-1h0m0 1h0m2-1h0m2 1h0m1 0h0m1-1h0m1 0h0m-164 4h0m2 3h0m3 0h0m6-1h0m1-1h0m0 2h0m0 0h0m1-1h0m5 0h0m6-1h0m3 2h0m4-2h0m7 1h0m6 1h0m1-1h0m1-1h0m18-1h0m12 0h0m1 0h0m2 2h0m2 1h0m0-1h0m9 0h0m6-1h0m4 0h0m10 1h0m3-2h0m1 3h0m0-1h0m1 0h0m4-2h0m0 3h0m0-2h0m2 2h0m4 0h0m5-3h0m1 2h0m0 0h0m1 1h0m2-2h0m2 2h0m0 0h0m2 0h0m4-1h0m0 0h0m2-1h0m3 0h0m10-1h0m2 0h0m6 1h0m-169 3h0m2 1h0m5-1h0m3 1h0m6 2h0m2-2h0m4-1h0m3 3h0m6-3h0m4 0h0m0 3h0m4-2h0m5-1h0m4 3h0m3 0h0m9-3h0m12 0h0m2 1h0m5 0h0m6 2h0m3-2h0m1 0h0m1-1h0m5 1h0m0 2h0m5 0h0m14 0h0m3 0h0m8-2h0m5-1h0m3 0h0m1 0h0m5 2h0m0 0h0m3 0h0m5-1h0m0-1h0m0 2h0m2-2h0m1 0h0m5 3h0m4-1h0m1-1h0m5-1h0m-165 5h0m2 0h0m8 2h0m7-1h0m1 0h0m2-2h0m2 0h0m1 1h0m0-1h0m3 2h0m2-2h0m4 0h0m1 3h0m8-3h0m2 2h0m2 1h0m2-3h0m5 1h0m6 2h0m9-2h0m1 2h0m0-2h0m11 1h0m21 1h0m10-1h0m10 1h0m0-2h0m1 2h0m1-3h0m6 2h0m2-1h0m0-1h0m1 0h0m1 1h0m1 1h0m1 0h0m0 0h0m5 1h0m0-3h0m1 0h0m2 1h0m4 0h0m6 2h0m2-3h0m4 2h0m0 0h0m0-2h0m6 3h0m1 0h0m-165 1h0m11 2h0m4-1h0m3 0h0m5-1h0m1 0h0m5 3h0m2-2h0m0 1h0m3 0h0m1 1h0m1 0h0m4-3h0m1 3h0m8-2h0m10 0h0m3-1h0m1 2h0m0-2h0m4 1h0m3 2h0m3-2h0m6 0h0m1 2h0m4 0h0m2-1h0m8 1h0m3-2h0m12 1h0m5 0h0m1-1h0m7-1h0m1 2h0m7-2h0m4 3h0m1-3h0m4 2h0m4-2h0m5 2h0m5-2h0m5 0h0m3 2h0m6-1h0m1 1h0m-161 2h0m1 1h0m10 0h0m13-1h0m4 0h0m4 2h0m1-1h0m6 2h0m0-2h0m1 2h0m0-3h0m18 1h0m1 1h0m0 1h0m2-1h0m0-2h0m1 2h0m6 1h0m9-1h0m1-1h0m6 2h0m4-3h0m0 2h0m1 0h0m1 1h0m1-3h0m2 3h0m2-3h0m9 0h0m3 2h0m3-2h0m6 2h0m6-1h0m13-1h0m6 0h0m2 3h0m3 0h0m1-2h0m0 0h0m2 1h0m1-2h0m4 0h0m10 2h0m-167 2h0m5 1h0m54-1h0m25 0h0m7 0h0m2 0h0m1 0h0m43 0h0m11 1h0m10-1h0" stroke="#bbb" stroke-width="1" stroke-linecap="square"/>
<path d="M273.5 546.5h0m0 2h0m1-2h0m3 0h0m3 2h0m-9 4h0m0 0h0m0-1h0m2-1h0m0 3h0m2-1h0m1-2h0m3 0h0m0 0h0m-13 4h0m0 2h0m1-1h0m0 1h0m1-2h0m1 1h0m0 2h0m3 0h0m2-3h0m2 0h0m0 0h0m6 1h0m-12 3h0m9 2h0m2 4h0m8 1h0m1 0h0m2 0h0m8-1h0m5-2h0m1 0h0m2 0h0m3 2h0m1 1h0m1 0h0m-29 1h0m3 2h0m2 0h0m1 0h0m9-1h0m4 0h0m1 0h0m7 1h0m1-1h0m4-1h0m-25 4h0m0 1h0m5-1h0m1 0h0m3 0h0m7 4h0m2 18h0m3 3h0m26 18h0m55 0h0m1 0h0m17 0h0m32 0h0m-150 3h0m18 0h0m84-1h0m3 2h0m21 0h0m3 0h0m5-1h0m5-1h0m4 1h0m4-1h0m-146 5h0m3 1h0m7-2h0m3 0h0m1 2h0m2 0h0m24-2h0m3 2h0m2 0h0m0 0h0m2-2h0m5 0h0m21 1h0m25 1h0m7 0h0m1-2h0m13-1h0m16 3h0m9-1h0m-155 3h0m3 0h0m6 1h0m1 1h0m1-3h0m0 1h0m2 0h0m0 2h0m1-2h0m1 0h0m9 1h0m2-2h0m3 0h0m1 3h0m26-3h0m2 1h0m1 1h0m9 1h0m5-1h0m22-2h0m5 2h0m7-1h0m8 1h0m2 1h0m6-3h0m3 2h0m0 0h0m3 1h0m2-3h0m0 3h0m3-1h0m7 1h0m0-2h0m2 0h0m5 1h0m-145 2h0m4 2h0m2 1h0m1-2h0m0 0h0m2 2h0m1-1h0m0 0h0m1 0h0m0 0h0m3 1h0m35-2h0m2-1h0m1 2h0m3 0h0m3-2h0m5 0h0m3 3h0m10 0h0m2-2h0m3 2h0m3 0h0m3-3h0m1 1h0m1-1h0m1 3h0m0-1h0m0-1h0m1 0h0m2 0h0m1 2h0m1 0h0m10-3h0m4 1h0m2 1h0m4-2h0m0 1h0m3-1h0m4 3h0m0-3h0m2 2h0m0 0h0m3-2h0m2 0h0m1 1h0m2 2h0m1-1h0m0 1h0m3-2h0m4 2h0m13 0h0m1-3h0m0 1h0m3 2h0m2-1h0m3 0h0m-156 3h0m0-1h0m1 1h0m3 0h0m1-1h0m2 1h0m1 0h0m5-1h0m3 2h0m18 0h0m7 1h0m6-3h0m0 0h0m16 2h0m4-2h0m0 1h0m3 0h0m6 1h0m0 1h0m1 0h0m0-1h0m0 0h0m0 0h0m2 0h0m3 1h0m2-2h0m6 1h0m1 1h0m1 0h0m1 0h0m9-3h0m4 2h0m0-1h0m2 2h0m1-2h0m0 2h0m0-1h0m3-2h0m1 0h0m3 0h0m2 3h0m3-3h0m11 0h0m0 0h0m5 1h0m1 1h0m14 1h0m2-1h0m-143 5h0m21 0h0m1-2h0m3 2h0m0 0h0m9-1h0m4 0h0m1 0h0m4 1h0m16-2h0m0-1h0m2 0h0m1 2h0m3 0h0m0-1h0m1 2h0m1-2h0m1-1h0m1 1h0m3-1h0m1 2h0m1-2h0m3 2h0m12-2h0m4 2h0m0 0h0m2-2h0m2 1h0m1-1h0m8 3h0m7-3h0m1 3h0m3-2h0m2 0h0m3-1h0m2 0h0m1 1h0m2-1h0m5 3h0m7 0h0m2-3h0m2 0h0m-110 4h0m10 0h0m1 0h0m1 3h0m12 0h0m4 0h0m1-1h0m0 0h0m0-2h0m0 3h0m2-3h0m1 2h0m1-2h0m1 1h0m3 1h0m4-1h0m0-1h0m1 0h0m0 2h0m7 1h0m5-1h0m2 0h0m5 1h0m4-2h0m1 1h0m1-1h0m1 2h0m0 0h0m2 0h0m12-2h0m7 0h0m4 0h0m1-1h0m2 0h0m0 1h0m0-1h0m4 0h0m2 0h0m7 1h0m4-1h0m-135 5h0m12 0h0m0 0h0m3 2h0m1 0h0m2-1h0m4 1h0m3-1h0m11-2h0m0 2h0m1-1h0m1-1h0m12 0h0m0 2h0m1 1h0m1-2h0m1 1h0m0 0h0m2-2h0m1 2h0m1-2h0m3 3h0m4-3h0m0 2h0m7-1h0m0 2h0m11-3h0m1 3h0m5-3h0m0 0h0m7 2h0m6-1h0m9-1h0m1 2h0m2 0h0m15 0h0m3-1h0m-135 6h0m0-3h0m8 2h0m6-1h0m2-1h0m0 2h0m2 0h0m4 1h0m1-2h0m3 0h0m2 0h0m0 0h0m5 2h0m2 0h0m6-1h0m1-2h0m1 1h0m3 2h0m3 0h0m1 0h0m0-2h0m4 1h0m1 1h0m1-3h0m4 1h0m1 1h0m0 1h0m4 0h0m4-1h0m2-1h0m4-1h0m8 3h0m1-3h0m4 3h0m4-2h0m4 2h0m0-1h0m6 1h0m8-3h0m11 0h0m7 2h0m4-2h0m-129 5h0m2 0h0m18 2h0m2-3h0m3 2h0m1 0h0m3 0h0m7-2h0m8 0h0m4 0h0m0 3h0m1-1h0m1-1h0m5 2h0m8 0h0m2-2h0m4-1h0m0 0h0m3 3h0m0-3h0m5 2h0m1 1h0m0-3h0m11 3h0m1-3h0m1 0h0m0 2h0m0-1h0m1 2h0m2-1h0m1-1h0m2 2h0m0-3h0m5 2h0m15 0h0m2-2h0m2 1h0m5-1h0m-126 4h0m3 3h0m5-1h0m1 1h0m10-1h0m0-1h0m2 0h0m1-1h0m0 2h0m2 0h0m1 0h0m0 0h0m1 1h0m2-3h0m0 0h0m1 0h0m1 1h0m6 2h0m1-2h0m10 1h0m1-1h0m1 0h0m3-1h0m7 1h0m1 2h0m0-1h0m0 0h0m0 1h0m1-2h0m9 2h0m3-1h0m4 1h0m1-2h0m1 1h0m6 0h0m0-2h0m1 0h0m2 3h0m4 0h0m9 0h0m13-2h0m2-1h0m4 0h0m0 2h0m-126 2h0m11 2h0m2 0h0m1 0h0m0 1h0m0-3h0m1 1h0m1 1h0m1-2h0m0 1h0m3 1h0m1-1h0m1 2h0m0-2h0m3 1h0m1 0h0m1-1h0m1 1h0m0-1h0m1 0h0m1-1h0m2 0h0m1 2h0m0-2h0m5 1h0m0-1h0m1 0h0m1 0h0m3 1h0m4 1h0m4-1h0m5 1h0m7-2h0m6 0h0m3 3h0m5 0h0m1-3h0m1 0h0m2 2h0m3 1h0m7 0h0m2 0h0m0-1h0m1-1h0m2 1h0m0 1h0m2-2h0m19 0h0m-107 3h0m1 0h0m1 0h0m1 1h0m2 2h0m2-3h0m0 3h0m1-2h0m0 1h0m8-2h0m9 2h0m2 1h0m1-2h0m4-1h0m2 3h0m3 0h0m13-2h0m16-1h0m0 2h0m9-1h0m0 1h0m5-2h0m2 2h0m5 0h0m7 1h0m24 0h0m-131 3h0m20-1h0m8-1h0m4 0h0m2 1h0m4 0h0m3 0h0m3 2h0m1 0h0m0 0h0m3 0h0m1-3h0m2 2h0m5-1h0m2-1h0m3 1h0m4 2h0m2-2h0m6 1h0m7 0h0m2-1h0m0 0h0m1-1h0m6 3h0m0-2h0m7 2h0m2-1h0m2-2h0m6 3h0m3 0h0m0 0h0m4-1h0m2 1h0m3 0h0m2 0h0m2-1h0m1 0h0m5 1h0m0-3h0m1 0h0m7 0h0m-121 4h0m2 0h0m2 2h0m6-1h0m3 1h0m12 1h0m2 0h0m2-1h0m0-1h0m3 1h0m8 1h0m0-2h0m2 1h0m0 1h0m1-1h0m5-2h0m3 2h0m4-1h0m5-1h0m1 3h0m2-2h0m10 2h0m5-1h0m2-1h0m0 0h0m5-1h0m1 0h0m6 3h0m8-2h0m4 0h0m4-1h0m1 2h0m4-2h0m5 1h0m1 1h0m3 0h0m3 1h0m0-1h0m2 1h0m8-1h0m-130 3h0m14 2h0m1-3h0m1 1h0m4 1h0m0 0h0m4 0h0m1 1h0m5-2h0m1 0h0m0 0h0m2-1h0m1 0h0m4 0h0m1 1h0m26 0h0m0 1h0m2-2h0m8 0h0m5 1h0m2 0h0m0-1h0m2 1h0m2 1h0m5-1h0m2-1h0m12 0h0m1 3h0m1-3h0m1 3h0m1 0h0m0-1h0m3-1h0m3 2h0m1-3h0m1 2h0m7 1h0m3-2h0m-121 5h0m2 1h0m6-3h0m1 1h0m1 1h0m0 1h0m1-3h0m0 2h0m1-1h0m1 2h0m1-2h0m1 1h0m4 0h0m1-2h0m7 2h0m1-1h0m1-1h0m7 3h0m4-3h0m0 2h0m1 0h0m2-2h0m1 3h0m2-1h0m0 0h0m0-1h0m3 1h0m10-2h0m2 3h0m1-2h0m5 2h0m3-3h0m0 0h0m7 1h0m3 2h0m8-2h0m9 1h0m0 0h0m1 1h0m1-1h0m0 1h0m2-2h0m1 1h0m1 0h0m4 1h0m3-3h0m6 0h0m5 0h0m0 0h0m1 1h0m2 0h0m9-1h0m-145 5h0m2 1h0m5-2h0m3 1h0m11 2h0m1-1h0m1 0h0m2-2h0m0 3h0m1-1h0m2-2h0m4 3h0m4 0h0m3-3h0m0 1h0m1 2h0m2 0h0m3-2h0m7 1h0m2-2h0m7 1h0m1 1h0m10 0h0m3 1h0m11-3h0m23 0h0m1 1h0m5 1h0m2 0h0m5 0h0m3-2h0m6 1h0m2-1h0m0 2h0m3 1h0m1-1h0m8-1h0m-123 4h0m5 0h0m11 2h0m2 0h0m1-1h0m4 1h0m1-1h0m13 1h0m2 0h0m1-3h0m2 2h0m5-1h0m4 1h0m4 1h0m2-2h0m7 1h0m21-2h0m6 0h0m1 1h0m0 2h0m0-3h0m3 2h0m6 0h0m2 1h0m-92 2h0m3 1h0m1-1h0m3 0h0m0 0h0m1 0h0m1 2h0m21-1h0m7-1h0m1 2h0m6-2h0m4-1h0m1 2h0m4 0h0m9 1h0m1-1h0m4 1h0m3-2h0m0 0h0m2 2h0m2-1h0m3 0h0m1 1h0m6 0h0m0-2h0m2 2h0m1-2h0m4 1h0m0 1h0m1-1h0m24 0h0m1 0h0m0 0h0m1 0h0m4-1h0m-141 5h0m0-1h0m0 1h0m5 0h0m4 1h0m1-1h0m1-1h0m3 1h0m0 1h0m5-1h0m1-2h0m4 0h0m1 2h0m4 0h0m1 0h0m1-1h0m1 2h0m4-3h0m2 3h0m1 0h0m1-2h0m12 1h0m2 0h0m11-2h0m3 1h0m0 2h0m2-1h0m3 1h0m3-2h0m1 1h0m7-1h0m3 2h0m1-2h0m0-1h0m1 3h0m1-2h0m1-1h0m5 1h0m9-1h0m2 1h0m12-1h0m8 2h0m7 0h0m2-1h0m1 1h0m1 1h0m0-3h0m1 1h0m0 0h0m1 0h0m2 0h0m2 0h0m3 2h0m-143 3h0m1 1h0m3 0h0m7-1h0m1 1h0m1-2h0m1 2h0m1-3h0m2 0h0m1 2h0m2-1h0m1-1h0m0 1h0m3 0h0m11 2h0m1-2h0m2 1h0m1 1h0m3 0h0m1 0h0m0 0h0m3-2h0m24 0h0m4 1h0m1-1h0m1 2h0m5-3h0m2 3h0m0 0h0m1 0h0m0-3h0m0 1h0m1 2h0m6-3h0m7 3h0m5 0h0m12 0h0m3-1h0m1-2h0m6 1h0m13 2h0m0-3h0m1 3h0m-137 1h0m1 1h0m6 0h0m0 0h0m5 1h0m3-2h0m1 3h0m18-2h0m5 0h0m3 1h0m4 0h0m3-1h0m26 1h0m1-2h0m1 1h0m5 1h0m7 1h0m8-1h0m10-2h0m0 0h0m4 1h0m0-1h0m1 2h0m1 0h0m2-1h0m1 2h0m6-3h0m2 0h0m5 2h0m1 1h0m4-2h0m6 1h0m1 1h0m6-2h0m1 1h0m-151 2h0m0 0h0m2 1h0m9 1h0m7-2h0m4 1h0m1 2h0m3-2h0m6 2h0m2-3h0m9 1h0m5 2h0m1-1h0m33-1h0m1 0h0m17 1h0m3 1h0m6-3h0m1 2h0m3 0h0m3-2h0m0 1h0m4-1h0m11 1h0m2 0h0m4 2h0m1-1h0m5 0h0m7-1h0m-149 6h0m3 0h0m1-3h0m1 0h0m4 3h0m4-1h0m3-2h0m4 3h0m2-2h0m1-1h0m1 3h0m2 0h0m0-2h0m1 0h0m0 1h0m4-2h0m1 0h0m14 1h0m4-1h0m1 0h0m7 0h0m15 3h0m2 0h0m27-3h0m2 3h0m2-1h0m2-2h0m0 0h0m19 2h0m1-2h0m0 2h0m2-2h0m2 2h0m3-2h0m2 2h0m0 0h0m1 0h0m5-1h0m3-1h0m1 2h0m5-2h0m8 2h0m-166 4h0m3 1h0m1-1h0m1-2h0m3 3h0m11-3h0m1 0h0m4 1h0m5 1h0m2-1h0m0 1h0m12-1h0m2 1h0m2 1h0m1-3h0m0 1h0m12 1h0m8-1h0m6 2h0m3 0h0m2-3h0m3 1h0m1 0h0m1 2h0m9-1h0m7 0h0m1 0h0m2-2h0m2 1h0m0-1h0m0 2h0m1-1h0m2 0h0m0 1h0m7-1h0m3 1h0m9 1h0m7-3h0m0 1h0m0 2h0m3-1h0m2-2h0m1 1h0m1 2h0m1-1h0m1-1h0m0 1h0m2-2h0m13 2h0m6 0h0m0-2h0m1 3h0m-165 2h0m4 0h0m5 1h0m1 0h0m1-1h0m2 2h0m1-1h0m5-1h0m1 0h0m3 0h0m2 1h0m3 1h0m1 0h0m3-1h0m1-1h0m1 0h0m7 2h0m13-1h0m13 0h0m8 0h0m2-2h0m1 1h0m3 2h0m1-1h0m1-2h0m0 0h0m2 3h0m9 0h0m4 0h0m3-3h0m1 0h0m2 2h0m1 0h0m1 1h0m2-1h0m2-1h0m2-1h0m2 2h0m2 0h0m4-1h0m8 2h0m3-1h0m2 0h0m0-1h0m0 1h0m2-1h0m0-1h0m1 0h0m1 1h0m1 0h0m1 2h0m0-1h0m1 0h0m1-2h0m0 1h0m5 0h0m1 0h0m1 0h0m13 0h0m0 0h0m2 0h0m-148 4h0m4 2h0m0-1h0m5-2h0m0 1h0m0 1h0m1 1h0m0-1h0m1 1h0m0-1h0m1-1h0m1 0h0m1 0h0m0 0h0m2 1h0m0-1h0m2 0h0m0 0h0m0 1h0m1 1h0m2 0h0m0-2h0m3 1h0m0-2h0m3 1h0m20 2h0m3 0h0m2 0h0m2 0h0m5-3h0m1 3h0m2-3h0m0 1h0m3 0h0m0-1h0m1 2h0m8 0h0m3 0h0m1 1h0m3-2h0m0-1h0m0 3h0m2 0h0m2-3h0m1 3h0m2-1h0m1-1h0m0 2h0m3-3h0m0 2h0m2-2h0m0 0h0m1 0h0m2 1h0m0 2h0m3 0h0m1-3h0m9 1h0m1 0h0m0 1h0m1-1h0m4 2h0m1-1h0m0 1h0m0-3h0m2 0h0m5 3h0m7-1h0m0-1h0m5 1h0m2 0h0m4 0h0m4 0h0m2-1h0m0-1h0m-148 6h0m0-1h0m12-1h0m1 1h0m1-1h0m0 0h0m6 1h0m1 1h0m10 0h0m14-1h0m6 2h0m2-2h0m4 1h0m9 0h0m8 1h0m4-3h0m1 0h0m6 2h0m0 1h0m4-3h0m9 1h0m13 0h0m4 2h0m1 0h0m8 0h0m3 0h0m12 0h0m12 0h0m-144 1h0m4 3h0m2-3h0m0 0h0m3 0h0m8 2h0m1-1h0m11 2h0m2 0h0m4-1h0m2 1h0m2-2h0m3 1h0m3 0h0m0-2h0m1 3h0m1-2h0m13 2h0m1-3h0m2 0h0m2 0h0m5 3h0m0-3h0m6 3h0m2 0h0m2 0h0m17-1h0m2 0h0m7-2h0m3 2h0m0-2h0m0 1h0m1-1h0m3 3h0m1-3h0m1 0h0m11 3h0m4-2h0m0-1h0m4 3h0m0-1h0m0-2h0m1 2h0m2-1h0m1-1h0m2 3h0m2-2h0m0 1h0m0 1h0m-144 4h0m3-3h0m0 2h0m0 1h0m1-2h0m0 2h0m1 0h0m2-1h0m0 1h0m1 0h0m1-3h0m1 2h0m10 1h0m4-2h0m0 1h0m2 1h0m1-2h0m5-1h0m3 2h0m7-1h0m1 2h0m10-2h0m2 0h0m2 0h0m1 1h0m3 1h0m0-3h0m2 1h0m2 0h0m1 2h0m1-1h0m0 1h0m5-3h0m5 1h0m1 2h0m4-1h0m0-2h0m1 2h0m17-1h0m4 0h0m2-1h0m2 0h0m2 2h0m2-1h0m0 0h0m1 1h0m5 0h0m0-1h0m1 2h0m2 0h0m1 0h0m1-2h0m1 1h0m0-2h0m1 1h0m0 1h0m8-2h0m0 0h0m1 0h0m5 3h0m2-1h0m0 0h0m4 0h0m0-2h0m5 1h0m3-1h0m1 1h0m8 1h0m-161 3h0m1-1h0m2 0h0m1 3h0m1-3h0m2 1h0m2 0h0m3 2h0m1 0h0m5-3h0m14 0h0m3 3h0m4 0h0m2-3h0m0 2h0m3 1h0m3-1h0m1 1h0m6-1h0m1-1h0m7 0h0m2-1h0m8 0h0m1 0h0m1 0h0m7 1h0m23 0h0m3 0h0m0 0h0m3 1h0m1-2h0m0 2h0m2 1h0m0 0h0m5-3h0m0 0h0m1 1h0m3-1h0m4 3h0m2 0h0m8 0h0m3-2h0m0 0h0m1 0h0m0 0h0m3 0h0m4-1h0m0 1h0m4-1h0m3 0h0m-153 6h0m5 0h0m1-2h0m11 1h0m5 0h0m3 1h0m1 1h0m0 0h0m1 0h0m4-1h0m5 1h0m3-3h0m8 0h0m5 2h0m3 1h0m2-2h0m3-1h0m2 0h0m0 3h0m1-3h0m4 1h0m0 2h0m3-1h0m0 1h0m0-3h0m8 0h0m3 2h0m0-2h0m5 0h0m7 3h0m6-2h0m0 2h0m9-3h0m8 2h0m3-2h0m4 2h0m2-2h0m0 2h0m1-2h0m0 0h0m5 3h0m1-2h0m1 0h0m2 0h0m3-1h0m0 2h0m3 0h0m3 0h0m1-1h0m2 0h0m9 0h0m4-1h0m-157 5h0m7 1h0m2 0h0m5-1h0m4 2h0m1 0h0m2-2h0m0-1h0m2 3h0m1-2h0m8 2h0m3-1h0m0 0h0m1 0h0m1-1h0m1 1h0m1 0h0m0-1h0m3 1h0m0-1h0m1 2h0m2 0h0m3 0h0m9-2h0m1 0h0m5 1h0m4 1h0m0-3h0m1 3h0m1-1h0m0-1h0m1 0h0m1 2h0m3-2h0m3 2h0m0-2h0m2 0h0m0 0h0m5 1h0m2 1h0m1-3h0m0 1h0m26-1h0m1 2h0m2 1h0m8-2h0m12-1h0m1 1h0m12 0h0m1 1h0m3 1h0m1-2h0m0-1h0m3 1h0m7 1h0m-141 5h0m4-1h0m7 1h0m0-1h0m1-2h0m1 2h0m2-2h0m1 3h0m3 0h0m0-3h0m5 0h0m1 0h0m3 0h0m2 2h0m2 0h0m1-1h0m4-1h0m1 1h0m2 0h0m0 1h0m1-2h0m3 0h0m1 2h0m1 0h0m2 1h0m1-3h0m3 1h0m3 0h0m3 0h0m0-1h0m0 2h0m4-2h0m10 0h0m5 2h0m10-2h0m2 1h0m0 2h0m4-1h0m1 1h0m0-1h0m0 0h0m1 1h0m1-2h0m4 0h0m5 0h0m1-1h0m1 0h0m11 2h0m0 0h0m8-1h0m0 0h0m1 2h0m1-2h0m1 1h0m2-2h0m1 2h0m4-2h0m12 2h0m-137 4h0m1 0h0m0 0h0m2 0h0m0 0h0m1 0h0m0-2h0m0 2h0m4 1h0m0-3h0m1 2h0m0-2h0m1 0h0m8 1h0m1 2h0m1-2h0m2 1h0m1 0h0m6 0h0m2 1h0m4-2h0m5 0h0m3 1h0m3 1h0m17-1h0m2-2h0m5 0h0m9 2h0m10-1h0m5 0h0m12 0h0m5 1h0m3 0h0m1-2h0m12 0h0m9 2h0m0-2h0m1 3h0m15-2h0m-148 5h0m2 0h0m2-2h0m1 2h0m11-2h0m5 1h0m23 0h0m5 0h0m13 0h0m3-1h0m0 0h0m1 2h0m1-2h0m18 2h0m20 1h0m6 0h0m0-1h0m0-2h0m2 1h0m3 2h0m7 0h0m3-3h0m11 1h0m1-1h0m7 2h0m2 0h0m-152 3h0m2-1h0m6 0h0m1 3h0m1-2h0m1 2h0m1-3h0m1 2h0m7 1h0m4 0h0m18-3h0m4 3h0m4-2h0m4 0h0m3 0h0m50 2h0m1-2h0m1 0h0m1 1h0m1-2h0m2 2h0m1 1h0m1-1h0m0-2h0m3 1h0m1-1h0m1 1h0m0 2h0m3 0h0m4-2h0m2 2h0m4-2h0m1-1h0m4 0h0m5 3h0m1-1h0m0-2h0m2 1h0m0-1h0m0 2h0m1-2h0m2 2h0m1-2h0m1 0h0m2 1h0m-151 5h0m0-1h0m2-1h0m0 0h0m4 3h0m3-3h0m0 0h0m1 0h0m1 1h0m1 1h0m2-2h0m4 2h0m3-2h0m5 0h0m3 3h0m8 0h0m3 0h0m3 0h0m5-3h0m1 1h0m0 1h0m2 0h0m1 1h0m3-3h0m1 3h0m20-2h0m18 2h0m8-2h0m6 2h0m0-3h0m2 3h0m1-3h0m0 3h0m0-1h0m2 0h0m2-1h0m13 1h0m10 0h0m0-2h0m2 1h0m2 0h0m1 0h0m0 0h0m2-1h0m2 0h0m1 1h0m0 2h0m15 0h0m0 0h0m1-3h0m0 1h0m-157 6h0m2-1h0m5 0h0m0 0h0m0-2h0m0 2h0m4-2h0m2 2h0m11-2h0m3 3h0m0-2h0m3-1h0m3 1h0m4-1h0m1 3h0m5-3h0m2 1h0m43 0h0m1 1h0m8 0h0m4-1h0m2 2h0m2-3h0m0 0h0m3 2h0m1 1h0m1-1h0m12-1h0m11 1h0m1-1h0m2 2h0m2-3h0m1 0h0m0 2h0m1-2h0m1 0h0m4 2h0m1 1h0m1-2h0m4-1h0m3 3h0m1-1h0m0 1h0m1 0h0m1-2h0m1 2h0m3-1h0m3 1h0m-174 4h0m5-2h0m1 2h0m3-2h0m4-1h0m4 2h0m0 1h0m2-2h0m0 0h0m8-1h0m3 2h0m1-1h0m1-1h0m2 3h0m11-3h0m2 0h0m3 0h0m0 1h0m2-1h0m2 2h0m0 0h0m2-1h0m2 2h0m46-3h0m2 0h0m5 1h0m0 0h0m3 1h0m8-1h0m9 0h0m1-1h0m1 3h0m5 0h0m9-3h0m9 1h0m0 1h0m1 1h0m4-1h0m6 0h0m4 1h0m-172 4h0m11-1h0m3-1h0m1 1h0m8 1h0m1-3h0m9 2h0m2-1h0m1 1h0m6-2h0m4 1h0m6 2h0m1-1h0m4-2h0m2 2h0m0-1h0m19 0h0m17 1h0m18-2h0m4 2h0m18-2h0m2 0h0m2 1h0m5-1h0m2 0h0m5 0h0m3 2h0m11 1h0m1-1h0m2-2h0m4 1h0m3 2h0m6 0h0m-194 2h0m1 2h0m2 0h0m3 0h0m1-1h0m3 1h0m2 0h0m1 0h0m1-2h0m3-1h0m6 1h0m13 2h0m9-2h0m6 0h0m1 1h0m2 1h0m3 0h0m0 0h0m1-1h0m0 1h0m2-2h0m0 2h0m3-1h0m3 1h0m0-1h0m22 1h0m6-3h0m25 0h0m0 0h0m24 0h0m3 2h0m15 1h0m0 0h0m0 0h0m3 0h0m3 0h0m2-1h0m1 1h0m9-1h0m2-1h0m4 0h0m0 0h0m2 0h0m0-1h0m1 1h0m0-1h0m2 1h0m2-1h0m2 1h0m0 2h0m-191 1h0m6 3h0m2 0h0m6-3h0m5 2h0m3 1h0m4-1h0m0 1h0m0-2h0m1 2h0m2 0h0m20-3h0m1 1h0m7 2h0m2-2h0m3 2h0m10-3h0m2 1h0m13-1h0m2 0h0m0 3h0m1-2h0m3-1h0m22 2h0m5 1h0m0-2h0m15 0h0m0-1h0m17 3h0m3-2h0m5-1h0m1 0h0m3 3h0m6-2h0m12 2h0m0-1h0m2-2h0m0 3h0m1-3h0m0 0h0m1 0h0m1 2h0m3 0h0m0-2h0m-194 5h0m4 1h0m0 0h0m5 1h0m2 0h0m0 0h0m1 0h0m4-3h0m1 3h0m8 0h0m1-2h0m2 0h0m0-1h0m0 3h0m2-2h0m1 2h0m0 0h0m1 0h0m4-1h0m3 0h0m0-1h0m10 0h0m3 2h0m4-2h0m5-1h0m4 0h0m1 2h0m1 0h0m4 1h0m2 0h0m3-2h0m8 0h0m7-1h0m31 1h0m3 2h0m5-2h0m11 0h0m2 1h0m2 1h0m4 0h0m2-2h0m5 2h0m3-1h0m3-2h0m1 1h0m2-1h0m8 1h0m3 1h0m2-2h0m11 1h0m3-1h0m4 1h0m-188 3h0m6 1h0m3-1h0m6 3h0m0-1h0m2 0h0m1 1h0m1 0h0m1 0h0m1-3h0m0 1h0m1 2h0m1 0h0m1 0h0m2-2h0m1 1h0m3-1h0m1-1h0m2 1h0m1-1h0m5 1h0m1 2h0m4 0h0m4 0h0m0-3h0m1 2h0m4 0h0m2-1h0m2-1h0m7 2h0m2 0h0m1-2h0m1 0h0m0 2h0m1 1h0m1 0h0m2 0h0m5 0h0m5 0h0m1-2h0m6-1h0m22 2h0m0 0h0m1 0h0m14 0h0m6-1h0m2-1h0m2 1h0m2 1h0m1-1h0m1 0h0m10-1h0m0 3h0m0-3h0m6 1h0m3 2h0m0-3h0m0 2h0m1-1h0m0-1h0m2 3h0m3 0h0m1-1h0m1 1h0m1-1h0m4-1h0m1 1h0m4 1h0m1-2h0m0 1h0m4 0h0m0 1h0m2-1h0m4 0h0m-193 4h0m10-1h0m2-1h0m0 2h0m3 1h0m5 0h0m6-3h0m3 3h0m1 0h0m1-1h0m3-2h0m0 3h0m11 0h0m1-3h0m2 3h0m1-3h0m2 0h0m1 0h0m2 1h0m1 1h0m2-2h0m3 2h0m1-2h0m1 3h0m5-3h0m1 0h0m0 3h0m3-2h0m0-1h0m0 0h0m4 1h0m5 2h0m1 0h0m0-1h0m0-1h0m3 2h0m2-2h0m4 0h0m8 2h0m25-1h0m7 1h0m2-1h0m1 0h0m5-2h0m3 3h0m1-3h0m5 0h0m2 0h0m3 0h0m2 3h0m6-1h0m1-2h0m7 1h0m1 1h0m1 0h0m1 0h0m3 1h0m2-3h0m2 2h0m3 1h0m6-2h0m2-1h0m0 1h0m0 1h0m5 0h0m-189 4h0m6 1h0m0-3h0m2 0h0m2 3h0m1 0h0m1-1h0m1-2h0m0 3h0m1-2h0m1 1h0m1 1h0m5-1h0m8-1h0m6 0h0m2-1h0m3 1h0m0 1h0m1-1h0m4 2h0m1 0h0m3-3h0m1 1h0m3 1h0m1-2h0m0 3h0m6-2h0m1 2h0m3 0h0m1-2h0m2 1h0m4 0h0m0 1h0m1-1h0m1-1h0m1 1h0m1 0h0m2 1h0m0 0h0m1-1h0m3-2h0m1 1h0m0 0h0m1-1h0m2 3h0m1-1h0m3-2h0m0 2h0m1 1h0m4 0h0m5-1h0m1 1h0m2-2h0m7 2h0m7-1h0m13-2h0m0 3h0m4 0h0m1-3h0m10 1h0m9 1h0m5 0h0m5 1h0m0-3h0m5 2h0m-163 4h0m4 1h0m1-3h0m1 1h0m7 1h0m1 0h0m1-1h0m9 2h0m0-1h0m10-1h0m0-1h0m6 2h0m4 0h0m3-1h0m6 1h0m3 0h0m1-1h0m1 2h0m1-3h0m2 2h0m3 0h0m5 0h0m4 1h0m2-2h0m0-1h0m2 2h0m0-2h0m0 0h0m1 0h0m1 1h0m2 1h0m2-2h0m5 2h0m4 1h0m2-1h0m10 0h0m9-2h0m3 0h0m1 0h0m1 2h0m6-2h0m0 2h0m3 0h0m1-1h0m1 2h0m7-2h0m12 2h0m1-3h0m4 1h0m2 2h0m2-1h0m1 0h0m2 1h0m11-2h0m0-1h0m-171 5h0m5-1h0m4 1h0m1 2h0m4-3h0m2 0h0m10 2h0m4 1h0m3 0h0m1-3h0m5 1h0m4 1h0m8 0h0m2-1h0m2 1h0m1-1h0m0 0h0m2 1h0m7-2h0m1 2h0m1-2h0m0 3h0m3-2h0m2 2h0m2-1h0m1 0h0m1-1h0m0-1h0m2 0h0m2 0h0m4 1h0m7-1h0m0 3h0m16 0h0m3-1h0m11-2h0m2 1h0m3 1h0m0 0h0m1-1h0m1 1h0m5 1h0m3-3h0m1 2h0m1-2h0m1 1h0m3-1h0m7 2h0m16-1h0m7 1h0m6 1h0m2 0h0m-183 3h0m3-1h0m3 0h0m3 1h0m6 1h0m0-3h0m2 2h0m1 0h0m3-2h0m1 3h0m3-3h0m2 2h0m3-1h0m0 1h0m0 0h0m2-2h0m2 2h0m17 0h0m6-2h0m6 2h0m1 0h0m2-2h0m3 0h0m0 2h0m7 1h0m4-1h0m0-1h0m1 1h0m1-2h0m1 3h0m1-1h0m1 1h0m2-3h0m0 2h0m1 1h0m1-2h0m8 0h0m3 0h0m3 1h0m3 1h0m0-3h0m0 2h0m21-2h0m0 1h0m0 0h0m1-1h0m0 1h0m5 0h0m5-1h0m2 2h0m0-1h0m1 1h0m0 0h0m1 0h0m1-2h0m4 1h0m2 1h0m4 0h0m4-1h0m2-1h0m8 2h0m6-2h0m1 3h0m1 0h0m-172 2h0m2 1h0m0-2h0m2 2h0m3 0h0m1-1h0m0 0h0m3-1h0m2 0h0m6 0h0m7 1h0m4 2h0m4-1h0m2-2h0m0 3h0m15 0h0m11 0h0m0-3h0m1 3h0m2-2h0m2-1h0m5 3h0m5 0h0m1 0h0m0-3h0m1 1h0m0-1h0m1 0h0m0 1h0m0 2h0m2-3h0m3 2h0m2-1h0m16 1h0m2-1h0m2-1h0m1 3h0m13-1h0m1-1h0m1 0h0m4 1h0m3-2h0m0 1h0m0 2h0m8-2h0m10 0h0m0 2h0m0-3h0m8 2h0m6 0h0m1 1h0m2 0h0m1 0h0m1 0h0m0-3h0m6 1h0m1 2h0m-174 1h0m12 0h0m1 0h0m10 2h0m2 0h0m0 0h0m3-2h0m1 1h0m2 1h0m0 0h0m1 1h0m0 0h0m0-1h0m5-2h0m1 3h0m1 0h0m1-3h0m2 1h0m1 2h0m9 0h0m2-3h0m0 2h0m8 1h0m5-3h0m1 3h0m0-2h0m5 0h0m1 2h0m1 0h0m3-3h0m4 0h0m2 0h0m2 1h0m0 0h0m8 0h0m4-1h0m3 3h0m5-3h0m8 2h0m1-2h0m3 2h0m7-2h0m1 1h0m0 1h0m3-1h0m1 1h0m12-2h0m4 3h0m3-1h0m2 1h0m6-3h0m1 3h0m0 0h0m1-2h0m4 1h0m3 0h0m1 1h0m10-1h0m2 1h0m-161 1h0m5 2h0m4 0h0m1-2h0m2 2h0m7 1h0m4-1h0m4-1h0m3 0h0m2 0h0m8 1h0m8-1h0m2 1h0m1-2h0m1 1h0m1-1h0m1 2h0m3 1h0m0-2h0m11 0h0m6 2h0m1-2h0m1 1h0m3-2h0m1 3h0m1 0h0m1 0h0m2-1h0m3-2h0m1 2h0m4 0h0m1 1h0m0 0h0m3-3h0m0 2h0m1 0h0m3-1h0m2 2h0m2-3h0m3 2h0m1-2h0m1 3h0m3-3h0m1 3h0m3 0h0m2-1h0m1-1h0m3-1h0m10 1h0m8 1h0m2-1h0m2 2h0m11-1h0m4-2h0m-150 4h0m14 1h0m0 0h0m2-1h0m4 1h0m9 2h0m0 0h0m7-3h0m18 1h0m5-1h0m1 3h0m9-2h0m1-1h0m3 2h0m3-1h0m8 1h0m2 0h0m7 1h0m4 0h0m3-3h0m1 0h0m1 3h0m0-2h0m12 0h0m9-1h0m4 1h0m7 1h0m5 1h0m10-1h0m3 1h0m-150 1h0m13 2h0m11 0h0m22-2h0m3 0h0m1 0h0m4 1h0m1 0h0m9 0h0m4 1h0m1-1h0m4-1h0m3 3h0m1-2h0m1 0h0m6 2h0m2-1h0m0 1h0m9 0h0m5-1h0m4 0h0m2 1h0m2-1h0m4-2h0m6 3h0m11-2h0m1-1h0m5 1h0m6-1h0m6 1h0m-152 3h0m2 3h0m2-1h0m0 0h0m4-1h0m1 2h0m0-1h0m1 1h0m7-2h0m8 2h0m2-1h0m5 0h0m2 1h0m0-2h0m1 1h0m11-1h0m2 2h0m1-3h0m7 3h0m7 0h0m3-2h0m0 1h0m4-1h0m4 1h0m1-2h0m6 0h0m1 2h0m8 0h0m1-2h0m1 0h0m2 0h0m0 0h0m2 0h0m3 2h0m3-2h0m2 0h0m1 1h0m2-1h0m3 2h0m0 0h0m4 0h0m0-1h0m1 0h0m1 1h0m4-2h0m2 2h0m0 1h0m3-1h0m2-1h0m4 0h0m6 0h0m8-1h0m-145 5h0m2-1h0m1 0h0m2 3h0m3-2h0m0 0h0m4-1h0m13 3h0m3-2h0m0 2h0m2-2h0m0-1h0m0 1h0m2 1h0m1 0h0m2 0h0m1 1h0m1-2h0m13 2h0m12-2h0m6 2h0m7-2h0m3 2h0m1 0h0m3-2h0m3 0h0m12 2h0m1-1h0m1 1h0m2-1h0m1 0h0m2 1h0m0-1h0m1 0h0m0-2h0m2 1h0m0-1h0m1 2h0m1 0h0m3-1h0m7-1h0m2 3h0m0-2h0m4 2h0m37 0h0m-170 1h0m11 3h0m3-2h0m2 1h0m11-1h0m5 2h0m1-2h0m2 2h0m0-2h0m0 1h0m0 0h0m2-2h0m0 2h0m1 1h0m1-3h0m0 2h0m3-2h0m0 2h0m1-1h0m1 1h0m0 0h0m1-2h0m1 1h0m5 0h0m22 0h0m0 2h0m2-2h0m5 1h0m7-2h0m0 1h0m5 2h0m3-1h0m0 1h0m1-2h0m2 2h0m1 0h0m1-2h0m2 2h0m5 0h0m0-1h0m0 0h0m1 1h0m4-2h0m1-1h0m0 2h0m1-2h0m1 2h0m0-2h0m7 3h0m6-1h0m5-1h0m7 1h0m4-2h0m3 3h0m2-1h0m3 0h0m0 0h0m8-2h0m1 2h0m-159 5h0m1-3h0m3 0h0m2 0h0m2 2h0m1 0h0m3-1h0m2-1h0m2 2h0m1-1h0m3 2h0m6 0h0m0-3h0m3 3h0m2-3h0m0 3h0m5-3h0m0 0h0m2 2h0m2-2h0m0 0h0m1 1h0m2-1h0m1 3h0m0 0h0m4 0h0m1-1h0m6-2h0m5 1h0m10 2h0m2 0h0m4-3h0m5 3h0m1-3h0m1 2h0m0-2h0m2 1h0m2-1h0m1 2h0m0 1h0m5-3h0m1 3h0m2-2h0m0 1h0m2 1h0m5-3h0m1 0h0m1 3h0m3-2h0m0 1h0m2 0h0m0 0h0m1-1h0m4 2h0m6-2h0m2-1h0m15 3h0m12 0h0m4-2h0m-156 4h0m2 1h0m0-1h0m4 0h0m6-1h0m15 1h0m0 0h0m0 2h0m3 0h0m1-1h0m0 1h0m0-3h0m16 1h0m6-1h0m1 0h0m1 1h0m3 1h0m3-2h0m4 3h0m3-3h0m2 0h0m1 1h0m5 1h0m1-1h0m0 0h0m1 0h0m1 2h0m1-1h0m3-1h0m2 2h0m5-3h0m1 2h0m0-2h0m2 2h0m4 0h0m1-1h0m0-1h0m2 3h0m1-2h0m2-1h0m0 0h0m0 2h0m1-2h0m1 0h0m0 2h0m6 0h0m2-2h0m1 1h0m3 0h0m2 0h0m0 1h0m1 1h0m1-3h0m1 0h0m1 0h0m16 1h0m2 1h0m1-1h0m1 1h0m2 1h0m1 0h0m0-1h0m1 0h0m1-1h0m1 0h0m1 0h0m3 1h0m1 1h0m0-1h0m7-1h0m2-1h0m1 3h0m-157 3h0m8 1h0m2-1h0m3-2h0m3 1h0m11 1h0m5 1h0m6-2h0m12-1h0m1 0h0m0 3h0m2-2h0m2 1h0m1 0h0m1 1h0m2-3h0m3 0h0m2 1h0m2-1h0m2 0h0m0 3h0m3 0h0m2 0h0m5-3h0m2 1h0m3-1h0m4 1h0m2-1h0m1 1h0m1 1h0m2-1h0m0-1h0m2 2h0m1-1h0m1-1h0m2 1h0m8 0h0m2 0h0m1 0h0m3 0h0m1 2h0m1-3h0m1 2h0m2-1h0m18 0h0m0 2h0m2-1h0m0-2h0m3 0h0m7 0h0m8 2h0m1 1h0m6-1h0m1-2h0m0 0h0m3 3h0m1-2h0m-157 4h0m9-1h0m5 0h0m8 2h0m1-2h0m6 2h0m6-2h0m5 3h0m2-1h0m2 1h0m1 0h0m5-3h0m1 0h0m0 3h0m2-3h0m3 3h0m1-2h0m1 2h0m0 0h0m0 0h0m1-3h0m2 0h0m1 3h0m30 0h0m1-1h0m2-2h0m0 0h0m3 0h0m0 2h0m3 1h0m7-3h0m2 2h0m5 1h0m6-3h0m0 1h0m3 1h0m0-1h0m1 2h0m4-3h0m0 0h0m1 0h0m1 1h0m0 0h0m0 0h0m7 1h0m0-1h0m6-1h0m2 3h0m6-2h0m-159 4h0m2-1h0m5 3h0m16-1h0m6-1h0m16 1h0m7 0h0m12 0h0m7 1h0m2-1h0m6 1h0m4-1h0m3-2h0m13 1h0m2-1h0m0 3h0m0-1h0m7 0h0m18-1h0m1 1h0m3-1h0m2 2h0m4-2h0m1 0h0m1 2h0m2-3h0m4 2h0m0 0h0m1 0h0m0 1h0m0 0h0m1-1h0m1-2h0m4 3h0m1-2h0m1 2h0m1-1h0m5 1h0m0 0h0m9-3h0m1 1h0m3 2h0m4-2h0m-176 3h0m1 2h0m6 0h0m3-2h0m0 3h0m7-1h0m7 1h0m3 0h0m1-2h0m4 0h0m2 0h0m9 2h0m10-3h0m4 0h0m2 1h0m3 2h0m1-1h0m2 1h0m1-1h0m0 0h0m1-1h0m3 2h0m3-1h0m12-1h0m11 2h0m0 0h0m4-1h0m7-2h0m5 3h0m1 0h0m4-1h0m2 1h0m7-2h0m1 1h0m2-2h0m5 0h0m3 2h0m3-2h0m7 2h0m0-1h0m1-1h0m2 1h0m0 1h0m0-2h0m0 1h0m2 0h0m1 0h0m0 0h0m1 2h0m1 0h0m2 0h0m5 0h0m3-1h0m3 0h0m1-1h0m6 2h0m2-2h0m-169 6h0m0 0h0m1-1h0m2 1h0m1 0h0m12-1h0m2-1h0m6 0h0m3 0h0m3-1h0m1 0h0m5 0h0m0 1h0m1-1h0m1 0h0m3 1h0m9 0h0m5 0h0m1 0h0m13 2h0m2 0h0m0-1h0m3-2h0m1 3h0m0-3h0m0 3h0m0-1h0m2 0h0m0 0h0m3 0h0m5 1h0m2-3h0m3 1h0m2 1h0m1-2h0m11 1h0m1 0h0m4 1h0m3-2h0m5 0h0m1 0h0m3 0h0m1 2h0m3-2h0m15 2h0m2-2h0m1 1h0m6-1h0m6 1h0m0 1h0m4-2h0m0 2h0m5-2h0m-165 5h0m4 1h0m1 0h0m2-1h0m0 0h0m3-1h0m0 2h0m2-1h0m3 2h0m3 0h0m7-2h0m5 2h0m2-1h0m1-2h0m4 0h0m10 0h0m3 0h0m1 2h0m4 1h0m2 0h0m3-2h0m2 2h0m3-2h0m7 2h0m6-1h0m2 1h0m4-1h0m1-1h0m2 1h0m1 1h0m8 0h0m3 0h0m7 0h0m3-1h0m0-2h0m5 0h0m2 1h0m3 2h0m2-2h0m1-1h0m0 2h0m4 1h0m6-1h0m1-1h0m2 2h0m1-3h0m0 0h0m1 3h0m1 0h0m0-3h0m2 0h0m1 1h0m1 1h0m5 0h0m1-2h0m5 3h0m5-3h0m3 1h0m0 1h0m-164 4h0m1 0h0m3 1h0m0-3h0m2 2h0m5 1h0m5-2h0m1 0h0m12 0h0m1 0h0m1 1h0m1 0h0m2-2h0m1 1h0m1-1h0m11 3h0m1-2h0m2 1h0m1-1h0m2-1h0m1 3h0m0-3h0m1 1h0m4 2h0m3-2h0m3-1h0m0 3h0m7-3h0m3 1h0m11-1h0m8 0h0m6 1h0m0 2h0m11 0h0m1-1h0m10-1h0m4 2h0m1 0h0m2-1h0m0 0h0m2 1h0m3-1h0m2-1h0m1 0h0m0-1h0m1 3h0m5-2h0m0 1h0m1-2h0m4 2h0m0-2h0m4 3h0m9 0h0m-149 3h0m4 1h0m0 0h0m5-3h0m4 3h0m2-2h0m6 2h0m2 0h0m2-2h0m8 1h0m5-1h0m1 0h0m1-1h0m8 2h0m0 0h0m1-1h0m7-1h0m0 2h0m1 0h0m1-2h0m6 3h0m18 0h0m0 0h0m7 0h0m2 0h0m1 0h0m3-2h0m2 0h0m9 1h0m3-2h0m3 1h0m1 0h0m1 1h0m2 0h0m4 0h0m0-1h0m1 1h0m4 0h0m1-1h0m0 0h0m0 2h0m2-1h0m4 1h0m1-1h0m1 0h0m0-2h0m3 0h0m6 1h0m0 0h0m2 0h0m2 0h0m1-1h0m0 0h0m2 1h0m-154 4h0m0 0h0m0 0h0m3 0h0m6 2h0m6-1h0m1-2h0m1 0h0m6 3h0m0 0h0m0 0h0m1-3h0m4 0h0m2 3h0m2-1h0m5 0h0m7-2h0m2 0h0m6 2h0m1-2h0m2 3h0m2-3h0m3 1h0m1 1h0m0 0h0m3-2h0m2 1h0m7-1h0m3 3h0m10 0h0m17 0h0m2 0h0m2-1h0m11 0h0m1 0h0m0-2h0m0 0h0m2 2h0m1-2h0m0 1h0m5 1h0m0-1h0m1 2h0m2-3h0m4 0h0m5 1h0m4 1h0m5 0h0m2 1h0m1 0h0m0-3h0m4 2h0m1-2h0m7 3h0m-163 1h0m3 1h0m2-1h0m11 1h0m0-1h0m2 0h0m6 0h0m2 2h0m5-2h0m12 0h0m3 0h0m3 1h0m1-1h0m0 0h0m3 1h0m0 2h0m2 0h0m1-2h0m1 0h0m0-1h0m6 3h0m1-3h0m1 0h0m3 0h0m9 3h0m3 0h0m5 0h0m0-1h0m2-2h0m0 0h0m2 1h0m0 1h0m1 1h0m1 0h0m4-3h0m7 0h0m1 0h0m0 1h0m1 1h0m5 0h0m2-2h0m14 2h0m3-2h0m5 3h0m3-3h0m1 1h0m4 0h0m3 0h0m4-1h0m3 2h0m3 1h0m1 0h0m4-3h0m-161 4h0m1 0h0m5 1h0m26-1h0m10 0h0m3 0h0m5 0h0m10 1h0m21-1h0m10 0h0m36 0h0m33 0h0" stroke="#999" stroke-width="1" stroke-linecap="square"/>
<path d="M275.5 547.5h0m3 1h0m6 1h0m-16 1h0m3 1h0m0 2h0m2-1h0m-11 3h0m3 2h0m2-3h0m1 3h0m4-3h0m1 2h0m4-1h0m2 1h0m-13 4h0m2-2h0m6 3h0m2-3h0m30 3h0m-10 1h0m2 3h0m14 0h0m-27 3h0m14 0h0m2-1h0m7 2h0m0-1h0m4 0h0m3-1h0m2 0h0m-18 3h0m8 0h0m-20 6h0m27-2h0m-15 16h0m12 4h0m118 15h0m-95 7h0m66 0h0m16-2h0m15 3h0m5-1h0m-146 4h0m15-1h0m3 0h0m25 2h0m4-2h0m3 0h0m1-1h0m0 1h0m7 0h0m26-1h0m17 3h0m10-1h0m3 0h0m1-2h0m5 2h0m17 1h0m1-2h0m-139 6h0m2-3h0m1 1h0m1 0h0m3 2h0m37-2h0m0-1h0m4 1h0m0-1h0m3 2h0m1 1h0m13 0h0m12 0h0m5-3h0m3 2h0m1 1h0m1 0h0m4 0h0m37-2h0m2 2h0m10-2h0m-141 3h0m3 1h0m2 2h0m1-2h0m2-1h0m0 2h0m1 0h0m4 0h0m2 1h0m30 0h0m2-1h0m0 1h0m0-2h0m1 1h0m7-2h0m12 2h0m13-1h0m2 1h0m4 0h0m11 0h0m15-2h0m2 0h0m6 1h0m2-1h0m9 2h0m7 0h0m7 1h0m-148 2h0m7 0h0m4 2h0m2-2h0m4-1h0m24 0h0m6 2h0m4-2h0m0 3h0m4-3h0m17 3h0m11 0h0m3-3h0m0 1h0m8 0h0m1 1h0m4 0h0m1 1h0m11-1h0m7-1h0m2 0h0m17 2h0m15-1h0m1 1h0m3-2h0m8 2h0m-124 4h0m3-2h0m13 2h0m22-1h0m0-2h0m5 1h0m1-1h0m0 2h0m1-1h0m3 0h0m2-1h0m6 2h0m2-2h0m2 3h0m3-3h0m2 1h0m3-1h0m1 0h0m1 3h0m1 0h0m9-1h0m3-2h0m8 0h0m0 0h0m6 2h0m9-2h0m2 1h0m1 2h0m3-3h0m2 0h0m1 1h0m3 2h0m3-1h0m-104 3h0m1-1h0m2 0h0m3 1h0m20-1h0m2 3h0m6-2h0m11 1h0m1-2h0m2 3h0m9 0h0m1-3h0m1 3h0m5 0h0m14 0h0m8-2h0m3 0h0m1 2h0m-102 2h0m3 0h0m8-1h0m1 3h0m8-2h0m5 0h0m1 0h0m8 0h0m4-1h0m1 1h0m3-1h0m1 3h0m1-1h0m2 1h0m13 0h0m11-3h0m2 0h0m2 1h0m0-1h0m1 3h0m0-2h0m0 1h0m2-1h0m1-1h0m7 3h0m14-3h0m2 3h0m2 0h0m7-3h0m7 0h0m-126 5h0m4 2h0m6-2h0m2 2h0m1-3h0m11 3h0m3-1h0m1-2h0m3 0h0m3 2h0m16-2h0m1 1h0m2-1h0m15 3h0m2-3h0m4 2h0m0 0h0m8 1h0m2-2h0m1-1h0m0 0h0m1 0h0m2 0h0m19 3h0m5-3h0m9 1h0m-126 5h0m9-1h0m7 0h0m2-1h0m3 0h0m6 3h0m2-2h0m4 0h0m12-1h0m1 1h0m1 1h0m1 1h0m4-2h0m4 0h0m16 1h0m5 0h0m11-1h0m10 2h0m-100 3h0m0 1h0m2-2h0m5 2h0m2-1h0m3 1h0m1 0h0m7-2h0m1-1h0m6 2h0m3-2h0m0 0h0m2 2h0m6 0h0m0 1h0m3-3h0m4 0h0m3 1h0m6 0h0m9-1h0m1 0h0m17 2h0m4-2h0m0 2h0m4 0h0m26-2h0m-117 6h0m1-2h0m1 3h0m9 0h0m0-3h0m2 3h0m5 0h0m3 0h0m1-3h0m1 3h0m1-1h0m0-2h0m1 1h0m14 1h0m0-2h0m2 0h0m5 1h0m2-1h0m2 2h0m5 1h0m3 0h0m2-1h0m5-1h0m1-1h0m2 0h0m3 0h0m5 0h0m7 0h0m0 1h0m10-1h0m14 2h0m6-1h0m3-1h0m-121 5h0m11 0h0m1 2h0m2-3h0m14 3h0m0-2h0m1 1h0m4-2h0m3 1h0m1 2h0m5-2h0m1-1h0m6 3h0m3-1h0m1-2h0m1 3h0m2 0h0m1-2h0m1 0h0m7 0h0m2 0h0m2 0h0m2 1h0m1-2h0m1 3h0m3-3h0m7 2h0m10 1h0m7-1h0m3-1h0m7 2h0m0-1h0m-94 2h0m6 3h0m8 0h0m6 0h0m3-2h0m0 1h0m1-1h0m0 1h0m5 1h0m1-3h0m1 2h0m4 1h0m9-1h0m2 1h0m5-3h0m0 3h0m2-2h0m8-1h0m0 2h0m1 1h0m3-1h0m23 1h0m16-1h0m-100 4h0m4 0h0m3 0h0m0 1h0m3-2h0m4 1h0m0-1h0m15-1h0m16 0h0m3 0h0m6 2h0m6-2h0m2 3h0m6-3h0m6 0h0m2 2h0m12-2h0m4 2h0m7-1h0m2-1h0m5 3h0m4 0h0m4-1h0m-120 3h0m1 0h0m3 0h0m6-1h0m15 0h0m1 3h0m6-3h0m14 2h0m10 0h0m1-2h0m4 3h0m8 0h0m2-3h0m2 1h0m8 2h0m0-2h0m7 1h0m2 0h0m15-2h0m1 1h0m0-1h0m7 1h0m3-1h0m-122 7h0m4-3h0m5 3h0m2 0h0m5-2h0m4 2h0m5-1h0m2 1h0m2-1h0m1-1h0m1 0h0m2 2h0m0-2h0m1 0h0m9 1h0m12-1h0m2-1h0m1 2h0m1-1h0m2 0h0m13 0h0m11-1h0m5 1h0m2-1h0m2 3h0m27-3h0m1 0h0m3 2h0m1-2h0m1 1h0m1-1h0m6 0h0m0 0h0m1 3h0m12-1h0m-136 5h0m2 0h0m8 0h0m3-2h0m0-1h0m0 3h0m3-3h0m0 3h0m2 0h0m1-3h0m2 0h0m7 3h0m6 0h0m19 0h0m4-1h0m3-1h0m0-1h0m1 1h0m7-1h0m33 3h0m3 0h0m1 0h0m0-2h0m1 0h0m3 2h0m32-3h0m6 3h0m-136 4h0m0-3h0m4 1h0m1 0h0m8 0h0m5 1h0m1-1h0m7-1h0m0 2h0m5 1h0m11-1h0m1 1h0m2 0h0m4 0h0m2 0h0m1-2h0m5 2h0m0-1h0m0 1h0m2-1h0m23-2h0m8 1h0m2 2h0m6-3h0m0 3h0m2 0h0m12 0h0m11-3h0m9 3h0m-137 3h0m10 0h0m9-1h0m7 0h0m1-1h0m0 0h0m6 3h0m16 0h0m2 0h0m0-3h0m4 0h0m3 0h0m1 2h0m0-2h0m6 3h0m7-1h0m21 1h0m4-2h0m4 0h0m1 1h0m2 1h0m1 0h0m0-2h0m0 0h0m0-1h0m1 3h0m0 0h0m1-1h0m1-2h0m1 2h0m1 1h0m11 0h0m2 0h0m16-1h0m4 1h0m1 0h0m-140 4h0m5-2h0m6 1h0m4-1h0m4 2h0m0-2h0m1 0h0m8 0h0m9 2h0m2-1h0m19 0h0m5-1h0m3 1h0m4-1h0m1 1h0m5 0h0m5 0h0m0 1h0m5-3h0m2 1h0m11-1h0m1 3h0m4-1h0m28-1h0m1 0h0m3 0h0m-121 4h0m1 0h0m2-1h0m18 0h0m1 3h0m2 0h0m3-1h0m3 1h0m5-1h0m0 0h0m19 1h0m0-3h0m11 3h0m2-3h0m1 2h0m1 1h0m0-2h0m4 2h0m2-1h0m20 0h0m1 0h0m1-2h0m7 1h0m3-1h0m5 3h0m5 0h0m5 0h0m15 0h0m-149 4h0m9-2h0m7 2h0m2-3h0m14 3h0m9 0h0m6-1h0m1-2h0m7 1h0m10-1h0m9 3h0m9-3h0m3 0h0m1 1h0m5-1h0m0 1h0m1 2h0m2-2h0m0 0h0m3 0h0m1-1h0m4 2h0m0 1h0m1 0h0m5-2h0m0 1h0m8 0h0m2-2h0m2 2h0m15-1h0m11 0h0m1 2h0m-151 3h0m2-2h0m4 0h0m4 2h0m7-2h0m1 1h0m7 0h0m23 1h0m0 1h0m2-2h0m0 2h0m2-2h0m27 2h0m1-1h0m6-2h0m19 1h0m0 0h0m13 1h0m2 1h0m7-1h0m12 0h0m5-2h0m3 3h0m1 0h0m1 0h0m1-1h0m1 1h0m-154 1h0m24 0h0m0 0h0m1 0h0m0 0h0m2 2h0m2-2h0m2 2h0m5-1h0m19 1h0m26-1h0m2 0h0m2 2h0m16-2h0m34 0h0m8 1h0m9-2h0m2 1h0m1 0h0m4 1h0m-160 3h0m3 2h0m1 0h0m4 0h0m0-2h0m10 1h0m7-2h0m3 3h0m10 0h0m5-2h0m12 0h0m27-1h0m14 3h0m1 0h0m7-3h0m25 3h0m5 0h0m0-1h0m1 0h0m3-2h0m1 0h0m0 2h0m1-2h0m0 2h0m14-1h0m5 1h0m-155 3h0m1-1h0m3 1h0m9 0h0m9-1h0m2 0h0m0 0h0m3 0h0m6 0h0m1 3h0m38-2h0m1 0h0m2 0h0m2 0h0m2 1h0m3-1h0m13 0h0m0-1h0m22 0h0m3 2h0m10 0h0m5-2h0m15 0h0m-152 6h0m1-2h0m15 2h0m4 1h0m0-3h0m5 1h0m4 2h0m9-3h0m2 1h0m12-1h0m6 3h0m2 0h0m1-1h0m4 0h0m6-1h0m13-1h0m2 2h0m4-1h0m3-1h0m1 0h0m1 2h0m0 1h0m0-2h0m1-1h0m6 0h0m0 2h0m2-1h0m2 1h0m3-2h0m2 1h0m9-1h0m3 3h0m7-3h0m1 1h0m5 2h0m12-1h0m2-1h0m11 0h0m-159 6h0m11-2h0m2 1h0m10 0h0m1-1h0m15-1h0m16 1h0m7 1h0m1-2h0m3 1h0m5 2h0m5-1h0m7-2h0m2 2h0m25 0h0m1 0h0m2-2h0m2 2h0m3 0h0m3 1h0m0 0h0m13 0h0m14-3h0m3 1h0m0 0h0m0 2h0m-135 1h0m8 1h0m3 1h0m16-1h0m6 2h0m11-1h0m5-1h0m0 2h0m2-1h0m4 1h0m2 0h0m1-3h0m1 1h0m1 0h0m1-1h0m4 1h0m13 1h0m2 0h0m21-2h0m5 3h0m12 0h0m0-3h0m1 2h0m0-2h0m3 0h0m1 2h0m3 0h0m3-1h0m5 0h0m9 1h0m-144 5h0m1 0h0m1-1h0m2-2h0m2 3h0m17-1h0m4 0h0m5-2h0m2 1h0m6 1h0m1 1h0m1-2h0m1 2h0m0 0h0m7-1h0m4 0h0m2-2h0m4 2h0m5-1h0m0 1h0m0-2h0m1 1h0m9-1h0m3 0h0m3 3h0m1-3h0m15 1h0m2 2h0m1-2h0m3 0h0m2 0h0m1-1h0m4 3h0m2 0h0m1-3h0m1 3h0m3-3h0m1 0h0m1 0h0m1 2h0m2-1h0m0 0h0m9 2h0m2-2h0m0 2h0m3-3h0m4 0h0m2 3h0m3 0h0m10-1h0m-157 3h0m2-1h0m1 1h0m6 2h0m2 0h0m0-2h0m1-1h0m2 3h0m1-2h0m1 0h0m4 2h0m4-3h0m3 3h0m3 0h0m1 0h0m2-3h0m1 1h0m3 2h0m1-3h0m1 3h0m3-3h0m8 2h0m6 0h0m5 1h0m0-2h0m1-1h0m1 3h0m1-2h0m2 2h0m1-2h0m3-1h0m0 2h0m2-2h0m1 0h0m10 2h0m18-1h0m6 2h0m2-2h0m1-1h0m4 3h0m1-2h0m0 0h0m2 2h0m2-3h0m1 2h0m1-2h0m1 0h0m1 2h0m1 0h0m1 0h0m9 1h0m5-1h0m1-1h0m1 0h0m2 2h0m9-2h0m0-1h0m-149 4h0m2 2h0m1-1h0m0-1h0m5 0h0m1 2h0m3-1h0m12-1h0m1 1h0m8 0h0m10-1h0m1 2h0m19 0h0m0 1h0m2-1h0m1-1h0m0 1h0m1-2h0m0 2h0m1-1h0m1-1h0m1 3h0m0-2h0m2-1h0m9 3h0m12 0h0m7-1h0m1-2h0m4 2h0m6-1h0m1-1h0m2 1h0m4 0h0m1-1h0m7 1h0m12 1h0m1 0h0m1-2h0m3 2h0m2 0h0m-134 3h0m4 2h0m10 0h0m11-1h0m5-1h0m2 0h0m3 1h0m2 1h0m9 0h0m1-1h0m3-2h0m1 3h0m2-2h0m3 0h0m4 2h0m2 0h0m0-1h0m5-1h0m3 1h0m0 1h0m30-2h0m7-1h0m0 3h0m26-2h0m21 1h0m-135 3h0m7 1h0m3 0h0m0-2h0m0 3h0m2-1h0m1 1h0m1 0h0m1-2h0m0-1h0m3 0h0m3 3h0m8-1h0m10 0h0m11-1h0m6 0h0m5 1h0m3-1h0m4 1h0m4 1h0m3 0h0m3 0h0m1-1h0m2 0h0m7-1h0m11 2h0m5-2h0m13 0h0m3 0h0m10 0h0m3 2h0m-132 2h0m6 0h0m5 0h0m0 1h0m3 1h0m0-3h0m0 2h0m1-2h0m15 1h0m1 0h0m2 1h0m1 1h0m2-1h0m9 0h0m68 1h0m9-1h0m1-2h0m21 2h0m5 0h0m-146 2h0m1 0h0m2 2h0m0-2h0m2 3h0m8 0h0m1-1h0m1-2h0m11 1h0m6-1h0m17 1h0m38 2h0m17 0h0m5 0h0m4-2h0m0 0h0m4 1h0m0 0h0m0-1h0m0 0h0m6 2h0m13-2h0m2 0h0m6 1h0m0-1h0m0 2h0m3-1h0m3 1h0m1-2h0m1 0h0m-153 3h0m6 1h0m5 0h0m0 0h0m2 0h0m0 2h0m4-3h0m5 2h0m0 0h0m0-1h0m2 1h0m3 1h0m7-2h0m9 1h0m2 1h0m2 0h0m1 0h0m5-2h0m2 1h0m51-1h0m1-1h0m7 2h0m3 1h0m1-3h0m0 0h0m2 0h0m3 0h0m13 3h0m3-1h0m2-1h0m3 1h0m3 0h0m1 1h0m0 0h0m2 0h0m3 0h0m1 0h0m-148 1h0m0 1h0m1 0h0m2 0h0m1 1h0m9-2h0m17 0h0m5 3h0m42-2h0m5-1h0m15 2h0m6 0h0m4-1h0m1-1h0m0 0h0m2 2h0m3-2h0m2 1h0m17 1h0m9-1h0m4 2h0m-151 3h0m2 1h0m3 0h0m6-2h0m9 1h0m5-2h0m9 3h0m3-2h0m2 2h0m1-1h0m1-2h0m1 3h0m2-3h0m10 3h0m4-2h0m49-1h0m3 0h0m2 0h0m2 2h0m4 0h0m3 1h0m5-1h0m11-2h0m11 3h0m3-1h0m5-1h0m0 2h0m4-1h0m0 0h0m5 1h0m4-1h0m2 1h0m-175 1h0m1 3h0m2-3h0m1 0h0m2 2h0m1 0h0m3-2h0m1 1h0m4 2h0m3 0h0m1-1h0m1-2h0m4 3h0m6-2h0m2 2h0m6-2h0m8 2h0m0-3h0m6 1h0m3 0h0m1-1h0m1 0h0m1 1h0m0 0h0m3 1h0m1 0h0m0-1h0m0 2h0m45-1h0m0-1h0m4 2h0m7-1h0m1 0h0m6-1h0m3 2h0m1-2h0m11 1h0m6 1h0m9-3h0m3 0h0m9 0h0m0 1h0m2 0h0m-135 5h0m12-1h0m2-1h0m5 0h0m4 2h0m1 0h0m2-1h0m49 1h0m15-2h0m10 3h0m1-2h0m9 1h0m2-2h0m6 1h0m3-1h0m10 0h0m8 1h0m1 1h0m4 1h0m4-2h0m1 1h0m-172 2h0m28 1h0m12 0h0m0 2h0m20 0h0m1-3h0m12 0h0m1 3h0m2-2h0m11 2h0m37-3h0m15 0h0m6 0h0m2 0h0m9 2h0m5 1h0m5-2h0m1 0h0m5 1h0m4 0h0m-184 4h0m0-1h0m2 0h0m7 1h0m1 0h0m4-2h0m4 0h0m2 3h0m8-1h0m5-1h0m6 2h0m1-3h0m5 0h0m11 3h0m8-1h0m1 1h0m10 0h0m7 0h0m1-2h0m31 0h0m30 2h0m3-3h0m11 0h0m0 2h0m16 0h0m1 0h0m5-1h0m6 0h0m-197 6h0m4-1h0m1 1h0m6-2h0m0 2h0m4-2h0m1 0h0m5 0h0m0 0h0m5-1h0m5 3h0m4-1h0m2 1h0m5-3h0m1 0h0m3 2h0m4-1h0m1 1h0m0 0h0m8 0h0m12 0h0m6 1h0m0 0h0m2-1h0m0 0h0m11-1h0m3-1h0m30 1h0m1-1h0m3 2h0m8 1h0m3 0h0m3 0h0m1-1h0m7 1h0m2-1h0m5 1h0m4 0h0m0 0h0m11-1h0m2 0h0m9 0h0m6-1h0m2 0h0m0 1h0m2 1h0m0-2h0m6 2h0m-197 2h0m10-1h0m5 3h0m1-1h0m2-1h0m0 0h0m1 0h0m5 1h0m6-2h0m4 1h0m7 2h0m2-1h0m5-2h0m1 2h0m7-2h0m1 0h0m4 3h0m2-1h0m18 0h0m2 1h0m7-2h0m5 1h0m25 1h0m15-3h0m1 1h0m5 0h0m0-1h0m7 3h0m1-3h0m9 1h0m11 0h0m3-1h0m1 2h0m0-2h0m18 2h0m1-1h0m-177 5h0m1 1h0m6 0h0m2 0h0m1-3h0m0 1h0m4 1h0m3-2h0m0 1h0m3-1h0m2 0h0m1 1h0m3 1h0m9-2h0m1 2h0m1 0h0m2-1h0m0 0h0m2 2h0m0-2h0m1 1h0m1 1h0m2-3h0m6 2h0m5-1h0m4 2h0m6-1h0m3 1h0m1-1h0m1-2h0m17 3h0m15-2h0m6 1h0m11 0h0m4-2h0m28 3h0m4 0h0m3-1h0m7 1h0m7 0h0m2-1h0m-174 2h0m4 3h0m2-3h0m9 1h0m4 1h0m7 1h0m6 0h0m7-1h0m2 0h0m2 0h0m0 0h0m0-1h0m3-1h0m2 3h0m10-3h0m6 3h0m3-2h0m1 1h0m6 1h0m4-3h0m1 1h0m4-1h0m3 3h0m5-2h0m11 0h0m3 0h0m1 0h0m2 2h0m4-3h0m7 2h0m1 1h0m34-1h0m2-2h0m2 3h0m0-1h0m-168 3h0m9 0h0m0-1h0m8 1h0m1 2h0m2-1h0m1 0h0m2-1h0m2 1h0m16-1h0m1-1h0m2 3h0m0-2h0m0 1h0m1-1h0m6 0h0m9 1h0m0 1h0m8 0h0m3-1h0m4-2h0m1 1h0m4-1h0m1 0h0m0 0h0m0 0h0m1 2h0m2-1h0m0 0h0m2-1h0m2 3h0m1-1h0m3-2h0m2 1h0m1 0h0m5 0h0m13-1h0m3 3h0m2-3h0m2 0h0m7 1h0m2 0h0m1 2h0m2-2h0m15 0h0m3 2h0m3 0h0m6-1h0m18 1h0m-162 4h0m0-3h0m1 3h0m17-3h0m23 0h0m3 3h0m0-3h0m2 0h0m7 1h0m1 2h0m1-2h0m1 2h0m2-1h0m0-2h0m1 1h0m6 1h0m1 0h0m2 0h0m3-2h0m9 1h0m0 2h0m0 0h0m4-3h0m24 2h0m4-1h0m5 2h0m0-3h0m3 3h0m7 0h0m0 0h0m6 0h0m1-1h0m1-1h0m-142 5h0m7 0h0m2 1h0m0 0h0m4 0h0m6-1h0m2 0h0m21 0h0m13 0h0m9 1h0m0-2h0m15 0h0m1-1h0m12 0h0m1 2h0m14 0h0m2 0h0m3 1h0m10-1h0m3-2h0m5 2h0m2-1h0m1 2h0m11-1h0m0-2h0m5 2h0m2-1h0m2 1h0m18-2h0m6 3h0m-172 1h0m4 0h0m1 0h0m7 0h0m5 0h0m2 3h0m3-3h0m2 1h0m1 1h0m4-2h0m1 2h0m18 0h0m15-1h0m4 0h0m1-1h0m1 1h0m0 0h0m1 2h0m1-2h0m2-1h0m28 1h0m16 1h0m6-1h0m4 0h0m0-1h0m1 1h0m2 1h0m2-1h0m0 1h0m10-1h0m2 1h0m3 1h0m-147 4h0m16 0h0m4-2h0m4 1h0m20 1h0m10 0h0m3-2h0m0-1h0m1 3h0m0-2h0m1 1h0m3-1h0m5 1h0m0-1h0m1 2h0m2-2h0m0 1h0m2 0h0m20-1h0m5 0h0m8 0h0m8 0h0m43-1h0m10 2h0m-152 3h0m3 2h0m1-1h0m6-1h0m0 1h0m0-1h0m1-1h0m3 2h0m8-2h0m3 1h0m7 1h0m8-2h0m1 3h0m1-1h0m4-1h0m29 1h0m3-1h0m2 0h0m4 0h0m2-1h0m5 0h0m5 1h0m1-1h0m29 3h0m7-1h0m13 0h0m7 1h0m-136 1h0m1 3h0m3-1h0m7 1h0m3 0h0m21-2h0m4 0h0m10 2h0m1 0h0m0 0h0m6-1h0m4 0h0m1 1h0m0 0h0m11-1h0m7-2h0m4 3h0m16-1h0m26 0h0m2 0h0m-125 3h0m0 2h0m1-3h0m1 0h0m6 1h0m1-1h0m13 3h0m2-2h0m12-1h0m3 2h0m6 0h0m15-1h0m4 2h0m6-2h0m6 0h0m1 1h0m7-2h0m7 1h0m5 0h0m0 1h0m2 0h0m2 1h0m9 0h0m25-1h0m-143 3h0m10 0h0m9-1h0m7 1h0m4 2h0m4-2h0m7 0h0m5-1h0m10 3h0m6-3h0m8 0h0m8 2h0m2-1h0m0-1h0m2 0h0m4 0h0m5 0h0m5 3h0m1-2h0m2 0h0m7-1h0m1 2h0m5 0h0m4 1h0m-126 3h0m6-1h0m2 2h0m3-2h0m9 2h0m9-2h0m1 1h0m13 1h0m13-2h0m18 2h0m1-1h0m0-1h0m2 1h0m15-1h0m5 1h0m1 0h0m2 1h0m3 0h0m0 0h0m1-3h0m1 3h0m1-1h0m0 0h0m2-1h0m5-1h0m5 3h0m27-3h0m19 3h0m-165 3h0m1 1h0m0 0h0m7-2h0m1 0h0m5-1h0m15 1h0m3 2h0m1-2h0m3 1h0m1 0h0m0 0h0m5-1h0m1 0h0m0 0h0m2 1h0m5 1h0m2-2h0m0 2h0m22-1h0m2-1h0m0 0h0m2 2h0m7 0h0m3-3h0m1 1h0m5 2h0m1-3h0m2 2h0m1-2h0m2 2h0m18-1h0m22 1h0m1-2h0m14 2h0m-156 4h0m5 0h0m0-2h0m8 0h0m17 3h0m0-2h0m2 0h0m1 0h0m4 2h0m5-2h0m0 2h0m4-1h0m10 0h0m4 1h0m16 0h0m1-1h0m1 0h0m6-1h0m2-1h0m1 0h0m1 3h0m0 0h0m1-2h0m1-1h0m0 2h0m1 1h0m2 0h0m3-2h0m2 1h0m1-1h0m3 0h0m0 1h0m2-2h0m1 2h0m0 0h0m6 0h0m5 1h0m14-1h0m1 1h0m9-2h0m3 0h0m1-1h0m0 3h0m6-1h0m3-1h0m1 1h0m18 0h0m-165 3h0m6 2h0m9-3h0m4 0h0m3 2h0m1 0h0m1 1h0m2 0h0m8-2h0m3-1h0m4 3h0m1-1h0m4-1h0m5 0h0m0-1h0m1 3h0m2-1h0m1 1h0m5-1h0m7-2h0m1 2h0m2-1h0m7 1h0m5 0h0m3-2h0m0 1h0m2 1h0m4-2h0m1 1h0m1 2h0m1-1h0m3-2h0m2 1h0m0 1h0m1 1h0m6 0h0m2 0h0m21-2h0m1-1h0m4 2h0m0 0h0m3 1h0m7 0h0m0-1h0m8-2h0m-152 6h0m14 1h0m1-3h0m5 0h0m2 0h0m22 1h0m0 1h0m1-2h0m1 2h0m3 1h0m1-2h0m3 2h0m3-1h0m4-2h0m1 1h0m3-1h0m8 0h0m15 0h0m1 2h0m0 0h0m0 1h0m20 0h0m2-1h0m1 0h0m2-2h0m10 1h0m7-1h0m1 0h0m2 3h0m0-2h0m0 0h0m5-1h0m8 2h0m0 0h0m4 1h0m0 0h0m-152 1h0m2 3h0m2-1h0m1 1h0m16-1h0m6-2h0m2 1h0m35 0h0m3-1h0m0 0h0m1 0h0m0 2h0m31 1h0m1-1h0m12-1h0m17 2h0m1 0h0m3 0h0m1 0h0m1-2h0m2-1h0m2 2h0m2 0h0m5 0h0m8 1h0m2-2h0m18 2h0m-170 3h0m2-2h0m6 3h0m13-3h0m1 0h0m12 1h0m7 2h0m1-2h0m4 1h0m5-1h0m4 1h0m8-1h0m7 0h0m0 0h0m6 0h0m26 2h0m2-3h0m5 1h0m1 0h0m8 0h0m6 0h0m4 2h0m1-3h0m0 2h0m1 0h0m0 0h0m1 1h0m2-3h0m5 0h0m1 3h0m6-1h0m1 1h0m1-3h0m3 2h0m1-1h0m14-1h0m-173 4h0m5 0h0m4 0h0m2 1h0m1 2h0m2-3h0m0 3h0m2-1h0m13-2h0m2 3h0m3 0h0m9-3h0m3 1h0m0 2h0m1-1h0m1-2h0m6 0h0m9 3h0m1-3h0m3 1h0m2-1h0m2 2h0m3-2h0m9 3h0m5-1h0m0-2h0m10 2h0m0-1h0m4 2h0m0-2h0m3 2h0m0-3h0m15 1h0m4-1h0m7 0h0m4 2h0m10 1h0m1 0h0m2-2h0m2 1h0m1-2h0m2 0h0m1 0h0m7 2h0m0-1h0m1 2h0m1-1h0m0 1h0m1-3h0m6 1h0m2 0h0m2-1h0m-153 5h0m3 0h0m3 2h0m1-3h0m1 2h0m8 0h0m1 0h0m3 1h0m2 0h0m13 0h0m1-2h0m4-1h0m7 3h0m8-2h0m13-1h0m1 1h0m0 1h0m8 0h0m0-1h0m3-1h0m0 2h0m5-2h0m1 2h0m12 0h0m1-1h0m23 0h0m4-1h0m0 1h0m4 0h0m6 0h0m1 0h0m5 1h0m5 0h0m4 1h0m2-3h0m2 0h0m2 2h0m0 1h0m-169 3h0m12 0h0m3-2h0m4 2h0m0-2h0m2 2h0m0 1h0m3 0h0m3 0h0m1-1h0m2 0h0m2-2h0m11 3h0m8 0h0m1 0h0m18-2h0m7 0h0m1 0h0m1 1h0m10 0h0m5-1h0m0 2h0m7-3h0m8 0h0m2 0h0m2 2h0m0-2h0m2 1h0m1 0h0m2 2h0m3 0h0m5 0h0m7-1h0m4 1h0m5-2h0m7 0h0m5 1h0m4 1h0m-158 4h0m2-1h0m2-2h0m4 3h0m15-2h0m3 0h0m1 1h0m1-2h0m2 0h0m2 1h0m1 2h0m3 0h0m1-2h0m3-1h0m3 1h0m3-1h0m2 3h0m3-1h0m2-1h0m2 1h0m4-1h0m9 0h0m7-1h0m3 3h0m3-2h0m0-1h0m7 0h0m29 3h0m3-2h0m9 2h0m3 0h0m2 0h0m4-3h0m0 2h0m6 0h0m9-1h0m10 1h0m-161 2h0m5 0h0m1 0h0m3 1h0m1 0h0m1 0h0m0 2h0m8-1h0m9-2h0m6 1h0m2 0h0m0 2h0m14-3h0m13 2h0m6 1h0m20-2h0m0 0h0m6 0h0m5 2h0m9-3h0m2 3h0m2-3h0m3 1h0m3-1h0m4 0h0m2 1h0m4 2h0m1 0h0m4-2h0m4 2h0m2-2h0m0 1h0m13-1h0m3 1h0m1-2h0m1 1h0m-156 6h0m6-3h0m0 1h0m5 2h0m2-1h0m0 0h0m9 1h0m7 0h0m0-3h0m0 3h0m1 0h0m2-3h0m0 0h0m1 0h0m14 2h0m2 0h0m1-1h0m0 1h0m2 1h0m3-1h0m3 1h0m3 0h0m12 0h0m9-1h0m2-1h0m8-1h0m2 1h0m28 1h0m2-1h0m4-1h0m2 3h0m0-3h0m6 2h0m1-1h0m3 0h0m16 2h0m0-2h0m5 2h0m8 0h0m-157 1h0m0 1h0m13 1h0m3-1h0m0 2h0m5-2h0m15 1h0m3 0h0m9 0h0m1 0h0m2-1h0m1 2h0m0 0h0m1-1h0m2 0h0m3-2h0m2 1h0m19 1h0m6 0h0m11-1h0m14 0h0m8-1h0m10 2h0m0-2h0m8 3h0m2-1h0m3 0h0m5-1h0m-133 3h0m5 0h0m24 0h0m29 0h0" stroke="#777" stroke-width="1" stroke-linecap="square"/>
<path d="M271.4 549.1l2.6-1.4m-5.6 7.9l1.8-.8m9.4 4.7l-2.8-1.2m4.4 0h0m26.2 67.7l.8-.6m-13.3 2.1l.7-2.9m48.1 2.8l.5 .8m30.9 1.7l-.3 1m3.4-3.9l-.8-.6m38.9 .3l-2 2.2m-119.8 1.5h0m71 .2l-1.1 2.8m30-.1l.7 1.9m-20.2 0l1.8 2.4m3.5-1.4l-.5 3m51.3-1.6l-.2 1m8.4-4.5h0m-106.6 6.2l.3-2m16 3.8h0m34.2 .3h0m-36.7 11.2l.1 2m-32 2.3h0m62-1.6l.9-.4m51.7 0l1.7-2.5m-97.2 5.1h0m14.9 3.4l.4 2m39.8-3.4l1.9-.8m-65.9 4.8l-2.5-1.7m86.5 1.9l2.9 .9m14.7 4.1h0m-73.3 2.3l1-1.7m1.9 1l-.8-.6m1.2 1.6l1.2 1.6m24 3.1l-1 0m7.3 .1h0m-48.4 4l.8-1.8m.7 2.7l.5 .9m17.9-1.5h0m2.6-.7l.9-2.9m14.6 2.9l-1-.1m5.4-1.9l.5-.9m-44.1 7.4h0m18.1-3l2 0m-17.2 4.4l-2-.3m42.8 2l.9 1.8m12.9 1.4l-1.5 2.6m1.5-2.7l-1 .2m22.9-1.1l.2 1m16.5-1.5l-1.1-2.8m12.1 4.2h0m-57.7 3.5h0m15.7-.2l2.1 2.2m57.6 .7l.5 .8m-109 .8h0m.3 .6l0 2m66.6-3.2l-.9 .4m34.3 2.1h0m9.1-2.7l-2 .1m8.3 1.9h0m-16.3 2l-2-.2m8.1 .2h0m15.7 3.4l-.9-.5m-124.6 4l.5-.9m123.5-.8l0 1m-134.4 2.8l-.9 .4m129 2.1l2.6-1.5m-119.3 2.8l1.5 1.3m75.3 1.4l.9 .4m3.2-1.9l-.2 2m11.3-3.5l-1.3 2.7m29.5-1.2l0-2m2.2-.1l.6-.8m-28.7 7.4l2.2-2.1m19.6-.8l2.5 1.7m-59.9 3.1l3 .4m6 .7l-1-.3m3 1.6l.2 1m63.7-2.3h0m-12.8 4l-.9 .4m1.2 .3h0m.1 1.5l.5-.9m1.9 4.7h0m-93.6 1.7h0m1.4 .6l2-.2m8.4-1.3l.9 .4m19 1h0m71.7-1.9l.8 .5m6.7 .2h0m2.1-.2l-1.6 2.6m-134 3.9h0m3.1 .3h0m.5-.2l-1.2 2.7m15.1-4h0m23.3 .4l-1.9 .5m63-2.2l.2-1m5.8 1.4l.8-2.9m26.1 5.6h0m2.4-3.5l.9 .5m-112.9 5.7l.4-3m48.8 3.7l1.7 1.1m58-2.8l.4-.9m-109.4 6.2l.4-.9m12.2-1.1l.5-.8m15.3 .6h0m23.3 3.2l-.4-.9m1 .2l-.1-1m33-.1l3 .5m37.6-1.9h0m-115.5 6.6h0m121.9-.4h0m-82.1 5.5h0m73.3 4.8l-.3 1m18 1.3l-1 0m-127.5 7.1l-2.8 1.1m27.9-2.2h0m.4 1.2l0-2m1.9 1.3h0m80.9 1.4l-1.8-2.4m29.1 .9l1.7-1m16.7-.1h0m-109.2 5.3l1.2 2.7m114.2-2l-.4 .9m1.4-1.2l2.5-1.7m-177.7 10.1l.5 .8m35.3-1.6l-2 .3m-14.2 2.8l1.8-2.4m-1.5 3.6l-.9 1.8m29.7-1.8h0m-35.6 3.8l-2 2.3m4.4-1.1l1 0m114.1-3l-.1 3m2.6-1l1.4 1.4m-111.6 2.3l.9 .4m5.4 1.1l-2.3 1.9m106.9-4.4l3 0m12.9 .3h0m34.1-1.2l1-.1m-163 7.1l-.2-1m21.7 .6l-3-.4m24.7 .6h0m20.7 .7l-.5 .8m87.5-3.7h0m-165.6 3.3l-2-.1m22.5 1.3h0m2.8 1.6l.3-1m11.3-1l-.9 .4m52.6 2.1l-1-.3m34-1l1.5-2.6m0 2.8h0m-48.6 2.8l1-.2m4-.3l-.3-1m33.2 .5l.8 .6m-57.6 3.8l.9-.4m5.4 2l.9 .5m77.8-.1h0m33.5 1.4l2.9 .6m-144 1.8h0m89.4-.7l-2.5-1.6m12.2 2.4l-.9-.4m-82.1 5.5h0m53.7-3.1l-.9 .4m19.6 1.8l.7-.7m5.8-.1h0m3.3-.5l-.9 .4m24.7-.7l-.8-.6m-89.9 6.2h0m112.1 1.5l.9-.5m-149 2.9h0m30 .6h0m5.2-2h0m44 .8h0m-70.4 4.2l.9-.4m35.2-.7h0m23.9 3.1h0m25.3 2.2l-1 .3m-84.7 5.2l1.8 2.4m54.3-4.1l-1-.3m-40.9 6h0m3.8-2.1l1-.1m69.6 2.3l.9 2.9m34.7-3.5l1.5 1.3m1.7-3.1h0m-82.3 6.4l-1 .2m13.3-3.9l-.2-1m1.2 1l1.5 2.6m.4 1.2l-.3-.9m85-.1l1-.3m-133.5 4.2l-1-.2m12.2-2.1h0m38.6 2.9l-.6-.8m33.1 .8l.3-3m-70.6 4.4h0m7 .9l-1-.1m8.3 2.4l1.3-1.5m4.5 .3h0m7.9 .3l.6-.8m.1 1.4l-2 .3m13.6-.1l.8 2.9m82.6-2.8l1.5 1.4m-84.2-1.4l-.2 1m31.6-.9l-.4-.9m51.7 1.9l-.8 .6m-50.6 3.2h0m33 1.1l-.3-1m-8.9 5.8l-.8-1.8m9.7-.8l-1.9-.6m4.8 1.5h0m-107 6.3l-1 .1m5.3-3.4l-.7-.7m14.2 1.5h0m29.1 2l.9 .5m66.6 .1h0m1.2-.8l.2 1m-126.9 1.4l-.5 .9m59.7 .3h0m67.3 1h0m-52 3.3l-2-.2m53.5 .2l.2-1m-127 3.7h0m26.3 1.4h0m89.2-1.8l-.8 .5m-127.4 5.3l-.9 2.9m10.1-3.2l.6-.8m28.7-1.3h0m6.9 2.5l-1 2.8m8.4-3l-.3 3m44.9-4.3h0m34.2-1.3h0m15.1 3.3l-.2-1m-17.7 3.1l2.6 1.5m-84.7 4.9l-.2 1m4-4.5l2.8-1.2m-1.9 1.6h0m5.4-.3l-2.4-1.8m4.8 2.6l.8 .6m5.3-1.2h0m20.1-.3l-.5 .9m40.3 2.5l1.6-1.2m18.4 0l-1 0m13.9 .8l-1-.1" stroke="#000" stroke-width="1.3" stroke-linecap="round"/>
<path d="M273.1 550.3l-.4 .9m-3 4.7l-3-.4m3 .7l0 1m29.5 10.8l-.8 .6m2.7-1l1.8-1m5.1 58.6l.9-.5m28.8-1.8h0m2.1 2.4h0m38-.1l-1.5-2.6m1.7 2.7l-.8 .6m-83.7 1.8l-.5 .9m2-2.4l-.4 .9m4.4 2.4l-1 .3m102.4-1.3l-.5-.9m8-.1l-.3-1m-108.2 4.4l-1.9-.7m2.6 .7l-.8-.6m69.5 2.2h0m37.3-2.5l1 .2m22.2-.2l-.3 .9m8 2.3l-.8 .6m8.1-2.7l0 1m-76.1 3.4h0m10.4 .8l.6 .8m9.2-1l-.6-1.9m24.7 2.5l-2.9-.8m36.5 2.3l3 .1m-97 4.7h0m17.5-.7l-1.3 1.5m30.7-1.8l.9 .3m27.2 3l1.9-2.3m-67 3.5h0m7.3 1.2h0m2.3-1.2l.6 1.9m-24 3l.6 .8m56.3-.2l.8-.6m7 1.3l-.3 1m-95.6 4h0m5.5-.6l-1 .2m23.6-.9h0m19.3-1.9l.1 1m66.2-.1l1.8-.9m-95.6 4l1.3 1.5m-12.5 2.9l-1.8-1m24.8 3h0m42.1-2.9l-.9-.4m-32.9 5.4l-2.6-1.5m4.1 1l.1-1m65.4 2.9l-1.9 .7m-69.5 2.1l.2-1m60.1 0l-1.8 .8m12.1 1.3l1-1.7m-18.3 5.8l1-.1m-35.5 1.9h0m4.1 1.3l-2.5-1.7m58.4 2.9l-3 .1m15.5-1.3h0m-119.8 5.3h0m110.2 1.9h0m.7-.1h0m1.3 4.9l-1 2.8m37.9-1.5l-2 .4m-111 3.4l1.4 2.7m5.8-4.8l-2.7-1.4m23.2 1.7l.1-1m33.5 4l-.8-.6m-74 6.8l.5 3m6.5-1.3l-1.3 1.5m5 2.2h0m76-.7l-.4 2m8.5-1.7l1.8 1m40.4-2.3l-1.7 1m-145.9 7.9l2 2.3m22.4-3.6l.4-.9m19.5 2l-.9-.5m112.4 1h0m-154.9 1.8l1.2 2.8m106.9-.1l-.2-1m19.8-.7l-2.3 1.9m5.4-2.2l-.7-.7m2.8 .7h0m-60.9 2.8l-.8 .6m33.4 1.2l-.9-.5m-31.9 5.7h0m-8.9 4.8h0m20-2.5l-1 .1m10.9 2.4l2.6 1.4m-79.7-.4h0m13.3 2.3l-1 .3m10.8 .2h0m6.1-3.6h0m28.8 3.3l-1-.1m65.1-2l.5-.8m15.9 3.1l.8 .6m-137.6 .8l1.9 .6m-1.7 .5l-1-.3m45.8 1.6h0m11-2.1h0m50.8-.6h0m13.3 1.9h0m.4-.5l.8-.6m20.9-1.6l.9 .5m-137.3 4.1l2.8-1.1m122.4 1.7l-.5 3m-110 .1l-1-.2m9.6 2l.7 1.9m11.1-2.1l1.3 2.7m21.6-4.3l1.7 2.5m87.3-.5h0m3.8-1.6l-1.9-.5m-100.4 4.7l-1.7-1m59.1 .6l-.8 .6m9.2 2.2l.3 1m-62.7 5.2l2.5 1.7m81.5 4h0m-70.8 3h0m1.1 0l2.7-1.3m14.8 2.7l-.6-.8m28.6-1.5l-.3-1m62.2 2.2h0m-30.9 4.1l.5 .9m43.4 .5l-.7 .7m-139.6 .1h0m33.9 .6l.6 .8m-.5 1.1l0-3m-26.4 9.9l1.5-2.6m19.7 .7l1 .1m112.3 2.5h0m-172.9 4.9h0m51.9-1.8h0m2.4 1.2l-.5-.9m20.8-.1l-.9 .4m-72 3h0m22.4 1.8l-.6 .8m23.3-1.2l-.4-.9m25.7-1.4l-2.3-1.9m91.7 2l-2.4 1.8m-136.5 2.5h0m34.9 2.4l-3 .5m27-.8l.9-1.8m35.6 1.5l-.4 .9m21.6-3.8l-1.3-1.6m21 2.7l1.2 1.6m9.3 1h0m-155.2 3.6l2.1-2.2m4.4-.5l2.9 .8m24.5-1.3h0m101.5 2.7h0m18.6-2.2h0m2 2.5l-.8 .6m-152.7 4.1l-.4-2m54.6 .4l-1-.3m2.1-.2h0m19.7 1.6l-2 2.2m9.4-2.3h0m19.5-3.2h0m-73.5 4.1l.7-.7m73.1 3.1l0 2m2.6-3l.9-.3m-.8-.6l-.6 .8m12.7 2.1l-.9 .5m-120.5 1.2l1.5-1.3m61.2 4l.9-.4m66.4-.8l0-1m1.2-.4h0m8.9-.6l.9-.3m-141.1 7.5l.1 1m69.4-3.9l-1.9-.5m102.4 .8l-.4 .9m1.3-.5h0m-121.3 6.3l-.2-1m25.2-2.4h0m26.4 1.9h0m47.5-2.2h0m-117.9 4.5l-.3 1m.3-.7l-.6-.8m6.3 3h0m6.3 .2h0m22-1.5h0m8 1.4l1.9 .7m65.4-1.9l-.5 1.9m11.3-1.3h0m-122.1 2.6l2.1 2.2m44.8-1.1l.1-3m50 4.1l2.8 1.1m-31.5-.2h0m59.3 1.9l-.3 .9m-89.1 2.4l-.6-.8m12.1 1.9l-.8-.6m20.8-2.1l-.5-.9m6.2 2.3l1.1-1.7m7.3 3.9l-1.8 .9m47-4.5l-.7 .8m16.5-.5h0m-136.5 7.5h0m97.8-2l-.1 1m-77 1.5h0m51.2 6.4h0m.6-.7l2.6 1.5m68.5-1.3h0m-161.2 3.9l1.5 2.6m29.4-2.1l1.9 .5m8.3-.1l1.2 1.6m53.8-2.8h0m-48.6 4.5l1-.2m93.7 1.1l.5-.9m-127.7 4.4l-.9-1.8m53.9-.9h0m7.2 3.1l.8-.5m64.2-.7l.2-1m-104.1 6.5l-.2 2m34.8-3.3l-.4-2m34.4 1.6l-.9 1.8m14-2.8l-.5-.8m18.8 1.7h0m2.6-.2h0m.2 1h0m3.8 .6l1.2 2.8m4.1-2l1.8-.8m11.8-1.6h0m-115.4 6.4h0m110.9-2.8l.5-.9m-117.6 6.3l2.6 1.5m113.4-.8h0m-14 2l-.1 1m6.4 1.7h0m9.3-1.1l.9-.4m-136.8 2h0m8.6 3.1h0m29.4 .3h0m26.4 .2h0m47.8-4l-1.1 1.7m-105.5 6.2h0m93.5-1.8l-.2 1m28.6-.8l-1.1 1.6m-99.6 .9l-3-.5m88.1-.2l-.7-.7m11.4 2.3h0m19.2 1.8l.3 .9m.4-2.6l.3 .9m3.6 .1h0m-151.9 3.1l-.3 1m9.2 .4h0m42.8 .5l2 .4m31.9-1.7l1-1.7m45.1 0l1.6-1.2m-102.9 6.1l-1.8-2.4m8.8 1.4l-1 .1m7.4-.2h0m102.1 3.1h0m3.6-1.9l.7-.7" stroke="#000" stroke-width="1.6" stroke-linecap="round"/>
<path d="M305.1 567.9l1 .1m8.6 0l-1.8 2.4m67.2 50.6l-.6 1.9m-72.7 3l-.5-.9m31.3-2l0-3m102.3 5.5l-1.3-2.7m-142 4.7l2 .1m43.9-.8l-.1-1m8.9 1l2.9-.7m44 1.8l.6 .8m1.1 .4l-1-.2m-98.4 1.8l-.3-.9m101.3 3.7l.9 .4m-35.7 1.8l1.9-.6m-1.5 1.8l1.9-2.3m-1 1.5l-.1-1m79.4 1.3h0m-25.9 2.8l1 .1m-71.2 3h0m10 .7h0m10.3-.8l1.7-1.1m10.2 2.2l.3 1m-58.6 4.8l.7-.7m34.6-1.8l.2 1m0-1.5l2.4-1.8m40.2 3.5h0m-88.2 8.3l-.8 .6m21.7 1.1l.7 2.9m26.9-5.3h0m32.8 1.7l-.1 1m-61.5 1l-1.4-1.4m50.2 1.2h0m-58.9 4.1l-.1-3m35.6 6l2.5 1.7m12.3-3.2h0m-16.7 4.9l1.5-1.4m4.2-.6l-2.7-1.2m32 .1h0m7.9 2.8h0m-44.4 2.1l-1.8-.8m-9.6 4.2h0m59.9 1.5l.8 .6m44.3 7h0m10.8-1.3l-1-.1m-104 12.3l.8-2.9m3.1 3.9l1.9 .5m10 5.8h0m11.6 0l-2.3-1.9m36.9 .6l-.6 1.9m16.5-.7l2.3 1.9m27.7-5.2l.5 .9m-118.7 3.8h0m70.8-.3l-.3-.9m2.9 1.3h0m38.8-.6l2-2.2m25.9 4.8l.9 .3m-129.3 2.1l1 .3m9.4-1.2l-.9 .5m65.7-.7l-1-1.7m16.4 2.7l1 0m-8.1 3.7h0m27.5 4.7l-.3 3m1.5-2.1l1 0m-28.6 4.8l-1.2 1.6m-76.1 1l1.9 .6m43.8 .5l-3 0m36.1-1.4l.2 1m42.9 2.2h0m-87.6 6.2l-3 .5m3.1-3.2h0m29.6 1.8l1.3 1.5m.3 0l-2.3-1.9m34.2-.9h0m-53.2 5.7l-1.5 1.3m4-1.4l-.2 1m-19.1 3l-.6-.8m65.4-.5l.9-.3m8.9-1l-.1-1m7.3 2.9l1 0m15.3 .6l-1.9-.6m3 .8h0m-72.7 4.9h0m67.4-3.7h0m-109.9 4.4l-.3-1m23.7 4.4h0m78.6-1.9l-.5-.9m-66.9 5.7l.2-1m45.5-1.4l-1.8-.8m2.5 3.2l-.7-1.9m18.7 2.6l-.3 1m-82.8 3.3l-.4-3m26 6.5l1 .3m107.6-.3l.6-.8m-129.5 3.7h0m108.3-.7l-1.4 1.4m28.5-.1l1.2-1.6m-142.7 3.2l1.6-1.2m105.4 2.3h0m32.7-.8l2-.1m-98.6 5.1l2.3-1.9m117.3 2l1 1.8m-1 .2h0m-148.9 .3l.7-2.9m90.5 5.6l3 .5m46.3-2.5l.7-.7m-4.4 10.1h0m9.1 1l-1 .3m-49.7 4h0m62.3-2.8h0m-181.1 6.1l1-.1m12.5-1.8l-.4 2m27-1.2l-1.9-.6m32.1-.8l-2.5-1.7m42.3 9.2l.7 .7m-.1-2.1l.6-.8m29.8 1l-.5 .8m43.2-2.5l.3 1m-177.4 3.7h0m.5 1.1l.7 .7m5.3-.7l.4-.9m44.6-1.2l-3-.2m12.4 1.3l.4-3m69.2 3.2l-1.4-2.7m-85.6 6.6h0m78.2 1.5l-1 .3m-116.1 1.1h0m64.9 1.2l2.9 .7m12.7-1.7h0m18.7 .3l.9-.3m-.6 0l.2 1m15.9 1.7l-1.9-.6m-61.5 4.6l-.6 1.9m4.7-4l.6-.8m74.9 2h0m36.8 .9l.3-2m-97.4 6l-1.5 2.6m3.1-2.4l2.9 .9m20.5 2l.7 .8m-74 2.1l-.5 .8m36-1l-.5 .9m77.1-1.3h0m-121 5.7l1-.3m35.8-1.7l.7-2.9m18.7 2.9l-1.4-2.7m34.9 2.4l1 0m-11.1 4.4l.9 .4m54.5 0l2.5 1.6m-58.4 2.4l1 .2m14.2 2.3l-1.8 2.4m45.4-5.4l-.8-.6m16.1-.1l-2 0m-77 5.3l-.9 1.8m52.1 .4l.1-2m-106.8 4.1h0m124.2 2.1l.1-1m-89.9 2.1l.9 .5m36.5 6.5l-2.8-1m4.5-1.1h0m-73.8 3.4l1.2 1.6m2 .2l-2.9-.8m4-.1l-1.7 1m3.8-.5l-2-.1m9.9-.2l-.7 .7m8.7-2.5l-.3 2m2.9 .2h0m28.2 1.1l-.6-1.9m20.6-1.8h0m43.6 2.7h0m-126.5 1.5h0m43.5 2l-.9 .4m6.7-2.4h0m8.8-.2l.8 .5m80.5 7.2l1-1.7m-89.4 7.6l-3 .1m3.1-.3l-2.5-1.6m9.1 .6l-.9-.5m3.1 2.9l2.8 1.1m-.4-2.9h0m82.3 1.9h0m1.2-.4l.8-.6m-140.1 2.3l-2.3-2m16.3 2.4h0m86.9 1.6h0m8.8-1.1l1.6 1.3m-101.8 3h0m33.9 4.9l1.6-1.2m108.4 2.3l-2.8-1.2m-139.9 2.4h0m8.8 3.3h0m-19.7 2.6h0m11.5-.9l-.8 .6m1.7 0l.4-2m118.4 1.4h0m24.2-.9l-.7 .7m-117.1 2.7h0m110.9 3.6l-.9-.4" stroke="#000" stroke-width="1.9" stroke-linecap="round"/>
<path d="M301.3 568.7l3 .2m8.9 .8h0m-20.8 .4h0m46.8 54.4l.3-1m32.7 .9l-.3 1m-77.5 5.6l.6-2.9m0 4l-2.1-2.1m2.5 1.7h0m126.4 1l1.8 2.4m6.9-4.9l.1 3m-47.1 4.7l1 .1m3.9-.9l.9-.5m11 4.7h0m6.5-.2l.1 1m16.2-3.8l.3-1m-92.9 8l.9 .4m30.9-.1h0m-46.1 2h0m53.1 .9l1 0m-35.1 4.4h0m27.7 .2h0m33.8-1.6l2.9-.6m2.1 3.1l.9-.5m1.5-.8l.7-1.9m0 2.7l.2 2m.7-1.6l.7 1.9m-60.3 .3l-.4-3m2 3.8h0m12.8-1.2l.8 .5m-50.4 5.1h0m9.8-.1h0m62.3-2.5l.5 3m7.5-.6l.2 1m-71.1 1.1h0m42 2.7l.1-1m47.2 .7h0m-78.8 3.6h0m75.6 .2h0m.8 .3l-2.5 1.7m3.6-5.1h0m-82.1 7.4l-1-.1m26.8-.4l.6 .8m19.4 3.7l-1.9 .7m60.2-1l.5-1.9m5.5-1.1h0m-77.6 7.4h0m15.9-1.1h0m43.1-1.1h0m25.4-1.1l-.5-.8m16.1 4.1l-1 1.8m-119.2 .1h0m85.3-1l2.1 2.2m-67.7 8.6l-.2-3m5.4 2.7l1.5-1.3m69.2-1.5l2-.1m7.8 .4l-.7-.7m5.9 3.6l.8 .6m23.2-1.1h0m-131.1 1.4l-2.5-1.7m11.1 4.4l.6-1.9m4.3 6.2l1.2-2.8m67.1 2.8l1-.1m31.2-1l-1 0m-108.9 2.5h0m2 .8l-2.4 1.8m8.4-.4l-.7-1.9m135 2l-.5 1.9m-149.1 .5h0m1.7-.1l-.7-.7m30.7 1.3h0m72 1.1l2 .1m-.8 4.2h0m12 2.5l.3-.9m9.3-.9l-1.6 2.6m2.4-2.4h0m5.2 3.6l-1-.2m1.3-1.7l1.7 1.1m17.6-.2h0m-118.5 2.7h0m50.3 4.8l2-.4m14.2-.1l-.8-.6m-73.4 6.2l.9 .4m32.8 1.3l-.9 .4m1.8-.6h0m34 1.5h0m31.5 0l2.3-1.9m4.9 1.6l.8-.7m-117.3 3.2l-1-.1m103.9 3.2l.9 .4m33.9-3.7h0m-127.3 4.8h0m34.9 .4l-.4 .9m61.5-1.3l-.1 1m3.5-1.5h0m-52.1 5.7l1 .1m2.2-1.7l.1 1m-2.3 2.5l-3-.1m67 .9l-.9-.4m-84.1 5.8l1 .1m.6-.1l-.8 1.8m4.1-3l-.3-.9m.5 1.4l-.7-.7m3.6 .1l-3-.3m58.9 .6l-1.3 2.7m25.5-1.5h0m35.2-2.6l-1 1.7m11 1.8l.2-1m-133.5 3l-1 0m-3.2 5.6l2.4 1.9m43.9-4.2l-.5 .8m59 1.5l-2.5-1.7m13.1-.4h0m.6 1.9l.4 .9m1-2l-.2-1m-33.4 6.6h0m32.1 3.4l-.6-1.9m23-.8h0m-92.3 6.1l-3-.5m71.8-1.5h0m27.5 .1h0m20.4-.6h0m-115.2 4.1l1-.1m99.8 .2l.9 .4m-99.3 3.5l-.2 2m113.9 1.3l2.3 1.9m-132.4-1.3h0m8 3.5l-1.9-.6m-52.6 5.1l.5 3m-.4-3.7l1 .1m39.1-3.3l-.6-.8m79.8 2.8l-1.2-2.7m1.8 2.1h0m2.6 .6h0m38.2 1.7l1.7 2.5m23.5-6l-1.7-1m-162.4 8.5l.3 .9m3.1-.9h0m-3.4 2.4l-.9-.4m28.6 1.3h0m14.9-1.1h0m22.1 1.5l1.9 .6m27.6-2.2l-1.9 .6m74.1-.8l.1 1m-152.9 2.1h0m15.6 .7l.8-.6m21.9 2.4l1 0m18-1.1h0m25 1.4l-.2 1m-17.1 2.1l1.9-.5m-5.2 4.5l-.1-1m-11.2 4l.6 1.9m99.4 .1l-.7 .7m-139.7 2.3h0m16.3 5l-1 .2m56-2.2h0m49.6 0h0m-82.7 3.4h0m77.6 2.2l-1.6 2.5m15-2.3l-2.9 .6m-140.4 2.1h0m10.1-.4l.2-1m4.7 1.2l-.8 .5m79.6-.9l.1-1m13.5 2.4l-.2 1m-87.2 3h0m6.7 3.8l.3 2m.3-3.4l1.7-1.1m74.6 2l.8 .6m35.2-2.8h0m-102.8 10.8h0m.1 .2h0m.5-1.9l.3-2m66.8 2.7l-1.6-2.6m28.3 2.3l-.5-.9m14.4-.7l-.3 .9m-111.2 5.3h0m48.9 1.4l-1 .1m-57.7 1.2l-.9-.4m30.8 2.1h0m.7-1l1.9 .8m40-2.1l.5-1.9m-19.9 6.6l-2-.4m39.2 3l-2.7-1.3m41.4 0h0m-89.8 1.8h0m50 2.1h0m49.8 .8l-.5-.8m-155.1 4.6l-1.2-2.7m101.2 2.8l.7 .7m31.6-2.6l.3-.9m.3 .6h0m-105.9 3.5l-.1 1m102.4 1.2l-.2-1m-125.4 2.8h0m30.6 1.4l.8-1.8m22.7 1.5l-1.9-.6m5.9 2.8l-1.6-1.2m21.4-.3l-2.5-1.6m68.8 1l-.4 .9m-144.3 4.6h0m1-1.1h0m122.2-.2l-1.3 2.7m-110.9 1.4l-2.6 1.5m57-.5l-1 0m40.8-2.2l-1 .2m-81.4 4.8l-2.4 1.8m111.1-2.6h0m26.2 3.1l.4 .9m-86.8 .1l-2.9 .7m60.4 1.9h0m8.5-1l-1.8 .9m2.2-.8h0m22.1 .1h0m-143.4 5.1l2 .1m11.3-3l-2.6-1.6m22.5 3.2h0m1.4 .6l.2 2m82.9-2.8l-2-.3m-102.3 5.1h0m5.9-1h0m30.6-1.2l.5-.9m25.2 .2h0m51.5 3.2l.4 2m.7-2.8l-.4 .9m11.2-3l.3 3" stroke="#000" stroke-width="2.2" stroke-linecap="round"/>
<path d="M290.6 567.4l-1 .2m20 25.6h0m-15.8 27.8h0m88.1 .3l-.4 2m59.6 2.3h0m-36.7 2.8l-.5-.9m-44 8.7l-.4-.9m7.6 0h0m15.1 2.2h0m-52.1 .7l-.3 1m18.4 4.2l.8-1.8m21.8 3.1h0m46.5 1.3h0m-101.9 2l-.6 .8m52.2 .9l-.2 3m12.7-4.7l1-.1m21.9-1.7h0m-77.7 4.9l.9-.4m36.9 3l-1.4 2.6m-42.6-.8h0m1.1-.4h0m16.3 .4l.8 2.9m.8-2.4h0m91.4 .4l-.8-.6m-115.6 7.2l-1-.3m22.9-.5h0m24.3 1.4l-3-.3m27.9 5.8h0m10-2.2l.1-1m-51.3 5.2l1 .1m17.7 2.4l-1.3 2.7m39.6-5.2l-.9-.5m14.3 .1l-1 0m3-.3h0m-24.6 4.1l-.8-2.9m36.3 3.8l.8 .6m9.8-.4h0m1.4 .8h0m-65.5 3h0m1.4 .6h0m.1 .5l.7-.7m7.8-1.3l-1.8 .9m-56.6 5.4l1 2.8m18.8-2.6l-.5-1.9m33-.6h0m46.7-.2h0m-81.7 4.3l-.8-2.9m17.3 9h0m1.8 0h0m1.8 1.2h0m38.3-1.9h0m5.1 1.8l-1 1.7m34.4-4.2l.7-.7m32.5 3.3l-.1 2m-131-1.1h0m16.6-.4l.4-.9m66.6 3.5l-.4 3m15.2-5.6l1 .1m34.2 .3l-.9-.4m-90.2 5.5l1 1.7m34-.1l-.9 .3m-77 3.9h0m7-3.2l-.7-2.9m1.2 2.7l.3 1m6.2 2.6h0m131.9-2.4l.5-3m-135.7 8.5l-1.6-2.6m36.4 2.8l-2 .3m65.2-2.9l-2 .3m38.1 1h0m-144.1 2.7l-1.5 2.6m144.4-2l.7-.7m-133.8 4.6l-.4 .9m9.3-.8l-.9 .3m131.9 2.1h0m-24.9 2.4l-2-.3m2.2-.7l-1.4-2.7m-125.2 6.5h0m7.2 .3l-2.3-1.9m67.6 3.5l-.4-.9m.8-.2l-1 0m45.1 2.4h0m1.8-1.4h0m1.7-1h0m-2 2.9l-1.1 1.7m31.8-1.1h0m-54.7 6l.4 .9m26.2-3.7l1 .1m.3-.3l1 2.8m-.5-1.3l.9-.4m9.6 2.2h0m2.7-1.3l0-1m10.4 1.6l.7-.7m-112.3 5l.4-.9m95 1.6l-.8-.6m6.4 .2l-2.9-.6m23.4 1.9h0m-79.6 6.6h0m76-1.1l1.5 2.6m-1.2-4.3l1.9 2.3m-99.7 2.7l2-.3m26.5 2.5h0m21.5-1.9l.7-.7m23.1 2.7l-1.8 2.4m-68.4-.2h0m1.9-1h0m11.6 1.4l.9-.5m69.6 .1l1-.2m-69.4 7.6h0m112.4 1l-.2 1m1.8-1.2l1.9-.7m7.6 2.1h0m-141.7 1l1-1.7m1.8 2.3l1.2 2.7m104.2 0h0m29.2-1.1h0m-36.3 1.4l.7-.7m1.9 2.8l.9-.5m-104 4.8l-.9 .5m48.9-1.7l.1-2m53.8 6.1l2.1 2.1m53.7 4.1h0m3.8-1.6l-3-.2m-89.4 6.2l-2 .2m79.7-4.1h0m-112.9 4.4l-3 .2m22.3 3.1l-2.2-2m115.7-.6h0m-180.6 4.9l-1.8 .8m71.5-2.1l-1 0m62.9 .8h0m21.3-.8l2.1 2.1m-12.8 3.2l-.2 1m20.9-.1l-.6 .8m-140 2.1h0m18.7-.6l-1-2.8m44.6 3.6l-.6-.8m27.6-1.2l-1-1.7m1.4 4.3l-.4-3m25.1 1.4h0m-108.8 6.3l.9 .4m.5-.3h0m13.8-.5l-2 2.2m2.8-3.8l-.1-1m4.6 2.2l1.3-2.7m18.8 4.6l-.6-.8m60.6 3.4l1.3-2.7m-111.9 4.9l.9 .4m56.4 2h0m-12.8 1.9l-1 .3m76.2 1.5l2.5-1.7m35.6 1.1l.3-2m.3 2.5h0m-49.6 2.3l-.7 1.9m-100 2.5l.7 .7m42-.3l0-1m-43.5 3.9h0m39.6 1.1l.9 .4m14.5-.9l-2.6-1.5m103.1 .6h0m-20.2 4.2l.9 .5m-88.9 3.9l-2.2-2.1m109 1.7h0m.8-.9h0m-39.3 4.8h0m15.3 2.7h0m-99.9 3.4l-1.6 1.2m5.6-2.6l.4-.9m1 1.9l.8-.6m1 .4l.8 .6m-4.2 1.2l-.9 .5m1.8-.5l-.4-.9m.7 .8h0m6.3 3.6l1.5 2.6m20.4-3.4l1.9-.7m12.8-.6l1.7-2.5m-82.1 5.3h0m2.4 2h0m74.4-2.3l1 .2m6.5 1.6h0m9.8 1.2l2.8 1m7.1-2.3l1 .1m32.1 .4l.1 1m-112.3 3.2l3-.1m-2.3 0h0m31.4 0l-1.6-1.2m87.5 .7l.1 3m.6-3.9h0m-58.6 4.3l-3 .3m60.6 .1h0m15.2 .9l-3 .1m3.3-.4l-1.7 1.1m1.8-2.3h0m-121.1 5l0-3m103.8 3.9l-.9 .4m-129.9 3.9l-.6-.8m40.1 .5l2 .4m17.7-2.5l.5 .9m75.2 1.7l.9-.5m3.9-2.5l.3 3m-90 2.3h0m13.6-.1l.8-.6m72.1 2.3l-1.6 2.5m-114.2-1.9l1.8-.8m8.3 2.5h0m6.3 1.3l-1.5-1.3m80.3-1.1l1 1.7m9.1-.1h0m37.7 1l-1.7-2.4m-14.2 6.1h0m2.7 .4l0 1m-37.7 1.7l2 0m8.8 .4h0m19.6-1l1-.1m.8-.2h0m-71.1 3.6l1.1 1.7m-68.5 5.5h0m22.1 1.9l.7-1.9m3.9 1.1l1.6 1.1m22.4-.6h0m18 .2h0m38.3 2l-.8-.6" stroke="#000" stroke-width="2.6" stroke-linecap="round"/>
<path d="M331.2 537.9h0m.8 1.1l1.4 0m2.7 62.9h0m.9 .1l.6 .2m162.4 89.8l.7-1m.4 1.6h0" stroke="#000" stroke-width="3.0" stroke-linecap="round"/>
</g>
<clipPath id="cp3"><rect x="703" y="487" width="413" height="413"/></clipPath>
<g clip-path="url(#cp3)">
<mask id="mk3" maskUnits="userSpaceOnUse" x="700" y="484" width="419" height="419"><g filter="url(#bl)"><rect x="702.0" y="486.0" width="53.6" height="53.6" fill="#fff" fill-opacity="0.18"/><rect x="753.6" y="486.0" width="53.6" height="53.6" fill="#fff" fill-opacity="0.18"/><rect x="805.2" y="486.0" width="53.6" height="53.6" fill="#fff" fill-opacity="0.18"/><rect x="856.9" y="486.0" width="53.6" height="53.6" fill="#fff" fill-opacity="0.18"/><rect x="908.5" y="486.0" width="53.6" height="53.6" fill="#fff" fill-opacity="0.20"/><rect x="960.1" y="486.0" width="53.6" height="53.6" fill="#fff" fill-opacity="0.20"/><rect x="1011.8" y="486.0" width="53.6" height="53.6" fill="#fff" fill-opacity="0.20"/><rect x="1063.4" y="486.0" width="53.6" height="53.6" fill="#fff" fill-opacity="0.18"/><rect x="702.0" y="537.6" width="53.6" height="53.6" fill="#fff" fill-opacity="0.18"/><rect x="753.6" y="537.6" width="53.6" height="53.6" fill="#fff" fill-opacity="0.18"/><rect x="805.2" y="537.6" width="53.6" height="53.6" fill="#fff" fill-opacity="0.15"/><rect x="856.9" y="537.6" width="53.6" height="53.6" fill="#fff" fill-opacity="0.12"/><rect x="908.5" y="537.6" width="53.6" height="53.6" fill="#fff" fill-opacity="0.18"/><rect x="960.1" y="537.6" width="53.6" height="53.6" fill="#fff" fill-opacity="0.20"/><rect x="1011.8" y="537.6" width="53.6" height="53.6" fill="#fff" fill-opacity="0.20"/><rect x="1063.4" y="537.6" width="53.6" height="53.6" fill="#fff" fill-opacity="0.18"/><rect x="702.0" y="589.2" width="53.6" height="53.6" fill="#fff" fill-opacity="0.18"/><rect x="753.6" y="589.2" width="53.6" height="53.6" fill="#fff" fill-opacity="0.18"/><rect x="805.2" y="589.2" width="53.6" height="53.6" fill="#fff" fill-opacity="0.15"/><rect x="856.9" y="589.2" width="53.6" height="53.6" fill="#fff" fill-opacity="0.12"/><rect x="908.5" y="589.2" width="53.6" height="53.6" fill="#fff" fill-opacity="0.15"/><rect x="960.1" y="589.2" width="53.6" height="53.6" fill="#fff" fill-opacity="0.18"/><rect x="1011.8" y="589.2" width="53.6" height="53.6" fill="#fff" fill-opacity="0.18"/><rect x="1063.4" y="589.2" width="53.6" height="53.6" fill="#fff" fill-opacity="0.15"/><rect x="702.0" y="640.9" width="53.6" height="53.6" fill="#fff" fill-opacity="0.18"/><rect x="753.6" y="640.9" width="53.6" height="53.6" fill="#fff" fill-opacity="0.18"/><rect x="805.2" y="640.9" width="53.6" height="53.6" fill="#fff" fill-opacity="0.18"/><rect x="856.9" y="640.9" width="53.6" height="53.6" fill="#fff" fill-opacity="0.15"/><rect x="908.5" y="640.9" width="53.6" height="53.6" fill="#fff" fill-opacity="0.15"/><rect x="960.1" y="640.9" width="53.6" height="53.6" fill="#fff" fill-opacity="0.15"/><rect x="1011.8" y="640.9" width="53.6" height="53.6" fill="#fff" fill-opacity="0.12"/><rect x="1063.4" y="640.9" width="53.6" height="53.6" fill="#fff" fill-opacity="0.12"/><rect x="702.0" y="692.5" width="53.6" height="53.6" fill="#fff" fill-opacity="0.12"/><rect x="753.6" y="692.5" width="53.6" height="53.6" fill="#fff" fill-opacity="0.10"/><rect x="805.2" y="692.5" width="53.6" height="53.6" fill="#fff" fill-opacity="0.10"/><rect x="856.9" y="692.5" width="53.6" height="53.6" fill="#fff" fill-opacity="0.10"/><rect x="908.5" y="692.5" width="53.6" height="53.6" fill="#fff" fill-opacity="0.10"/><rect x="960.1" y="692.5" width="53.6" height="53.6" fill="#fff" fill-opacity="0.10"/><rect x="1011.8" y="692.5" width="53.6" height="53.6" fill="#fff" fill-opacity="0.10"/><rect x="1063.4" y="692.5" width="53.6" height="53.6" fill="#fff" fill-opacity="0.10"/><rect x="702.0" y="744.1" width="53.6" height="53.6" fill="#fff" fill-opacity="0.14"/><rect x="753.6" y="744.1" width="53.6" height="53.6" fill="#fff" fill-opacity="0.14"/><rect x="805.2" y="744.1" width="53.6" height="53.6" fill="#fff" fill-opacity="0.16"/><rect x="856.9" y="744.1" width="53.6" height="53.6" fill="#fff" fill-opacity="0.18"/><rect x="908.5" y="744.1" width="53.6" height="53.6" fill="#fff" fill-opacity="0.18"/><rect x="960.1" y="744.1" width="53.6" height="53.6" fill="#fff" fill-opacity="0.20"/><rect x="1011.8" y="744.1" width="53.6" height="53.6" fill="#fff" fill-opacity="0.22"/><rect x="1063.4" y="744.1" width="53.6" height="53.6" fill="#fff" fill-opacity="0.25"/><rect x="702.0" y="795.8" width="53.6" height="53.6" fill="#fff" fill-opacity="0.25"/><rect x="753.6" y="795.8" width="53.6" height="53.6" fill="#fff" fill-opacity="0.25"/><rect x="805.2" y="795.8" width="53.6" height="53.6" fill="#fff" fill-opacity="0.28"/><rect x="856.9" y="795.8" width="53.6" height="53.6" fill="#fff" fill-opacity="0.30"/><rect x="908.5" y="795.8" width="53.6" height="53.6" fill="#fff" fill-opacity="0.32"/><rect x="960.1" y="795.8" width="53.6" height="53.6" fill="#fff" fill-opacity="0.35"/><rect x="1011.8" y="795.8" width="53.6" height="53.6" fill="#fff" fill-opacity="0.38"/><rect x="1063.4" y="795.8" width="53.6" height="53.6" fill="#fff" fill-opacity="0.40"/><rect x="702.0" y="847.4" width="53.6" height="53.6" fill="#fff" fill-opacity="0.30"/><rect x="753.6" y="847.4" width="53.6" height="53.6" fill="#fff" fill-opacity="0.32"/><rect x="805.2" y="847.4" width="53.6" height="53.6" fill="#fff" fill-opacity="0.35"/><rect x="856.9" y="847.4" width="53.6" height="53.6" fill="#fff" fill-opacity="0.40"/><rect x="908.5" y="847.4" width="53.6" height="53.6" fill="#fff" fill-opacity="0.42"/><rect x="960.1" y="847.4" width="53.6" height="53.6" fill="#fff" fill-opacity="0.45"/><rect x="1011.8" y="847.4" width="53.6" height="53.6" fill="#fff" fill-opacity="0.45"/><rect x="1063.4" y="847.4" width="53.6" height="53.6" fill="#fff" fill-opacity="0.45"/></g></mask><rect x="703" y="487" width="413" height="413" fill="url(#sp)" mask="url(#mk3)"/>
<path d="M893.5 496.5h0m-107 4h0m102-2h0m8 3h0m69 2h0m26 2h0m-135 3h0m-128 5h0m7-2h0m21 1h0m11 1h0m6-3h0m6 2h0m69-1h0m-122 6h0m5-2h0m2 2h0m8-1h0m3-1h0m2 0h0m33 1h0m7-1h0m35 2h0m0-1h0m3 0h0m-106 3h0m2 0h0m12 0h0m15 2h0m32 0h0m2-3h0m0 0h0m11 3h0m3-2h0m1 2h0m0-1h0m10-2h0m0 2h0m0 1h0m3-3h0m16 3h0m7-1h0m12-2h0m37 2h0m-166 4h0m16-1h0m10 0h0m3 2h0m30-1h0m3-2h0m1 3h0m5-1h0m15-2h0m27 1h0m1 1h0m-117 3h0m11 0h0m23 1h0m3 1h0m26-2h0m9-1h0m10 0h0m12 2h0m1-2h0m7 3h0m0-3h0m0 3h0m15 0h0m8 0h0m0-3h0m-116 5h0m12-1h0m5 1h0m9 1h0m6 0h0m27 1h0m4-3h0m15 0h0m33 3h0m-116 1h0m4 3h0m9-2h0m21 1h0m4-2h0m0 0h0m1 2h0m1-1h0m1 0h0m2 2h0m2-1h0m1-1h0m11 0h0m7 2h0m0-1h0m2 1h0m4-2h0m31 0h0m-85 5h0m19-1h0m10 2h0m4-2h0m8 0h0m5 0h0m1 0h0m2 1h0m0 1h0m0-3h0m5 0h0m8 1h0m6-1h0m13 1h0m16 0h0m-121 5h0m2 0h0m21 1h0m2-3h0m28 0h0m3 3h0m26-2h0m2 1h0m4 1h0m3-3h0m27 0h0m1 2h0m36-2h0m3 2h0m-140 3h0m6 1h0m3 1h0m11-2h0m15-1h0m4 3h0m2-3h0m9 3h0m2 0h0m4-3h0m1 1h0m6 0h0m2 0h0m4 0h0m0-1h0m3 1h0m67 2h0m1 0h0m121-3h0m-272 6h0m2-1h0m16-1h0m1 1h0m23-1h0m31 3h0m13-1h0m10-1h0m60 1h0m135-2h0m56 1h0m-354 4h0m30 0h0m1 0h0m1 2h0m16-1h0m4 1h0m16-1h0m12-2h0m5 3h0m2-1h0m263 0h0m-348 3h0m2 0h0m34 2h0m9-2h0m2-1h0m3 0h0m9 1h0m2-1h0m0 0h0m38 3h0m249-3h0m-318 5h0m27 2h0m17-2h0m5 1h0m5-1h0m16 0h0m11 0h0m3-1h0m0 1h0m4 1h0m6-2h0m4 3h0m5-1h0m1-2h0m5 0h0m205 3h0m5-2h0m9 0h0m1 2h0m-358 1h0m14 1h0m21 2h0m2-2h0m0 1h0m20 0h0m14-1h0m15 2h0m4-2h0m17 2h0m2-3h0m14 2h0m31 0h0m20 0h0m104-1h0m-271 5h0m7-2h0m6 0h0m12 2h0m2-2h0m8 2h0m7 0h0m1-1h0m16 1h0m4-1h0m4 0h0m2 2h0m4-3h0m24 2h0m3 1h0m14-2h0m3-1h0m0 0h0m17 0h0m140 0h0m-285 7h0m22 0h0m2-1h0m9-2h0m13 2h0m25 0h0m1 0h0m14-1h0m4 2h0m35-2h0m162 1h0m2 0h0m-290 5h0m8-3h0m3 2h0m2-1h0m6 0h0m5 2h0m24-1h0m8 1h0m7-1h0m7 1h0m1-2h0m0-1h0m5 0h0m46 3h0m2 0h0m30-1h0m4 0h0m39-2h0m-184 4h0m8 3h0m22-2h0m0-1h0m4 3h0m21-3h0m26 1h0m21-1h0m8 0h0m34 1h0m40 0h0m174 0h0m-350 6h0m3-3h0m4 2h0m1-2h0m38 2h0m31 1h0m26 0h0m1-3h0m8 1h0m49 1h0m0 0h0m-130 4h0m2-2h0m24 2h0m2 1h0m5-2h0m13 1h0m29 0h0m2 1h0m28 0h0m4 0h0m14 0h0m2-1h0m4-2h0m4 0h0m-174 5h0m4-1h0m1 3h0m15 0h0m5 0h0m3-1h0m18-1h0m2 0h0m2 1h0m3 0h0m2 0h0m19 0h0m5 0h0m1-2h0m1 2h0m4-2h0m6 1h0m0 2h0m5-2h0m7 0h0m1 2h0m0-1h0m7-2h0m2 1h0m2 0h0m14 1h0m0 0h0m0-2h0m1 1h0m10 0h0m10-1h0m7 0h0m16 2h0m0 1h0m3-2h0m1 1h0m31 1h0m-213 3h0m11 0h0m9 0h0m3-1h0m6 1h0m4-2h0m14 2h0m2 0h0m1-2h0m6 2h0m5-2h0m11 3h0m6-3h0m2 1h0m2 0h0m6 0h0m1-1h0m1 2h0m1-2h0m4 3h0m12-2h0m6 2h0m9-1h0m8 1h0m19-2h0m11 0h0m49 0h0m-173 5h0m9 0h0m1-1h0m25 2h0m2-1h0m3-2h0m8 1h0m1 1h0m5-2h0m1 3h0m1-1h0m2-2h0m0 1h0m3-1h0m1 3h0m7 0h0m1-2h0m14-1h0m3 3h0m8 0h0m2 0h0m15 0h0m24-3h0m10 2h0m220 0h0m-393 4h0m3-1h0m2 1h0m4-2h0m0 1h0m23-1h0m9 2h0m3-1h0m14 0h0m5 1h0m15 0h0m8 1h0m10-1h0m0 0h0m5-1h0m1 0h0m15 2h0m4-2h0m7-1h0m24 2h0m2-2h0m4 1h0m7 0h0m54 2h0m3-2h0m2 2h0m44-1h0m45 0h0m42 1h0m4-1h0m36-1h0m-400 3h0m12 0h0m4 1h0m1-1h0m4 1h0m8 2h0m0-3h0m6 3h0m0-2h0m22 1h0m7-1h0m1 0h0m6 2h0m2 0h0m2-2h0m7-1h0m3 3h0m2-3h0m5 0h0m22 1h0m7-1h0m0 1h0m0 0h0m1-1h0m2 0h0m21 1h0m18-1h0m8 1h0m1-1h0m124 1h0m17 0h0m6-1h0m7 3h0m7-2h0m4 2h0m7-1h0m15 0h0m41-1h0m0-1h0m-407 6h0m4-2h0m4 1h0m21-1h0m0 1h0m5 2h0m10-2h0m3-1h0m6 0h0m3 3h0m6-2h0m0 0h0m13 0h0m7 0h0m2 1h0m2-2h0m15 3h0m38-2h0m82 0h0m8 1h0m8-1h0m13 1h0m3-1h0m1 0h0m19 1h0m26 0h0m33 1h0m2-2h0m65 2h0m-392 1h0m1 2h0m22-1h0m21-1h0m4 1h0m10 2h0m2 0h0m2 0h0m74-3h0m3 3h0m0-2h0m22 2h0m1-1h0m53-1h0m6 0h0m47 2h0m24-3h0m15 0h0m2 3h0m17-3h0m55 0h0m-346 4h0m0 0h0m13 2h0m1-2h0m8 3h0m21-1h0m6-1h0m2 1h0m34-2h0m5 3h0m16-2h0m50-1h0m3 1h0m3 2h0m18 0h0m5-2h0m3 1h0m22 1h0m4-2h0m11 0h0m1 2h0m8-1h0m25-1h0m2 2h0m1-1h0m8 0h0m16 1h0m37-1h0m15 1h0m6-2h0m-372 4h0m5-1h0m7 3h0m16-3h0m11 2h0m3 1h0m0-2h0m1 0h0m1 0h0m6-1h0m2 3h0m16 0h0m2 0h0m22 0h0m14 0h0m6-2h0m1 0h0m17 1h0m25-1h0m45-1h0m4 3h0m6-3h0m14 0h0m1 0h0m8 1h0m5 1h0m22 1h0m1-1h0m12 1h0m13 0h0m3-2h0m28 1h0m26 0h0m31-2h0m14 2h0m-380 3h0m1 1h0m2-1h0m2 0h0m9-1h0m7 3h0m7-1h0m11-1h0m0 2h0m3 0h0m19-2h0m3 2h0m11 0h0m1-3h0m1 1h0m14 1h0m5 1h0m7-2h0m4 1h0m36-2h0m0 3h0m33 0h0m20-1h0m2 0h0m1 0h0m14 1h0m4-1h0m10 0h0m15-1h0m18-1h0m2 3h0m43-3h0m9 1h0m7-1h0m3 2h0m0 1h0m15 0h0m8-2h0m11-1h0m26 3h0m-385 1h0m7 2h0m8 1h0m15 0h0m7 0h0m1 0h0m3 0h0m0-1h0m17-2h0m53 2h0m2 1h0m4 0h0m3-2h0m24-1h0m1 3h0m1-2h0m5 2h0m25-2h0m3 0h0m13-1h0m4 1h0m12 0h0m105 0h0m4 1h0m7 1h0m13-3h0m2 0h0m7 0h0m17 3h0m12 0h0m4-1h0m6-1h0m-396 4h0m1-1h0m8 0h0m1 0h0m3 3h0m1 0h0m27-3h0m1 2h0m8-1h0m1 2h0m1-3h0m8 3h0m0-3h0m10 1h0m34 2h0m7-2h0m4 0h0m3 2h0m9-2h0m11 1h0m0-2h0m7 2h0m46-2h0m23 1h0m26 2h0m11 0h0m9 0h0m14-3h0m33 0h0m11 2h0m2-2h0m4 2h0m4-1h0m3 1h0m15 0h0m19 0h0m5-2h0m5 1h0m-379 6h0m6-3h0m21 3h0m25-3h0m4 2h0m4-1h0m1-1h0m11 2h0m9-1h0m26 1h0m2 0h0m6-1h0m0-1h0m2 1h0m3 1h0m16-2h0m2 1h0m20 1h0m12-1h0m6 0h0m3-1h0m14 0h0m23 1h0m40 1h0m11 0h0m24 0h0m28 1h0m2-1h0m0 0h0m0-2h0m1 3h0m1 0h0m3 0h0m21-3h0m11 1h0m14 1h0m3-1h0m25 1h0m1-1h0m-406 4h0m55 2h0m23-3h0m11 3h0m25 0h0m5-2h0m34 0h0m51-1h0m6 2h0m13-2h0m38 0h0m7 1h0m11-1h0m3 0h0m14 1h0m49-1h0m22 2h0m26-1h0m-390 3h0m2 2h0m0 0h0m16-1h0m1 1h0m4 1h0m9-2h0m7-1h0m6 1h0m10 1h0m21-1h0m19 0h0m5 1h0m13-2h0m4 1h0m11 2h0m2-2h0m0-1h0m54 0h0m22 2h0m5-2h0m1 2h0m3-1h0m5-1h0m17 0h0m42 3h0m11 0h0m34-3h0m13 3h0m27-3h0m2 1h0m3 1h0m-353 4h0m1 0h0m2-1h0m0 1h0m9 1h0m3-1h0m4 0h0m0 1h0m5-3h0m1 1h0m3-1h0m0 1h0m0 0h0m3 2h0m6-3h0m26 1h0m4 2h0m6-1h0m5-1h0m2 2h0m2-3h0m1 2h0m1 1h0m5-1h0m9-2h0m0 3h0m11-1h0m1 0h0m2-1h0m32 0h0m42-1h0m2 3h0m9-3h0m31 0h0m20 1h0m26 0h0m71 2h0m25-3h0m1 1h0m-380 4h0m2 0h0m10-1h0m7 1h0m0-1h0m5 2h0m2-1h0m8 2h0m29-3h0m3 0h0m15 1h0m1 1h0m0-1h0m32 2h0m2-1h0m0 0h0m2-1h0m3 2h0m1 0h0m18-2h0m8 2h0m2-2h0m3-1h0m3 1h0m2-1h0m53 3h0m5-1h0m15-1h0m13 1h0m12-1h0m7-1h0m31 2h0m4 0h0m9 1h0m35-3h0m10 2h0m33-2h0m3 0h0m-390 4h0m12 3h0m3 0h0m3-2h0m31 1h0m18 1h0m59-3h0m17 1h0m3 1h0m13-2h0m10 3h0m6-1h0m31 0h0m3 1h0m6 0h0m5 0h0m23-2h0m12 0h0m16 1h0m11 1h0m36-3h0m7 0h0m34 1h0m14 2h0m4 0h0m4 0h0m15-3h0m0 3h0m-376 1h0m17 3h0m2-3h0m16 3h0m3 0h0m3 0h0m7-3h0m18 0h0m10 2h0m15-2h0m7 1h0m13 1h0m5 0h0m7-1h0m8-1h0m22 0h0m17 1h0m140 2h0m12-2h0m25 2h0m12-1h0m1-1h0m2 2h0m10-1h0m3-1h0m-405 6h0m5-1h0m10 0h0m41 0h0m0 0h0m3 1h0m4 0h0m4-3h0m25 3h0m16 0h0m14 0h0m24-1h0m3 1h0m69 0h0m45-2h0m5-1h0m15 2h0m24-1h0m2-1h0m1 2h0m8-2h0m29 0h0m26 1h0m29-1h0m7 3h0m-408 3h0m2 0h0m0 0h0m20 0h0m3-2h0m1 0h0m31 3h0m11-2h0m0 1h0m4 1h0m22-2h0m4 0h0m2-1h0m0 3h0m42-3h0m8 0h0m3 2h0m13 1h0m4-2h0m8-1h0m37 3h0m41 0h0m4-1h0m8-1h0m1 2h0m7-1h0m9-1h0m29 1h0m17-1h0m5 2h0m34-1h0m17-2h0m1 2h0m6 0h0m13-2h0m-383 6h0m4 0h0m5 1h0m11 0h0m2-1h0m8 1h0m19 0h0m2-1h0m4-1h0m2 0h0m0 2h0m11-1h0m15 1h0m9-3h0m0 0h0m10 3h0m4-2h0m7 0h0m31-1h0m1 2h0m6-1h0m4 2h0m0-1h0m1-1h0m21 1h0m2-1h0m16 0h0m24 0h0m10 1h0m24-1h0m4 2h0m13-3h0m20 0h0m4 1h0m14 1h0m14-1h0m18 2h0m4-3h0m15 0h0m1 1h0m6 1h0m4 1h0m4-1h0m-395 4h0m4-2h0m5 0h0m3 3h0m15-2h0m0 1h0m1 0h0m2 1h0m10-3h0m6 1h0m0 1h0m2-2h0m2 0h0m13 1h0m3-1h0m13 3h0m7-3h0m13 0h0m5 1h0m4-1h0m12 3h0m14-1h0m2 0h0m13-1h0m3 1h0m4 1h0m3 0h0m14-3h0m27 0h0m34 2h0m9 0h0m3 1h0m7 0h0m15-3h0m62 2h0m17 1h0m3 0h0m10-3h0m4 0h0m1 0h0m12 2h0m4 0h0m3-2h0m17 3h0m-401 2h0m13-1h0m7 2h0m0 0h0m6 0h0m27-1h0m2 2h0m40 0h0m18-2h0m3 1h0m3-2h0m3 1h0m4 2h0m4 0h0m2-1h0m3 0h0m14-1h0m3 1h0m2-2h0m1 3h0m39-2h0m0 2h0m12 0h0m28-3h0m2 0h0m4 0h0m22 3h0m2-1h0m1-2h0m5 0h0m3 0h0m1 3h0m28-2h0m10-1h0m11 0h0m0 1h0m1 2h0m18 0h0m2-3h0m14 3h0m3-3h0m17 1h0m1 1h0m22 1h0m2-2h0m-405 5h0m3 1h0m3 0h0m11-3h0m9 3h0m1-3h0m0 0h0m5 0h0m7 0h0m0 1h0m13 2h0m3-2h0m30 0h0m21 0h0m4 1h0m4-1h0m18 0h0m20 1h0m34-1h0m3 1h0m12 0h0m5-2h0m2 1h0m0 0h0m13-1h0m1 2h0m15-2h0m22 2h0m4 0h0m1-1h0m2-1h0m6 1h0m1-1h0m44 3h0m0 0h0m12 0h0m0-3h0m7 0h0m5 0h0m27 3h0m2-1h0m23 1h0m-381 3h0m3-2h0m2 3h0m2-3h0m6 1h0m9 2h0m18-3h0m2 3h0m5-1h0m14 0h0m0 0h0m2-1h0m0 1h0m2 0h0m8-1h0m26 0h0m6 2h0m26-2h0m53 2h0m12 0h0m58-2h0m4-1h0m11 1h0m40 1h0m8 1h0m8-1h0m34 0h0m7-1h0m5 2h0m2 0h0m18 0h0m2-2h0m3 1h0m-406 5h0m14 0h0m1 0h0m2-1h0m0 0h0m1-2h0m5 2h0m1-1h0m6 1h0m7 1h0m6 0h0m12-3h0m26 0h0m9 3h0m5 0h0m11-2h0m21 1h0m1 1h0m49-2h0m4 2h0m6-3h0m13 0h0m64 1h0m17 0h0m42 1h0m3-2h0m3 0h0m0 2h0m39-1h0m8 1h0m2-1h0m14 1h0m8-1h0m-390 4h0m5 0h0m3 0h0m18 1h0m5-1h0m7 0h0m3 1h0m1 1h0m14-2h0m1-1h0m5 0h0m2 1h0m5-1h0m6 2h0m1-2h0m3 1h0m3-1h0m1 2h0m8-2h0m4 3h0m0-2h0m13 0h0m11 1h0m34-2h0m3 0h0m2 0h0m2 0h0m0 0h0m1 1h0m8 0h0m8-1h0m3 1h0m10 1h0m4-1h0m17 1h0m51 1h0m6-3h0m2 0h0m3 0h0m37 0h0m1 1h0m56 1h0m2-1h0m25 0h0m-346 3h0m1 1h0m11-1h0m6 3h0m12-3h0m14 0h0m26 2h0m14-2h0m1 1h0m22 2h0m4 0h0m2 0h0m1-2h0m1-1h0m3 0h0m39 3h0m7-3h0m27 1h0m95-1h0m4 1h0m-314 6h0m33-2h0m18-1h0m12 1h0m0 0h0m8 2h0m9-3h0m4 0h0m47 1h0m3 1h0m1-1h0m1 1h0m3 0h0m6 1h0m8-3h0m2 0h0m8 3h0m4-1h0m1-1h0m8 1h0m41-1h0m64 2h0m0 0h0m4-2h0m2 1h0m1-1h0m15-1h0m-250 5h0m1 1h0m8 1h0m5-2h0m22 1h0m6 0h0m1 0h0m18 0h0m4 0h0m14 0h0m23-1h0m10 0h0m15 2h0m9 0h0m1-3h0m1 2h0m20-1h0m2-1h0m5 0h0m6 2h0m2 0h0m0 1h0m5 0h0m2-2h0m34-1h0m17 2h0m5-1h0m5 2h0m15 0h0m-241 1h0m17 3h0m0-3h0m2 2h0m7 1h0m35-1h0m59-1h0m36 1h0m4 0h0m0 0h0m10-2h0m19 3h0m15-1h0m7-1h0m16 1h0m0-2h0m35 1h0m15 1h0m17-1h0m-276 3h0m3 1h0m2 2h0m4 0h0m2-1h0m10-2h0m3 3h0m123-3h0m34 1h0m9 1h0m28 1h0m16-3h0m15 0h0m0 0h0m8 2h0m6 0h0m1 1h0m8-3h0m-245 7h0m27-1h0m5-2h0m70 1h0m73 2h0m20-3h0m26 1h0m6-1h0m11 0h0m-160 4h0m6 1h0m4 1h0m54 11h0m-13 13h0m105-1h0m-255 9h0m2-1h0m228-1h0m22 0h0m-168 7h0m150-1h0m-354 3h0m152 2h0m202-1h0m-197 5h0m-4 1h0m200 3h0m2 0h0m2-1h0m-328 31h0m2-1h0m155 1h0m-170 4h0m324 5h0m-1 2h0m-330 6h0m4-1h0m200 2h0m0 0h0m2-3h0m66 1h0m-262 3h0m219 4h0m8 0h0m67 2h0m22 4h0m10 5h0m13-2h0m7-1h0m25 2h0m-42 2h0m-92 9h0m-233 3h0m249 3h0m-261 2h0m168-1h0m4 1h0m116-1h0m-286 6h0m172 0h0m19 0h0m68 1h0m49-1h0m2 0h0m0 0h0m3-1h0m-316 3h0m65 10h0m179-2h0m21 3h0m10 0h0m3-3h0m5 2h0m69 0h0m-82 2h0m83 0h0m-167 7h0m55-2h0m0 0h0m0 1h0m2-1h0m9-1h0m-62 10h0" stroke="#bbb" stroke-width="1" stroke-linecap="square"/>
<path d="M785.5 493.5h0m84 0h0m-89 2h0m74-1h0m17 2h0m142 1h0m-224 4h0m75-2h0m2 2h0m30 0h0m114-3h0m96 3h0m2-3h0m-323 5h0m178-1h0m3 2h0m26 0h0m1 0h0m114 0h0m-259 5h0m-141 2h0m38-1h0m1 3h0m8-3h0m25 2h0m-49 4h0m0 1h0m3-1h0m1 1h0m3-1h0m8-2h0m1 3h0m20 0h0m8 0h0m5-1h0m5-2h0m21 2h0m14 1h0m3-2h0m285 1h0m-392 3h0m6 2h0m0 0h0m10 0h0m1 0h0m2-2h0m0 0h0m13 1h0m29 1h0m11-1h0m3-2h0m10 3h0m0-3h0m1 1h0m2-1h0m3 0h0m18 0h0m0 3h0m8-1h0m1 1h0m56 0h0m0 0h0m225-3h0m-403 5h0m5 2h0m13 0h0m13-3h0m8 0h0m9 1h0m20-1h0m0 1h0m2 0h0m2 1h0m2 1h0m7-2h0m4-1h0m1 1h0m11-1h0m42 2h0m30-1h0m0 1h0m2 0h0m2 0h0m1 0h0m-165 3h0m8 2h0m5 0h0m0-2h0m11-1h0m1 1h0m5 1h0m1-1h0m3-1h0m22 0h0m18 1h0m6 2h0m3-2h0m6 1h0m14 0h0m3 0h0m5-1h0m1 2h0m6-1h0m0-1h0m3 0h0m6 0h0m34 0h0m3-1h0m-166 5h0m7 2h0m0-2h0m11 2h0m4-3h0m10 1h0m2-1h0m5 0h0m15 0h0m4 1h0m4 0h0m13-1h0m7 0h0m3 1h0m2-1h0m10 2h0m11-1h0m9 1h0m8 0h0m65 1h0m4 0h0m-206 4h0m30-1h0m13 1h0m1 0h0m2-3h0m1 2h0m1-1h0m4 2h0m2-2h0m9 2h0m4-2h0m2 1h0m0-1h0m7-1h0m7 1h0m1 2h0m2-1h0m2-2h0m19 0h0m3 0h0m7 3h0m1-1h0m5 1h0m32 0h0m45-2h0m-196 6h0m2 0h0m40-1h0m0 1h0m2-2h0m3 2h0m1-1h0m2-2h0m13 1h0m18-1h0m2 0h0m2 1h0m8-1h0m0 2h0m23-1h0m3-1h0m36 1h0m210 1h0m-359 2h0m4 3h0m9-1h0m2-2h0m24 2h0m5-2h0m3 1h0m13-1h0m4 1h0m1-1h0m9 3h0m9-1h0m4-1h0m8-1h0m2 0h0m4 0h0m6 1h0m8-1h0m33 0h0m118 1h0m-274 5h0m8-2h0m2 2h0m4-2h0m5 1h0m1-1h0m5 0h0m0 3h0m23-3h0m2 2h0m0-2h0m2 0h0m1 0h0m0 0h0m1 0h0m25 0h0m1 1h0m2-1h0m2 0h0m1 0h0m5 3h0m14-2h0m52 1h0m7-2h0m2 1h0m2 1h0m26-2h0m1 1h0m0 1h0m1-1h0m1 0h0m81 2h0m89-3h0m-363 5h0m18 0h0m6 2h0m4-1h0m0-1h0m2 1h0m1 1h0m0 0h0m15-2h0m7 2h0m2-1h0m4-2h0m15 0h0m1 2h0m2-2h0m1 3h0m1 0h0m73 0h0m8-2h0m7 1h0m100 1h0m29 0h0m45-1h0m19-1h0m-344 3h0m6 2h0m0-2h0m6 0h0m1 2h0m3-2h0m8 3h0m3-1h0m8-1h0m2 0h0m3-1h0m18 2h0m1-1h0m11 1h0m4-1h0m24 0h0m7 0h0m171 1h0m64 1h0m-356 4h0m16-3h0m10 2h0m4-2h0m15 1h0m7 0h0m3 0h0m30 0h0m6-1h0m4 0h0m18 1h0m0 2h0m9-2h0m10 1h0m221 1h0m-328 1h0m3 1h0m23 1h0m2 0h0m3 0h0m16 0h0m2 0h0m4 1h0m3-1h0m0-1h0m17 1h0m1 1h0m3-1h0m3-2h0m6 0h0m21 1h0m34 0h0m8 0h0m168 1h0m8 0h0m6-2h0m-358 4h0m6 3h0m1-3h0m3 2h0m27-2h0m1 3h0m6-1h0m47 1h0m3 0h0m3-2h0m7 0h0m7 1h0m0-1h0m7-1h0m2 0h0m12 1h0m24 1h0m12 1h0m160-3h0m-318 4h0m1 3h0m6 0h0m2-2h0m10 0h0m8 0h0m7 1h0m22-1h0m1 0h0m1 1h0m4-2h0m4 0h0m7 2h0m1 1h0m11-1h0m8-1h0m2-1h0m2 0h0m1 2h0m35 1h0m9 0h0m133 0h0m50-3h0m1 0h0m-326 6h0m1 0h0m0-1h0m16 0h0m14 1h0m1-1h0m0 0h0m3 2h0m16 0h0m4-2h0m6 2h0m4 0h0m36 0h0m7-3h0m4 0h0m159 1h0m76 2h0m-362 3h0m15-2h0m15 2h0m6 1h0m11-1h0m19-2h0m2 2h0m3 1h0m3-3h0m4 1h0m47-1h0m27 3h0m4-1h0m0 0h0m8 0h0m124 0h0m-267 4h0m4 1h0m25-3h0m16 1h0m4-1h0m1 0h0m3 2h0m0-1h0m2-1h0m12 3h0m2 0h0m12 0h0m13-3h0m1 1h0m19 1h0m7 0h0m2-1h0m9 0h0m4-1h0m8 1h0m-155 6h0m12-2h0m4 0h0m28 1h0m1 0h0m23-1h0m1 2h0m10-3h0m6 2h0m13-1h0m3 2h0m1-3h0m11 0h0m0 2h0m4-2h0m5 0h0m1 1h0m2 0h0m19 0h0m16 1h0m14 1h0m-182 4h0m13-1h0m20-1h0m5 0h0m23 0h0m0 1h0m7-1h0m15 1h0m2-2h0m0 3h0m3-3h0m2 2h0m19 1h0m7-3h0m2 3h0m6 0h0m3-1h0m4 0h0m5 1h0m15 0h0m23-2h0m2-1h0m-177 6h0m7-2h0m8 3h0m17-3h0m3 3h0m3-1h0m6-1h0m4-1h0m31 0h0m19 3h0m13-2h0m2 0h0m5 0h0m2-1h0m1 0h0m4 2h0m5 1h0m1-2h0m2-1h0m20 3h0m3-2h0m5 0h0m10 0h0m4 1h0m6 1h0m14 0h0m-186 2h0m15 2h0m11 0h0m0-1h0m10-2h0m2 0h0m5 3h0m5-3h0m2 0h0m1 3h0m8-2h0m7-1h0m1 1h0m5 0h0m2 0h0m0-1h0m16 0h0m0 2h0m3-1h0m2-1h0m10 3h0m5-2h0m9-1h0m1 0h0m3 3h0m3-2h0m3-1h0m17 2h0m15-1h0m3 2h0m1-3h0m5 1h0m1 1h0m3-1h0m20 2h0m-198 1h0m16 2h0m13-1h0m9 0h0m3 0h0m21 2h0m13-1h0m2-2h0m9 2h0m20-1h0m4-1h0m1 1h0m8 2h0m6-3h0m2 3h0m40 0h0m4-1h0m8-2h0m1 3h0m1-2h0m9 2h0m1-2h0m1 2h0m4-2h0m2 1h0m18 0h0m8 0h0m174 0h0m-402 3h0m2 0h0m2 1h0m2-1h0m3 1h0m9 0h0m21-1h0m1-1h0m3 1h0m2 1h0m1-2h0m2 1h0m0 1h0m1-1h0m6-1h0m3 1h0m17 1h0m10-1h0m1 1h0m3-1h0m8 0h0m2 2h0m2-1h0m2 0h0m10 0h0m1 1h0m6-1h0m10 1h0m6-2h0m3 1h0m14 0h0m9-2h0m17 1h0m4-1h0m23 0h0m22 2h0m0 1h0m123 0h0m14 0h0m1 0h0m1-3h0m6 3h0m22 0h0m11-1h0m-409 4h0m33 1h0m1-2h0m3 2h0m5-2h0m6-1h0m13 1h0m4-1h0m17 3h0m2 0h0m4-3h0m6 0h0m26 0h0m13 0h0m1 1h0m21 0h0m10 2h0m5-1h0m6 1h0m1-2h0m6 0h0m1 1h0m13-1h0m1 0h0m35 0h0m4 2h0m5-3h0m16 0h0m13 3h0m34 0h0m19 0h0m3-2h0m21 0h0m0-1h0m6 3h0m23-3h0m25 0h0m-399 6h0m9-1h0m2 1h0m23-1h0m5 0h0m5-1h0m18 1h0m19-1h0m2 0h0m1 0h0m2 1h0m2 0h0m1 1h0m0 0h0m3-1h0m3-1h0m2 2h0m3 1h0m25-1h0m45 1h0m1-1h0m4 1h0m21-3h0m19 3h0m4 0h0m35-3h0m1 2h0m8-2h0m7 3h0m24-3h0m17 2h0m5 0h0m18 1h0m33-3h0m27 3h0m-395 1h0m1 3h0m2-3h0m18 3h0m1-3h0m3 3h0m5-1h0m5 0h0m3-1h0m4-1h0m2 3h0m3-1h0m3-2h0m6 3h0m2 0h0m7 0h0m3-2h0m19-1h0m6 1h0m3 2h0m12-1h0m10-2h0m33 0h0m2 2h0m48-1h0m27 2h0m2-2h0m2-1h0m23 2h0m5 1h0m1-3h0m72 0h0m2 3h0m0-3h0m50 3h0m4 0h0m10-1h0m-380 3h0m7 0h0m1-1h0m3 3h0m7-2h0m7 1h0m2-1h0m7 0h0m0 2h0m5-2h0m6 1h0m12 0h0m11-2h0m6 1h0m0 1h0m5-2h0m1 1h0m15 2h0m6-3h0m2 0h0m1 0h0m12 2h0m1-2h0m9 1h0m0 0h0m1-1h0m3 0h0m3 1h0m21 1h0m45 1h0m4 0h0m1-2h0m2 1h0m1 1h0m2 0h0m1-3h0m4 2h0m7-2h0m3 2h0m4 1h0m6-1h0m24 1h0m3-2h0m30 2h0m2 0h0m4-1h0m50-1h0m2 2h0m4 0h0m0-2h0m5 2h0m3-1h0m1 0h0m5 0h0m2-2h0m1 0h0m10 2h0m7 1h0m-387 1h0m2 3h0m5 0h0m0-2h0m16-1h0m3 0h0m7 0h0m7 2h0m5 1h0m3-3h0m1 0h0m9 0h0m6 1h0m0 1h0m4 0h0m2-2h0m19 3h0m6 0h0m2 0h0m6 0h0m1 0h0m8-1h0m30 1h0m5-3h0m8 1h0m7 1h0m23 0h0m12 0h0m1-1h0m0 2h0m5 0h0m7-2h0m0-1h0m3 0h0m2 2h0m3-1h0m4 1h0m7-1h0m1-1h0m2 1h0m25 2h0m5-2h0m1 1h0m5-1h0m13 1h0m1-2h0m13 1h0m31 1h0m2-2h0m6 2h0m27 0h0m1-2h0m8 0h0m20 3h0m-397 2h0m0 0h0m3 0h0m1 1h0m4 0h0m0 0h0m4-2h0m1 1h0m18 1h0m6 0h0m9 0h0m3-1h0m10 2h0m4-2h0m5 2h0m4-3h0m3 1h0m8 2h0m3-3h0m0 1h0m16 0h0m3 0h0m14 1h0m0 0h0m2-2h0m4 2h0m11 1h0m1-3h0m11 3h0m3 0h0m3-2h0m1-1h0m4 1h0m5-1h0m14 0h0m2 3h0m25-2h0m2 1h0m0-2h0m0 3h0m2-3h0m9 1h0m18 2h0m4-3h0m15 3h0m3-3h0m1 1h0m14 0h0m16-1h0m25 2h0m1 0h0m11-2h0m13 0h0m12 1h0m7 0h0m10 2h0m-358 2h0m1 2h0m0-1h0m12-1h0m2 0h0m13 0h0m5 0h0m6 1h0m3-1h0m2 2h0m14-2h0m1 1h0m1-2h0m3 0h0m0 3h0m17 0h0m20 0h0m3 0h0m21-3h0m8 2h0m38-2h0m1 1h0m8 2h0m4-1h0m16 1h0m13-2h0m3 1h0m1 0h0m32-2h0m48 1h0m1 0h0m16-1h0m6 3h0m1-3h0m2 1h0m26-1h0m11 0h0m2 0h0m11 2h0m0-2h0m4 3h0m4 0h0m2 0h0m-402 2h0m1 0h0m6-1h0m13 1h0m3 1h0m1 1h0m1-2h0m19 1h0m2 1h0m3 0h0m2 0h0m4-2h0m3 0h0m2-1h0m0 2h0m1 0h0m2-1h0m0 2h0m15 0h0m1-1h0m2 0h0m0 1h0m4-1h0m2 0h0m3 1h0m2-2h0m4 2h0m1-3h0m6 3h0m16-1h0m1 1h0m2 0h0m8-2h0m6 2h0m4 0h0m6-2h0m2 0h0m4 0h0m19 2h0m1-2h0m5 1h0m10 1h0m3 0h0m8 0h0m2-3h0m11 2h0m56 0h0m7 1h0m22-3h0m1 1h0m8-1h0m1 0h0m1 1h0m10 2h0m3-3h0m10 0h0m5 2h0m5-2h0m1 0h0m2 1h0m1 2h0m2-3h0m16 0h0m18 3h0m1-1h0m2 0h0m21-2h0m1 3h0m-407 4h0m9-1h0m2-2h0m0 1h0m8 2h0m14 0h0m1-2h0m0-1h0m4 3h0m1-3h0m7 2h0m2 1h0m2-2h0m0-1h0m4 0h0m2 3h0m4-3h0m1 1h0m1 0h0m4-1h0m2 0h0m1 2h0m2 1h0m14 0h0m4-3h0m32 2h0m1-1h0m4 2h0m25 0h0m1-2h0m13 0h0m8-1h0m15 1h0m6 1h0m1 0h0m5 1h0m9-1h0m62 0h0m2 0h0m1-2h0m3 3h0m1-1h0m23-2h0m13 1h0m1 2h0m14 0h0m1 0h0m4 0h0m5-3h0m44 0h0m20 1h0m1-1h0m-392 4h0m21 1h0m6 0h0m38 0h0m2 2h0m2-1h0m3 0h0m4-2h0m27 0h0m4 0h0m3 3h0m0-3h0m3 0h0m3 3h0m24 0h0m15 0h0m21 0h0m11-3h0m1 1h0m0 0h0m8 2h0m15-2h0m16 0h0m1 0h0m1 1h0m20-1h0m13-1h0m1 2h0m10-2h0m0 3h0m15-3h0m22 3h0m3-2h0m14 0h0m13-1h0m8 0h0m3 1h0m6 0h0m27 0h0m5 0h0m4 1h0m-400 3h0m20 0h0m4 2h0m10 0h0m8 0h0m8-1h0m2-1h0m6 2h0m28-3h0m3 0h0m0 0h0m4 3h0m17 0h0m7-2h0m1 2h0m2-2h0m6 2h0m2 0h0m2-1h0m4-2h0m14 1h0m27-1h0m29 0h0m7 2h0m5-2h0m1 2h0m64 0h0m1-1h0m0 1h0m2 1h0m1-2h0m12 0h0m35 0h0m3-1h0m5 3h0m22-2h0m1 2h0m0-1h0m5 0h0m24-1h0m3 2h0m-395 2h0m4 2h0m13-3h0m5 0h0m10 0h0m3 3h0m3-3h0m3 0h0m1 2h0m1 0h0m5-2h0m2 3h0m9-3h0m32 2h0m1-1h0m4 2h0m2 0h0m0-2h0m6 2h0m1-2h0m11 1h0m0-1h0m7-1h0m2 1h0m32-1h0m1 2h0m1-1h0m0 0h0m1-1h0m0 2h0m0 1h0m3-3h0m19 2h0m21-1h0m12 1h0m22 0h0m8-1h0m2 0h0m26-1h0m12 2h0m3-1h0m3 1h0m4-2h0m2 3h0m0 0h0m3-2h0m5-1h0m14 2h0m8 1h0m4-2h0m2 2h0m5-3h0m22 1h0m8 0h0m6 0h0m0 0h0m2 2h0m11-2h0m1 1h0m1 1h0m-391 4h0m4-3h0m15 3h0m20-2h0m2 2h0m3-1h0m19-2h0m0 0h0m17 0h0m2 0h0m3 2h0m1 0h0m4-1h0m4-1h0m11 0h0m0 3h0m28-1h0m27 0h0m3-2h0m6 3h0m33-3h0m4 1h0m2-1h0m10 3h0m20-1h0m8 0h0m19 0h0m17-2h0m1 0h0m8 2h0m11-1h0m13 1h0m9 1h0m7-3h0m17 0h0m15 2h0m11 1h0m1-2h0m1 2h0m8-2h0m7-1h0m9 2h0m4 0h0m-379 4h0m20-2h0m0 2h0m3-1h0m7 1h0m7 1h0m2-1h0m2 1h0m0-2h0m8 0h0m35 0h0m3 2h0m4 0h0m2-2h0m32 0h0m1 2h0m11-1h0m17 0h0m38-1h0m23-1h0m17 3h0m1-1h0m1-1h0m5 0h0m0 0h0m21 2h0m3-1h0m11-1h0m0-1h0m15 0h0m1 0h0m22 2h0m9-1h0m16-1h0m0 1h0m4 1h0m11 1h0m10 0h0m-373 2h0m8 2h0m1-2h0m23 2h0m16-2h0m9-1h0m3 3h0m33-1h0m3-1h0m7 0h0m3 2h0m23-2h0m0 2h0m9-3h0m30 1h0m9-1h0m5 3h0m1-2h0m11-1h0m13 3h0m21-3h0m12 2h0m6-2h0m0 3h0m0-3h0m1 2h0m0-1h0m4-1h0m3 2h0m13 0h0m61 1h0m10-2h0m1-1h0m19 1h0m10 2h0m7-2h0m-387 5h0m20 1h0m0 0h0m6-1h0m27 0h0m3 0h0m17 0h0m3-2h0m12 1h0m3 1h0m46-2h0m2 1h0m1-1h0m6 2h0m21 1h0m34-2h0m11-1h0m1 2h0m0 1h0m1 0h0m42-3h0m2 1h0m3-1h0m6 2h0m5 1h0m2-2h0m3 0h0m1 1h0m24-1h0m1-1h0m28 1h0m14 0h0m1 1h0m24 0h0m1-1h0m4-1h0m4 2h0m1-1h0m1 2h0m3-1h0m18 0h0m1-2h0m-369 7h0m17-2h0m1 0h0m3 0h0m4-1h0m9 2h0m0-1h0m13 0h0m1-1h0m4 0h0m1 1h0m2 1h0m2-2h0m3 0h0m11 3h0m5-1h0m1-2h0m18 1h0m2 0h0m1-1h0m13 3h0m0 0h0m4-3h0m1 0h0m15 0h0m7 3h0m6-2h0m32 1h0m13 1h0m1-2h0m30 1h0m5-1h0m2 0h0m0 1h0m2-2h0m1 3h0m2-2h0m13 2h0m5-3h0m1 1h0m14 2h0m14-3h0m12 3h0m1-1h0m25-2h0m1 0h0m18 1h0m1-1h0m9 2h0m7-1h0m14-1h0m1 3h0m2 0h0m-401 1h0m1 3h0m5 0h0m3-3h0m23 1h0m2 1h0m17 1h0m16-1h0m2-2h0m3 1h0m1 0h0m2 1h0m1-1h0m0 1h0m9 0h0m1-2h0m8 0h0m1 2h0m11-1h0m64-1h0m1 0h0m2 3h0m2-2h0m1 0h0m19-1h0m5 3h0m0-2h0m9 0h0m20 2h0m15-3h0m3 3h0m2-2h0m0 0h0m21 0h0m5-1h0m33 0h0m30 1h0m2-1h0m16 1h0m4-1h0m0 1h0m2 2h0m14 0h0m4 0h0m1-1h0m5 1h0m1-2h0m-392 6h0m6-2h0m9 2h0m3 0h0m4-2h0m13 2h0m2-2h0m3 2h0m2-2h0m1 0h0m10 1h0m2-1h0m21 2h0m3-1h0m2-2h0m11 2h0m5 0h0m2-2h0m2 0h0m2 0h0m6 2h0m25 0h0m6 1h0m26 0h0m14-1h0m5 1h0m21-2h0m30 0h0m5-1h0m4 1h0m4 1h0m4-1h0m14 0h0m3 0h0m12 0h0m3-1h0m13 3h0m17-3h0m23 0h0m5 1h0m4-1h0m45 0h0m8 2h0m0-1h0m-393 3h0m12 3h0m7-3h0m2 1h0m1 0h0m5 1h0m18-2h0m21 1h0m2 2h0m6-2h0m12-1h0m2 0h0m9 2h0m8 0h0m11-2h0m5 3h0m4-1h0m0-2h0m3 3h0m18 0h0m1-3h0m64 2h0m0 0h0m5-1h0m20-1h0m0 3h0m2-2h0m2-1h0m6 0h0m0 3h0m5-2h0m7 2h0m1 0h0m0-2h0m5 0h0m40 1h0m11 0h0m1-1h0m4 1h0m1-1h0m7 0h0m11-1h0m2 0h0m17 3h0m9 0h0m2 0h0m13-3h0m-391 7h0m21 0h0m11-1h0m0-1h0m3 0h0m2 2h0m4-3h0m2 0h0m3 0h0m1 3h0m4-1h0m1-1h0m16 2h0m4-1h0m5-1h0m28-1h0m0 0h0m3 3h0m3-2h0m3 2h0m15-3h0m9 2h0m10 0h0m8-1h0m17 1h0m17 0h0m1 1h0m29-2h0m4 1h0m12-1h0m5 1h0m21 1h0m0-2h0m11-1h0m9 3h0m31-3h0m19 1h0m28 0h0m14 2h0m4 0h0m17-3h0m6 1h0m-398 6h0m1-2h0m12 1h0m1 1h0m7-3h0m1 0h0m2 1h0m3 1h0m0 0h0m3 0h0m2 0h0m3-1h0m15 2h0m24-1h0m0 0h0m3-2h0m29 2h0m1-1h0m1-1h0m22 2h0m65-1h0m2 1h0m6 1h0m0-3h0m13 0h0m51 0h0m31 1h0m1 0h0m1 2h0m4 0h0m13-2h0m14 2h0m0-3h0m19 0h0m1 2h0m18-1h0m7 2h0m0-2h0m1 0h0m2-1h0m0 1h0m5 1h0m16-1h0m5 0h0m-406 5h0m3-1h0m9-1h0m4 2h0m5-1h0m4 1h0m1-1h0m3 1h0m24 0h0m3 1h0m1 0h0m2-1h0m6 1h0m3-2h0m6 0h0m11 2h0m3-1h0m0 1h0m5-2h0m4 0h0m8 2h0m14 0h0m12 0h0m11-3h0m0 2h0m25 1h0m1-2h0m35 0h0m1 0h0m21 1h0m0 0h0m20 0h0m13-1h0m5-1h0m5 3h0m10-1h0m16 0h0m30-2h0m1 3h0m19-3h0m9 2h0m21 0h0m3 0h0m2 1h0m25-2h0m2 0h0m0 2h0m-395 2h0m3 1h0m5-2h0m3 0h0m3 3h0m10-1h0m8 0h0m13 0h0m1 0h0m1 0h0m2 1h0m2-3h0m5 0h0m7 1h0m2 0h0m0 1h0m7 0h0m35 0h0m2 1h0m2-3h0m8 1h0m3-1h0m7 2h0m4-2h0m4 1h0m2 2h0m9-3h0m13 1h0m5 2h0m2-2h0m6 0h0m3 1h0m0-2h0m5 2h0m2 0h0m5-2h0m9 1h0m6 2h0m0 0h0m4 0h0m0 0h0m31-3h0m17 1h0m20 2h0m4-1h0m28 0h0m0 1h0m4-2h0m25-1h0m9 3h0m1 0h0m15 0h0m5-3h0m2 0h0m22 2h0m-393 4h0m1 1h0m28-1h0m19 0h0m0-2h0m3 1h0m4 0h0m0 1h0m0 1h0m3 0h0m1 0h0m5-3h0m5 1h0m4 1h0m2-1h0m2 0h0m1 1h0m10-2h0m15 3h0m3-1h0m11-1h0m17 1h0m4 1h0m23-1h0m2-1h0m13-1h0m3 0h0m6 1h0m3 2h0m15-3h0m17 2h0m39-2h0m2 3h0m8-3h0m20 2h0m21-1h0m0 1h0m31 1h0m3-2h0m1 2h0m5-2h0m18-1h0m1 2h0m7 0h0m-380 5h0m3-2h0m8-1h0m42 2h0m7-2h0m1 2h0m3-2h0m0 0h0m23 1h0m2 2h0m9-1h0m4 0h0m3 0h0m4 1h0m3-3h0m52 2h0m2 1h0m0-1h0m3 0h0m2 0h0m6-2h0m6 2h0m10-1h0m1-1h0m2 2h0m2-2h0m18 2h0m1-1h0m25-1h0m23 0h0m47 1h0m7-1h0m13 0h0m2 3h0m3-3h0m5 1h0m1 2h0m23-3h0m11 0h0m11 3h0m13 0h0m-315 2h0m4 1h0m9 0h0m1 1h0m5 0h0m13-3h0m5 3h0m2-1h0m2 0h0m28 1h0m2-3h0m3 0h0m24 1h0m1 1h0m21-2h0m11 3h0m1-2h0m30 0h0m2 1h0m5 0h0m9 0h0m7-2h0m30 3h0m2 0h0m3 0h0m8-3h0m5 1h0m7 1h0m8 1h0m5 0h0m1-1h0m8-1h0m0-1h0m29 3h0m7 0h0m2 0h0m3-3h0m-314 5h0m8-1h0m7 1h0m4 0h0m7 2h0m21-1h0m1-2h0m4 0h0m10 3h0m47-3h0m25 0h0m0 0h0m1 1h0m1 1h0m50 1h0m1-2h0m1 0h0m5 0h0m8 0h0m10 1h0m10-2h0m4 2h0m2-1h0m1 2h0m0-3h0m25 3h0m6-3h0m10 3h0m13 0h0m7-2h0m11-1h0m1 3h0m4 0h0m15-1h0m1 0h0m0-1h0m-292 5h0m16-1h0m3 0h0m0 0h0m42 2h0m19 0h0m73-3h0m0 1h0m6 2h0m23-1h0m10 1h0m49-2h0m6 0h0m8 2h0m1-2h0m2 1h0m2-2h0m8 2h0m4-1h0m0-1h0m-241 4h0m6 0h0m29 2h0m5 0h0m1-2h0m25 1h0m29 2h0m0-3h0m32 0h0m24 1h0m48 0h0m5 1h0m22 0h0m-216 4h0m26 0h0m26 0h0m22-1h0m7 2h0m9-3h0m2 0h0m26 1h0m52 2h0m4-3h0m-173 5h0m24-1h0m46 1h0m67 11h0m-13 13h0m5 1h0m-193 5h0m189-2h0m84 0h0m1 0h0m-352 4h0m71-1h0m6 3h0m273-1h0m1-1h0m5 0h0m-237 3h0m28 3h0m1-3h0m52 0h0m2 3h0m-50 3h0m170 12h0m4 5h0m-134 13h0m157 1h0m6 0h0m32-1h0m-358 5h0m5 0h0m319-1h0m-336 6h0m4-1h0m167-1h0m91 4h0m56 6h0m5-1h0m-101 10h0m93 2h0m-1 4h0m6 0h0m3 1h0m8 0h0m-331 5h0m339-3h0m29 2h0m-365 3h0m2 1h0m336-1h0m26 0h0m-370 6h0m4 2h0m135 4h0m144 1h0m5-1h0m-93 5h0m93-1h0m-297 3h0m177 0h0m143 4h0m-315 4h0m274 3h0m-212 1h0m208 0h0m5 1h0m74 2h0m-104 2h0m51-1h0m4 1h0m47 1h0m-96 2h0m-15 4h0m-29 7h0m26-2h0" stroke="#999" stroke-width="1" stroke-linecap="square"/>
<path d="M842.5 497.5h0m1-3h0m4 3h0m-64 1h0m107 2h0m64-2h0m6 2h0m48-1h0m-154 5h0m140 3h0m109 0h0m-343 5h0m7 0h0m-23 4h0m15 1h0m5 0h0m7-1h0m7 1h0m7 0h0m4-3h0m9 0h0m3 1h0m5 1h0m308-1h0m1 0h0m-390 5h0m3 0h0m1 0h0m48 0h0m1 1h0m16-2h0m0-1h0m1 3h0m1 0h0m11-2h0m14 2h0m63 0h0m4 0h0m-166 1h0m44 1h0m9-1h0m3 2h0m0-2h0m2 2h0m23-2h0m10 0h0m5 2h0m10 1h0m8-1h0m53 1h0m2-1h0m-176 4h0m44 1h0m12-2h0m20 1h0m2 0h0m35-1h0m4 1h0m3 1h0m-129 3h0m2-2h0m14 0h0m6 1h0m4 0h0m6 2h0m6-2h0m7 1h0m0-2h0m0 2h0m6-2h0m19 3h0m17-1h0m17-1h0m1-1h0m1 2h0m-105 5h0m14-3h0m5 1h0m5 0h0m6 1h0m2 1h0m6 0h0m1-3h0m3 1h0m1-1h0m4 1h0m1-1h0m1 1h0m1 2h0m20-2h0m2 2h0m1-3h0m13 0h0m4 2h0m63-2h0m-138 7h0m21-2h0m7-1h0m4 2h0m3-1h0m7-1h0m6 1h0m14 0h0m6 0h0m2-1h0m2 1h0m1-1h0m10 2h0m6-1h0m12-1h0m-107 6h0m11-2h0m6 2h0m11-1h0m5 2h0m3 0h0m7 0h0m1 0h0m5 0h0m16 0h0m6-1h0m2-2h0m70 0h0m5 3h0m-125 3h0m13 0h0m3-2h0m5 2h0m27 1h0m4 0h0m2-3h0m15 0h0m16 0h0m2 0h0m77 1h0m100 2h0m70-2h0m-361 3h0m17 0h0m5 3h0m5-2h0m2 1h0m10 0h0m0-2h0m3 3h0m2 0h0m1 0h0m5-3h0m23 0h0m13 3h0m0-2h0m35 0h0m3 0h0m2-1h0m22 0h0m150 1h0m-280 6h0m24 0h0m2-3h0m14 2h0m15 1h0m36 0h0m182-3h0m64 3h0m-317 4h0m6 0h0m3-3h0m29 3h0m8-2h0m2 2h0m6 0h0m16-2h0m7-1h0m16 1h0m22 2h0m-161 3h0m1 1h0m6-3h0m7 2h0m23 1h0m3-3h0m25 1h0m0 1h0m8 1h0m1-1h0m6-1h0m11 0h0m5 1h0m0-1h0m2 0h0m0-1h0m4 1h0m9 1h0m47 1h0m23-1h0m166-2h0m16 3h0m-354 3h0m11-1h0m5 1h0m12 1h0m13 0h0m4 0h0m14 0h0m6-1h0m4-1h0m2 2h0m4 0h0m5-2h0m3-1h0m8 1h0m6-1h0m13 0h0m2 1h0m7 2h0m7-1h0m22 0h0m178-2h0m-310 4h0m15 1h0m27 1h0m6-2h0m9 0h0m2 0h0m10 0h0m1 2h0m6-2h0m11 1h0m1 2h0m3 0h0m8 0h0m31-1h0m4-1h0m2-1h0m13 0h0m117 0h0m0 1h0m-244 5h0m4-2h0m3 0h0m3 3h0m10 0h0m1-3h0m12 0h0m8 3h0m3-3h0m1 1h0m1-1h0m-87 6h0m8 1h0m21-1h0m12-1h0m4-1h0m7 1h0m12 1h0m9-2h0m0 2h0m43 0h0m0 1h0m2 0h0m-95 3h0m30 1h0m6-3h0m24 2h0m15 1h0m13-3h0m22 2h0m1 1h0m40-3h0m18 2h0m-175 2h0m56 1h0m4 2h0m2 0h0m2-2h0m11 2h0m0 0h0m3-2h0m8-1h0m32 1h0m14 2h0m2-1h0m0-2h0m23 2h0m-157 2h0m16 0h0m1 3h0m4 0h0m11-3h0m0 1h0m2 0h0m9 2h0m13-3h0m17 2h0m9 0h0m1-1h0m16 0h0m7 0h0m6 1h0m29-1h0m8 0h0m-154 5h0m20 0h0m13-1h0m13 1h0m5 0h0m17-2h0m1 2h0m5 1h0m0-3h0m8 1h0m3 1h0m21-1h0m14-1h0m1 2h0m16 0h0m0-2h0m0 2h0m4 0h0m22 1h0m-181 3h0m7-2h0m7 2h0m11 0h0m12-1h0m2 2h0m27-2h0m13 0h0m5 0h0m8-1h0m1 2h0m9-1h0m6 2h0m0-3h0m17 1h0m5 1h0m20-1h0m2 0h0m1 2h0m9-3h0m1 0h0m2 2h0m11-1h0m3 2h0m25-1h0m-185 5h0m21-2h0m23-1h0m1 3h0m14-1h0m1-2h0m2 1h0m8-1h0m2 1h0m6 0h0m2 1h0m13 1h0m1 0h0m10-1h0m6-1h0m33 1h0m15-1h0m13 1h0m149 1h0m4 0h0m59-3h0m-395 7h0m5-3h0m3 3h0m4-3h0m5 0h0m3 1h0m12 2h0m3-3h0m2 0h0m0 3h0m1 0h0m0-2h0m3-1h0m41 2h0m6-2h0m13 0h0m0 1h0m3 0h0m3 1h0m17 1h0m1-3h0m49 1h0m1-1h0m53 3h0m42-3h0m12 2h0m3 1h0m40 0h0m0-3h0m9 3h0m0 0h0m8-2h0m5 0h0m11 0h0m42 1h0m-408 5h0m10 0h0m8 0h0m4-2h0m2 2h0m3-1h0m15-1h0m1 0h0m8 2h0m11-2h0m19 2h0m2-2h0m0 0h0m2 0h0m32 2h0m13-1h0m3 1h0m39-2h0m3 0h0m17 2h0m7-1h0m21-1h0m2-1h0m2 1h0m53-1h0m15 3h0m21-2h0m17 2h0m1-2h0m1 2h0m3 0h0m3 0h0m13-1h0m2-1h0m1-1h0m1 0h0m14 0h0m26 0h0m-378 6h0m15-1h0m7-1h0m5 2h0m5-2h0m9 1h0m13-1h0m15 1h0m0 0h0m18-1h0m13 0h0m5 1h0m3 0h0m13 2h0m28-3h0m57 0h0m9 1h0m22-1h0m3 0h0m7 3h0m10-2h0m28 0h0m35 1h0m3 0h0m13 0h0m12-2h0m41 3h0m-371 4h0m6-1h0m18 1h0m0-2h0m19-1h0m42 3h0m100 0h0m5-3h0m2 3h0m33 0h0m9-1h0m41-1h0m27 0h0m29 2h0m26 0h0m-374 2h0m8-1h0m1 0h0m37 1h0m22-1h0m2 0h0m5 0h0m27 3h0m6-1h0m6 1h0m13-3h0m28 3h0m1-3h0m46 1h0m8 1h0m1-1h0m1 2h0m8-2h0m3 1h0m2-1h0m2 2h0m42-3h0m30 1h0m70 1h0m14-2h0m2 1h0m-362 5h0m4 0h0m69-1h0m2 0h0m10 1h0m0-2h0m12 2h0m4 0h0m2 1h0m1 0h0m3 0h0m15-1h0m7-1h0m2 2h0m4-2h0m3-1h0m36 3h0m39-3h0m81 2h0m38-2h0m1 1h0m3 1h0m6-1h0m-365 6h0m4-3h0m2 3h0m37-3h0m2 3h0m9-1h0m39-1h0m6 0h0m2-1h0m4 2h0m10-1h0m6 1h0m10 0h0m3-2h0m13 2h0m1 0h0m21-2h0m18 0h0m1 1h0m12-1h0m5 2h0m14 0h0m21 0h0m4 0h0m12 1h0m13-2h0m8-1h0m39 1h0m6 1h0m5 1h0m8-3h0m0 0h0m16 0h0m10 1h0m17 2h0m15-2h0m-393 3h0m17 2h0m7-2h0m20 2h0m0-1h0m1 1h0m7-1h0m1-1h0m13 1h0m1 1h0m0-2h0m2 0h0m4 0h0m0 2h0m33 1h0m4-2h0m0 2h0m3-3h0m2 0h0m8 1h0m22 2h0m26-1h0m16-2h0m21 1h0m3-1h0m9 0h0m15 1h0m60 1h0m23-1h0m24 1h0m29 0h0m2-1h0m-379 5h0m36-2h0m2 2h0m1 0h0m1-2h0m6 3h0m4 0h0m3-1h0m1 0h0m2 1h0m3-2h0m1 0h0m37-1h0m0 0h0m12 1h0m3 2h0m0-3h0m1 1h0m8-1h0m20 2h0m22-2h0m16 1h0m50 0h0m31-1h0m5 3h0m23-3h0m15 2h0m6-1h0m3 0h0m2 0h0m10 0h0m1 0h0m0 1h0m8-1h0m7 2h0m21 0h0m0-3h0m13 1h0m14-1h0m5 0h0m2 3h0m-402 1h0m4 0h0m1 1h0m4-1h0m24 1h0m1 1h0m8 0h0m0 0h0m6-1h0m4 2h0m5-2h0m5-1h0m9 0h0m8 0h0m1 3h0m2-1h0m30 1h0m30 0h0m7-1h0m0-2h0m27 0h0m3 0h0m2 1h0m0 1h0m34-2h0m53 1h0m1-1h0m1 0h0m7 0h0m22 1h0m12 0h0m14-1h0m31 1h0m4-1h0m4 3h0m15-3h0m5 0h0m2 3h0m3-3h0m5 3h0m5-3h0m7 3h0m1 0h0m-408 4h0m0-2h0m5-1h0m2 1h0m16-1h0m18 0h0m35 1h0m0 1h0m8 0h0m2-1h0m6 2h0m4-3h0m1 2h0m1-2h0m21 0h0m1 2h0m2-2h0m1 2h0m0 1h0m28-3h0m24 0h0m8 0h0m7 1h0m5 1h0m7-2h0m12 0h0m3 3h0m0 0h0m5-1h0m32-2h0m16 2h0m1 0h0m1 1h0m4-1h0m5-2h0m19 1h0m3 1h0m2 1h0m16-1h0m9 1h0m27-3h0m11 3h0m20-3h0m5 3h0m-389 2h0m1-1h0m15 3h0m1-1h0m5 0h0m3 1h0m6 0h0m26 0h0m6-1h0m32 0h0m2 0h0m5 1h0m3 0h0m0-1h0m10 1h0m12 0h0m46-3h0m7 0h0m25 0h0m61 2h0m0 0h0m13-2h0m2 0h0m4 3h0m15-2h0m56 0h0m13 1h0m3-2h0m16 0h0m2 1h0m-389 4h0m23 2h0m1-2h0m1 0h0m2-1h0m5 0h0m0 2h0m0-1h0m3 2h0m1-1h0m7-2h0m10 2h0m1 1h0m7-1h0m10 1h0m11 0h0m3-3h0m5 0h0m2 0h0m1 2h0m2 1h0m12-1h0m0-2h0m54 3h0m1-1h0m17-1h0m30 1h0m27 1h0m24-3h0m14 0h0m1 3h0m25-3h0m18 2h0m11-1h0m1-1h0m31 2h0m0-2h0m3 2h0m1-1h0m12-1h0m3 2h0m3 1h0m3-2h0m2 2h0m2-1h0m-394 2h0m9 1h0m15 0h0m1-1h0m13 3h0m10-2h0m0 0h0m13-1h0m15 2h0m2 0h0m8 1h0m2-1h0m5-2h0m4 0h0m13 3h0m14-1h0m30 0h0m11 0h0m2 1h0m43 0h0m27-1h0m12 0h0m37-1h0m44 1h0m6-2h0m39 0h0m12 2h0m6 0h0m4-2h0m-392 7h0m15-2h0m16 0h0m12 1h0m16 0h0m7-2h0m1 0h0m5 2h0m18-2h0m11 2h0m1 1h0m13-1h0m1 1h0m3-1h0m4-1h0m43 2h0m42 0h0m7-2h0m0 2h0m1 0h0m20 0h0m11-3h0m7 3h0m10 0h0m21-2h0m0 1h0m43 0h0m15-1h0m7 1h0m9-2h0m33 2h0m-381 4h0m0 1h0m2-3h0m6 1h0m33 0h0m6-1h0m3 1h0m44 1h0m7-2h0m0 0h0m1 1h0m24 1h0m61-1h0m22-1h0m1 3h0m19-2h0m16 0h0m1 2h0m22-1h0m17-1h0m53 1h0m24-1h0m4 0h0m0 2h0m4-2h0m0 0h0m3 1h0m12 1h0m1-2h0m0-1h0m4 0h0m0 1h0m1-1h0m-393 7h0m2-1h0m2 1h0m6 0h0m18 0h0m11-3h0m2 0h0m0 1h0m1 2h0m6-1h0m10 1h0m12-3h0m10 3h0m5-3h0m0 3h0m2-2h0m10 2h0m4-2h0m3-1h0m1 0h0m14 0h0m5 0h0m3 0h0m55 0h0m17 1h0m2 2h0m11-1h0m29 0h0m3-2h0m6 2h0m9-2h0m3 3h0m49-3h0m3 3h0m2-1h0m15-2h0m3 2h0m7-2h0m27 3h0m2 0h0m3-3h0m0 0h0m6 0h0m10 0h0m1 0h0m-396 4h0m8 3h0m0-3h0m6 2h0m8 0h0m29-1h0m17 0h0m9-1h0m4 2h0m27-2h0m1 2h0m0 0h0m1 0h0m28-1h0m1 2h0m16-2h0m2 1h0m9-2h0m42 1h0m20 1h0m17 1h0m8-3h0m6 3h0m5-3h0m21 2h0m8-2h0m16 3h0m46-1h0m9 0h0m1-1h0m12-1h0m11 3h0m3-1h0m-390 4h0m22 0h0m0 0h0m9 0h0m2 0h0m6 0h0m6 0h0m5-2h0m5 3h0m4 0h0m8-2h0m1 1h0m5-1h0m2-1h0m20 0h0m0 1h0m23 1h0m1 0h0m18 0h0m6-2h0m15 1h0m7 0h0m8 2h0m35-2h0m6-1h0m9 3h0m11-1h0m16 0h0m4-2h0m3 3h0m4-1h0m4-2h0m29 1h0m27 0h0m1-1h0m14 1h0m1 0h0m20 0h0m2-1h0m12 0h0m0 2h0m4-1h0m1 0h0m9 2h0m-395 1h0m24 3h0m5-3h0m12 0h0m0 3h0m1-1h0m6-1h0m7 2h0m1-2h0m0-1h0m11 0h0m1 0h0m39 2h0m2-2h0m11 1h0m10-1h0m5 2h0m31-2h0m15 1h0m3 2h0m11 0h0m2-3h0m0 3h0m6-3h0m3 0h0m24 1h0m2-1h0m4 3h0m10 0h0m5-2h0m24 0h0m26 2h0m3 0h0m11-1h0m1-1h0m14 2h0m12-1h0m27 0h0m11 1h0m3-3h0m0 1h0m1-1h0m4 3h0m1-1h0m1-1h0m11-1h0m0 3h0m5 0h0m-407 1h0m14 0h0m16 0h0m1 0h0m1 3h0m0-2h0m0 0h0m3 1h0m7 0h0m5 0h0m1 0h0m8-1h0m37-1h0m11 0h0m0 1h0m21 0h0m10 0h0m2 2h0m22-1h0m23-2h0m12 2h0m14-1h0m17-1h0m5 3h0m5-3h0m10 0h0m1 2h0m1-2h0m2 2h0m3-1h0m4 1h0m3 1h0m1-1h0m7-2h0m6 0h0m2 2h0m12-2h0m33 0h0m15 1h0m5-1h0m5 1h0m2 0h0m5-1h0m12 1h0m17 0h0m2 1h0m4 0h0m-379 5h0m6 0h0m5-2h0m11 2h0m6-2h0m10-1h0m2 0h0m2 2h0m8-1h0m1 0h0m7 2h0m20 0h0m1 0h0m10-2h0m48 2h0m25 0h0m20-1h0m5 0h0m37-2h0m16 0h0m14 0h0m3 1h0m1 1h0m7-2h0m10 1h0m18 1h0m22 0h0m0-1h0m15 1h0m3-1h0m7-1h0m1 0h0m2 0h0m16 0h0m10 2h0m1 1h0m5-2h0m7-1h0m15 1h0m-404 5h0m12-1h0m5-1h0m3 2h0m3-2h0m25 3h0m4-2h0m0 1h0m2-2h0m22 2h0m2-2h0m114 0h0m4 1h0m22 2h0m20-2h0m15 0h0m14-1h0m4 3h0m1 0h0m21-2h0m37 2h0m2-3h0m3 1h0m20 2h0m4 0h0m22-1h0m15-1h0m1 0h0m-398 3h0m1 1h0m8-1h0m2 2h0m4 1h0m3-3h0m0 3h0m1-2h0m2-1h0m1 1h0m5-1h0m23 2h0m2-1h0m4-1h0m0 3h0m3 0h0m7-2h0m3 2h0m1 0h0m13-1h0m8-2h0m5 0h0m1 0h0m11 0h0m8 2h0m3 1h0m1-1h0m47 0h0m1-1h0m31 1h0m1-2h0m2 2h0m6-1h0m55-1h0m3 0h0m14 0h0m22 2h0m21 1h0m3-2h0m5 0h0m4 1h0m37 0h0m8-1h0m8-1h0m4 1h0m-391 3h0m15 2h0m8 1h0m1-3h0m1 0h0m5 3h0m17-2h0m1 1h0m1 0h0m0-2h0m1 3h0m5-3h0m2 1h0m12 0h0m3 0h0m4 0h0m10 1h0m1-2h0m1 1h0m2-1h0m4 3h0m15 0h0m31 0h0m30-2h0m3-1h0m4 3h0m2-1h0m31 0h0m4-1h0m11 1h0m12-2h0m11 3h0m2-2h0m2 0h0m3 0h0m6-1h0m30 3h0m3 0h0m24 0h0m37-2h0m23-1h0m6 0h0m1 0h0m11 3h0m-393 1h0m7 2h0m7-1h0m7 2h0m1 0h0m6-1h0m20-2h0m3 1h0m1 2h0m1 0h0m2-2h0m1 2h0m8-1h0m10-2h0m10 3h0m3-1h0m4 0h0m7 1h0m8-1h0m9-1h0m12 1h0m10-1h0m3 2h0m1 0h0m1-3h0m2 2h0m16-1h0m12 1h0m7 1h0m11-1h0m1 1h0m1-1h0m0-1h0m4 1h0m2 1h0m1 0h0m7 0h0m14-1h0m24-2h0m81 2h0m10-2h0m18 0h0m19 1h0m14 0h0m15 0h0m-399 3h0m51 2h0m5-1h0m23 2h0m6-1h0m0 0h0m1 0h0m0-1h0m1 1h0m1-1h0m0 1h0m2 1h0m9-3h0m3 3h0m2-1h0m6 1h0m21-2h0m4-1h0m5 3h0m4-3h0m21 1h0m2 2h0m3-3h0m3 1h0m77 2h0m13-3h0m1 0h0m6 3h0m37-1h0m1-2h0m2 3h0m0-1h0m8 0h0m1 0h0m15-1h0m9 2h0m44 0h0m1-1h0m14 0h0m-354 3h0m18 2h0m11-1h0m24-1h0m4-1h0m6 2h0m51-1h0m0 2h0m18-3h0m3 2h0m12 0h0m0-2h0m16 0h0m0 0h0m9 0h0m2 0h0m3 3h0m29-1h0m2 1h0m5-3h0m7 3h0m30-3h0m26 1h0m5 1h0m11-2h0m2 3h0m55-1h0m1-2h0m4 2h0m1-2h0m-323 4h0m16 1h0m1 0h0m20 2h0m10-2h0m22 2h0m13-1h0m2 1h0m16-2h0m1 1h0m4 0h0m2 1h0m25-3h0m1 3h0m41-3h0m2 2h0m2 0h0m14 0h0m1-1h0m22 2h0m9-3h0m15 3h0m54-1h0m7-1h0m0 2h0m5-2h0m8-1h0m1 1h0m2 1h0m-274 4h0m7 1h0m5-2h0m4 0h0m2 2h0m37-2h0m9 0h0m24-1h0m28 0h0m14 2h0m0-1h0m3 1h0m38 1h0m13-2h0m50 2h0m3 0h0m9 0h0m9-3h0m4 1h0m-238 3h0m29 0h0m25 2h0m24-2h0m17 3h0m11-1h0m0-2h0m8 0h0m1 0h0m5 1h0m27-1h0m11 3h0m45-3h0m32 1h0m1 1h0m-238 2h0m8 2h0m51-1h0m36-1h0m1 0h0m83 0h0m4 0h0m-179 5h0m55 1h0m-54 3h0m135 6h0m1-2h0m0 1h0m3 0h0m89 13h0m-24 8h0m-269 4h0m-3 1h0m78 2h0m3 1h0m2-2h0m46 1h0m-132 3h0m254 11h0m28 18h0m41-1h0m-44 3h0m-316 5h0m153 0h0m-169 5h0m264 5h0m5-1h0m48 1h0m-120 1h0m-201 11h0m229-2h0m77 2h0m8 4h0m5 3h0m13 4h0m19 4h0m-206 5h0m0 3h0m97 0h0m-172 4h0m1-2h0m3 2h0m250-2h0m-260 5h0m98-1h0m30 3h0m1 2h0m59 2h0m4-3h0m69 2h0m-332 2h0m262 0h0m-234 10h0m222 1h0m18-3h0m6 2h0m-238 2h0m38 1h0m172 0h0m5-1h0" stroke="#777" stroke-width="1" stroke-linecap="square"/>
<path d="M867.4 498.6h0m-134.6 20.5l1.8 2.4m7.8-1l-.9-1.8m55.8 1.4l1.8-2.4m-1.3 2.8l.5-.9m48.9 2.6l.1 1m-42.3 5.1l2.7-1.3m-100.1 3.1l2-.2m28.4 3.4l-.1-3m.4 3.5l.8-1.8m44.3 1.6h0m11.5-1.6h0m39.8-.7l1.5 2.6m-1.1-3.1l.9-.4m-94.7 5.7l.5 .9m13-2.3h0m34.6 3.2l-.4-.9m3.5 .5h0m1.6-2.5h0m116.9-.1l3 .2m-139.2 5.9l1.8 2.4m26.6-4.1l-.8 .6m1.9-.7l-.8 .6m-92 4.2l-2.7-1.3m12.3 2.4h0m67.4-1.9l.6-.8m1.4-.1h0m29.4 2.1l-.2-1m-63.4 4.6l1.6-1.2m-.6 2.4h0m6.6 .1l.8-.6m.6-1.5h0m33.7 2.4l-.9 .3m-61.2 2.5l-.9-.4m34.1 1.5h0m16.3 .5l0-1m-17.8 4.5l-1.1 1.6m23.8 .8l1 .3m2.5 1.3h0m26.3-.3l2.6 1.6m-43.8 2.9l1 .1m53.5-.2l1-.1m1.3 1.6h0m-97.1 3.3l1 .1m73.9 1.2h0m17.7 1l1 2.8m27.4-5.1l1.4 2.7m19.7-.9l-.5-.9m-57.5 3.5l.9-.3m-44.2 4.2l-2 .3m292 1.4l1 .2m-346.3 4.9l-3 0m84.1 .4h0m10.9-.6l.8-.5m-91.5 1.3l-.9 .4m92.6 .8h0m-71.4 3.2l-1.7 2.5m37.8-1.5l1.1-2.8m-70.6 8.2l.8-.6m45-1.7l2.6-1.6m-.6 4.9l.7 .8m102.8-.9l-.9-.3m6.6-.6l.1 2m16.3-1.5l-1.9 .5m-154.8 1.6h0m.2-.5h0m105.9 .7l0-1m-40.4 5.2l3-.2m313.1 2.2h0m-318.1 .8l-.2-1m63.9 3.3l1.2-1.6m13.9 1.7l.4 .9m1.6-.3h0m237.5-2.3l-2.9 .7m4.2-.8l2-.4m-388.3 4.3h0m.3 2h0m42.5-.7l1 .3m21.6-1.1l.8-.6m164.5 2.4l1.1-1.7m77.7-.6l-1.5-1.4m-323.8 7.8l-2.2 2.1m74.8-4.7l2.3-1.9m17.3 3.6h0m.2-1.6h0m22.9 1.5l-2 .1m19.4 .6h0m.3-.3l-.4-.9m84.8-.8l3-.3m3.8 .5l1 0m23.5-1.1l-.6-.8m-108.7 5.7h0m6.7-.7l1 .3m101.8 2.8l-1 .2m81-3l.9-.4m28.6 .5l-.4 .9m.8 1.3h0m-318.9 2.3h0m44.1-1.1l-.7-1.9m82.8 2.6h0m.4 2.7l1.1-1.7m52 .9h0m79.6-1.6l.8-1.8m66.2 4.1l-.9 .5m7.4-2.2l-.8-.7m1.7 1.1h0m-357.1 5.4l-1.8 2.4m35.7-5.4h0m234.1 1.9h0m10.7-1.8l-.2 1m69.6-1.4l-.4-.9m14.7 1l1.7-2.5m-345.2 9.9l.1-3m42 1.6l.7-.7m39.9-1.8h0m39.3 2.5l-3-.5m58.7-.5h0m122.5 .3l.9-.5m.2 1.7h0m20-3.1l.1-1m-198.7 5.2l.9-.5m214.8 2.3l-.8-.6m-359.2 3.4l.4-.9m30 3.1l2-.3m9.7 .7l-.1 1m39-1.7l1.1-1.7m-.7 .9l.8 1.8m-.6-2.4l-2.4-1.8m22.9 3.4l-.7 1.9m81.6-3.6h0m11.2 1.4h0m14.2-2.4l.5-.9m1.7 .9l.4 2m88 .6l-1.2 2.7m45-4.2l-.8 .6m18.1-1.9l2.2-2.1m-376.1 9.4h0m58.7-1.1l2.9-.7m51.9-1l-2.3-1.9m3.6 1.8l-.8-2.9m33.4 4.5l3 .1m-3 .1h0m104.6-.3l-1.3-1.5m16.6 3.6l-.6-.8m59.8 .3l-.9-.4m-284.7 2.3l-1.5 1.4m67.1-2.7h0m39.8 1.2l1.7-1m124.9 .7l-.9 .4m3.7 1.6h0m48.5-1.2h0m-308.7 4.5l0 1m14.4-2.4h0m1.4 2.5l.1-1m79.8 .4l-1.4-2.7m152.5 3.8l0 2m.7-2.2l.6-.8m3.8-1.4l.7-.7m107.9 .2h0m-282.7 4.4h0m.6-.7l.5 .9m104.5 .1l-1.3-2.7m78.5 4.5h0m28-.4l-2 0m-241 1.7l-1.8-.8m10.5 .6l1 1.7m54.6-1.2l-1.8 2.4m-75.6 2.7l-.6 .8m10.4 .5h0m107.9-3.3l.8-.6m164 3.5h0m-312.7 1l-.6-.8m98.4 1l.4 .9m62 .5l-.4-.9m73.6-.5l-1.9-.6m103.7 1.4h0m11.7 2.3l1-.3m16.2-.9l-.1 1m-368.1 4l1 .3m51-.3l-.9-.5m40 .9l2.2 2.1m162.4-2.2h0m78.3-2.7h0m-290.6 5.6l-.1 1m5.2-.6l-.6 .8m20-1.5l-2.1 2.2m16.7-.7h0m16.2-.3h0m47.1-1.7l-.9 .3m19.8-1l.2-1m147.1 3.1l-.5 .8m-318 4.1l-2-.4m16.1-.4l-.7-.7m.9-1.5l.9-2.9m40.5 3.7l.2-1m12.1 .4l2.5-1.6m-2.4 1.9l.6 .8m33-.6h0m.2-.3l2.3 2m61-1.8l-.7-.7m1.3 2l-.2-1m17.1 1.7h0m92.1-2.6l-3-.3m-276.2 5.5h0m1.7 .1h0m32.6-.8l-.7-.7m108.4-.7h0m34.1 2.2l2.6 1.5m14.3-.1h0m44.1-.2l-3-.2m29-2.6h0m-238.2 4.2l-.2 1m10.1 .4l.4 .9m1.2-1.9l.6-1.9m61.8 .8l1.8 .8m102.9 2.8l.8 2.9m72.6-4l-1 .2m43.5 .4h0m-304.9 2.9l-.4-.9m200.3 1.7h0m53.5-1.3l-.6-1.9m76.9 1.3l0-2m42.4 4.8h0m-315.3 2.2l.3-1m3.7 2.1l2 .3m.1-.6l-.9-.4m88.2-1.2h0m-119.3 4.4l-2 .2m64.4 1.2l.1-1m89.1 .1h0m2.5-2h0m50.2 .1l.3 1m10.9 .7l.2 1m14.1-.4l-.6-1.9m16.5 2.2l1.9-.5m89.6-.7h0m-350.7 3.5l3 .2m37.1 .9l-1 .2m18.8-1.1l1.5-1.4m13.9 3.6l.4-2m18 2.2h0m32.1-1.2l.4 .9m106.8-2.7h0m9.7-.4l-1.2 1.6m44.1 1.7l0 2m-255.3 .9l.3 1m61.4-3.4l0-1m42.3 3.6h0m49.5-1.9l1.6-1.2m-162 4.9l-2.1 2.2m144.4 1.1l-2.3-1.9m54.1-.2l2 .1m-164.6 2.4l.3 2m12.2-.5l-2.8 1.1m19.1 .2l1-.2m6.5-2.5l-2.6 1.5m91.7 1l-.5 3m53.7-3.7l-1.2 1.6m57.6-1.1l-.9-.5m67.8-1.7l-.7 .7m-252.2 5.9l1 .1m121.5-1.1l2.9 .8m11.3 0l2 0m-.3-1.5l.5 .9m-.4 .7l-.8-.6m106.3 .1h0m-259.3 4.3l1.4 2.6m164.6-3.9l-1.9 .5m54.2 2.9h0m.4 .2h0m-165.5 3.3h0m26.2 1l2 .4m71.2 29l.6-.8m81.3 5h0m.3-.8h0m-197.4 11.8l-.9 .4m204.1 4l.4-.9m-168.9 29.3l.2-1m.3 1.1h0m-172.5 9.1l-2.7-1.3m-2.3 16.4l-.9 .5m3.2 1.2h0m301.3 2.1l.7 .7m19.4 1.9l.9-.5m50.8 6.1l-.2-2m-44.7 19.1h0m-157 4.1l-2.8 1.1m12.7 21.4l.2-1m1.1 1.7l-.8 .6m1.4-.4l.2-1" stroke="#151515" stroke-width="0.9" stroke-linecap="round"/>
<path d="M839.3 496.7l.2 1m27.7 1.4l0 2m-11.8 7.6h0m1.6 .1l.6-1.9m-91.5 6.4h0m7.1-.7h0m52 1.3l1 .2m-18.6 3.7l1.6-1.2m-88.5 4.5l-.1 1m12.7-3l.7-1.9m8 2.9l1.7-1.1m2.2-.6h0m.7 .2l-1.1-1.7m50.7 4l.3-1m1.8-1h0m91.3 1.8l-.6 .8m-168 .6l.6 2.9m126.5-2.3l2.6 1.5m-46.4 3.8l-1-.2m-95.7 3.3l-2.4-1.8m4.2 2.6l-.1-1m7.2 1.4l.1 1m6.7-.9l-2.2 2m2.9-3.3h0m23.1 2h0m-3.4 .9l-1.3-1.5m69.5 5.5l0-2m1.6-1.2l.1-1m2.2 2.7h0m45.5 4.8l-2.7-1.3m-138.9 5.6l.2-1m46.3 .8l-1.6 1.1m63.4-2.3l-1 0m1-.9l.7-.7m34.7-.2h0m-151 7.6h0m12.4-1.4h0m23.4 .3h0m16.3-.7l.2-1m-26.8 6.1l.4-2m48.2 .9h0m-81.4 4.4h0m52-1.6h0m33.1 2.8l2.6-1.5m275.6-.4h0m-298.8 2.6l1 .2m34.1-.6l-.2-1m-24.3 8.8h0m37.8-1.5l.9 .3m-97.9 5.1l-.1 2m81.3-5.2l-1.9 .8m20.1-.3h0m43.1 1h0m19.3-1.6l-1-.3m-104.8 6.9l-1-1.8m53.7-.8l-.6 1.9m-111.3 5.2l.7 .7m54.5-1.5h0m78.3-.6h0m-79.9 4.3h0m-44.4 5.2l-2.1-2.1m135.3 0l-.8-.6m1.2-.2l1 .1m-65.1 5.8l2.4 1.7m.1-1.4h0m-86.8 2.7h0m48.6-.3h0m1.1-.8l-1 .1m24 2l-1-.2m-12.7 1.6l-1 .2m45 3.3l.4-2m71-1.4l-2.9 .9m-153.2 6.3l-1.2-1.6m100.3 .3l-.6 1.9m30.8-1.9h0m-110.6 2.9l2.9 .8m-2.4 .8h0m52.2-.5l-.9-1.8m34.3 0h0m48.6 2.4l-1 .1m24-.3l-1 .2m1.9-.7h0m-181.7 5.6l-2.8-1.1m36.4 1.5l-.9-.4m5.5 .2l-.9 .4m28.9-3.5l-1.6 1.2m7.8-1.4l-.5 .9m38.3-.5h0m32.2 1.5l.2-3m.6 2.4l.4 .9m14.8-1.3l1.4 2.7m4.3-2.5l1-.1m-184.8 3.3l2.9-.7m18.3 3.1l-.3 1m10.9-4.1l-.6 1.9m7.4 1.2l-3 .3m10.9 .4l.9 2.9m16.6-4l1.6 1.1m62.4-3.3l-1 .2m124.8 2.8l.1-1m1.2 1.3h0m47.8-1h0m-255.3 2h0m1.4-.4l.5 .9m10.1 1.1l.3 2m179.2-1.2l.6-.8m-.5 .7h0m23.3 .1l.1 1m10.4-4.2l1 0m-228.4 4h0m107.3 .6l-.6 .8m103.9 .6l.4-.9m8.2 .4l-.9-.4m-237.6 3.6h0m41.8 .7l2.4 1.8m-1.9-2.3l-.4 2m1.8-1.3h0m153.2-1.5h0m1 .7l.1 2m30.1-2.6l.1-2m54.2 3.5l0 1m-293.1 4.3l-.6-.8m101.5-.8l-.1-1m55.8 2.3l1-1.7m44.4-.6l-.2-1m3.9 4.4l.2 2m61-4.5l-.3-1m2.1 1.7l-1-.3m48.5 1.6h0m-310.2 1.1h0m4.8 2.3l.9-.5m88.3-2.3l1-.2m17.2 3l-.5 1.9m207.2-1.9l-1.6-1.2m3.1 2.4l1 0m-337.9 2l-.8 .5m15.1-.2h0m3.7-1.9l.1 1m38 1h0m1.1-2l.8-.6m19.1 .3h0m154.9 2.4h0m.5-.3l-1.8 2.4m106.3-4.1l-1.3 1.5m1.4-1.6l-.2-1m1 4.5h0m16.1-3.4l-.7-2.9m1.3 4.2h0m-308.7 3.8l.1-1m1 1.1h0m.5 0l.5 .9m11.9-1.2l-3-.2m113.4 2.5l1-.2m28-3.3l-1-.3m11.5 1.6l-2.1-2.1m96.1 4.1h0m55.8-1l2.6 1.6m15.7-.4h0m-336.1 3.3h0m34.6-1.2l-.9-.3m39.5-1.1l-2-.1m35 2.4l.6-.8m166.7 .2l2.2-2m-315.5 5.4h0m90.3 1l-2.8-1m30.3 .4l.8 .6m93.8-1.3l2 2.2m60.4-.5l.5-.8m-193.6 4.7h0m162.4 .8l-.6 .8m39-1.3h0m1.7 .1l-1.5-2.6m2 3l2.9 .7m79.4-3.5h0m1 1l-.1-2m7 2.3l.7-.7m-.1-.3h0m-328.9 6.6l-3 .3m17.4-.7h0m19.5-2.2l-1.4 2.6m224.5-2.9h0m31.7 2.9l-.5 3m34.3-6.3h0m18.9 1.6h0m-318.4 4.3l.3-3m-.2 3.3l.8-.6m1.4-1.2l-.3-.9m225.3 2.1l2.6-1.5m20.4 0l.1-1m-273.8 5.4l-.9 .3m40.5 0l.5 .9m168.8 1.3h0m61.2-1.3l1.4-1.4m43.9 3.3h0m-343.4 .4h0m83.6 1.6l-.2-1m175 .9h0m74.2-1l-1-.3m-287.1 6.8h0m40.9 .6l.4-.9m241.8-1.1l1-.1m-200.8 3l-.3-1m31.5 .5l-1.4 1.4m35.6-1.6l-1-.2m49.6 1.9l1.3-1.5m120.8 1.2l-.6-.8m-336.5 7.1l-.6 .8m63.4-2l1 .1m90.9-.4l0 3m88.6-3.9l.7 .8m51.7 .4l-1.2-2.8m-315.2 7.8l-.3-1m10.8-1.6l.8 .7m59.4 2.1h0m23.9-.2h0m11.5-.1l-.9 .4m42.6-3.7h0m24.5 3.4l-1.9-.5m32.5 .4h0m12.7-.3h0m11.4-1.6h0m1.3-1.4h0m78.2 2.9h0m9.6-2.8h0m5.2 2.7l-.8-2.9m2.1 2.2l-.6-.8m26.7 1.1l.4 .9m-357.2 1.5h0m7.6 .4h0m70.1-.9h0m129.4 1h0m1 .5l-2.7-1.3m59.8 1.4l2.9-.6m94.1 2.3l.8-.6m-362.5 3.7l-2.9 .9m93.1 .1l-2.8-1.1m64 .5l1.2-2.7m97.7 2.8l-.7-.7m77.1-1l-.4-.9m-329.9 3.4h0m37.8 3.5h0m26.2-1.8l-.8-1.8m4.1 3.4l-1.7-2.5m27-.1h0m79 1.3l-2.8 1.1m14.3-2.8l-.1-1m1.9 1.7l-.8-1.9m54.7 3.5l-.7 .8m122.2-2.1h0m-246 5.3h0m138-.7l-1.8-2.4m19.5 3h0m84.2-2.6h0m6.5 1.9l-.9 .3m1.4-.1l.7-.7m9.3 1.3h0m-372.1 1.6l.9 .4m5.2 .3h0m35 .9h0m23.1-1.5h0m1 .3l0 1m16.3 .8l-2.9-.8m23.1-1.3l.6-2.9m133.6 4.7l1-.2m147.5 1.6h0m-347.3 3.2h0m13.2-1.7l-1.5-1.3m80.2 1.5l-.7-.7m43.9 .4l-.1 1m1.5-.4l1 0m-.2-1.4l-.9-.3m21.1 .3l1 .2m-.9 .3l-.7 .7m143.9 .2l2-.1m19.4 .2l-2.7 1.3m-267.2 2.6l-1 .2m1.2 .9l2 0m5.4 .5h0m2.2-2.7l.6 .8m86.2 1.2l.7 .8m23.8-.7l1.7-2.5m-.7 1.4l3-.5m25.3-.1h0m-170.5 4.9l-2 0m80.3 1.2l2.9-.6m18.6-.4l.4 .9m5.7-.1l-.2 1m22.7-2.3l-.5 .9m-82.6 2h0m11.9 3.4h0m191.2-1.5h0m36.7 1.3l-1.5-2.6m-116.2 3.3h0m116 .8h0m-92.4 38.2l1-.2m-265.8 8l.9 .4m70.2-2.1l3 .5m277.8 2.1l1.9 .6m-202.6 5.8l-.7 .7m-121.5 36l-2 .2m-11.2 2l-.8 .6m12.8-2.1l.9-.4m-21.5 15.5l1.1-2.8m353.8 16.2h0m-110.3 10.6l-1 .1m1.3 .6l1.4 2.6m-94.1 1.9h0m97.9 22.7l-.7 .7m.7-.1l.4-3m-12.8 15.2h0" stroke="#151515" stroke-width="1.1" stroke-linecap="round"/>
<path d="M867.9 498.9l-3 0m-97.4 15.2l.1-1m-33.7 5.8h0m72.4 .7l1.7-1m11.8 .7h0m-78 4.6h0m1.4-1.2h0m85.9 3.2l1.9-2.4m4.7 1.9l.5 1.9m10.7-3.5l.7 .7m-20.3 1.7h0m10.1 2.9h0m3.5-.5l-2.9 .8m-121.5 3.8h0m5.7-2.2h0m17.8 2.4h0m1.5 .5l.7-.7m2.8 .8l-2.6-1.5m6.2 .8h0m4.9 2h0m4.3 .3l-2.8-1m28.1 .6l.2-1m7.5 3.3h0m22.7-1.8l1.9-2.3m-32.8 7.8l-.5 .9m22.4-2.9h0m-.1 3.5h0m-83.7 4.3l-.8-.6m5.4 .6h0m23.2 2.7l-.9 .4m-13.2 3.5h0m4.9-.5h0m32.8-1.7l-.6 1.9m15.5 .1l2.5 1.7m-60.4 .2h0m26.6 1.8h0m-1.5 1.2l2.8 1.1m34.7-1l-.7 .7m-5.8 4.7l0-1m96 1.6l2.9 .7m-101.6 2.5h0m36.3-.5h0m1.9-.8l-.6 .8m43.5 1.7l-1.7 1.1m-104.4 3.1h0m1.3 .5l.7 1.9m17.4-3.2l3 .5m-1.8-.5h0m36.8-1.2l-2.8 1.1m15.2 .4l.2-1m34.3-1.4h0m-145.4 5.2h0m56 .7l-1-.3m22.3-.9l.9-.4m55.1 .8l-1.7-1m13.3 2.8l-1 .1m20.5-3l2 .3m111.8 1.4l.8 .5m75.4 5.4l-2 0m-273.5 3.1h0m.6-1.2l2.2 2m2.3 4.2h0m4.8-1.7l.4-.9m-44.6 4.9h0m1.7-.2l-.4 .9m122.9-1.1l-.4 .9m-2 5.4l2.1-2.2m-145.4 5.7h0m.6-1.5l.8 .6m3.2 .1l-.8 .6m13-.5l-.2 2m2.1-2.6l.2 1m58.9-2.9l-.8 2.9m65.5-3.1l-1-.1m-132.4 6.1h0m4.5 1h0m47.7-2.7l1.7-1.1m33.9 4.6l-.3 3m48.6-5.8h0m-119.9 6.1h0m280.7 .6l-.6 .8m-259.2 1.4h0m2.4 .1l2.3 1.9m.6-2.9l.9-.4m44.4 2.4l.4-.9m.4 .9l1-.3m99.8-1.9l-.2-1m141.5 1.2l2.9 .6m-377 3h0m5.6 3.2l-.4-.9m26.7-.2l2.8-1.1m.9 1.9l-1.4-2.6m300 2.7l2.2 2m-320.2 1.7l.6 .8m39.6-3.1l2.8-1m86.3 1.4h0m-100.1 4.5l.7-.7m82.6 1.4l-2 0m94.2-2.6l.4 .9m1-.9h0m3.8 3.3l-1 .2m51.1-2.6h0m.5 .5h0m96.1 1.8l-.9 .4m12.9-.5l.6-.8m-342.8 2.9l-.7-.7m17.8 1.6l-1 .1m113.9-.3h0m129.1-1.5h0m82.8 .6h0m-370.5 4.4l-.2 1m2.1-2.2l-2.9 .9m8.5 1.3l.6 .8m2.5-1.5h0m3 .6h0m32.2-.7l-.8 .6m12.2-.5h0m91.7 1.4h0m4-2.2l1.3-2.7m-150.5 8.1h0m6 1.4l-.1 1m2.3-1.4h0m16.5-2.9l-.9 .4m161.9 2.4l.3 1m24.3-1.4l-1.6 1.2m44.3-.7l.9-.5m48.3 .5h0m-315.7 .9l.9-2.9m2.5 5.4l-1.4-1.4m17-.8l.4 .9m39.3 .9h0m256.1 .1l-.3-.9m45 0l-.8-.6m1.2-.2h0m-358.1 6.4l-.4 2m4.1-3.2l-1.8-.9m105.2 1l2 .2m4.9 .5l.6-.8m52.8-.4l-1 1.7m88.5 .2l.7 .7m-.5-.9l-1.8-.9m16.6 .2l-1.1 1.7m56.7-.8l1.6-2.5m-326.1 5.8h0m79.8 .2l.6-1.9m-.4 1.8l-.5 .9m37.2-1.4l.6 .8m-.5-1.8l2.1 2.2m149.3-2.8h0m121.4 1.3h0m-28.8 3.6l.8 1.8m-338.1 4.3l-.1-3m1.5 2l1.9 .5m17.7-.9l-1.8-2.4m3.7 3.6h0m154.1-1.6h0m73.3 .3l-.9-.5m30.6-1l-.9 .5m30.4 1.3h0m41.3 .3l2.8 1m12.6-.2l1.4-1.4m-.9 1.6l0 1m-304.7 0l-2.1-2.1m274.4 1.7l.2 2m-300.7 4.7l2.7-1.2m-.8 0l-1-.2m28.5-1h0m26 .9h0m36.3 1.7l-1.8 2.4m1.8-3.1h0m4.5 .2l-1.9 .7m25.5 1.4h0m99.1 .2l-.9 .4m8.2-.8h0m91.9 2.5l-.3 .9m-361.5 2.7l-.6-.8m1.1 1.8l.2 2m37.3-2.1l-2 2.2m11.2-3.5l.9 .3m-.1-.2l1-.3m114.7 1h0m79.5-1.6l.8-.6m10.6 1.1l-1 .1m114.5-1.3l.9 .4m1.9 1.5l3-.5m-367.3 2.7l-.9 .4m35.2 1.9l-1.8-.9m2.3-1.5l-.8 .5m41.1 2.1h0m15.6-1.1l-3 .1m37.4-2.2l-.6-.8m1.3 .9l-.4-.9m65.1 2.2l-.1 1m.4-1.4h0m169.8-.8l-.3-1m-378.9 4.7l.9-.3m23.8 1.8h0m37.8-.4h0m10.5 .2h0m19-1.2h0m-17.8 5.2l.8 .6m18.1 .8l-2.3-2m40.8 1.3l-1 .3m11.2 .3l1-.1m95.6-.2l-2.2-2m-222.5 5.4l-2-.4m234-1h0m149.6 0h0m-244.1 5l-.4-.9m187.5-.6h0m5.4 1.1h0m-342.9 3.4h0m44.7 2.8h0m25.7-1.7l-1.2-1.6m178.1 3.8h0m-229.6 1.9h0m64.3 1.1h0m30.7 .3h0m48.5-.7l-.5-.8m131.5 1.7h0m25.3-.8l-2 .2m24.6 0h0m8.7-.1l1.9-.7m-319.7 5.7l-2.4-1.8m13.4-.9l1.5-1.3m-.4 .8l3-.3m25.1 3.5l2.6-1.5m109.3-1l-.8 .6m133.3 1.5l-1.6 2.5m2.2-5.6h0m34.8 .2h0m-351.7 4.1l-1-.1m29.3 1h0m137.6-.4l-2-2.2m8.3 3.6l1.9-.6m-78.7 6l-.4 .9m69-2.1l.5-1.9m15 3.1l1-.3m84.8 .3h0m79.2-3.6h0m-257.6 5.1h0m34.1 .8l.1-1m35.9 2.5l1.9 .7m177.4-2.2l.9 .4m1.3-1.8l-.3 1m49.6-1.7l2.1 2.1m-206.2 3.7l.9 .4m68.4-2l-1 .1m7.3 .4h0m5.1 0l-2.8 1m106.8 2.2l-.4 .9m1.9-2.8h0m-78.5 4.2h0m72.9-1.2l.7-.7m4.9-.1h0m8.4 .1l-.6 .8m-40 4.2l1.4-1.5m-142.1 5.4l-.4 .9m-48.7 4.2h0m-70.5 33.3l.6 .8m275.2-3.6l-.2 1m3.4 1.9l.1 1m1.3-.9l-.7-.8m-202.4 6l1-.1m200 32.9h0m-336.5 9.6l.9-.3m-6.9 13.3h0m305.9 7.7l-.1-2m30.6 7.9h0m-328.5 7.6l2.7 1.3m139.5 7.6h0m179 1.3l.4-.9m-60.6 18.2h0m-32.1 14.2l.1-3" stroke="#151515" stroke-width="1.3" stroke-linecap="round"/>
<path d="M1013.1 499h0m-281 18.5l2.5 1.6m86-1.2l-3 .4m-97.3 3.3h0m87.1-3l-1.8-.9m-86 7.4l-1.9-.6m116.6 .2l0 2m.6-2.1l.9 .4m-39.8 1.3h0m-51.6 7.1l.2 1m49.7-2.5l-.8 .6m15.2-1.5h0m-67.7 3.5h0m12.1 3h0m42-2.5h0m-20.8 4.2l-.4 .9m-60.9 2.4l-2.7-1.3m95.9 2.8h0m14.1 .1l-.6-1.9m9.1 1.5l-.3 1m-78.8 3.8l3-.2m6.6 .2h0m37.8 .7l-.4 .9m277-1.3l.9-1.8m-338.4 4.9h0m3.7 1.2l1 .3m30.7-2.1l1.8 .8m39.3-1l-.7-2.9m244 4.8l-.6-.8m-325.7 3.4l-.9 .4m12.1 5.3h0m26.8-3l.7 .7m-4.6 8.3l2.4-1.7m-.8 2.5l-.5-3m1 2.5h0m19.4-1.1h0m17.5 2.5l-1.9 .5m242.2-1.9h0m.2 1.4l-.9-.4m-323.8 4.9h0m58.7-1.7h0m.7-1.3l.1 1m37.1-.7l-.9-.5m35.2 6.7h0m10.2-.7h0m-78 4.3h0m17.5 7.3h0m-52.3 4.1h0m13.5 .5l.9-.4m9.1 1.6l-1.8 .8m13.9-1.7l-.3 1m.4-3.1l-3 .5m7.5-.1l2.1-2.2m96.7 3.6l1 .2m.4-2.2h0m-67.4 6.6l.6-.8m46 1.2l-.9-.4m4.6-1.3l-1.7-1m-87.1 6.7h0m1.7-.2l-.5-.9m1.5-.9l0-1m1 1.5l.5-.9m-.4-.7l.1-3m17.2 3.1l-2.6-1.5m4.5 4.6l0 1m72.1-4.4l-1-.1m7.9 1.4l-1 .1m-77 3.5l-.4-.9m13.1 3.7l-.9 .4m-90.2 3l.1-1m10.9 .9h0m.3-.4h0m56.2-1.3l-1 .3m18.5-.9l.9 1.8m6.3 .7h0m23.5-1.4l1 .2m1.7-.2l3-.4m9.3 .7l-.4-.9m-151.8 2.9l-1 .2m22.8-.3l2.2 2m23.1 1.2l-.3-.9m1.2 .3l-.4 .9m29.8-.2h0m53-.7l-1.3-1.5m171.3 2.7l.1-1m27-1l-1.1 2.8m4.4-3.4l.8-.7m76.1 1.8l-1.2-1.6m-371 5.2h0m22.2-1.4l1.8 .8m5.6-.1l.4 2m34.3-3.2l.8 .6m37.9 1.4l.9-.5m32.5-.5l1.8-.8m78.1-.3l.1 3m83.5 .2l.6 .8m-319.8 3.7l-.1 2m348.7-2.8l.5-1.9m23.1 .7l-1.6 1.2m-325.1 1.7h0m61 2.9h0m48.7-1.6l-.9-.5m135.2 1.1l-1.3 2.7m-174.2 .5l2.2 2m38.4 0h0m43.8-3.5h0m14 .6l-1 1.7m54.5 .3l-2 .4m10.8 .5l.2 1m1.6-3.1l1.9 .6m60.8 1.4l-.7 .7m1.3-2.7l1.2 1.6m-.9-.7l1 .1m7.6 .7l-2.4 1.8m-334.6-.7l1.6 1.2m30.5 1.5h0m2.1-.3l-.1 2m54.2-4.8h0m1.3 .9h0m101.4 .7l-.8 2.9m146.4-4.3h0m5.7 .6h0m-320.5 4.7l.2 3m15.1-1.7h0m204-1.3h0m71.8 1.2l.1-1m1.8 0l-.3 3m16.9-4.3h0m3.9 3.3l-.6 .8m-312.8 .8l1 .1m69.8 2.3l.6-2.9m27.9 1.8h0m213.2-1.5l-.9 .5m-326.3 4.6l-.5-1.9m33.8 .1l1.4 1.4m10.3 .2h0m38-.5l-2.9-.8m4 .8l.7-.7m1.7-.5l-.3 3m21.4 .2l0 3m176.1-5.9h0m-165.1 3.9l.1 1m242.3-1l.2-1m-392.8 5.8h0m4.5-1.2h0m29.5 3.6l-.6-.8m20.2 .3l2-.2m190.5-.2l-.3 .9m21.1-2l-.2-3m-245.3 5.3l-2.6-1.6m9.2 5.1h0m6.2-3.4h0m60.4 .9l.7-2.9m10.6 4h0m265.5 .5l-2 .3m22.7-1.1l-1-.3m-319.8 3.9h0m249.5-.2l.5-.9m40.9 .7h0m-339.2 5h0m27.7 .2l-.9 .5m10.3-.7l1.9 .5m44.2-1.9l-2.8 1.1m132.1-1h0m21.5 2.4l1-.2m77.3 0h0m67.8 .8h0m-207.7 2.8h0m63.8-1.2l1.8 2.4m3.1-1.6l-.9-.5m1.6 .4h0m21.8-.3h0m78.8 1.9l1.6-1.2m-304.5 4.5l-.9 .4m194.5 .1l.8-.6m3.9-.9l-.3 2m42.5-2.4h0m1-1l-.1 3m43.8-3l.3-3m-325.5 7.2h0m32.1-.3h0m208.8 .8l2.9-.7m62.2 .1l1 0m-324.3 3.9h0m102.3 1.1l1 .3m-.2-.8l2.1-2.2m36.1 2.5h0m143.4 1.1l-.6 2.9m53.3-2.4l.9 .5m.5 .2l2.4-1.8m-340.4 4.7l.3-1m31.5-.7l1-.2m11.6 .2h0m39.8 1.4l-.6-2.9m30.5 3.6l.4 2m1.4-2.9l-.7-.7m25.2-.6h0m52.5 2l2.2-2m33.8 2.6l-1.1-1.7m34.1-1.7l.9 .5m44.6 .5l-2.9 .8m14.3 1.2l-2.3-1.9m54.2 2.1h0m-356.3 1.4l1 0m197.5 .9h0m7.7 1.8h0m97.2-1.3l1-.3m-306.4 5.9h0m11.2-.1l.7-.7m98.8-1.8h0m27.4 .4l.3-2m51.1 2.1l-.9-.5m136.1-.5l1-.2m-340.7 5.2h0m109.5 .6l-.9 .3m86.9-.8l-.2-1m119.7 1l.9-.4m53.9 .6l1.7 1.1m-359.5 3.6l.2-1m3.4-.6h0m2.6 2.6l1-2.8m144.2 1.3l.2-3m57.8 4.8h0m61.3-.5l1.3 2.7m.2-4.2l.9-.4m39.6 1.3l1.7-2.5m45.7 2.9l-.4 .9m29.3-.4h0m-361.2 3.1h0m2 .1h0m10.6-.7l-.4-.9m.5 2.6h0m39-2.6l.2-2m14.2 4.4l-1.3 1.5m9.6-4.8l.3 1m14-1.3l-.8 .6m56.5 .6l-1.6 1.2m2.7-2l-.3-1m21.9 3.8l-.4 3m4.6-3h0m.6-.8h0m-195 4.6h0m36.1 .5l2.7 1.4m5-2.2l.7-.7m79.8-.5l-2 0m20.9-1.1l-1.3-2.7m31 6h0m160-2.5l-.9 .4m-300.3 2.9h0m62.1 1.2l1.9-.5m135.9 1.4h0m68.4-.8l-.1 1m30.5-1.7l-.8 .6m2-1.3h0m-224.9 4.9h0m85.9-1.3l-.3 .9m10.2 2.5h0m104.3-2l.3-1m14.2 1.2l.2 3m1.1-3.9l1 .2m-224.1 3.7h0m68.8 1l1.5 1.3m-1.2-1.3l-1-.1m192.6 1.1l.2-1m-128.5 2.5l-.8-.6m1.2 1.8l1.5-2.6m-53.4 8.6l-1.5-1.3m112.1 1.5h0m1.6-2.3l-1-.3m-227.9 40l-3 .2m141.7 60.8h0m-205.2 2.4l.1 1m1 1.3h0m305.6 5.4h0m-295.9 13.6l-.1 1m319.6 9.8l1.9-.6" stroke="#151515" stroke-width="1.6" stroke-linecap="round"/>
<path d="M732 514l-1.7-.8m1.3 1.3h0m-21.6 169.5l-1.2-.5m2.1-.4h0m54.1 22.9h0m.7 .8h0m142.3 22.2l1.4 .1m-1-1h0" stroke="#000" stroke-width="3.0" stroke-linecap="round"/>
</g>
<rect x="238.5" y="51.5" width="416" height="416" fill="none" stroke="#000" stroke-width="3"/>
<rect x="701.5" y="51.5" width="416" height="416" fill="none" stroke="#000" stroke-width="3"/>
<rect x="238.5" y="485.5" width="416" height="416" fill="none" stroke="#000" stroke-width="3"/>
<rect x="701.5" y="485.5" width="416" height="416" fill="none" stroke="#000" stroke-width="3"/>
<rect x="997" y="879" width="110" height="4" fill="#000"/>
<path d="M48.5 35.5L67 5.5L75 35.5M50.5 25.5L72 23.5" stroke="#000" stroke-width="6.2" fill="none" stroke-linecap="round" stroke-linejoin="round"/>
<text x="354.5" y="32.8" font-size="37.7" textLength="212" lengthAdjust="spacingAndGlyphs">CA2: Female</text>
<text x="811" y="32.8" font-size="37.7" textLength="212" lengthAdjust="spacingAndGlyphs">CA3: Female</text>
<text transform="translate(186 271.7) rotate(-90)" font-size="37" text-anchor="middle">WT</text>
<text transform="translate(196.3 782.3) rotate(-90)" font-size="42">CB<tspan dy="10.5" dx="4">2</tspan><tspan dy="-10.5">R</tspan><tspan dy="-10.5">-/-</tspan></text>
<path d="M50 1021V1054M50 1021C58 1019 68 1022 68 1030C68 1036 58 1038 51 1038M51 1038C62 1037 71 1040 71 1045.5C71 1051 60 1054 50 1054" stroke="#000" stroke-width="6.4" fill="none" stroke-linecap="round" stroke-linejoin="round"/>
<text x="378.6" y="1064.7" font-size="36.7" textLength="122.5" lengthAdjust="spacingAndGlyphs">Female</text>
<text x="987" y="1064.7" font-size="36.7" textLength="83.5" lengthAdjust="spacingAndGlyphs">Male</text>
<text x="1.3" y="1277.1" font-size="37.2" textLength="66.5" lengthAdjust="spacingAndGlyphs">CA2</text>
<text x="1.3" y="1744.8" font-size="37.2" textLength="66.5" lengthAdjust="spacingAndGlyphs">CA3</text>
<rect x="227.8" y="1378.8" width="29" height="48.2" fill="#ebedec"/>
<rect x="271.4" y="1384.9" width="29" height="42.1" fill="#fbc688"/>
<rect x="343.6" y="1408.9" width="29" height="18.1" fill="#ebedec"/>
<rect x="387.2" y="1398.9" width="29" height="28.1" fill="#fbc688"/>
<rect x="459.4" y="1404.9" width="29" height="22.1" fill="#ebedec"/>
<rect x="503.0" y="1401.9" width="29" height="25.1" fill="#fbc688"/>
<rect x="575.2" y="1414.0" width="29" height="13.0" fill="#ebedec"/>
<rect x="618.8" y="1407.9" width="29" height="19.1" fill="#fbc688"/>
<path d="M242.3 1372.8V1384.9M234.3 1372.8h16M234.3 1384.9h16" stroke="#000" stroke-width="2" fill="none"/>
<path d="M285.9 1379.8V1390.0M277.9 1379.8h16M277.9 1390.0h16" stroke="#000" stroke-width="2" fill="none"/>
<path d="M358.1 1406.2V1411.6M350.1 1406.2h16M350.1 1411.6h16" stroke="#000" stroke-width="2" fill="none"/>
<path d="M401.7 1387.7V1410.2M393.7 1387.7h16M393.7 1410.2h16" stroke="#000" stroke-width="2" fill="none"/>
<path d="M473.9 1402.9V1407.0M465.9 1402.9h16M465.9 1407.0h16" stroke="#000" stroke-width="2" fill="none"/>
<path d="M517.5 1397.6V1406.3M509.5 1397.6h16M509.5 1406.3h16" stroke="#000" stroke-width="2" fill="none"/>
<path d="M589.7 1412.4V1415.5M581.7 1412.4h16M581.7 1415.5h16" stroke="#000" stroke-width="2" fill="none"/>
<path d="M633.3 1402.3V1413.6M625.3 1402.3h16M625.3 1413.6h16" stroke="#000" stroke-width="2" fill="none"/>
<circle cx="247.6" cy="1405.0" r="5.6" fill="#fff" stroke="#000" stroke-width="2.1"/>
<circle cx="242.6" cy="1324.9" r="5.6" fill="#fff" stroke="#000" stroke-width="2.1"/>
<circle cx="233.5" cy="1403.3" r="5.6" fill="#fff" stroke="#000" stroke-width="2.1"/>
<circle cx="236.4" cy="1337.3" r="5.6" fill="#fff" stroke="#000" stroke-width="2.1"/>
<circle cx="236.1" cy="1410.6" r="5.6" fill="#fff" stroke="#000" stroke-width="2.1"/>
<circle cx="244.3" cy="1414.7" r="5.6" fill="#fff" stroke="#000" stroke-width="2.1"/>
<circle cx="237.6" cy="1397.8" r="5.6" fill="#fff" stroke="#000" stroke-width="2.1"/>
<circle cx="239.8" cy="1341.6" r="5.6" fill="#fff" stroke="#000" stroke-width="2.1"/>
<circle cx="248.8" cy="1341.0" r="5.6" fill="#fff" stroke="#000" stroke-width="2.1"/>
<circle cx="242.6" cy="1349.7" r="5.6" fill="#fff" stroke="#000" stroke-width="2.1"/>
<circle cx="236.7" cy="1357.7" r="5.6" fill="#fff" stroke="#000" stroke-width="2.1"/>
<circle cx="233.0" cy="1362.0" r="5.6" fill="#fff" stroke="#000" stroke-width="2.1"/>
<circle cx="251.3" cy="1405.5" r="5.6" fill="#fff" stroke="#000" stroke-width="2.1"/>
<circle cx="247.3" cy="1359.6" r="5.6" fill="#fff" stroke="#000" stroke-width="2.1"/>
<circle cx="251.6" cy="1364.5" r="5.6" fill="#fff" stroke="#000" stroke-width="2.1"/>
<circle cx="241.0" cy="1369.0" r="5.6" fill="#fff" stroke="#000" stroke-width="2.1"/>
<circle cx="238.0" cy="1367.0" r="5.6" fill="#fff" stroke="#000" stroke-width="2.1"/>
<circle cx="240.4" cy="1376.6" r="5.6" fill="#fff" stroke="#000" stroke-width="2.1"/>
<circle cx="246.0" cy="1375.7" r="5.6" fill="#fff" stroke="#000" stroke-width="2.1"/>
<circle cx="238.5" cy="1413.2" r="5.6" fill="#fff" stroke="#000" stroke-width="2.1"/>
<circle cx="234.9" cy="1364.5" r="5.6" fill="#fff" stroke="#000" stroke-width="2.1"/>
<circle cx="235.5" cy="1400.5" r="5.6" fill="#fff" stroke="#000" stroke-width="2.1"/>
<circle cx="240.4" cy="1368.8" r="5.6" fill="#fff" stroke="#000" stroke-width="2.1"/>
<circle cx="249.1" cy="1398.0" r="5.6" fill="#fff" stroke="#000" stroke-width="2.1"/>
<circle cx="248.4" cy="1398.6" r="5.6" fill="#fff" stroke="#000" stroke-width="2.1"/>
<circle cx="232.4" cy="1406.7" r="5.6" fill="#fff" stroke="#000" stroke-width="2.1"/>
<circle cx="236.1" cy="1410.4" r="5.6" fill="#fff" stroke="#000" stroke-width="2.1"/>
<circle cx="248.5" cy="1407.9" r="5.6" fill="#fff" stroke="#000" stroke-width="2.1"/>
<circle cx="252.8" cy="1406.7" r="5.6" fill="#fff" stroke="#000" stroke-width="2.1"/>
<circle cx="241.7" cy="1412.8" r="5.6" fill="#fff" stroke="#000" stroke-width="2.1"/>
<circle cx="286.0" cy="1330.4" r="5.6" fill="#f6941e" stroke="#000" stroke-width="2.1"/>
<circle cx="280.7" cy="1332.3" r="5.6" fill="#f6941e" stroke="#000" stroke-width="2.1"/>
<circle cx="282.2" cy="1396.3" r="5.6" fill="#f6941e" stroke="#000" stroke-width="2.1"/>
<circle cx="291.3" cy="1336.0" r="5.6" fill="#f6941e" stroke="#000" stroke-width="2.1"/>
<circle cx="293.1" cy="1382.2" r="5.6" fill="#f6941e" stroke="#000" stroke-width="2.1"/>
<circle cx="275.8" cy="1344.0" r="5.6" fill="#f6941e" stroke="#000" stroke-width="2.1"/>
<circle cx="283.3" cy="1404.7" r="5.6" fill="#f6941e" stroke="#000" stroke-width="2.1"/>
<circle cx="296.2" cy="1346.0" r="5.6" fill="#f6941e" stroke="#000" stroke-width="2.1"/>
<circle cx="280.7" cy="1346.6" r="5.6" fill="#f6941e" stroke="#000" stroke-width="2.1"/>
<circle cx="282.7" cy="1374.9" r="5.6" fill="#f6941e" stroke="#000" stroke-width="2.1"/>
<circle cx="288.2" cy="1410.5" r="5.6" fill="#f6941e" stroke="#000" stroke-width="2.1"/>
<circle cx="285.0" cy="1348.4" r="5.6" fill="#f6941e" stroke="#000" stroke-width="2.1"/>
<circle cx="291.3" cy="1349.7" r="5.6" fill="#f6941e" stroke="#000" stroke-width="2.1"/>
<circle cx="284.6" cy="1404.9" r="5.6" fill="#f6941e" stroke="#000" stroke-width="2.1"/>
<circle cx="291.3" cy="1396.7" r="5.6" fill="#f6941e" stroke="#000" stroke-width="2.1"/>
<circle cx="279.5" cy="1358.3" r="5.6" fill="#f6941e" stroke="#000" stroke-width="2.1"/>
<circle cx="291.9" cy="1361.4" r="5.6" fill="#f6941e" stroke="#000" stroke-width="2.1"/>
<circle cx="282.0" cy="1364.0" r="5.6" fill="#f6941e" stroke="#000" stroke-width="2.1"/>
<circle cx="285.0" cy="1410.7" r="5.6" fill="#f6941e" stroke="#000" stroke-width="2.1"/>
<circle cx="288.2" cy="1369.5" r="5.6" fill="#f6941e" stroke="#000" stroke-width="2.1"/>
<circle cx="284.4" cy="1373.2" r="5.6" fill="#f6941e" stroke="#000" stroke-width="2.1"/>
<circle cx="277.4" cy="1394.9" r="5.6" fill="#f6941e" stroke="#000" stroke-width="2.1"/>
<circle cx="275.8" cy="1380.0" r="5.6" fill="#f6941e" stroke="#000" stroke-width="2.1"/>
<circle cx="283.8" cy="1381.9" r="5.6" fill="#f6941e" stroke="#000" stroke-width="2.1"/>
<circle cx="295.6" cy="1380.6" r="5.6" fill="#f6941e" stroke="#000" stroke-width="2.1"/>
<circle cx="290.6" cy="1372.0" r="5.6" fill="#f6941e" stroke="#000" stroke-width="2.1"/>
<circle cx="293.3" cy="1397.1" r="5.6" fill="#f6941e" stroke="#000" stroke-width="2.1"/>
<circle cx="280.1" cy="1395.5" r="5.6" fill="#f6941e" stroke="#000" stroke-width="2.1"/>
<circle cx="290.0" cy="1394.3" r="5.6" fill="#f6941e" stroke="#000" stroke-width="2.1"/>
<circle cx="291.3" cy="1398.0" r="5.6" fill="#f6941e" stroke="#000" stroke-width="2.1"/>
<circle cx="279.5" cy="1399.2" r="5.6" fill="#f6941e" stroke="#000" stroke-width="2.1"/>
<circle cx="283.2" cy="1404.2" r="5.6" fill="#f6941e" stroke="#000" stroke-width="2.1"/>
<circle cx="290.0" cy="1407.9" r="5.6" fill="#f6941e" stroke="#000" stroke-width="2.1"/>
<circle cx="284.6" cy="1380.1" r="5.6" fill="#f6941e" stroke="#000" stroke-width="2.1"/>
<circle cx="281.3" cy="1407.0" r="5.6" fill="#f6941e" stroke="#000" stroke-width="2.1"/>
<circle cx="286.3" cy="1412.8" r="5.6" fill="#f6941e" stroke="#000" stroke-width="2.1"/>
<circle cx="282.0" cy="1409.0" r="5.6" fill="#f6941e" stroke="#000" stroke-width="2.1"/>
<circle cx="353.0" cy="1395.0" r="5.6" fill="#fff" stroke="#000" stroke-width="2.1"/>
<circle cx="355.6" cy="1417.2" r="5.6" fill="#fff" stroke="#000" stroke-width="2.1"/>
<circle cx="364.6" cy="1395.0" r="5.6" fill="#fff" stroke="#000" stroke-width="2.1"/>
<circle cx="358.6" cy="1420.1" r="5.6" fill="#fff" stroke="#000" stroke-width="2.1"/>
<circle cx="352.2" cy="1411.4" r="5.6" fill="#fff" stroke="#000" stroke-width="2.1"/>
<circle cx="352.0" cy="1402.4" r="5.6" fill="#fff" stroke="#000" stroke-width="2.1"/>
<circle cx="365.0" cy="1403.3" r="5.6" fill="#fff" stroke="#000" stroke-width="2.1"/>
<circle cx="354.9" cy="1409.9" r="5.6" fill="#fff" stroke="#000" stroke-width="2.1"/>
<circle cx="361.4" cy="1413.6" r="5.6" fill="#fff" stroke="#000" stroke-width="2.1"/>
<circle cx="357.7" cy="1417.3" r="5.6" fill="#fff" stroke="#000" stroke-width="2.1"/>
<circle cx="367.6" cy="1409.0" r="5.6" fill="#fff" stroke="#000" stroke-width="2.1"/>
<circle cx="358.6" cy="1421.0" r="5.6" fill="#fff" stroke="#000" stroke-width="2.1"/>
<circle cx="350.2" cy="1406.0" r="5.6" fill="#fff" stroke="#000" stroke-width="2.1"/>
<circle cx="369.3" cy="1409.3" r="5.6" fill="#fff" stroke="#000" stroke-width="2.1"/>
<circle cx="367.0" cy="1408.0" r="5.6" fill="#fff" stroke="#000" stroke-width="2.1"/>
<circle cx="360.4" cy="1422.0" r="5.6" fill="#fff" stroke="#000" stroke-width="2.1"/>
<circle cx="410.4" cy="1409.7" r="5.6" fill="#f6941e" stroke="#000" stroke-width="2.1"/>
<circle cx="402.1" cy="1270.4" r="5.6" fill="#f6941e" stroke="#000" stroke-width="2.1"/>
<circle cx="402.1" cy="1297.4" r="5.6" fill="#f6941e" stroke="#000" stroke-width="2.1"/>
<circle cx="402.1" cy="1350.4" r="5.6" fill="#f6941e" stroke="#000" stroke-width="2.1"/>
<circle cx="394.8" cy="1380.6" r="5.6" fill="#f6941e" stroke="#000" stroke-width="2.1"/>
<circle cx="409.2" cy="1390.3" r="5.6" fill="#f6941e" stroke="#000" stroke-width="2.1"/>
<circle cx="394.8" cy="1399.6" r="5.6" fill="#f6941e" stroke="#000" stroke-width="2.1"/>
<circle cx="386.6" cy="1410.7" r="5.6" fill="#f6941e" stroke="#000" stroke-width="2.1"/>
<circle cx="407.8" cy="1400.6" r="5.6" fill="#f6941e" stroke="#000" stroke-width="2.1"/>
<circle cx="392.0" cy="1408.0" r="5.6" fill="#f6941e" stroke="#000" stroke-width="2.1"/>
<circle cx="395.8" cy="1412.6" r="5.6" fill="#f6941e" stroke="#000" stroke-width="2.1"/>
<circle cx="408.8" cy="1412.6" r="5.6" fill="#f6941e" stroke="#000" stroke-width="2.1"/>
<circle cx="401.3" cy="1417.3" r="5.6" fill="#f6941e" stroke="#000" stroke-width="2.1"/>
<circle cx="412.5" cy="1408.0" r="5.6" fill="#f6941e" stroke="#000" stroke-width="2.1"/>
<circle cx="401.3" cy="1404.8" r="5.6" fill="#f6941e" stroke="#000" stroke-width="2.1"/>
<circle cx="385.3" cy="1411.8" r="5.6" fill="#f6941e" stroke="#000" stroke-width="2.1"/>
<circle cx="388.3" cy="1409.9" r="5.6" fill="#f6941e" stroke="#000" stroke-width="2.1"/>
<circle cx="403.6" cy="1418.7" r="5.6" fill="#f6941e" stroke="#000" stroke-width="2.1"/>
<circle cx="399.5" cy="1406.0" r="5.6" fill="#f6941e" stroke="#000" stroke-width="2.1"/>
<circle cx="401.9" cy="1405.0" r="5.6" fill="#f6941e" stroke="#000" stroke-width="2.1"/>
<circle cx="402.4" cy="1419.4" r="5.6" fill="#f6941e" stroke="#000" stroke-width="2.1"/>
<circle cx="404.0" cy="1421.0" r="5.6" fill="#f6941e" stroke="#000" stroke-width="2.1"/>
<circle cx="474.8" cy="1412.4" r="5.6" fill="#fff" stroke="#000" stroke-width="2.1"/>
<circle cx="467.0" cy="1394.6" r="5.6" fill="#fff" stroke="#000" stroke-width="2.1"/>
<circle cx="479.4" cy="1410.6" r="5.6" fill="#fff" stroke="#000" stroke-width="2.1"/>
<circle cx="481.4" cy="1395.8" r="5.6" fill="#fff" stroke="#000" stroke-width="2.1"/>
<circle cx="468.8" cy="1400.6" r="5.6" fill="#fff" stroke="#000" stroke-width="2.1"/>
<circle cx="480.8" cy="1398.2" r="5.6" fill="#fff" stroke="#000" stroke-width="2.1"/>
<circle cx="463.4" cy="1402.4" r="5.6" fill="#fff" stroke="#000" stroke-width="2.1"/>
<circle cx="469.1" cy="1412.8" r="5.6" fill="#fff" stroke="#000" stroke-width="2.1"/>
<circle cx="485.0" cy="1403.0" r="5.6" fill="#fff" stroke="#000" stroke-width="2.1"/>
<circle cx="473.1" cy="1413.0" r="5.6" fill="#fff" stroke="#000" stroke-width="2.1"/>
<circle cx="467.0" cy="1405.4" r="5.6" fill="#fff" stroke="#000" stroke-width="2.1"/>
<circle cx="480.2" cy="1406.0" r="5.6" fill="#fff" stroke="#000" stroke-width="2.1"/>
<circle cx="473.0" cy="1413.8" r="5.6" fill="#fff" stroke="#000" stroke-width="2.1"/>
<circle cx="474.0" cy="1417.2" r="5.6" fill="#fff" stroke="#000" stroke-width="2.1"/>
<circle cx="474.8" cy="1418.0" r="5.6" fill="#fff" stroke="#000" stroke-width="2.1"/>
<circle cx="467.8" cy="1409.4" r="5.6" fill="#fff" stroke="#000" stroke-width="2.1"/>
<circle cx="470.6" cy="1412.0" r="5.6" fill="#fff" stroke="#000" stroke-width="2.1"/>
<circle cx="477.8" cy="1410.8" r="5.6" fill="#fff" stroke="#000" stroke-width="2.1"/>
<circle cx="525.2" cy="1358.6" r="5.6" fill="#f6941e" stroke="#000" stroke-width="2.1"/>
<circle cx="525.7" cy="1409.1" r="5.6" fill="#f6941e" stroke="#000" stroke-width="2.1"/>
<circle cx="510.5" cy="1375.7" r="5.6" fill="#f6941e" stroke="#000" stroke-width="2.1"/>
<circle cx="512.0" cy="1385.0" r="5.6" fill="#f6941e" stroke="#000" stroke-width="2.1"/>
<circle cx="522.5" cy="1385.6" r="5.6" fill="#f6941e" stroke="#000" stroke-width="2.1"/>
<circle cx="506.6" cy="1392.2" r="5.6" fill="#f6941e" stroke="#000" stroke-width="2.1"/>
<circle cx="528.2" cy="1394.6" r="5.6" fill="#f6941e" stroke="#000" stroke-width="2.1"/>
<circle cx="511.6" cy="1412.5" r="5.6" fill="#f6941e" stroke="#000" stroke-width="2.1"/>
<circle cx="518.0" cy="1397.6" r="5.6" fill="#f6941e" stroke="#000" stroke-width="2.1"/>
<circle cx="510.2" cy="1397.6" r="5.6" fill="#f6941e" stroke="#000" stroke-width="2.1"/>
<circle cx="521.0" cy="1403.6" r="5.6" fill="#f6941e" stroke="#000" stroke-width="2.1"/>
<circle cx="514.6" cy="1404.8" r="5.6" fill="#f6941e" stroke="#000" stroke-width="2.1"/>
<circle cx="514.4" cy="1407.8" r="5.6" fill="#f6941e" stroke="#000" stroke-width="2.1"/>
<circle cx="517.4" cy="1418.0" r="5.6" fill="#f6941e" stroke="#000" stroke-width="2.1"/>
<circle cx="513.4" cy="1406.4" r="5.6" fill="#f6941e" stroke="#000" stroke-width="2.1"/>
<circle cx="512.6" cy="1412.0" r="5.6" fill="#f6941e" stroke="#000" stroke-width="2.1"/>
<circle cx="524.0" cy="1410.8" r="5.6" fill="#f6941e" stroke="#000" stroke-width="2.1"/>
<circle cx="526.1" cy="1410.8" r="5.6" fill="#f6941e" stroke="#000" stroke-width="2.1"/>
<circle cx="507.7" cy="1399.4" r="5.6" fill="#f6941e" stroke="#000" stroke-width="2.1"/>
<circle cx="594.9" cy="1417.9" r="5.6" fill="#fff" stroke="#000" stroke-width="2.1"/>
<circle cx="584.4" cy="1407.8" r="5.6" fill="#fff" stroke="#000" stroke-width="2.1"/>
<circle cx="595.2" cy="1407.8" r="5.6" fill="#fff" stroke="#000" stroke-width="2.1"/>
<circle cx="580.8" cy="1406.0" r="5.6" fill="#fff" stroke="#000" stroke-width="2.1"/>
<circle cx="585.2" cy="1415.3" r="5.6" fill="#fff" stroke="#000" stroke-width="2.1"/>
<circle cx="598.2" cy="1404.8" r="5.6" fill="#fff" stroke="#000" stroke-width="2.1"/>
<circle cx="585.3" cy="1416.3" r="5.6" fill="#fff" stroke="#000" stroke-width="2.1"/>
<circle cx="579.0" cy="1410.8" r="5.6" fill="#fff" stroke="#000" stroke-width="2.1"/>
<circle cx="600.0" cy="1410.8" r="5.6" fill="#fff" stroke="#000" stroke-width="2.1"/>
<circle cx="585.6" cy="1416.2" r="5.6" fill="#fff" stroke="#000" stroke-width="2.1"/>
<circle cx="587.9" cy="1418.0" r="5.6" fill="#fff" stroke="#000" stroke-width="2.1"/>
<circle cx="594.0" cy="1415.6" r="5.6" fill="#fff" stroke="#000" stroke-width="2.1"/>
<circle cx="589.8" cy="1419.2" r="5.6" fill="#fff" stroke="#000" stroke-width="2.1"/>
<circle cx="582.6" cy="1403.6" r="5.6" fill="#fff" stroke="#000" stroke-width="2.1"/>
<circle cx="579.2" cy="1410.2" r="5.6" fill="#fff" stroke="#000" stroke-width="2.1"/>
<circle cx="633.6" cy="1357.7" r="5.6" fill="#f6941e" stroke="#000" stroke-width="2.1"/>
<circle cx="630.4" cy="1420.0" r="5.6" fill="#f6941e" stroke="#000" stroke-width="2.1"/>
<circle cx="639.3" cy="1380.5" r="5.6" fill="#f6941e" stroke="#000" stroke-width="2.1"/>
<circle cx="627.0" cy="1386.2" r="5.6" fill="#f6941e" stroke="#000" stroke-width="2.1"/>
<circle cx="627.9" cy="1406.4" r="5.6" fill="#f6941e" stroke="#000" stroke-width="2.1"/>
<circle cx="633.6" cy="1390.4" r="5.6" fill="#f6941e" stroke="#000" stroke-width="2.1"/>
<circle cx="627.6" cy="1405.4" r="5.6" fill="#f6941e" stroke="#000" stroke-width="2.1"/>
<circle cx="626.7" cy="1411.0" r="5.6" fill="#f6941e" stroke="#000" stroke-width="2.1"/>
<circle cx="640.8" cy="1405.4" r="5.6" fill="#f6941e" stroke="#000" stroke-width="2.1"/>
<circle cx="636.0" cy="1412.6" r="5.6" fill="#f6941e" stroke="#000" stroke-width="2.1"/>
<circle cx="629.4" cy="1410.8" r="5.6" fill="#f6941e" stroke="#000" stroke-width="2.1"/>
<circle cx="633.0" cy="1419.8" r="5.6" fill="#f6941e" stroke="#000" stroke-width="2.1"/>
<circle cx="625.2" cy="1406.0" r="5.6" fill="#f6941e" stroke="#000" stroke-width="2.1"/>
<circle cx="630.2" cy="1403.7" r="5.6" fill="#f6941e" stroke="#000" stroke-width="2.1"/>
<circle cx="637.8" cy="1412.6" r="5.6" fill="#f6941e" stroke="#000" stroke-width="2.1"/>
<path d="M213.75 1124.8V1427.0" stroke="#000" stroke-width="2.4" fill="none"/>
<path d="M203.2 1427.0H664.0" stroke="#000" stroke-width="2.4" fill="none"/>
<path d="M203.2 1326.7H213.8" stroke="#000" stroke-width="2.2" fill="none"/>
<path d="M203.2 1226.3H213.8" stroke="#000" stroke-width="2.2" fill="none"/>
<path d="M203.2 1126.0H213.8" stroke="#000" stroke-width="2.2" fill="none"/>
<path d="M264.0 1427.0V1437.5" stroke="#000" stroke-width="2.2" fill="none"/>
<path d="M379.8 1427.0V1437.5" stroke="#000" stroke-width="2.2" fill="none"/>
<path d="M495.6 1427.0V1437.5" stroke="#000" stroke-width="2.2" fill="none"/>
<path d="M611.4 1427.0V1437.5" stroke="#000" stroke-width="2.2" fill="none"/>
<text x="202.0" y="1435.4" font-size="25" text-anchor="end">0.0</text>
<text x="202.0" y="1335.1" font-size="25" text-anchor="end">0.1</text>
<text x="202.0" y="1234.7" font-size="25" text-anchor="end">0.2</text>
<text x="202.0" y="1134.4" font-size="25" text-anchor="end">0.3</text>
<text x="265.7" y="1468.0" font-size="33" letter-spacing="0.9" text-anchor="middle">Luc</text>
<text x="381.5" y="1468.0" font-size="33" letter-spacing="0.9" text-anchor="middle">Or</text>
<text x="497.3" y="1468.0" font-size="33" letter-spacing="0.9" text-anchor="middle">Pyr</text>
<text x="613.1" y="1468.0" font-size="33" letter-spacing="0.9" text-anchor="middle">Sr+Slm</text>
<rect x="803.3" y="1353.8" width="29" height="73.2" fill="#ebedec"/>
<rect x="846.9" y="1360.8" width="29" height="66.2" fill="#fbc688"/>
<rect x="919.1" y="1412.0" width="29" height="15.0" fill="#ebedec"/>
<rect x="962.7" y="1407.9" width="29" height="19.1" fill="#fbc688"/>
<rect x="1034.9" y="1406.9" width="29" height="20.1" fill="#ebedec"/>
<rect x="1078.5" y="1406.4" width="29" height="20.6" fill="#fbc688"/>
<rect x="1150.7" y="1414.0" width="29" height="13.0" fill="#ebedec"/>
<rect x="1194.3" y="1415.0" width="29" height="12.0" fill="#fbc688"/>
<path d="M817.8 1350.5V1357.1M809.8 1350.5h16M809.8 1357.1h16" stroke="#000" stroke-width="2" fill="none"/>
<path d="M861.4 1355.6V1366.0M853.4 1355.6h16M853.4 1366.0h16" stroke="#000" stroke-width="2" fill="none"/>
<path d="M933.6 1410.5V1413.4M925.6 1410.5h16M925.6 1413.4h16" stroke="#000" stroke-width="2" fill="none"/>
<path d="M977.2 1404.3V1411.5M969.2 1404.3h16M969.2 1411.5h16" stroke="#000" stroke-width="2" fill="none"/>
<path d="M1049.4 1405.4V1408.4M1041.4 1405.4h16M1041.4 1408.4h16" stroke="#000" stroke-width="2" fill="none"/>
<path d="M1093.0 1404.3V1408.6M1085.0 1404.3h16M1085.0 1408.6h16" stroke="#000" stroke-width="2" fill="none"/>
<path d="M1165.2 1412.9V1415.0M1157.2 1412.9h16M1157.2 1415.0h16" stroke="#000" stroke-width="2" fill="none"/>
<path d="M1208.8 1413.5V1416.5M1200.8 1413.5h16M1200.8 1416.5h16" stroke="#000" stroke-width="2" fill="none"/>
<circle cx="823.5" cy="1333.4" r="5.6" fill="#fff" stroke="#000" stroke-width="2.1"/>
<circle cx="822.3" cy="1361.4" r="5.6" fill="#fff" stroke="#000" stroke-width="2.1"/>
<circle cx="824.3" cy="1359.2" r="5.6" fill="#fff" stroke="#000" stroke-width="2.1"/>
<circle cx="812.3" cy="1339.9" r="5.6" fill="#fff" stroke="#000" stroke-width="2.1"/>
<circle cx="817.0" cy="1369.4" r="5.6" fill="#fff" stroke="#000" stroke-width="2.1"/>
<circle cx="818.8" cy="1341.3" r="5.6" fill="#fff" stroke="#000" stroke-width="2.1"/>
<circle cx="811.6" cy="1350.0" r="5.6" fill="#fff" stroke="#000" stroke-width="2.1"/>
<circle cx="823.9" cy="1351.4" r="5.6" fill="#fff" stroke="#000" stroke-width="2.1"/>
<circle cx="813.8" cy="1353.6" r="5.6" fill="#fff" stroke="#000" stroke-width="2.1"/>
<circle cx="816.3" cy="1361.5" r="5.6" fill="#fff" stroke="#000" stroke-width="2.1"/>
<circle cx="818.1" cy="1368.8" r="5.6" fill="#fff" stroke="#000" stroke-width="2.1"/>
<circle cx="823.9" cy="1358.6" r="5.6" fill="#fff" stroke="#000" stroke-width="2.1"/>
<circle cx="817.0" cy="1369.8" r="5.6" fill="#fff" stroke="#000" stroke-width="2.1"/>
<circle cx="810.9" cy="1359.4" r="5.6" fill="#fff" stroke="#000" stroke-width="2.1"/>
<circle cx="865.9" cy="1360.3" r="5.6" fill="#f6941e" stroke="#000" stroke-width="2.1"/>
<circle cx="854.2" cy="1314.6" r="5.6" fill="#f6941e" stroke="#000" stroke-width="2.1"/>
<circle cx="868.7" cy="1316.0" r="5.6" fill="#f6941e" stroke="#000" stroke-width="2.1"/>
<circle cx="870.9" cy="1360.7" r="5.6" fill="#f6941e" stroke="#000" stroke-width="2.1"/>
<circle cx="868.6" cy="1368.8" r="5.6" fill="#f6941e" stroke="#000" stroke-width="2.1"/>
<circle cx="870.9" cy="1324.7" r="5.6" fill="#f6941e" stroke="#000" stroke-width="2.1"/>
<circle cx="852.4" cy="1331.9" r="5.6" fill="#f6941e" stroke="#000" stroke-width="2.1"/>
<circle cx="865.1" cy="1335.5" r="5.6" fill="#f6941e" stroke="#000" stroke-width="2.1"/>
<circle cx="857.1" cy="1339.1" r="5.6" fill="#f6941e" stroke="#000" stroke-width="2.1"/>
<circle cx="855.2" cy="1388.2" r="5.6" fill="#f6941e" stroke="#000" stroke-width="2.1"/>
<circle cx="852.1" cy="1350.0" r="5.6" fill="#f6941e" stroke="#000" stroke-width="2.1"/>
<circle cx="870.1" cy="1351.4" r="5.6" fill="#f6941e" stroke="#000" stroke-width="2.1"/>
<circle cx="852.8" cy="1356.5" r="5.6" fill="#f6941e" stroke="#000" stroke-width="2.1"/>
<circle cx="858.6" cy="1358.6" r="5.6" fill="#f6941e" stroke="#000" stroke-width="2.1"/>
<circle cx="868.7" cy="1357.9" r="5.6" fill="#f6941e" stroke="#000" stroke-width="2.1"/>
<circle cx="852.2" cy="1355.1" r="5.6" fill="#f6941e" stroke="#000" stroke-width="2.1"/>
<circle cx="863.6" cy="1362.3" r="5.6" fill="#f6941e" stroke="#000" stroke-width="2.1"/>
<circle cx="852.4" cy="1372.4" r="5.6" fill="#f6941e" stroke="#000" stroke-width="2.1"/>
<circle cx="871.6" cy="1371.6" r="5.6" fill="#f6941e" stroke="#000" stroke-width="2.1"/>
<circle cx="865.1" cy="1376.0" r="5.6" fill="#f6941e" stroke="#000" stroke-width="2.1"/>
<circle cx="851.4" cy="1374.7" r="5.6" fill="#f6941e" stroke="#000" stroke-width="2.1"/>
<circle cx="857.1" cy="1386.1" r="5.6" fill="#f6941e" stroke="#000" stroke-width="2.1"/>
<circle cx="938.4" cy="1411.0" r="5.6" fill="#fff" stroke="#000" stroke-width="2.1"/>
<circle cx="926.7" cy="1407.4" r="5.6" fill="#fff" stroke="#000" stroke-width="2.1"/>
<circle cx="940.0" cy="1404.7" r="5.6" fill="#fff" stroke="#000" stroke-width="2.1"/>
<circle cx="943.9" cy="1414.1" r="5.6" fill="#fff" stroke="#000" stroke-width="2.1"/>
<circle cx="940.7" cy="1411.4" r="5.6" fill="#fff" stroke="#000" stroke-width="2.1"/>
<circle cx="943.5" cy="1408.8" r="5.6" fill="#fff" stroke="#000" stroke-width="2.1"/>
<circle cx="923.3" cy="1411.4" r="5.6" fill="#fff" stroke="#000" stroke-width="2.1"/>
<circle cx="930.0" cy="1416.0" r="5.6" fill="#fff" stroke="#000" stroke-width="2.1"/>
<circle cx="943.4" cy="1408.7" r="5.6" fill="#fff" stroke="#000" stroke-width="2.1"/>
<circle cx="934.0" cy="1418.0" r="5.6" fill="#fff" stroke="#000" stroke-width="2.1"/>
<circle cx="944.0" cy="1413.4" r="5.6" fill="#fff" stroke="#000" stroke-width="2.1"/>
<circle cx="978.2" cy="1416.4" r="5.6" fill="#f6941e" stroke="#000" stroke-width="2.1"/>
<circle cx="984.4" cy="1406.8" r="5.6" fill="#f6941e" stroke="#000" stroke-width="2.1"/>
<circle cx="983.0" cy="1386.7" r="5.6" fill="#f6941e" stroke="#000" stroke-width="2.1"/>
<circle cx="970.4" cy="1391.4" r="5.6" fill="#f6941e" stroke="#000" stroke-width="2.1"/>
<circle cx="977.0" cy="1392.7" r="5.6" fill="#f6941e" stroke="#000" stroke-width="2.1"/>
<circle cx="970.4" cy="1404.0" r="5.6" fill="#f6941e" stroke="#000" stroke-width="2.1"/>
<circle cx="983.4" cy="1407.4" r="5.6" fill="#f6941e" stroke="#000" stroke-width="2.1"/>
<circle cx="971.4" cy="1409.4" r="5.6" fill="#f6941e" stroke="#000" stroke-width="2.1"/>
<circle cx="971.8" cy="1411.3" r="5.6" fill="#f6941e" stroke="#000" stroke-width="2.1"/>
<circle cx="977.0" cy="1416.7" r="5.6" fill="#f6941e" stroke="#000" stroke-width="2.1"/>
<circle cx="985.4" cy="1412.0" r="5.6" fill="#f6941e" stroke="#000" stroke-width="2.1"/>
<circle cx="1041.0" cy="1402.0" r="5.6" fill="#fff" stroke="#000" stroke-width="2.1"/>
<circle cx="1046.3" cy="1406.0" r="5.6" fill="#fff" stroke="#000" stroke-width="2.1"/>
<circle cx="1055.7" cy="1396.7" r="5.6" fill="#fff" stroke="#000" stroke-width="2.1"/>
<circle cx="1059.7" cy="1402.0" r="5.6" fill="#fff" stroke="#000" stroke-width="2.1"/>
<circle cx="1050.4" cy="1410.0" r="5.6" fill="#fff" stroke="#000" stroke-width="2.1"/>
<circle cx="1044.5" cy="1403.4" r="5.6" fill="#fff" stroke="#000" stroke-width="2.1"/>
<circle cx="1052.6" cy="1404.4" r="5.6" fill="#fff" stroke="#000" stroke-width="2.1"/>
<circle cx="1042.3" cy="1399.4" r="5.6" fill="#fff" stroke="#000" stroke-width="2.1"/>
<circle cx="1053.0" cy="1403.4" r="5.6" fill="#fff" stroke="#000" stroke-width="2.1"/>
<circle cx="1096.3" cy="1400.8" r="5.6" fill="#f6941e" stroke="#000" stroke-width="2.1"/>
<circle cx="1084.4" cy="1391.3" r="5.6" fill="#f6941e" stroke="#000" stroke-width="2.1"/>
<circle cx="1102.4" cy="1390.0" r="5.6" fill="#f6941e" stroke="#000" stroke-width="2.1"/>
<circle cx="1082.4" cy="1402.0" r="5.6" fill="#f6941e" stroke="#000" stroke-width="2.1"/>
<circle cx="1097.7" cy="1401.4" r="5.6" fill="#f6941e" stroke="#000" stroke-width="2.1"/>
<circle cx="1092.9" cy="1410.8" r="5.6" fill="#f6941e" stroke="#000" stroke-width="2.1"/>
<circle cx="1089.7" cy="1398.2" r="5.6" fill="#f6941e" stroke="#000" stroke-width="2.1"/>
<circle cx="1091.7" cy="1410.0" r="5.6" fill="#f6941e" stroke="#000" stroke-width="2.1"/>
<circle cx="1105.0" cy="1396.7" r="5.6" fill="#f6941e" stroke="#000" stroke-width="2.1"/>
<circle cx="1087.7" cy="1399.4" r="5.6" fill="#f6941e" stroke="#000" stroke-width="2.1"/>
<circle cx="1095.7" cy="1394.0" r="5.6" fill="#f6941e" stroke="#000" stroke-width="2.1"/>
<circle cx="1155.7" cy="1406.4" r="5.6" fill="#fff" stroke="#000" stroke-width="2.1"/>
<circle cx="1158.4" cy="1407.4" r="5.6" fill="#fff" stroke="#000" stroke-width="2.1"/>
<circle cx="1173.8" cy="1407.4" r="5.6" fill="#fff" stroke="#000" stroke-width="2.1"/>
<circle cx="1153.0" cy="1408.7" r="5.6" fill="#fff" stroke="#000" stroke-width="2.1"/>
<circle cx="1166.4" cy="1412.7" r="5.6" fill="#fff" stroke="#000" stroke-width="2.1"/>
<circle cx="1160.5" cy="1409.3" r="5.6" fill="#fff" stroke="#000" stroke-width="2.1"/>
<circle cx="1177.1" cy="1406.0" r="5.6" fill="#fff" stroke="#000" stroke-width="2.1"/>
<circle cx="1199.8" cy="1402.0" r="5.6" fill="#f6941e" stroke="#000" stroke-width="2.1"/>
<circle cx="1213.0" cy="1412.4" r="5.6" fill="#f6941e" stroke="#000" stroke-width="2.1"/>
<circle cx="1217.1" cy="1402.0" r="5.6" fill="#f6941e" stroke="#000" stroke-width="2.1"/>
<circle cx="1204.5" cy="1407.4" r="5.6" fill="#f6941e" stroke="#000" stroke-width="2.1"/>
<circle cx="1213.8" cy="1411.4" r="5.6" fill="#f6941e" stroke="#000" stroke-width="2.1"/>
<circle cx="1197.1" cy="1408.7" r="5.6" fill="#f6941e" stroke="#000" stroke-width="2.1"/>
<circle cx="1221.1" cy="1410.0" r="5.6" fill="#f6941e" stroke="#000" stroke-width="2.1"/>
<circle cx="1215.6" cy="1412.6" r="5.6" fill="#f6941e" stroke="#000" stroke-width="2.1"/>
<circle cx="1209.1" cy="1412.7" r="5.6" fill="#f6941e" stroke="#000" stroke-width="2.1"/>
<path d="M789.25 1124.8V1427.0" stroke="#000" stroke-width="2.4" fill="none"/>
<path d="M778.8 1427.0H1239.5" stroke="#000" stroke-width="2.4" fill="none"/>
<path d="M778.8 1326.7H789.2" stroke="#000" stroke-width="2.2" fill="none"/>
<path d="M778.8 1226.3H789.2" stroke="#000" stroke-width="2.2" fill="none"/>
<path d="M778.8 1126.0H789.2" stroke="#000" stroke-width="2.2" fill="none"/>
<path d="M839.5 1427.0V1437.5" stroke="#000" stroke-width="2.2" fill="none"/>
<path d="M955.3 1427.0V1437.5" stroke="#000" stroke-width="2.2" fill="none"/>
<path d="M1071.1 1427.0V1437.5" stroke="#000" stroke-width="2.2" fill="none"/>
<path d="M1186.9 1427.0V1437.5" stroke="#000" stroke-width="2.2" fill="none"/>
<text x="777.5" y="1435.4" font-size="25" text-anchor="end">0.0</text>
<text x="777.5" y="1335.1" font-size="25" text-anchor="end">0.1</text>
<text x="777.5" y="1234.7" font-size="25" text-anchor="end">0.2</text>
<text x="777.5" y="1134.4" font-size="25" text-anchor="end">0.3</text>
<text x="841.2" y="1468.0" font-size="33" letter-spacing="0.9" text-anchor="middle">Luc</text>
<text x="957.0" y="1468.0" font-size="33" letter-spacing="0.9" text-anchor="middle">Or</text>
<text x="1072.8" y="1468.0" font-size="33" letter-spacing="0.9" text-anchor="middle">Pyr</text>
<text x="1188.6" y="1468.0" font-size="33" letter-spacing="0.9" text-anchor="middle">Sr+Slm</text>
<rect x="227.8" y="1830.8" width="29" height="55.2" fill="#ebedec"/>
<rect x="271.4" y="1810.8" width="29" height="75.2" fill="#fbc688"/>
<rect x="343.6" y="1865.9" width="29" height="20.1" fill="#ebedec"/>
<rect x="387.2" y="1855.9" width="29" height="30.1" fill="#fbc688"/>
<rect x="459.4" y="1853.4" width="29" height="32.6" fill="#ebedec"/>
<rect x="503.0" y="1841.4" width="29" height="44.6" fill="#fbc688"/>
<rect x="575.2" y="1871.0" width="29" height="15.0" fill="#ebedec"/>
<rect x="618.8" y="1865.9" width="29" height="20.1" fill="#fbc688"/>
<path d="M242.3 1823.3V1838.4M234.3 1823.3h16M234.3 1838.4h16" stroke="#000" stroke-width="2" fill="none"/>
<path d="M285.9 1801.0V1820.5M277.9 1801.0h16M277.9 1820.5h16" stroke="#000" stroke-width="2" fill="none"/>
<path d="M358.1 1863.3V1868.6M350.1 1863.3h16M350.1 1868.6h16" stroke="#000" stroke-width="2" fill="none"/>
<path d="M401.7 1846.0V1865.8M393.7 1846.0h16M393.7 1865.8h16" stroke="#000" stroke-width="2" fill="none"/>
<path d="M473.9 1849.1V1857.7M465.9 1849.1h16M465.9 1857.7h16" stroke="#000" stroke-width="2" fill="none"/>
<path d="M517.5 1834.3V1848.4M509.5 1834.3h16M509.5 1848.4h16" stroke="#000" stroke-width="2" fill="none"/>
<path d="M589.7 1869.2V1872.8M581.7 1869.2h16M581.7 1872.8h16" stroke="#000" stroke-width="2" fill="none"/>
<path d="M633.3 1860.8V1871.0M625.3 1860.8h16M625.3 1871.0h16" stroke="#000" stroke-width="2" fill="none"/>
<circle cx="248.4" cy="1750.4" r="5.6" fill="#fff" stroke="#000" stroke-width="2.1"/>
<circle cx="240.9" cy="1819.4" r="5.6" fill="#fff" stroke="#000" stroke-width="2.1"/>
<circle cx="236.8" cy="1763.3" r="5.6" fill="#fff" stroke="#000" stroke-width="2.1"/>
<circle cx="243.2" cy="1764.0" r="5.6" fill="#fff" stroke="#000" stroke-width="2.1"/>
<circle cx="236.8" cy="1773.0" r="5.6" fill="#fff" stroke="#000" stroke-width="2.1"/>
<circle cx="248.4" cy="1782.7" r="5.6" fill="#fff" stroke="#000" stroke-width="2.1"/>
<circle cx="233.6" cy="1788.5" r="5.6" fill="#fff" stroke="#000" stroke-width="2.1"/>
<circle cx="251.6" cy="1796.3" r="5.6" fill="#fff" stroke="#000" stroke-width="2.1"/>
<circle cx="249.5" cy="1842.7" r="5.6" fill="#fff" stroke="#000" stroke-width="2.1"/>
<circle cx="239.4" cy="1802.0" r="5.6" fill="#fff" stroke="#000" stroke-width="2.1"/>
<circle cx="234.2" cy="1810.5" r="5.6" fill="#fff" stroke="#000" stroke-width="2.1"/>
<circle cx="250.3" cy="1811.7" r="5.6" fill="#fff" stroke="#000" stroke-width="2.1"/>
<circle cx="252.3" cy="1809.2" r="5.6" fill="#fff" stroke="#000" stroke-width="2.1"/>
<circle cx="245.8" cy="1819.5" r="5.6" fill="#fff" stroke="#000" stroke-width="2.1"/>
<circle cx="240.0" cy="1828.5" r="5.6" fill="#fff" stroke="#000" stroke-width="2.1"/>
<circle cx="242.0" cy="1818.3" r="5.6" fill="#fff" stroke="#000" stroke-width="2.1"/>
<circle cx="244.9" cy="1873.5" r="5.6" fill="#fff" stroke="#000" stroke-width="2.1"/>
<circle cx="246.3" cy="1867.4" r="5.6" fill="#fff" stroke="#000" stroke-width="2.1"/>
<circle cx="233.6" cy="1836.3" r="5.6" fill="#fff" stroke="#000" stroke-width="2.1"/>
<circle cx="245.5" cy="1868.7" r="5.6" fill="#fff" stroke="#000" stroke-width="2.1"/>
<circle cx="252.3" cy="1845.3" r="5.6" fill="#fff" stroke="#000" stroke-width="2.1"/>
<circle cx="233.3" cy="1838.7" r="5.6" fill="#fff" stroke="#000" stroke-width="2.1"/>
<circle cx="239.4" cy="1846.6" r="5.6" fill="#fff" stroke="#000" stroke-width="2.1"/>
<circle cx="242.4" cy="1830.3" r="5.6" fill="#fff" stroke="#000" stroke-width="2.1"/>
<circle cx="247.1" cy="1850.5" r="5.6" fill="#fff" stroke="#000" stroke-width="2.1"/>
<circle cx="247.5" cy="1859.8" r="5.6" fill="#fff" stroke="#000" stroke-width="2.1"/>
<circle cx="245.8" cy="1818.5" r="5.6" fill="#fff" stroke="#000" stroke-width="2.1"/>
<circle cx="236.8" cy="1859.5" r="5.6" fill="#fff" stroke="#000" stroke-width="2.1"/>
<circle cx="249.7" cy="1858.2" r="5.6" fill="#fff" stroke="#000" stroke-width="2.1"/>
<circle cx="245.8" cy="1866.0" r="5.6" fill="#fff" stroke="#000" stroke-width="2.1"/>
<circle cx="242.6" cy="1876.3" r="5.6" fill="#fff" stroke="#000" stroke-width="2.1"/>
<circle cx="242.0" cy="1820.8" r="5.6" fill="#fff" stroke="#000" stroke-width="2.1"/>
<circle cx="242.9" cy="1867.9" r="5.6" fill="#fff" stroke="#000" stroke-width="2.1"/>
<circle cx="286.5" cy="1660.7" r="5.6" fill="#f6941e" stroke="#000" stroke-width="2.1"/>
<circle cx="293.6" cy="1723.3" r="5.6" fill="#f6941e" stroke="#000" stroke-width="2.1"/>
<circle cx="278.8" cy="1741.4" r="5.6" fill="#f6941e" stroke="#000" stroke-width="2.1"/>
<circle cx="276.8" cy="1754.3" r="5.6" fill="#f6941e" stroke="#000" stroke-width="2.1"/>
<circle cx="295.5" cy="1756.9" r="5.6" fill="#f6941e" stroke="#000" stroke-width="2.1"/>
<circle cx="282.6" cy="1762.0" r="5.6" fill="#f6941e" stroke="#000" stroke-width="2.1"/>
<circle cx="290.4" cy="1765.3" r="5.6" fill="#f6941e" stroke="#000" stroke-width="2.1"/>
<circle cx="280.0" cy="1775.0" r="5.6" fill="#f6941e" stroke="#000" stroke-width="2.1"/>
<circle cx="287.0" cy="1808.1" r="5.6" fill="#f6941e" stroke="#000" stroke-width="2.1"/>
<circle cx="278.6" cy="1846.7" r="5.6" fill="#f6941e" stroke="#000" stroke-width="2.1"/>
<circle cx="292.3" cy="1779.5" r="5.6" fill="#f6941e" stroke="#000" stroke-width="2.1"/>
<circle cx="287.8" cy="1828.6" r="5.6" fill="#f6941e" stroke="#000" stroke-width="2.1"/>
<circle cx="289.1" cy="1784.0" r="5.6" fill="#f6941e" stroke="#000" stroke-width="2.1"/>
<circle cx="282.0" cy="1792.4" r="5.6" fill="#f6941e" stroke="#000" stroke-width="2.1"/>
<circle cx="275.5" cy="1796.9" r="5.6" fill="#f6941e" stroke="#000" stroke-width="2.1"/>
<circle cx="291.3" cy="1806.0" r="5.6" fill="#f6941e" stroke="#000" stroke-width="2.1"/>
<circle cx="291.0" cy="1796.2" r="5.6" fill="#f6941e" stroke="#000" stroke-width="2.1"/>
<circle cx="295.5" cy="1803.4" r="5.6" fill="#f6941e" stroke="#000" stroke-width="2.1"/>
<circle cx="281.2" cy="1816.9" r="5.6" fill="#f6941e" stroke="#000" stroke-width="2.1"/>
<circle cx="280.7" cy="1804.6" r="5.6" fill="#f6941e" stroke="#000" stroke-width="2.1"/>
<circle cx="289.1" cy="1807.2" r="5.6" fill="#f6941e" stroke="#000" stroke-width="2.1"/>
<circle cx="280.7" cy="1815.6" r="5.6" fill="#f6941e" stroke="#000" stroke-width="2.1"/>
<circle cx="291.7" cy="1818.8" r="5.6" fill="#f6941e" stroke="#000" stroke-width="2.1"/>
<circle cx="286.5" cy="1829.8" r="5.6" fill="#f6941e" stroke="#000" stroke-width="2.1"/>
<circle cx="294.8" cy="1850.1" r="5.6" fill="#f6941e" stroke="#000" stroke-width="2.1"/>
<circle cx="280.7" cy="1849.2" r="5.6" fill="#f6941e" stroke="#000" stroke-width="2.1"/>
<circle cx="292.3" cy="1848.5" r="5.6" fill="#f6941e" stroke="#000" stroke-width="2.1"/>
<circle cx="290.4" cy="1859.5" r="5.6" fill="#f6941e" stroke="#000" stroke-width="2.1"/>
<circle cx="278.8" cy="1864.7" r="5.6" fill="#f6941e" stroke="#000" stroke-width="2.1"/>
<circle cx="289.2" cy="1861.0" r="5.6" fill="#f6941e" stroke="#000" stroke-width="2.1"/>
<circle cx="287.4" cy="1809.2" r="5.6" fill="#f6941e" stroke="#000" stroke-width="2.1"/>
<circle cx="295.1" cy="1865.4" r="5.6" fill="#f6941e" stroke="#000" stroke-width="2.1"/>
<circle cx="297.5" cy="1863.4" r="5.6" fill="#f6941e" stroke="#000" stroke-width="2.1"/>
<circle cx="293.1" cy="1801.1" r="5.6" fill="#f6941e" stroke="#000" stroke-width="2.1"/>
<circle cx="280.7" cy="1813.2" r="5.6" fill="#f6941e" stroke="#000" stroke-width="2.1"/>
<circle cx="287.1" cy="1872.4" r="5.6" fill="#f6941e" stroke="#000" stroke-width="2.1"/>
<circle cx="290.5" cy="1861.6" r="5.6" fill="#f6941e" stroke="#000" stroke-width="2.1"/>
<circle cx="286.3" cy="1828.3" r="5.6" fill="#f6941e" stroke="#000" stroke-width="2.1"/>
<circle cx="275.5" cy="1862.1" r="5.6" fill="#f6941e" stroke="#000" stroke-width="2.1"/>
<circle cx="283.3" cy="1869.9" r="5.6" fill="#f6941e" stroke="#000" stroke-width="2.1"/>
<circle cx="357.6" cy="1876.8" r="5.6" fill="#fff" stroke="#000" stroke-width="2.1"/>
<circle cx="351.3" cy="1855.4" r="5.6" fill="#fff" stroke="#000" stroke-width="2.1"/>
<circle cx="354.1" cy="1878.6" r="5.6" fill="#fff" stroke="#000" stroke-width="2.1"/>
<circle cx="366.0" cy="1856.2" r="5.6" fill="#fff" stroke="#000" stroke-width="2.1"/>
<circle cx="356.5" cy="1876.7" r="5.6" fill="#fff" stroke="#000" stroke-width="2.1"/>
<circle cx="357.7" cy="1874.5" r="5.6" fill="#fff" stroke="#000" stroke-width="2.1"/>
<circle cx="351.3" cy="1864.7" r="5.6" fill="#fff" stroke="#000" stroke-width="2.1"/>
<circle cx="366.8" cy="1862.4" r="5.6" fill="#fff" stroke="#000" stroke-width="2.1"/>
<circle cx="349.0" cy="1860.0" r="5.6" fill="#fff" stroke="#000" stroke-width="2.1"/>
<circle cx="362.1" cy="1871.7" r="5.6" fill="#fff" stroke="#000" stroke-width="2.1"/>
<circle cx="352.8" cy="1871.7" r="5.6" fill="#fff" stroke="#000" stroke-width="2.1"/>
<circle cx="358.2" cy="1877.9" r="5.6" fill="#fff" stroke="#000" stroke-width="2.1"/>
<circle cx="355.1" cy="1876.3" r="5.6" fill="#fff" stroke="#000" stroke-width="2.1"/>
<circle cx="402.0" cy="1758.2" r="5.6" fill="#f6941e" stroke="#000" stroke-width="2.1"/>
<circle cx="409.4" cy="1776.4" r="5.6" fill="#f6941e" stroke="#000" stroke-width="2.1"/>
<circle cx="394.7" cy="1869.0" r="5.6" fill="#f6941e" stroke="#000" stroke-width="2.1"/>
<circle cx="395.0" cy="1783.8" r="5.6" fill="#f6941e" stroke="#000" stroke-width="2.1"/>
<circle cx="393.4" cy="1858.7" r="5.6" fill="#f6941e" stroke="#000" stroke-width="2.1"/>
<circle cx="395.0" cy="1801.6" r="5.6" fill="#f6941e" stroke="#000" stroke-width="2.1"/>
<circle cx="392.4" cy="1870.7" r="5.6" fill="#f6941e" stroke="#000" stroke-width="2.1"/>
<circle cx="409.4" cy="1807.4" r="5.6" fill="#f6941e" stroke="#000" stroke-width="2.1"/>
<circle cx="402.0" cy="1827.5" r="5.6" fill="#f6941e" stroke="#000" stroke-width="2.1"/>
<circle cx="395.0" cy="1840.7" r="5.6" fill="#f6941e" stroke="#000" stroke-width="2.1"/>
<circle cx="409.4" cy="1853.1" r="5.6" fill="#f6941e" stroke="#000" stroke-width="2.1"/>
<circle cx="401.9" cy="1878.9" r="5.6" fill="#f6941e" stroke="#000" stroke-width="2.1"/>
<circle cx="394.6" cy="1859.3" r="5.6" fill="#f6941e" stroke="#000" stroke-width="2.1"/>
<circle cx="409.4" cy="1859.3" r="5.6" fill="#f6941e" stroke="#000" stroke-width="2.1"/>
<circle cx="412.1" cy="1865.2" r="5.6" fill="#f6941e" stroke="#000" stroke-width="2.1"/>
<circle cx="393.9" cy="1867.8" r="5.6" fill="#f6941e" stroke="#000" stroke-width="2.1"/>
<circle cx="396.9" cy="1865.3" r="5.6" fill="#f6941e" stroke="#000" stroke-width="2.1"/>
<circle cx="407.0" cy="1866.3" r="5.6" fill="#f6941e" stroke="#000" stroke-width="2.1"/>
<circle cx="412.5" cy="1867.8" r="5.6" fill="#f6941e" stroke="#000" stroke-width="2.1"/>
<circle cx="400.8" cy="1874.8" r="5.6" fill="#f6941e" stroke="#000" stroke-width="2.1"/>
<circle cx="402.4" cy="1878.7" r="5.6" fill="#f6941e" stroke="#000" stroke-width="2.1"/>
<circle cx="403.2" cy="1872.6" r="5.6" fill="#f6941e" stroke="#000" stroke-width="2.1"/>
<circle cx="468.1" cy="1826.4" r="5.6" fill="#fff" stroke="#000" stroke-width="2.1"/>
<circle cx="480.9" cy="1827.1" r="5.6" fill="#fff" stroke="#000" stroke-width="2.1"/>
<circle cx="468.5" cy="1858.8" r="5.6" fill="#fff" stroke="#000" stroke-width="2.1"/>
<circle cx="469.5" cy="1839.9" r="5.6" fill="#fff" stroke="#000" stroke-width="2.1"/>
<circle cx="474.4" cy="1845.9" r="5.6" fill="#fff" stroke="#000" stroke-width="2.1"/>
<circle cx="481.5" cy="1837.9" r="5.6" fill="#fff" stroke="#000" stroke-width="2.1"/>
<circle cx="480.2" cy="1858.5" r="5.6" fill="#fff" stroke="#000" stroke-width="2.1"/>
<circle cx="470.1" cy="1845.9" r="5.6" fill="#fff" stroke="#000" stroke-width="2.1"/>
<circle cx="477.5" cy="1843.2" r="5.6" fill="#fff" stroke="#000" stroke-width="2.1"/>
<circle cx="471.4" cy="1874.6" r="5.6" fill="#fff" stroke="#000" stroke-width="2.1"/>
<circle cx="473.5" cy="1848.6" r="5.6" fill="#fff" stroke="#000" stroke-width="2.1"/>
<circle cx="470.1" cy="1860.7" r="5.6" fill="#fff" stroke="#000" stroke-width="2.1"/>
<circle cx="480.9" cy="1858.0" r="5.6" fill="#fff" stroke="#000" stroke-width="2.1"/>
<circle cx="473.2" cy="1851.0" r="5.6" fill="#fff" stroke="#000" stroke-width="2.1"/>
<circle cx="478.9" cy="1860.0" r="5.6" fill="#fff" stroke="#000" stroke-width="2.1"/>
<circle cx="476.2" cy="1868.7" r="5.6" fill="#fff" stroke="#000" stroke-width="2.1"/>
<circle cx="474.2" cy="1875.4" r="5.6" fill="#fff" stroke="#000" stroke-width="2.1"/>
<circle cx="472.1" cy="1879.5" r="5.6" fill="#fff" stroke="#000" stroke-width="2.1"/>
<circle cx="466.1" cy="1856.0" r="5.6" fill="#fff" stroke="#000" stroke-width="2.1"/>
<circle cx="474.7" cy="1865.9" r="5.6" fill="#fff" stroke="#000" stroke-width="2.1"/>
<circle cx="480.9" cy="1836.5" r="5.6" fill="#fff" stroke="#000" stroke-width="2.1"/>
<circle cx="520.9" cy="1875.5" r="5.6" fill="#f6941e" stroke="#000" stroke-width="2.1"/>
<circle cx="518.1" cy="1760.7" r="5.6" fill="#f6941e" stroke="#000" stroke-width="2.1"/>
<circle cx="525.5" cy="1854.9" r="5.6" fill="#f6941e" stroke="#000" stroke-width="2.1"/>
<circle cx="517.8" cy="1840.4" r="5.6" fill="#f6941e" stroke="#000" stroke-width="2.1"/>
<circle cx="510.7" cy="1786.5" r="5.6" fill="#f6941e" stroke="#000" stroke-width="2.1"/>
<circle cx="513.9" cy="1855.5" r="5.6" fill="#f6941e" stroke="#000" stroke-width="2.1"/>
<circle cx="517.6" cy="1874.7" r="5.6" fill="#f6941e" stroke="#000" stroke-width="2.1"/>
<circle cx="525.5" cy="1797.6" r="5.6" fill="#f6941e" stroke="#000" stroke-width="2.1"/>
<circle cx="512.1" cy="1810.3" r="5.6" fill="#f6941e" stroke="#000" stroke-width="2.1"/>
<circle cx="521.5" cy="1870.0" r="5.6" fill="#f6941e" stroke="#000" stroke-width="2.1"/>
<circle cx="524.5" cy="1815.0" r="5.6" fill="#f6941e" stroke="#000" stroke-width="2.1"/>
<circle cx="521.0" cy="1863.3" r="5.6" fill="#f6941e" stroke="#000" stroke-width="2.1"/>
<circle cx="515.0" cy="1840.5" r="5.6" fill="#f6941e" stroke="#000" stroke-width="2.1"/>
<circle cx="514.4" cy="1819.1" r="5.6" fill="#f6941e" stroke="#000" stroke-width="2.1"/>
<circle cx="520.1" cy="1825.4" r="5.6" fill="#f6941e" stroke="#000" stroke-width="2.1"/>
<circle cx="512.4" cy="1833.8" r="5.6" fill="#f6941e" stroke="#000" stroke-width="2.1"/>
<circle cx="524.5" cy="1833.8" r="5.6" fill="#f6941e" stroke="#000" stroke-width="2.1"/>
<circle cx="523.8" cy="1863.6" r="5.6" fill="#f6941e" stroke="#000" stroke-width="2.1"/>
<circle cx="515.1" cy="1840.5" r="5.6" fill="#f6941e" stroke="#000" stroke-width="2.1"/>
<circle cx="520.1" cy="1840.5" r="5.6" fill="#f6941e" stroke="#000" stroke-width="2.1"/>
<circle cx="517.8" cy="1850.0" r="5.6" fill="#f6941e" stroke="#000" stroke-width="2.1"/>
<circle cx="511.1" cy="1854.6" r="5.6" fill="#f6941e" stroke="#000" stroke-width="2.1"/>
<circle cx="525.2" cy="1856.6" r="5.6" fill="#f6941e" stroke="#000" stroke-width="2.1"/>
<circle cx="513.1" cy="1863.4" r="5.6" fill="#f6941e" stroke="#000" stroke-width="2.1"/>
<circle cx="522.5" cy="1864.7" r="5.6" fill="#f6941e" stroke="#000" stroke-width="2.1"/>
<circle cx="519.1" cy="1872.8" r="5.6" fill="#f6941e" stroke="#000" stroke-width="2.1"/>
<circle cx="514.4" cy="1870.7" r="5.6" fill="#f6941e" stroke="#000" stroke-width="2.1"/>
<circle cx="582.0" cy="1863.6" r="5.6" fill="#fff" stroke="#000" stroke-width="2.1"/>
<circle cx="591.3" cy="1879.2" r="5.6" fill="#fff" stroke="#000" stroke-width="2.1"/>
<circle cx="593.1" cy="1876.4" r="5.6" fill="#fff" stroke="#000" stroke-width="2.1"/>
<circle cx="598.2" cy="1865.4" r="5.6" fill="#fff" stroke="#000" stroke-width="2.1"/>
<circle cx="587.8" cy="1877.0" r="5.6" fill="#fff" stroke="#000" stroke-width="2.1"/>
<circle cx="583.8" cy="1870.8" r="5.6" fill="#fff" stroke="#000" stroke-width="2.1"/>
<circle cx="596.4" cy="1871.4" r="5.6" fill="#fff" stroke="#000" stroke-width="2.1"/>
<circle cx="588.0" cy="1875.6" r="5.6" fill="#fff" stroke="#000" stroke-width="2.1"/>
<circle cx="591.6" cy="1878.6" r="5.6" fill="#fff" stroke="#000" stroke-width="2.1"/>
<circle cx="580.2" cy="1864.8" r="5.6" fill="#fff" stroke="#000" stroke-width="2.1"/>
<circle cx="600.0" cy="1866.6" r="5.6" fill="#fff" stroke="#000" stroke-width="2.1"/>
<circle cx="590.5" cy="1874.6" r="5.6" fill="#fff" stroke="#000" stroke-width="2.1"/>
<circle cx="633.9" cy="1808.4" r="5.6" fill="#f6941e" stroke="#000" stroke-width="2.1"/>
<circle cx="623.1" cy="1863.1" r="5.6" fill="#f6941e" stroke="#000" stroke-width="2.1"/>
<circle cx="641.4" cy="1823.7" r="5.6" fill="#f6941e" stroke="#000" stroke-width="2.1"/>
<circle cx="626.6" cy="1868.7" r="5.6" fill="#f6941e" stroke="#000" stroke-width="2.1"/>
<circle cx="626.7" cy="1834.5" r="5.6" fill="#f6941e" stroke="#000" stroke-width="2.1"/>
<circle cx="624.9" cy="1843.8" r="5.6" fill="#f6941e" stroke="#000" stroke-width="2.1"/>
<circle cx="643.2" cy="1850.1" r="5.6" fill="#f6941e" stroke="#000" stroke-width="2.1"/>
<circle cx="631.2" cy="1854.0" r="5.6" fill="#f6941e" stroke="#000" stroke-width="2.1"/>
<circle cx="638.4" cy="1857.6" r="5.6" fill="#f6941e" stroke="#000" stroke-width="2.1"/>
<circle cx="627.0" cy="1858.8" r="5.6" fill="#f6941e" stroke="#000" stroke-width="2.1"/>
<circle cx="631.3" cy="1877.3" r="5.6" fill="#f6941e" stroke="#000" stroke-width="2.1"/>
<circle cx="622.2" cy="1869.0" r="5.6" fill="#f6941e" stroke="#000" stroke-width="2.1"/>
<circle cx="642.0" cy="1864.2" r="5.6" fill="#f6941e" stroke="#000" stroke-width="2.1"/>
<circle cx="627.6" cy="1864.8" r="5.6" fill="#f6941e" stroke="#000" stroke-width="2.1"/>
<circle cx="639.0" cy="1869.6" r="5.6" fill="#f6941e" stroke="#000" stroke-width="2.1"/>
<circle cx="641.9" cy="1867.1" r="5.6" fill="#f6941e" stroke="#000" stroke-width="2.1"/>
<circle cx="631.2" cy="1872.6" r="5.6" fill="#f6941e" stroke="#000" stroke-width="2.1"/>
<circle cx="625.9" cy="1866.7" r="5.6" fill="#f6941e" stroke="#000" stroke-width="2.1"/>
<circle cx="626.1" cy="1868.7" r="5.6" fill="#f6941e" stroke="#000" stroke-width="2.1"/>
<circle cx="634.2" cy="1879.2" r="5.6" fill="#f6941e" stroke="#000" stroke-width="2.1"/>
<circle cx="624.0" cy="1866.0" r="5.6" fill="#f6941e" stroke="#000" stroke-width="2.1"/>
<path d="M213.75 1583.8V1886.0" stroke="#000" stroke-width="2.4" fill="none"/>
<path d="M203.2 1886.0H664.0" stroke="#000" stroke-width="2.4" fill="none"/>
<path d="M203.2 1785.7H213.8" stroke="#000" stroke-width="2.2" fill="none"/>
<path d="M203.2 1685.3H213.8" stroke="#000" stroke-width="2.2" fill="none"/>
<path d="M203.2 1585.0H213.8" stroke="#000" stroke-width="2.2" fill="none"/>
<path d="M264.0 1886.0V1896.5" stroke="#000" stroke-width="2.2" fill="none"/>
<path d="M379.8 1886.0V1896.5" stroke="#000" stroke-width="2.2" fill="none"/>
<path d="M495.6 1886.0V1896.5" stroke="#000" stroke-width="2.2" fill="none"/>
<path d="M611.4 1886.0V1896.5" stroke="#000" stroke-width="2.2" fill="none"/>
<text x="202.0" y="1894.4" font-size="25" text-anchor="end">0.0</text>
<text x="202.0" y="1794.1" font-size="25" text-anchor="end">0.1</text>
<text x="202.0" y="1693.7" font-size="25" text-anchor="end">0.2</text>
<text x="202.0" y="1593.4" font-size="25" text-anchor="end">0.3</text>
<text x="265.7" y="1927.0" font-size="33" letter-spacing="0.9" text-anchor="middle">Luc</text>
<text x="381.5" y="1927.0" font-size="33" letter-spacing="0.9" text-anchor="middle">Or</text>
<text x="497.3" y="1927.0" font-size="33" letter-spacing="0.9" text-anchor="middle">Pyr</text>
<text x="613.1" y="1927.0" font-size="33" letter-spacing="0.9" text-anchor="middle">Sr+Slm</text>
<rect x="803.3" y="1785.7" width="29" height="100.3" fill="#ebedec"/>
<rect x="846.9" y="1793.7" width="29" height="92.3" fill="#fbc688"/>
<rect x="919.1" y="1867.9" width="29" height="18.1" fill="#ebedec"/>
<rect x="962.7" y="1872.5" width="29" height="13.5" fill="#fbc688"/>
<rect x="1034.9" y="1839.3" width="29" height="46.7" fill="#ebedec"/>
<rect x="1078.5" y="1842.4" width="29" height="43.6" fill="#fbc688"/>
<rect x="1150.7" y="1876.0" width="29" height="10.0" fill="#ebedec"/>
<rect x="1194.3" y="1866.9" width="29" height="19.1" fill="#fbc688"/>
<path d="M817.8 1780.8V1790.5M809.8 1780.8h16M809.8 1790.5h16" stroke="#000" stroke-width="2" fill="none"/>
<path d="M861.4 1787.4V1800.0M853.4 1787.4h16M853.4 1800.0h16" stroke="#000" stroke-width="2" fill="none"/>
<path d="M933.6 1866.3V1869.6M925.6 1866.3h16M925.6 1869.6h16" stroke="#000" stroke-width="2" fill="none"/>
<path d="M977.2 1870.6V1874.4M969.2 1870.6h16M969.2 1874.4h16" stroke="#000" stroke-width="2" fill="none"/>
<path d="M1049.4 1834.8V1843.9M1041.4 1834.8h16M1041.4 1843.9h16" stroke="#000" stroke-width="2" fill="none"/>
<path d="M1093.0 1837.8V1846.9M1085.0 1837.8h16M1085.0 1846.9h16" stroke="#000" stroke-width="2" fill="none"/>
<path d="M1165.2 1874.2V1877.7M1157.2 1874.2h16M1157.2 1877.7h16" stroke="#000" stroke-width="2" fill="none"/>
<path d="M1208.8 1864.2V1869.7M1200.8 1864.2h16M1200.8 1869.7h16" stroke="#000" stroke-width="2" fill="none"/>
<circle cx="825.2" cy="1747.4" r="5.6" fill="#fff" stroke="#000" stroke-width="2.1"/>
<circle cx="810.5" cy="1761.3" r="5.6" fill="#fff" stroke="#000" stroke-width="2.1"/>
<circle cx="808.9" cy="1775.2" r="5.6" fill="#fff" stroke="#000" stroke-width="2.1"/>
<circle cx="812.5" cy="1806.3" r="5.6" fill="#fff" stroke="#000" stroke-width="2.1"/>
<circle cx="813.4" cy="1806.9" r="5.6" fill="#fff" stroke="#000" stroke-width="2.1"/>
<circle cx="823.5" cy="1804.7" r="5.6" fill="#fff" stroke="#000" stroke-width="2.1"/>
<circle cx="810.5" cy="1779.5" r="5.6" fill="#fff" stroke="#000" stroke-width="2.1"/>
<circle cx="825.6" cy="1779.5" r="5.6" fill="#fff" stroke="#000" stroke-width="2.1"/>
<circle cx="814.8" cy="1808.4" r="5.6" fill="#fff" stroke="#000" stroke-width="2.1"/>
<circle cx="827.5" cy="1778.0" r="5.6" fill="#fff" stroke="#000" stroke-width="2.1"/>
<circle cx="815.5" cy="1786.5" r="5.6" fill="#fff" stroke="#000" stroke-width="2.1"/>
<circle cx="821.3" cy="1789.6" r="5.6" fill="#fff" stroke="#000" stroke-width="2.1"/>
<circle cx="808.9" cy="1797.3" r="5.6" fill="#fff" stroke="#000" stroke-width="2.1"/>
<circle cx="827.5" cy="1797.3" r="5.6" fill="#fff" stroke="#000" stroke-width="2.1"/>
<circle cx="821.3" cy="1803.5" r="5.6" fill="#fff" stroke="#000" stroke-width="2.1"/>
<circle cx="814.0" cy="1808.2" r="5.6" fill="#fff" stroke="#000" stroke-width="2.1"/>
<circle cx="865.8" cy="1816.2" r="5.6" fill="#f6941e" stroke="#000" stroke-width="2.1"/>
<circle cx="855.0" cy="1807.9" r="5.6" fill="#f6941e" stroke="#000" stroke-width="2.1"/>
<circle cx="852.3" cy="1750.0" r="5.6" fill="#f6941e" stroke="#000" stroke-width="2.1"/>
<circle cx="858.1" cy="1756.7" r="5.6" fill="#f6941e" stroke="#000" stroke-width="2.1"/>
<circle cx="870.5" cy="1754.3" r="5.6" fill="#f6941e" stroke="#000" stroke-width="2.1"/>
<circle cx="865.1" cy="1767.5" r="5.6" fill="#f6941e" stroke="#000" stroke-width="2.1"/>
<circle cx="855.0" cy="1779.1" r="5.6" fill="#f6941e" stroke="#000" stroke-width="2.1"/>
<circle cx="867.4" cy="1783.4" r="5.6" fill="#f6941e" stroke="#000" stroke-width="2.1"/>
<circle cx="857.0" cy="1787.3" r="5.6" fill="#f6941e" stroke="#000" stroke-width="2.1"/>
<circle cx="863.9" cy="1791.1" r="5.6" fill="#f6941e" stroke="#000" stroke-width="2.1"/>
<circle cx="860.8" cy="1794.2" r="5.6" fill="#f6941e" stroke="#000" stroke-width="2.1"/>
<circle cx="859.3" cy="1838.2" r="5.6" fill="#f6941e" stroke="#000" stroke-width="2.1"/>
<circle cx="852.3" cy="1806.6" r="5.6" fill="#f6941e" stroke="#000" stroke-width="2.1"/>
<circle cx="870.9" cy="1808.2" r="5.6" fill="#f6941e" stroke="#000" stroke-width="2.1"/>
<circle cx="860.0" cy="1809.7" r="5.6" fill="#f6941e" stroke="#000" stroke-width="2.1"/>
<circle cx="865.5" cy="1815.5" r="5.6" fill="#f6941e" stroke="#000" stroke-width="2.1"/>
<circle cx="857.8" cy="1818.1" r="5.6" fill="#f6941e" stroke="#000" stroke-width="2.1"/>
<circle cx="864.6" cy="1813.3" r="5.6" fill="#f6941e" stroke="#000" stroke-width="2.1"/>
<circle cx="855.8" cy="1817.8" r="5.6" fill="#f6941e" stroke="#000" stroke-width="2.1"/>
<circle cx="866.6" cy="1824.4" r="5.6" fill="#f6941e" stroke="#000" stroke-width="2.1"/>
<circle cx="855.6" cy="1816.3" r="5.6" fill="#f6941e" stroke="#000" stroke-width="2.1"/>
<circle cx="861.2" cy="1835.3" r="5.6" fill="#f6941e" stroke="#000" stroke-width="2.1"/>
<circle cx="926.7" cy="1863.7" r="5.6" fill="#fff" stroke="#000" stroke-width="2.1"/>
<circle cx="938.7" cy="1864.4" r="5.6" fill="#fff" stroke="#000" stroke-width="2.1"/>
<circle cx="931.0" cy="1868.8" r="5.6" fill="#fff" stroke="#000" stroke-width="2.1"/>
<circle cx="941.4" cy="1859.4" r="5.6" fill="#fff" stroke="#000" stroke-width="2.1"/>
<circle cx="923.3" cy="1866.0" r="5.6" fill="#fff" stroke="#000" stroke-width="2.1"/>
<circle cx="943.4" cy="1867.4" r="5.6" fill="#fff" stroke="#000" stroke-width="2.1"/>
<circle cx="930.0" cy="1871.4" r="5.6" fill="#fff" stroke="#000" stroke-width="2.1"/>
<circle cx="932.2" cy="1873.3" r="5.6" fill="#fff" stroke="#000" stroke-width="2.1"/>
<circle cx="933.3" cy="1873.4" r="5.6" fill="#fff" stroke="#000" stroke-width="2.1"/>
<circle cx="968.7" cy="1857.4" r="5.6" fill="#f6941e" stroke="#000" stroke-width="2.1"/>
<circle cx="986.0" cy="1856.0" r="5.6" fill="#f6941e" stroke="#000" stroke-width="2.1"/>
<circle cx="982.0" cy="1861.4" r="5.6" fill="#f6941e" stroke="#000" stroke-width="2.1"/>
<circle cx="966.0" cy="1868.7" r="5.6" fill="#f6941e" stroke="#000" stroke-width="2.1"/>
<circle cx="974.5" cy="1873.2" r="5.6" fill="#f6941e" stroke="#000" stroke-width="2.1"/>
<circle cx="976.7" cy="1870.5" r="5.6" fill="#f6941e" stroke="#000" stroke-width="2.1"/>
<circle cx="970.7" cy="1869.4" r="5.6" fill="#f6941e" stroke="#000" stroke-width="2.1"/>
<circle cx="975.4" cy="1870.7" r="5.6" fill="#f6941e" stroke="#000" stroke-width="2.1"/>
<circle cx="982.4" cy="1868.7" r="5.6" fill="#f6941e" stroke="#000" stroke-width="2.1"/>
<circle cx="988.0" cy="1865.4" r="5.6" fill="#f6941e" stroke="#000" stroke-width="2.1"/>
<circle cx="977.6" cy="1868.1" r="5.6" fill="#f6941e" stroke="#000" stroke-width="2.1"/>
<circle cx="1043.0" cy="1826.7" r="5.6" fill="#fff" stroke="#000" stroke-width="2.1"/>
<circle cx="1041.0" cy="1842.9" r="5.6" fill="#fff" stroke="#000" stroke-width="2.1"/>
<circle cx="1055.7" cy="1823.4" r="5.6" fill="#fff" stroke="#000" stroke-width="2.1"/>
<circle cx="1051.7" cy="1834.7" r="5.6" fill="#fff" stroke="#000" stroke-width="2.1"/>
<circle cx="1043.0" cy="1844.7" r="5.6" fill="#fff" stroke="#000" stroke-width="2.1"/>
<circle cx="1055.7" cy="1845.4" r="5.6" fill="#fff" stroke="#000" stroke-width="2.1"/>
<circle cx="1049.7" cy="1860.7" r="5.6" fill="#fff" stroke="#000" stroke-width="2.1"/>
<circle cx="1054.4" cy="1830.0" r="5.6" fill="#fff" stroke="#000" stroke-width="2.1"/>
<circle cx="1044.2" cy="1842.6" r="5.6" fill="#fff" stroke="#000" stroke-width="2.1"/>
<circle cx="1093.0" cy="1799.7" r="5.6" fill="#f6941e" stroke="#000" stroke-width="2.1"/>
<circle cx="1093.0" cy="1830.0" r="5.6" fill="#f6941e" stroke="#000" stroke-width="2.1"/>
<circle cx="1100.0" cy="1832.7" r="5.6" fill="#f6941e" stroke="#000" stroke-width="2.1"/>
<circle cx="1086.4" cy="1838.0" r="5.6" fill="#f6941e" stroke="#000" stroke-width="2.1"/>
<circle cx="1100.4" cy="1838.0" r="5.6" fill="#f6941e" stroke="#000" stroke-width="2.1"/>
<circle cx="1083.0" cy="1835.4" r="5.6" fill="#f6941e" stroke="#000" stroke-width="2.1"/>
<circle cx="1091.3" cy="1846.3" r="5.6" fill="#f6941e" stroke="#000" stroke-width="2.1"/>
<circle cx="1086.6" cy="1851.2" r="5.6" fill="#f6941e" stroke="#000" stroke-width="2.1"/>
<circle cx="1103.7" cy="1836.0" r="5.6" fill="#f6941e" stroke="#000" stroke-width="2.1"/>
<circle cx="1094.4" cy="1848.7" r="5.6" fill="#f6941e" stroke="#000" stroke-width="2.1"/>
<circle cx="1088.4" cy="1848.7" r="5.6" fill="#f6941e" stroke="#000" stroke-width="2.1"/>
<circle cx="1101.4" cy="1834.9" r="5.6" fill="#f6941e" stroke="#000" stroke-width="2.1"/>
<circle cx="1172.4" cy="1871.2" r="5.6" fill="#fff" stroke="#000" stroke-width="2.1"/>
<circle cx="1172.7" cy="1859.4" r="5.6" fill="#fff" stroke="#000" stroke-width="2.1"/>
<circle cx="1158.0" cy="1866.4" r="5.6" fill="#fff" stroke="#000" stroke-width="2.1"/>
<circle cx="1173.1" cy="1870.0" r="5.6" fill="#fff" stroke="#000" stroke-width="2.1"/>
<circle cx="1169.4" cy="1870.7" r="5.6" fill="#fff" stroke="#000" stroke-width="2.1"/>
<circle cx="1175.4" cy="1868.7" r="5.6" fill="#fff" stroke="#000" stroke-width="2.1"/>
<circle cx="1155.3" cy="1868.7" r="5.6" fill="#fff" stroke="#000" stroke-width="2.1"/>
<circle cx="1163.3" cy="1872.7" r="5.6" fill="#fff" stroke="#000" stroke-width="2.1"/>
<circle cx="1209.0" cy="1852.0" r="5.6" fill="#f6941e" stroke="#000" stroke-width="2.1"/>
<circle cx="1216.7" cy="1862.7" r="5.6" fill="#f6941e" stroke="#000" stroke-width="2.1"/>
<circle cx="1202.7" cy="1862.0" r="5.6" fill="#f6941e" stroke="#000" stroke-width="2.1"/>
<circle cx="1203.3" cy="1865.1" r="5.6" fill="#f6941e" stroke="#000" stroke-width="2.1"/>
<circle cx="1211.5" cy="1873.3" r="5.6" fill="#f6941e" stroke="#000" stroke-width="2.1"/>
<circle cx="1207.4" cy="1868.7" r="5.6" fill="#f6941e" stroke="#000" stroke-width="2.1"/>
<circle cx="1208.7" cy="1874.0" r="5.6" fill="#f6941e" stroke="#000" stroke-width="2.1"/>
<circle cx="1201.4" cy="1865.4" r="5.6" fill="#f6941e" stroke="#000" stroke-width="2.1"/>
<path d="M789.25 1583.8V1886.0" stroke="#000" stroke-width="2.4" fill="none"/>
<path d="M778.8 1886.0H1239.5" stroke="#000" stroke-width="2.4" fill="none"/>
<path d="M778.8 1785.7H789.2" stroke="#000" stroke-width="2.2" fill="none"/>
<path d="M778.8 1685.3H789.2" stroke="#000" stroke-width="2.2" fill="none"/>
<path d="M778.8 1585.0H789.2" stroke="#000" stroke-width="2.2" fill="none"/>
<path d="M839.5 1886.0V1896.5" stroke="#000" stroke-width="2.2" fill="none"/>
<path d="M955.3 1886.0V1896.5" stroke="#000" stroke-width="2.2" fill="none"/>
<path d="M1071.1 1886.0V1896.5" stroke="#000" stroke-width="2.2" fill="none"/>
<path d="M1186.9 1886.0V1896.5" stroke="#000" stroke-width="2.2" fill="none"/>
<text x="777.5" y="1894.4" font-size="25" text-anchor="end">0.0</text>
<text x="777.5" y="1794.1" font-size="25" text-anchor="end">0.1</text>
<text x="777.5" y="1693.7" font-size="25" text-anchor="end">0.2</text>
<text x="777.5" y="1593.4" font-size="25" text-anchor="end">0.3</text>
<text x="841.2" y="1927.0" font-size="33" letter-spacing="0.9" text-anchor="middle">Luc</text>
<text x="957.0" y="1927.0" font-size="33" letter-spacing="0.9" text-anchor="middle">Or</text>
<text x="1072.8" y="1927.0" font-size="33" letter-spacing="0.9" text-anchor="middle">Pyr</text>
<text x="1188.6" y="1927.0" font-size="33" letter-spacing="0.9" text-anchor="middle">Sr+Slm</text>
<text transform="translate(145 1274.5) rotate(-90)" font-size="32.8" text-anchor="middle">Size [um<tspan font-size="23.5" dy="-13">2</tspan><tspan dy="13">]</tspan></text>
<text transform="translate(145 1733.5) rotate(-90)" font-size="32.8" text-anchor="middle">Size [um<tspan font-size="23.5" dy="-13">2</tspan><tspan dy="13">]</tspan></text>
<text x="668.6" y="1125.1" font-size="24" text-anchor="end">Interaction ns.</text>
<text x="668.6" y="1155.1" font-size="24" text-anchor="end">Genotype 0.0383</text>
<text x="668.6" y="1185.1" font-size="24" text-anchor="end">Layer &lt;0.0001</text>
<text x="1243.6" y="1125.4" font-size="24" text-anchor="end">Interaction ns.</text>
<text x="1243.6" y="1155.4" font-size="24" text-anchor="end">Genotype ns.</text>
<text x="1243.6" y="1185.4" font-size="24" text-anchor="end">Layer &lt;0.0001</text>
<text x="668.6" y="1583.6" font-size="24" text-anchor="end">Interaction ns.</text>
<text x="668.6" y="1613.6" font-size="24" text-anchor="end">Genotype &lt;0.0001</text>
<text x="668.6" y="1643.6" font-size="24" text-anchor="end">Layer &lt;0.0001</text>
<text x="1243.6" y="1584.0" font-size="24" text-anchor="end">Interaction ns.</text>
<text x="1243.6" y="1614.0" font-size="24" text-anchor="end">Genotype ns.</text>
<text x="1243.6" y="1644.0" font-size="24" text-anchor="end">Layer &lt;0.0001</text>
<text x="288.4" y="1628.7" font-size="24" text-anchor="middle">0.0112</text>
<circle cx="1353.8" cy="1112.8" r="6.9" fill="#fff" stroke="#000" stroke-width="2.4"/>
<circle cx="1353.8" cy="1169" r="6.9" fill="#f6941e" stroke="#000" stroke-width="2.4"/>
<text x="1395" y="1122.3" font-size="29">WT</text>
<text x="1395" y="1176.3" font-size="29.5">CB<tspan font-size="24" dy="9.3">2</tspan><tspan dy="-9.3">R</tspan><tspan font-size="21" dx="6.5" dy="-10.5">-/-</tspan></text>
</svg></body></html>
